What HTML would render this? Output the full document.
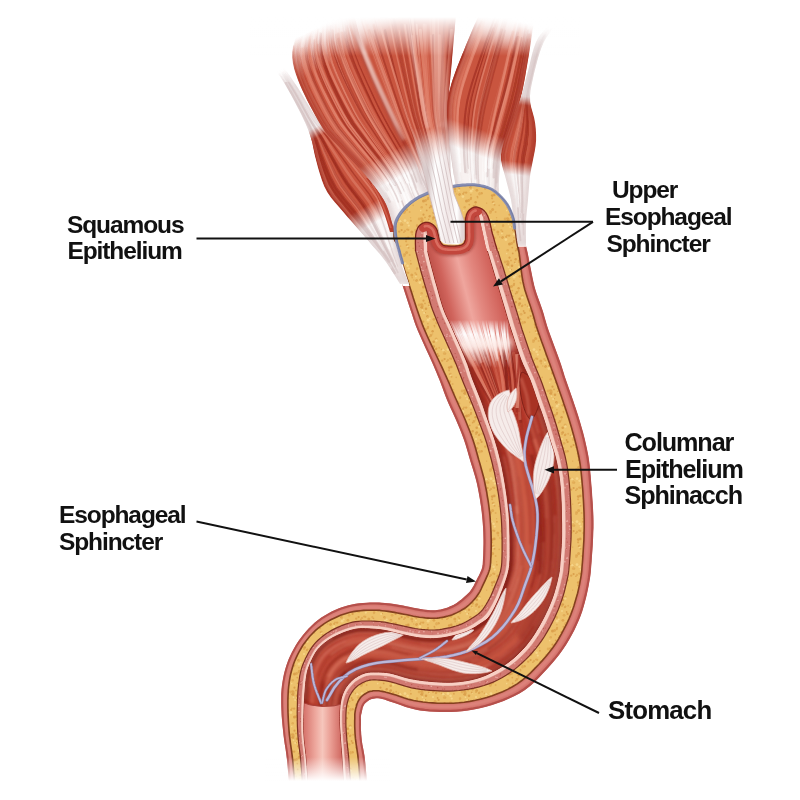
<!DOCTYPE html><html><head><meta charset="utf-8"><title>Esophagus</title><style>html,body{margin:0;padding:0;background:#fff}svg{display:block}</style></head><body><svg width="800" height="800" viewBox="0 0 800 800">
<defs><filter id="b05" filterUnits="userSpaceOnUse" x="0" y="0" width="800" height="800"><feGaussianBlur stdDeviation="0.6"/></filter>
<filter id="b1" filterUnits="userSpaceOnUse" x="0" y="0" width="800" height="800"><feGaussianBlur stdDeviation="1"/></filter>
<filter id="b2" filterUnits="userSpaceOnUse" x="0" y="0" width="800" height="800"><feGaussianBlur stdDeviation="2"/></filter>
<filter id="b3" filterUnits="userSpaceOnUse" x="0" y="0" width="800" height="800"><feGaussianBlur stdDeviation="3.5"/></filter>
<filter id="b6" filterUnits="userSpaceOnUse" x="0" y="0" width="800" height="800"><feGaussianBlur stdDeviation="6"/></filter>
<linearGradient id="fadeBottom" x1="0" y1="757" x2="0" y2="781" gradientUnits="userSpaceOnUse">
<stop offset="0" stop-color="#fff" stop-opacity="0"/><stop offset="1" stop-color="#fff" stop-opacity="1"/></linearGradient>
<clipPath id="lumen"><path d="M425.0 236.0 L425.5 238.7 L425.9 241.3 L426.3 244.0 L426.8 246.8 L427.5 250.0 L428.3 253.6 L429.3 257.6 L430.3 261.7 L431.4 265.9 L432.5 270.0 L433.6 274.0 L434.6 278.0 L435.7 282.0 L436.9 286.0 L438.0 290.0 L439.1 294.0 L440.2 298.0 L441.4 302.0 L442.6 306.0 L444.0 310.0 L445.5 313.8 L447.2 317.5 L449.0 321.3 L450.9 325.4 L453.0 330.0 L455.4 335.5 L458.2 341.8 L461.0 348.2 L463.7 354.5 L466.0 360.0 L467.8 364.6 L469.2 368.7 L470.4 372.5 L471.6 376.2 L473.0 380.0 L474.6 384.0 L476.2 388.0 L477.8 392.0 L479.4 396.0 L481.0 400.0 L482.5 404.0 L483.9 408.0 L485.2 412.0 L486.6 416.0 L488.0 420.0 L489.4 424.0 L490.9 428.0 L492.3 432.0 L493.7 436.0 L495.0 440.0 L496.2 444.0 L497.4 448.0 L498.5 452.0 L499.5 456.0 L500.5 460.0 L501.4 464.0 L502.3 468.0 L503.0 472.0 L503.8 476.0 L504.5 480.0 L505.2 484.0 L505.8 488.0 L506.4 492.0 L507.0 496.0 L507.5 500.0 L508.0 504.0 L508.4 508.0 L508.9 512.0 L509.2 516.0 L509.5 520.0 L509.7 524.0 L509.8 528.0 L509.9 532.0 L510.0 536.0 L510.0 540.0 L510.1 544.1 L510.1 548.4 L510.1 552.6 L510.1 556.5 L510.0 560.0 L509.8 562.9 L509.7 565.3 L509.4 567.4 L509.0 569.6 L508.5 572.0 L507.8 574.6 L507.0 577.3 L506.1 580.1 L505.1 583.0 L504.0 586.0 L502.8 589.3 L501.4 592.7 L500.0 596.3 L498.5 599.7 L497.0 603.0 L495.5 606.1 L493.9 609.2 L492.3 612.0 L490.7 614.7 L489.0 617.0 L487.3 618.8 L485.6 620.3 L483.9 621.5 L482.0 622.7 L480.0 624.0 L477.9 625.4 L475.6 626.9 L473.2 628.3 L470.7 629.7 L468.0 631.0 L465.0 632.2 L461.8 633.3 L458.5 634.3 L455.2 635.2 L452.0 636.0 L449.0 636.7 L446.0 637.3 L443.1 637.8 L440.1 638.2 L437.0 638.5 L433.7 638.6 L430.4 638.7 L427.0 638.6 L423.5 638.3 L420.0 638.0 L416.4 637.5 L412.8 636.8 L409.2 636.1 L405.6 635.3 L402.0 634.5 L398.5 633.7 L395.0 632.8 L391.5 631.9 L388.2 631.1 L385.0 630.5 L382.0 630.0 L379.2 629.6 L376.5 629.4 L373.8 629.2 L371.0 629.0 L368.2 628.8 L365.4 628.7 L362.6 628.6 L359.8 628.7 L357.0 629.0 L354.2 629.5 L351.4 630.2 L348.6 631.0 L345.8 631.9 L343.0 633.0 L340.2 634.2 L337.3 635.5 L334.4 636.9 L331.6 638.4 L329.0 640.0 L326.5 641.7 L324.2 643.5 L322.0 645.4 L319.9 647.4 L318.0 649.5 L316.3 651.8 L314.8 654.3 L313.4 656.9 L312.1 659.5 L311.0 662.0 L310.0 664.3 L309.1 666.5 L308.3 668.8 L307.6 671.2 L307.0 674.0 L306.5 677.2 L306.0 680.6 L305.6 684.3 L305.3 688.1 L305.0 692.0 L304.7 696.0 L304.5 700.1 L304.3 704.4 L304.1 708.7 L304.0 713.0 L303.9 717.3 L303.8 721.6 L303.8 725.9 L303.8 730.4 L304.0 735.0 L304.3 739.6 L304.8 744.3 L305.4 749.1 L306.0 754.3 L306.5 760.0 L307.0 766.4 L307.5 773.3 L308.0 780.5 L308.5 787.8 L309.0 795.0 L344.0 795.0 L343.6 787.8 L343.2 780.3 L342.8 772.9 L342.4 766.0 L342.0 760.0 L341.7 755.0 L341.3 750.7 L341.0 747.0 L340.8 743.5 L340.5 740.0 L340.3 736.5 L340.0 733.1 L339.8 729.9 L339.6 726.9 L339.5 724.0 L339.4 721.3 L339.4 718.8 L339.4 716.5 L339.4 714.2 L339.5 712.0 L339.6 709.9 L339.8 707.8 L339.9 705.8 L340.2 703.9 L340.5 702.0 L340.9 700.1 L341.3 698.2 L341.8 696.4 L342.4 694.7 L343.0 693.0 L343.7 691.5 L344.4 690.0 L345.2 688.7 L346.0 687.3 L347.0 686.0 L348.1 684.6 L349.2 683.3 L350.4 681.9 L351.7 680.7 L353.0 679.5 L354.3 678.4 L355.7 677.5 L357.2 676.6 L358.6 675.7 L360.0 675.0 L361.4 674.3 L362.7 673.8 L364.1 673.3 L365.5 672.8 L367.0 672.5 L368.6 672.2 L370.2 672.1 L371.9 672.0 L373.8 672.0 L376.0 672.0 L378.4 672.0 L381.0 672.1 L383.7 672.2 L386.7 672.5 L390.0 673.0 L393.6 673.9 L397.5 675.0 L401.6 676.3 L405.8 677.5 L410.0 678.5 L414.3 679.3 L418.6 680.0 L423.0 680.6 L427.5 681.1 L432.0 681.5 L436.5 681.8 L441.1 682.1 L445.8 682.2 L450.4 682.2 L455.0 682.0 L459.6 681.6 L464.3 681.0 L469.0 680.2 L473.6 679.2 L478.0 678.0 L482.2 676.6 L486.3 675.0 L490.3 673.1 L494.2 671.1 L498.0 669.0 L501.8 666.7 L505.5 664.3 L509.1 661.7 L512.6 658.9 L516.0 656.0 L519.2 652.9 L522.3 649.7 L525.3 646.4 L528.2 642.8 L531.0 639.0 L533.8 634.9 L536.5 630.5 L539.2 626.0 L541.7 621.4 L544.0 617.0 L546.1 612.7 L548.1 608.5 L549.8 604.4 L551.5 600.2 L553.0 596.0 L554.4 591.7 L555.6 587.2 L556.8 582.8 L557.7 578.7 L558.5 575.0 L559.1 572.0 L559.4 569.7 L559.6 567.5 L559.8 565.0 L560.0 562.0 L560.3 558.1 L560.7 553.8 L561.0 549.1 L561.3 544.4 L561.5 540.0 L561.6 535.9 L561.6 531.9 L561.6 527.9 L561.6 524.0 L561.5 520.0 L561.4 516.0 L561.4 512.0 L561.3 508.0 L561.2 504.0 L561.0 500.0 L560.8 496.0 L560.6 492.0 L560.3 488.0 L559.9 484.0 L559.5 480.0 L559.0 476.0 L558.4 472.0 L557.7 468.0 L556.9 464.0 L556.0 460.0 L555.0 456.0 L553.8 452.0 L552.5 448.0 L551.2 444.0 L550.0 440.0 L548.8 436.0 L547.6 432.0 L546.5 428.0 L545.3 424.0 L544.0 420.0 L542.7 416.0 L541.3 412.0 L539.8 408.0 L538.4 404.0 L537.0 400.0 L535.6 396.0 L534.3 392.0 L532.9 388.0 L531.5 384.0 L530.0 380.0 L528.3 376.2 L526.6 372.5 L524.8 368.7 L522.9 364.6 L521.0 360.0 L519.0 354.5 L516.9 348.2 L514.8 341.8 L512.8 335.5 L511.0 330.0 L509.5 325.4 L508.3 321.3 L507.2 317.5 L506.1 313.8 L505.0 310.0 L503.8 306.0 L502.6 302.0 L501.4 298.0 L500.2 294.0 L499.0 290.0 L497.8 286.0 L496.6 282.0 L495.4 278.0 L494.2 274.0 L493.0 270.0 L491.8 265.9 L490.5 261.7 L489.3 257.6 L488.1 253.6 L487.0 250.0 L486.1 246.8 L485.3 244.0 L484.5 241.3 L483.8 238.7 L483.0 236.0Z"/></clipPath><clipPath id="tubeclip"><path d="M389.0 236.0 L389.6 238.7 L390.1 241.3 L390.6 244.0 L391.2 246.8 L392.0 250.0 L392.9 253.6 L394.0 257.6 L395.1 261.7 L396.3 265.9 L397.5 270.0 L398.7 274.0 L400.0 278.0 L401.4 282.0 L402.7 286.0 L404.0 290.0 L405.3 294.0 L406.6 298.0 L407.9 302.0 L409.2 306.0 L410.5 310.0 L411.8 313.8 L413.0 317.5 L414.2 321.3 L415.7 325.4 L417.5 330.0 L419.9 335.5 L422.7 341.8 L425.6 348.2 L428.5 354.5 L431.0 360.0 L433.0 364.6 L434.8 368.7 L436.4 372.5 L437.9 376.2 L439.5 380.0 L441.0 384.0 L442.5 388.0 L443.9 392.0 L445.4 396.0 L447.0 400.0 L448.7 404.0 L450.5 408.0 L452.4 412.0 L454.2 416.0 L456.0 420.0 L457.7 424.0 L459.4 428.0 L461.0 432.0 L462.5 436.0 L464.0 440.0 L465.3 444.0 L466.5 448.0 L467.7 452.0 L468.8 456.0 L470.0 460.0 L471.2 464.0 L472.5 468.0 L473.7 472.0 L474.9 476.0 L476.0 480.0 L477.0 484.0 L477.8 488.0 L478.6 492.0 L479.3 496.0 L480.0 500.0 L480.6 504.0 L481.2 508.0 L481.7 512.0 L482.1 516.0 L482.5 520.0 L482.8 524.0 L483.1 528.1 L483.3 532.1 L483.4 536.1 L483.5 540.0 L483.5 543.9 L483.4 547.7 L483.3 551.5 L483.2 554.9 L483.0 558.0 L482.9 560.5 L482.8 562.6 L482.7 564.4 L482.4 566.1 L482.0 568.0 L481.4 570.0 L480.5 571.9 L479.6 573.9 L478.6 575.9 L477.5 578.0 L476.4 580.3 L475.1 582.8 L473.8 585.4 L472.4 587.8 L471.0 590.0 L469.5 591.9 L467.9 593.6 L466.3 595.1 L464.6 596.6 L463.0 598.0 L461.4 599.4 L459.8 600.6 L458.3 601.8 L456.7 603.0 L455.0 604.0 L453.3 605.0 L451.5 605.8 L449.6 606.6 L447.8 607.4 L446.0 608.0 L444.2 608.6 L442.4 609.0 L440.6 609.4 L438.8 609.8 L437.0 610.0 L435.3 610.2 L433.6 610.2 L431.9 610.2 L430.1 610.2 L428.0 610.0 L425.7 609.7 L423.2 609.4 L420.5 609.0 L417.8 608.5 L415.0 608.0 L412.1 607.4 L409.1 606.8 L406.1 606.2 L403.0 605.6 L400.0 605.0 L397.0 604.5 L394.0 604.1 L391.0 603.6 L388.0 603.3 L385.0 603.0 L382.0 602.8 L379.1 602.6 L376.2 602.4 L373.2 602.4 L370.0 602.5 L366.6 602.7 L363.0 603.0 L359.3 603.3 L355.6 603.8 L352.0 604.5 L348.5 605.3 L345.1 606.2 L341.8 607.3 L338.4 608.6 L335.0 610.0 L331.6 611.6 L328.1 613.4 L324.7 615.4 L321.3 617.6 L318.0 620.0 L314.8 622.6 L311.7 625.5 L308.6 628.6 L305.7 631.8 L303.0 635.0 L300.5 638.3 L298.1 641.6 L295.9 645.0 L293.9 648.5 L292.0 652.0 L290.3 655.5 L288.7 659.0 L287.4 662.6 L286.1 666.3 L285.0 670.0 L284.0 673.8 L283.2 677.8 L282.5 681.8 L281.9 685.8 L281.5 690.0 L281.2 694.3 L281.2 698.6 L281.2 703.0 L281.3 707.5 L281.5 712.0 L281.7 716.5 L282.1 721.0 L282.5 725.6 L283.0 730.3 L283.5 735.0 L284.1 739.7 L284.8 744.4 L285.6 749.2 L286.3 754.3 L287.0 760.0 L287.6 766.4 L288.2 773.3 L288.8 780.5 L289.4 787.8 L290.0 795.0 L368.0 795.0 L367.4 787.7 L366.8 780.2 L366.2 772.8 L365.6 765.9 L365.0 760.0 L364.4 755.2 L363.7 751.3 L363.1 748.0 L362.5 744.9 L362.0 742.0 L361.7 739.2 L361.4 736.6 L361.2 734.2 L361.1 732.0 L361.0 730.0 L360.9 728.1 L360.9 726.4 L361.0 724.9 L361.0 723.4 L361.0 722.0 L361.0 720.7 L361.0 719.4 L360.9 718.2 L360.9 717.1 L361.0 716.0 L361.1 714.9 L361.3 713.9 L361.6 712.9 L361.8 711.9 L362.0 711.0 L362.2 710.1 L362.4 709.3 L362.5 708.5 L362.7 707.8 L363.0 707.0 L363.3 706.3 L363.7 705.5 L364.1 704.8 L364.5 704.1 L365.0 703.5 L365.5 702.9 L366.1 702.4 L366.7 701.9 L367.3 701.5 L368.0 701.0 L368.7 700.5 L369.3 700.1 L370.1 699.7 L370.9 699.3 L372.0 699.0 L373.3 698.7 L374.7 698.5 L376.2 698.3 L378.0 698.3 L380.0 698.5 L382.1 699.0 L384.4 699.6 L386.9 700.5 L389.7 701.4 L393.0 702.5 L396.8 703.8 L401.0 705.3 L405.6 706.9 L410.3 708.3 L415.0 709.5 L419.8 710.4 L424.6 711.0 L429.6 711.5 L434.8 711.8 L440.0 712.0 L445.4 712.1 L450.9 712.0 L456.5 711.7 L462.2 711.2 L468.0 710.5 L473.9 709.5 L480.0 708.2 L486.1 706.7 L492.2 704.9 L498.0 703.0 L503.7 700.9 L509.2 698.6 L514.6 696.1 L519.9 693.3 L525.0 690.0 L529.9 686.2 L534.7 681.9 L539.4 677.3 L543.8 672.6 L548.0 668.0 L552.0 663.5 L555.8 659.0 L559.4 654.4 L562.8 649.7 L566.0 645.0 L569.0 640.1 L571.8 635.0 L574.5 629.9 L576.9 624.8 L579.0 620.0 L580.8 615.4 L582.4 610.9 L583.7 606.5 L584.9 602.2 L586.0 598.0 L587.0 593.8 L587.9 589.6 L588.7 585.5 L589.4 581.6 L590.0 578.0 L590.5 574.8 L590.8 572.0 L591.0 569.3 L591.2 566.4 L591.5 563.0 L591.8 558.9 L592.1 554.2 L592.5 549.4 L592.8 544.5 L593.0 540.0 L593.2 535.8 L593.3 531.8 L593.5 527.9 L593.5 524.0 L593.5 520.0 L593.4 516.0 L593.2 512.0 L593.0 508.0 L592.8 504.0 L592.5 500.0 L592.2 496.0 L592.0 492.0 L591.7 488.0 L591.3 484.0 L591.0 480.0 L590.7 476.0 L590.3 472.0 L590.0 468.0 L589.5 464.0 L589.0 460.0 L588.4 456.0 L587.6 452.0 L586.8 448.0 L585.9 444.0 L585.0 440.0 L584.0 436.0 L583.0 432.0 L581.8 428.0 L580.7 424.0 L579.5 420.0 L578.3 416.0 L577.0 412.0 L575.7 408.0 L574.3 404.0 L573.0 400.0 L571.6 396.0 L570.2 392.0 L568.8 388.0 L567.4 384.0 L566.0 380.0 L564.7 376.2 L563.6 372.5 L562.4 368.7 L561.1 364.6 L559.5 360.0 L557.5 354.5 L555.2 348.2 L552.8 341.8 L550.5 335.5 L548.5 330.0 L547.0 325.4 L545.8 321.3 L544.7 317.5 L543.7 313.8 L542.5 310.0 L541.1 306.0 L539.7 302.0 L538.2 298.0 L536.8 294.0 L535.5 290.0 L534.4 286.0 L533.5 282.0 L532.6 278.0 L531.8 274.0 L531.0 270.0 L530.2 265.9 L529.4 261.7 L528.6 257.6 L527.8 253.6 L527.0 250.0 L526.2 246.8 L525.4 244.0 L524.6 241.3 L523.8 238.7 L523.0 236.0Z"/></clipPath>
<pattern id="pYel" width="43" height="43" patternUnits="userSpaceOnUse"><rect width="43" height="43" fill="#edc16c"/><circle cx="13.9" cy="6.5" r="1.2" fill="#dfa650"/><circle cx="35.3" cy="4.0" r="1.2" fill="#e0a852"/><circle cx="9.2" cy="3.7" r="1.0" fill="#e3ae58"/><circle cx="3.9" cy="18.3" r="1.4" fill="#dfa650"/><circle cx="40.7" cy="27.1" r="1.2" fill="#dfa650"/><circle cx="24.8" cy="17.1" r="1.5" fill="#dfa650"/><circle cx="23.9" cy="5.7" r="1.0" fill="#e0a852"/><circle cx="5.1" cy="13.3" r="1.4" fill="#e3ae58"/><circle cx="4.4" cy="24.6" r="0.9" fill="#dfa650"/><circle cx="23.6" cy="2.7" r="0.7" fill="#e3ae58"/><circle cx="21.3" cy="22.9" r="1.3" fill="#dba04c"/><circle cx="25.2" cy="19.5" r="0.9" fill="#e3ae58"/><circle cx="30.1" cy="10.5" r="1.2" fill="#e0a852"/><circle cx="21.3" cy="14.8" r="1.1" fill="#e0a852"/><circle cx="42.1" cy="5.1" r="1.0" fill="#f6d588"/><circle cx="-0.9" cy="5.1" r="1.0" fill="#f6d588"/><circle cx="6.5" cy="21.0" r="0.7" fill="#dfa650"/><circle cx="32.9" cy="24.6" r="1.4" fill="#f6d588"/><circle cx="14.6" cy="15.1" r="1.1" fill="#dba04c"/><circle cx="3.0" cy="4.0" r="0.9" fill="#dfa650"/><circle cx="2.6" cy="30.2" r="1.2" fill="#dba04c"/><circle cx="12.2" cy="16.6" r="1.2" fill="#dfa650"/><circle cx="40.4" cy="15.3" r="1.2" fill="#dba04c"/><circle cx="2.5" cy="33.0" r="0.8" fill="#e3ae58"/><circle cx="17.1" cy="39.4" r="1.1" fill="#e3ae58"/><circle cx="19.3" cy="23.6" r="1.4" fill="#dba04c"/><circle cx="37.2" cy="12.0" r="1.0" fill="#f6d588"/><circle cx="29.4" cy="16.4" r="0.9" fill="#dfa650"/><circle cx="7.6" cy="10.0" r="0.9" fill="#dba04c"/><circle cx="35.7" cy="7.8" r="0.9" fill="#e3ae58"/><circle cx="18.0" cy="15.9" r="1.2" fill="#e3ae58"/><circle cx="29.7" cy="22.2" r="1.2" fill="#dfa650"/><circle cx="19.6" cy="37.5" r="1.5" fill="#e0a852"/><circle cx="16.9" cy="17.2" r="0.8" fill="#dba04c"/><circle cx="2.7" cy="2.9" r="0.9" fill="#e3ae58"/><circle cx="4.7" cy="25.8" r="0.8" fill="#e0a852"/><circle cx="6.5" cy="4.4" r="1.0" fill="#dfa650"/><circle cx="3.0" cy="8.9" r="1.0" fill="#f6d588"/><circle cx="41.1" cy="25.9" r="1.1" fill="#dfa650"/><circle cx="36.5" cy="42.7" r="1.1" fill="#dba04c"/><circle cx="36.5" cy="-0.3" r="1.1" fill="#dba04c"/><circle cx="13.4" cy="6.2" r="1.3" fill="#f6d588"/><circle cx="20.6" cy="29.8" r="1.1" fill="#e3ae58"/><circle cx="40.9" cy="22.7" r="0.8" fill="#e0a852"/><circle cx="39.3" cy="32.6" r="0.9" fill="#dfa650"/><circle cx="29.9" cy="11.2" r="1.0" fill="#e3ae58"/><circle cx="15.3" cy="9.6" r="1.1" fill="#e0a852"/><circle cx="14.2" cy="9.6" r="1.3" fill="#e3ae58"/><circle cx="34.7" cy="35.2" r="1.3" fill="#e3ae58"/><circle cx="8.6" cy="21.2" r="1.3" fill="#dfa650"/><circle cx="34.0" cy="20.3" r="0.9" fill="#e0a852"/><circle cx="41.1" cy="19.2" r="1.4" fill="#f6d588"/><circle cx="41.1" cy="15.7" r="0.9" fill="#e3ae58"/><circle cx="20.2" cy="14.5" r="1.1" fill="#e0a852"/><circle cx="36.1" cy="20.6" r="1.2" fill="#dfa650"/><circle cx="35.9" cy="5.2" r="1.0" fill="#e3ae58"/><circle cx="20.6" cy="7.7" r="1.3" fill="#f6d588"/><circle cx="3.7" cy="40.7" r="1.3" fill="#dba04c"/><circle cx="17.3" cy="40.7" r="1.3" fill="#e3ae58"/><circle cx="42.7" cy="1.2" r="1.2" fill="#dba04c"/><circle cx="-0.3" cy="1.2" r="1.2" fill="#dba04c"/><circle cx="34.7" cy="6.3" r="1.4" fill="#dba04c"/><circle cx="28.3" cy="15.1" r="1.1" fill="#e3ae58"/><circle cx="0.9" cy="34.4" r="1.3" fill="#dfa650"/><circle cx="43.9" cy="34.4" r="1.3" fill="#dfa650"/><circle cx="22.6" cy="40.1" r="1.0" fill="#e3ae58"/><circle cx="35.5" cy="9.1" r="0.9" fill="#f6d588"/><circle cx="21.5" cy="32.8" r="1.0" fill="#e0a852"/><circle cx="18.0" cy="5.6" r="1.4" fill="#f6d588"/><circle cx="38.6" cy="28.5" r="1.4" fill="#e0a852"/><circle cx="18.1" cy="39.5" r="1.1" fill="#e0a852"/><circle cx="6.5" cy="22.0" r="1.4" fill="#e3ae58"/><circle cx="26.2" cy="33.4" r="0.8" fill="#e3ae58"/><circle cx="20.4" cy="31.2" r="1.1" fill="#f6d588"/><circle cx="29.3" cy="22.8" r="1.1" fill="#dfa650"/><circle cx="38.0" cy="2.4" r="0.9" fill="#dfa650"/><circle cx="33.2" cy="21.8" r="1.1" fill="#dfa650"/><circle cx="19.1" cy="26.3" r="1.1" fill="#e0a852"/><circle cx="8.6" cy="11.9" r="1.1" fill="#dba04c"/><circle cx="21.8" cy="10.6" r="1.1" fill="#f6d588"/><circle cx="39.7" cy="38.4" r="0.9" fill="#dba04c"/><circle cx="5.9" cy="5.2" r="1.1" fill="#dfa650"/><circle cx="28.9" cy="18.4" r="0.9" fill="#f6d588"/><circle cx="33.7" cy="38.6" r="0.8" fill="#f6d588"/><circle cx="6.1" cy="38.0" r="1.5" fill="#e3ae58"/><circle cx="32.1" cy="4.0" r="1.4" fill="#e3ae58"/><circle cx="42.6" cy="35.8" r="0.8" fill="#dba04c"/><circle cx="-0.4" cy="35.8" r="0.8" fill="#dba04c"/><circle cx="42.7" cy="17.4" r="1.0" fill="#f6d588"/><circle cx="-0.3" cy="17.4" r="1.0" fill="#f6d588"/><circle cx="13.7" cy="31.1" r="0.7" fill="#e0a852"/><circle cx="19.7" cy="30.2" r="1.0" fill="#e0a852"/><circle cx="26.8" cy="22.0" r="0.8" fill="#e3ae58"/><circle cx="41.8" cy="4.5" r="0.9" fill="#dfa650"/><circle cx="39.0" cy="7.8" r="1.3" fill="#dba04c"/><circle cx="36.5" cy="29.1" r="1.5" fill="#dba04c"/><circle cx="6.4" cy="39.5" r="1.2" fill="#f6d588"/><circle cx="3.8" cy="2.5" r="1.3" fill="#dba04c"/><circle cx="38.5" cy="11.6" r="0.7" fill="#dfa650"/><circle cx="34.5" cy="3.6" r="1.4" fill="#dfa650"/><circle cx="11.4" cy="5.2" r="0.7" fill="#e0a852"/></pattern>
<pattern id="pTex" width="37" height="37" patternUnits="userSpaceOnUse"><rect width="37" height="37" fill="#d27a72"/><circle cx="15.5" cy="33.9" r="0.7" fill="#e8a8a0"/><circle cx="19.5" cy="8.8" r="0.5" fill="#bc5850"/><circle cx="9.7" cy="6.7" r="0.9" fill="#eab0a8"/><circle cx="19.7" cy="7.6" r="0.6" fill="#bc5850"/><circle cx="10.0" cy="29.7" r="0.9" fill="#e8a8a0"/><circle cx="0.6" cy="27.1" r="0.7" fill="#bc5850"/><circle cx="37.6" cy="27.1" r="0.7" fill="#bc5850"/><circle cx="19.0" cy="9.1" r="0.6" fill="#c4625a"/><circle cx="24.3" cy="20.2" r="0.8" fill="#eab0a8"/><circle cx="25.4" cy="36.4" r="0.6" fill="#bc5850"/><circle cx="15.0" cy="12.9" r="0.4" fill="#bc5850"/><circle cx="0.5" cy="23.1" r="0.8" fill="#c4625a"/><circle cx="37.5" cy="23.1" r="0.8" fill="#c4625a"/><circle cx="6.0" cy="3.1" r="0.8" fill="#eab0a8"/><circle cx="22.2" cy="25.6" r="0.4" fill="#bc5850"/><circle cx="5.8" cy="16.5" r="0.5" fill="#eab0a8"/><circle cx="36.0" cy="20.2" r="0.5" fill="#eab0a8"/><circle cx="8.1" cy="6.8" r="0.6" fill="#e8a8a0"/><circle cx="17.6" cy="18.6" r="0.5" fill="#e8a8a0"/><circle cx="3.4" cy="30.2" r="0.5" fill="#e8a8a0"/><circle cx="14.6" cy="11.1" r="0.7" fill="#e8a8a0"/><circle cx="21.7" cy="19.6" r="0.8" fill="#c4625a"/><circle cx="28.3" cy="26.7" r="0.6" fill="#eab0a8"/><circle cx="26.8" cy="23.8" r="0.4" fill="#c4625a"/><circle cx="27.2" cy="30.1" r="0.5" fill="#e8a8a0"/><circle cx="30.6" cy="21.6" r="0.8" fill="#bc5850"/><circle cx="3.1" cy="1.5" r="0.7" fill="#e8a8a0"/><circle cx="13.9" cy="16.7" r="0.4" fill="#e8a8a0"/><circle cx="23.2" cy="25.2" r="0.6" fill="#e8a8a0"/><circle cx="16.9" cy="2.6" r="0.9" fill="#e8a8a0"/><circle cx="24.4" cy="2.4" r="0.8" fill="#eab0a8"/><circle cx="29.9" cy="31.3" r="0.5" fill="#bc5850"/><circle cx="8.5" cy="24.0" r="0.6" fill="#c4625a"/><circle cx="2.8" cy="33.7" r="0.5" fill="#e8a8a0"/><circle cx="22.8" cy="23.8" r="0.4" fill="#bc5850"/><circle cx="12.3" cy="24.1" r="0.7" fill="#bc5850"/><circle cx="0.5" cy="2.2" r="0.5" fill="#e8a8a0"/><circle cx="37.5" cy="2.2" r="0.5" fill="#e8a8a0"/><circle cx="25.6" cy="25.0" r="0.5" fill="#eab0a8"/><circle cx="17.2" cy="17.3" r="0.5" fill="#bc5850"/><circle cx="11.5" cy="3.2" r="0.6" fill="#eab0a8"/><circle cx="17.0" cy="30.3" r="0.9" fill="#c4625a"/><circle cx="36.8" cy="14.3" r="0.9" fill="#bc5850"/><circle cx="-0.2" cy="14.3" r="0.9" fill="#bc5850"/><circle cx="2.8" cy="3.3" r="0.8" fill="#eab0a8"/><circle cx="35.3" cy="4.9" r="0.8" fill="#eab0a8"/><circle cx="32.8" cy="26.0" r="0.5" fill="#c4625a"/><circle cx="14.6" cy="5.9" r="0.9" fill="#c4625a"/><circle cx="15.0" cy="26.9" r="0.6" fill="#c4625a"/><circle cx="11.7" cy="31.1" r="0.4" fill="#eab0a8"/><circle cx="31.0" cy="4.4" r="0.9" fill="#e8a8a0"/><circle cx="33.4" cy="10.7" r="0.6" fill="#c4625a"/><circle cx="14.4" cy="32.2" r="0.4" fill="#c4625a"/><circle cx="28.0" cy="31.6" r="0.5" fill="#e8a8a0"/><circle cx="30.9" cy="10.6" r="0.9" fill="#bc5850"/><circle cx="35.9" cy="16.1" r="0.6" fill="#eab0a8"/><circle cx="29.1" cy="15.8" r="0.4" fill="#c4625a"/><circle cx="33.8" cy="34.8" r="0.7" fill="#e8a8a0"/><circle cx="1.8" cy="27.1" r="0.6" fill="#bc5850"/><circle cx="23.8" cy="10.6" r="0.4" fill="#bc5850"/><circle cx="6.3" cy="15.4" r="0.5" fill="#eab0a8"/><circle cx="27.3" cy="36.1" r="0.5" fill="#bc5850"/><circle cx="11.1" cy="20.6" r="0.6" fill="#bc5850"/><circle cx="23.8" cy="2.8" r="0.7" fill="#c4625a"/><circle cx="20.4" cy="16.8" r="0.6" fill="#c4625a"/><circle cx="15.8" cy="20.3" r="0.5" fill="#bc5850"/><circle cx="12.7" cy="3.4" r="0.5" fill="#eab0a8"/><circle cx="29.9" cy="7.5" r="0.4" fill="#c4625a"/><circle cx="14.2" cy="27.6" r="0.5" fill="#eab0a8"/><circle cx="12.5" cy="2.3" r="0.5" fill="#eab0a8"/><circle cx="4.7" cy="18.6" r="0.7" fill="#bc5850"/><circle cx="3.4" cy="33.2" r="0.6" fill="#c4625a"/><circle cx="16.0" cy="11.5" r="0.8" fill="#e8a8a0"/><circle cx="4.7" cy="15.7" r="0.8" fill="#c4625a"/><circle cx="35.8" cy="18.1" r="0.4" fill="#c4625a"/><circle cx="36.0" cy="9.2" r="0.5" fill="#bc5850"/><circle cx="5.6" cy="36.0" r="0.5" fill="#c4625a"/><circle cx="3.1" cy="28.7" r="0.4" fill="#bc5850"/><circle cx="8.6" cy="34.0" r="0.7" fill="#eab0a8"/><circle cx="35.6" cy="23.2" r="0.7" fill="#c4625a"/><circle cx="25.8" cy="4.1" r="0.4" fill="#bc5850"/><circle cx="14.4" cy="8.3" r="0.7" fill="#e8a8a0"/><circle cx="19.9" cy="36.9" r="0.5" fill="#eab0a8"/><circle cx="19.9" cy="-0.1" r="0.5" fill="#eab0a8"/><circle cx="23.8" cy="32.7" r="0.6" fill="#bc5850"/><circle cx="20.2" cy="1.1" r="0.6" fill="#eab0a8"/><circle cx="2.0" cy="7.2" r="0.8" fill="#c4625a"/><circle cx="3.0" cy="8.4" r="0.6" fill="#eab0a8"/><circle cx="8.4" cy="1.3" r="0.6" fill="#c4625a"/><circle cx="13.4" cy="14.7" r="0.4" fill="#eab0a8"/><circle cx="27.3" cy="18.7" r="0.5" fill="#bc5850"/><circle cx="11.5" cy="30.3" r="0.5" fill="#bc5850"/><circle cx="9.8" cy="32.9" r="0.5" fill="#c4625a"/><circle cx="22.6" cy="33.2" r="0.6" fill="#e8a8a0"/><circle cx="35.1" cy="5.4" r="0.6" fill="#bc5850"/></pattern>
<linearGradient id="lumTop" x1="430" y1="280" x2="500" y2="262" gradientUnits="userSpaceOnUse">
<stop offset="0" stop-color="#b64840"/><stop offset="0.18" stop-color="#d0645c"/><stop offset="0.44" stop-color="#efa69e"/><stop offset="0.6" stop-color="#e38880"/><stop offset="0.85" stop-color="#d2645c"/><stop offset="1" stop-color="#c04e46"/></linearGradient>
<linearGradient id="lumTopFade" x1="0" y1="306" x2="0" y2="358" gradientUnits="userSpaceOnUse">
<stop offset="0" stop-color="#fff" stop-opacity="1"/><stop offset="0.45" stop-color="#fff" stop-opacity="1"/><stop offset="1" stop-color="#fff" stop-opacity="0"/></linearGradient>
<mask id="mTop"><rect x="380" y="200" width="200" height="160" fill="url(#lumTopFade)"/></mask>
<linearGradient id="gWf" x1="0" y1="320" x2="0" y2="368" gradientUnits="userSpaceOnUse"><stop offset="0" stop-color="#fff" stop-opacity="0"/><stop offset="0.3" stop-color="#fff" stop-opacity="0.95"/><stop offset="0.5" stop-color="#fdeeea" stop-opacity="0.85"/><stop offset="1" stop-color="#f6d6d0" stop-opacity="0"/></linearGradient>
<linearGradient id="lumBot" x1="304" y1="0" x2="341" y2="0" gradientUnits="userSpaceOnUse">
<stop offset="0" stop-color="#d6746c"/><stop offset="0.3" stop-color="#eda69c"/><stop offset="0.5" stop-color="#f6c6bc"/><stop offset="0.72" stop-color="#ea9e94"/><stop offset="1" stop-color="#d26c64"/></linearGradient>
<linearGradient id="gA_mid" gradientUnits="userSpaceOnUse" x1="285.0" y1="70.0" x2="400.0" y2="280.0"><stop offset="0.00" stop-color="#f8f2f1" stop-opacity="0"/><stop offset="0.08" stop-color="#f8f2f1"/><stop offset="0.27" stop-color="#f8f2f1"/><stop offset="0.31" stop-color="#c9553f"/><stop offset="0.66" stop-color="#c9553f"/><stop offset="0.74" stop-color="#f8f2f1"/><stop offset="1.00" stop-color="#f8f2f1"/></linearGradient>
<linearGradient id="gA_dark" gradientUnits="userSpaceOnUse" x1="285.0" y1="70.0" x2="400.0" y2="280.0"><stop offset="0.00" stop-color="#d6c4c4" stop-opacity="0"/><stop offset="0.08" stop-color="#d6c4c4"/><stop offset="0.27" stop-color="#d6c4c4"/><stop offset="0.31" stop-color="#a02e20"/><stop offset="0.66" stop-color="#a02e20"/><stop offset="0.74" stop-color="#d6c4c4"/><stop offset="1.00" stop-color="#d6c4c4"/></linearGradient>
<linearGradient id="gA_lite" gradientUnits="userSpaceOnUse" x1="285.0" y1="70.0" x2="400.0" y2="280.0"><stop offset="0.00" stop-color="#ffffff" stop-opacity="0"/><stop offset="0.08" stop-color="#ffffff"/><stop offset="0.27" stop-color="#ffffff"/><stop offset="0.31" stop-color="#e58a74"/><stop offset="0.66" stop-color="#e58a74"/><stop offset="0.74" stop-color="#ffffff"/><stop offset="1.00" stop-color="#ffffff"/></linearGradient>
<clipPath id="cA"><path d="M270.0 62.0 L273.7 67.4 L277.4 72.7 L281.1 78.1 L284.6 83.6 L287.9 89.2 L291.1 94.9 L294.2 100.7 L297.2 106.4 L300.2 112.3 L303.0 118.1 L305.8 124.0 L308.3 130.0 L310.4 136.2 L312.2 142.5 L313.5 148.9 L314.8 155.3 L316.4 161.6 L318.1 167.9 L319.9 174.1 L321.9 180.3 L324.3 186.4 L327.3 192.2 L330.9 197.6 L335.0 202.6 L339.4 207.5 L343.7 212.4 L347.9 217.4 L352.2 222.3 L356.5 227.2 L360.8 232.1 L365.1 237.0 L369.4 241.9 L373.6 246.9 L377.9 251.8 L382.0 256.8 L386.0 262.0 L389.7 267.4 L393.2 272.9 L396.6 278.4 L400.0 284.0 L409.0 284.0 L406.5 277.8 L404.0 271.7 L401.8 265.4 L400.0 258.9 L398.5 252.5 L397.2 245.9 L396.2 239.4 L395.4 232.7 L394.7 226.1 L393.6 219.5 L392.7 212.9 L391.6 206.4 L389.7 200.0 L386.9 194.0 L383.5 188.2 L379.7 182.8 L375.6 177.5 L371.4 172.3 L367.1 167.3 L362.7 162.3 L358.1 157.5 L353.4 152.7 L348.7 148.0 L343.9 143.4 L339.1 138.8 L334.3 134.2 L329.4 129.6 L324.0 125.8 L319.1 121.3 L315.1 115.9 L311.5 110.3 L308.1 104.6 L304.7 98.9 L301.3 93.2 L297.7 87.6 L294.0 82.0 L290.3 76.5 L286.5 71.0 L282.8 65.5 L279.0 60.0Z"/></clipPath>
<linearGradient id="gC_mid" gradientUnits="userSpaceOnUse" x1="360.0" y1="10.0" x2="504.0" y2="203.0"><stop offset="0.00" stop-color="#c9553f" stop-opacity="0"/><stop offset="0.14" stop-color="#c9553f"/><stop offset="0.57" stop-color="#c9553f"/><stop offset="0.70" stop-color="#f8f2f1"/><stop offset="1.00" stop-color="#f8f2f1"/></linearGradient>
<linearGradient id="gC_dark" gradientUnits="userSpaceOnUse" x1="360.0" y1="10.0" x2="504.0" y2="203.0"><stop offset="0.00" stop-color="#a02e20" stop-opacity="0"/><stop offset="0.14" stop-color="#a02e20"/><stop offset="0.57" stop-color="#a02e20"/><stop offset="0.70" stop-color="#d6c4c4"/><stop offset="1.00" stop-color="#d6c4c4"/></linearGradient>
<linearGradient id="gC_lite" gradientUnits="userSpaceOnUse" x1="360.0" y1="10.0" x2="504.0" y2="203.0"><stop offset="0.00" stop-color="#e58a74" stop-opacity="0"/><stop offset="0.14" stop-color="#e58a74"/><stop offset="0.57" stop-color="#e58a74"/><stop offset="0.70" stop-color="#ffffff"/><stop offset="1.00" stop-color="#ffffff"/></linearGradient>
<clipPath id="cC"><path d="M344.0 14.0 L346.1 19.5 L348.2 24.9 L350.2 30.4 L352.3 35.9 L354.5 41.4 L356.7 46.8 L358.9 52.2 L361.3 57.6 L363.6 62.9 L366.1 68.3 L368.5 73.6 L370.9 78.9 L373.4 84.2 L375.8 89.6 L378.2 94.9 L380.6 100.2 L383.0 105.6 L385.4 110.9 L387.9 116.3 L390.3 121.6 L392.9 126.8 L395.5 132.1 L398.1 137.3 L400.8 142.5 L403.5 147.7 L406.2 152.9 L409.0 158.1 L411.8 163.2 L414.7 168.3 L417.8 173.3 L420.7 178.4 L423.3 183.6 L425.7 189.0 L428.0 194.4 L430.1 199.8 L432.1 205.3 L433.8 210.9 L435.3 216.6 L436.6 222.3 L438.0 228.0 L463.0 228.0 L462.8 222.6 L462.4 217.2 L461.0 212.0 L458.9 207.0 L456.7 202.1 L454.9 197.0 L453.1 191.9 L451.8 186.6 L451.0 181.3 L450.7 175.9 L450.5 170.5 L450.4 165.1 L450.3 159.6 L450.3 154.2 L450.2 148.8 L450.1 143.4 L449.9 138.0 L449.5 132.6 L448.9 127.2 L448.3 121.9 L448.0 116.5 L448.0 111.0 L448.2 105.6 L448.5 100.2 L448.9 94.8 L449.3 89.4 L449.8 84.1 L450.3 78.7 L450.8 73.3 L451.3 67.9 L451.8 62.5 L452.2 57.1 L452.7 51.7 L453.2 46.3 L453.6 40.9 L454.1 35.6 L454.6 30.2 L455.1 24.8 L455.5 19.4 L456.0 14.0Z"/></clipPath>
<linearGradient id="gB_mid" gradientUnits="userSpaceOnUse" x1="318.0" y1="20.0" x2="412.0" y2="206.0"><stop offset="0.03" stop-color="#c9553f" stop-opacity="0"/><stop offset="0.22" stop-color="#c9553f"/><stop offset="0.72" stop-color="#c9553f"/><stop offset="0.85" stop-color="#f8f2f1"/><stop offset="1.00" stop-color="#f8f2f1"/></linearGradient>
<linearGradient id="gB_dark" gradientUnits="userSpaceOnUse" x1="318.0" y1="20.0" x2="412.0" y2="206.0"><stop offset="0.03" stop-color="#a02e20" stop-opacity="0"/><stop offset="0.22" stop-color="#a02e20"/><stop offset="0.72" stop-color="#a02e20"/><stop offset="0.85" stop-color="#d6c4c4"/><stop offset="1.00" stop-color="#d6c4c4"/></linearGradient>
<linearGradient id="gB_lite" gradientUnits="userSpaceOnUse" x1="318.0" y1="20.0" x2="412.0" y2="206.0"><stop offset="0.03" stop-color="#e58a74" stop-opacity="0"/><stop offset="0.22" stop-color="#e58a74"/><stop offset="0.72" stop-color="#e58a74"/><stop offset="0.85" stop-color="#ffffff"/><stop offset="1.00" stop-color="#ffffff"/></linearGradient>
<clipPath id="cB"><path d="M298.0 30.0 L296.4 35.5 L294.6 40.9 L293.0 46.3 L292.1 52.0 L292.2 57.7 L292.9 63.3 L294.2 68.9 L295.9 74.3 L297.9 79.7 L300.0 85.0 L302.3 90.2 L304.7 95.3 L307.2 100.5 L309.8 105.5 L312.5 110.6 L315.2 115.6 L318.0 120.5 L321.0 125.4 L324.1 130.2 L327.6 134.7 L331.4 139.0 L335.3 143.0 L339.3 147.1 L343.2 151.3 L347.1 155.5 L351.0 159.6 L355.0 163.7 L358.9 167.9 L362.7 172.1 L366.5 176.4 L370.1 180.8 L373.7 185.2 L377.1 189.8 L380.4 194.4 L383.5 199.2 L386.1 204.3 L388.2 209.6 L389.9 215.0 L391.4 220.5 L393.0 226.0 L430.0 196.0 L427.6 191.7 L425.1 187.4 L423.0 183.0 L421.4 178.3 L419.9 173.5 L418.4 168.8 L416.7 164.2 L414.8 159.6 L412.7 155.2 L410.5 150.7 L408.2 146.4 L405.8 142.0 L403.5 137.6 L401.2 133.3 L398.9 128.9 L396.7 124.4 L394.6 120.0 L392.5 115.5 L390.4 111.0 L388.4 106.5 L386.3 102.0 L384.3 97.5 L382.3 93.0 L380.3 88.4 L378.3 83.9 L376.3 79.4 L374.3 74.9 L372.3 70.4 L370.3 65.8 L368.4 61.3 L366.5 56.7 L364.8 52.1 L363.1 47.4 L361.6 42.7 L360.2 37.9 L358.9 33.2 L357.7 28.4 L356.5 23.6 L355.3 18.8 L354.0 14.0Z"/></clipPath>
<linearGradient id="gPale" x1="0" y1="20" x2="0" y2="150" gradientUnits="userSpaceOnUse"><stop offset="0" stop-color="#fff" stop-opacity="0"/><stop offset="0.25" stop-color="#fbe3dc" stop-opacity="0.75"/><stop offset="0.8" stop-color="#fbe3dc" stop-opacity="0.55"/><stop offset="1" stop-color="#fff" stop-opacity="0"/></linearGradient>
<linearGradient id="gE_mid" gradientUnits="userSpaceOnUse" x1="520.0" y1="10.0" x2="455.0" y2="195.0"><stop offset="0.05" stop-color="#c9553f" stop-opacity="0"/><stop offset="0.22" stop-color="#c9553f"/><stop offset="0.64" stop-color="#c9553f"/><stop offset="0.77" stop-color="#f8f2f1"/><stop offset="1.00" stop-color="#f8f2f1"/></linearGradient>
<linearGradient id="gE_dark" gradientUnits="userSpaceOnUse" x1="520.0" y1="10.0" x2="455.0" y2="195.0"><stop offset="0.05" stop-color="#a02e20" stop-opacity="0"/><stop offset="0.22" stop-color="#a02e20"/><stop offset="0.64" stop-color="#a02e20"/><stop offset="0.77" stop-color="#d6c4c4"/><stop offset="1.00" stop-color="#d6c4c4"/></linearGradient>
<linearGradient id="gE_lite" gradientUnits="userSpaceOnUse" x1="520.0" y1="10.0" x2="455.0" y2="195.0"><stop offset="0.05" stop-color="#e58a74" stop-opacity="0"/><stop offset="0.22" stop-color="#e58a74"/><stop offset="0.64" stop-color="#e58a74"/><stop offset="0.77" stop-color="#ffffff"/><stop offset="1.00" stop-color="#ffffff"/></linearGradient>
<clipPath id="cE"><path d="M480.0 12.0 L478.2 16.2 L476.4 20.4 L474.6 24.6 L472.8 28.8 L471.0 33.0 L469.3 37.2 L467.5 41.4 L465.8 45.6 L464.1 49.9 L462.4 54.1 L460.7 58.3 L459.0 62.6 L457.3 66.8 L455.7 71.1 L454.1 75.4 L452.6 79.7 L451.3 84.1 L450.1 88.5 L449.0 92.9 L448.1 97.4 L447.5 101.9 L447.2 106.4 L447.0 111.0 L447.0 115.6 L447.2 120.1 L447.5 124.7 L447.9 129.2 L448.4 133.8 L448.8 138.3 L449.3 142.9 L449.8 147.4 L450.4 151.9 L451.0 156.4 L451.7 161.0 L452.3 165.5 L453.0 170.0 L453.7 174.5 L454.4 179.0 L455.2 183.5 L456.0 188.0 L499.0 196.0 L498.9 191.5 L498.8 187.1 L498.9 182.6 L499.1 178.2 L499.4 173.7 L499.8 169.3 L500.3 164.8 L500.9 160.4 L501.8 156.0 L502.9 151.7 L504.3 147.5 L505.9 143.3 L507.6 139.2 L509.2 135.0 L510.7 130.8 L512.1 126.6 L513.5 122.4 L514.9 118.1 L516.2 113.9 L517.5 109.6 L518.8 105.3 L520.0 101.0 L521.1 96.7 L522.1 92.4 L523.0 88.0 L523.9 83.6 L524.7 79.2 L525.5 74.8 L526.2 70.4 L527.0 66.0 L527.7 61.7 L528.5 57.3 L529.2 52.9 L529.9 48.5 L530.6 44.0 L531.3 39.6 L532.0 35.2 L532.6 30.8 L533.3 26.4 L534.0 22.0Z"/></clipPath>
<linearGradient id="gF_mid" gradientUnits="userSpaceOnUse" x1="545.0" y1="28.0" x2="520.0" y2="246.0"><stop offset="0.00" stop-color="#f8f2f1" stop-opacity="0"/><stop offset="0.08" stop-color="#f8f2f1"/><stop offset="0.32" stop-color="#f8f2f1"/><stop offset="0.36" stop-color="#c9553f"/><stop offset="0.62" stop-color="#c9553f"/><stop offset="0.68" stop-color="#f8f2f1"/><stop offset="1.00" stop-color="#f8f2f1"/></linearGradient>
<linearGradient id="gF_dark" gradientUnits="userSpaceOnUse" x1="545.0" y1="28.0" x2="520.0" y2="246.0"><stop offset="0.00" stop-color="#d6c4c4" stop-opacity="0"/><stop offset="0.08" stop-color="#d6c4c4"/><stop offset="0.32" stop-color="#d6c4c4"/><stop offset="0.36" stop-color="#a02e20"/><stop offset="0.62" stop-color="#a02e20"/><stop offset="0.68" stop-color="#d6c4c4"/><stop offset="1.00" stop-color="#d6c4c4"/></linearGradient>
<linearGradient id="gF_lite" gradientUnits="userSpaceOnUse" x1="545.0" y1="28.0" x2="520.0" y2="246.0"><stop offset="0.00" stop-color="#ffffff" stop-opacity="0"/><stop offset="0.08" stop-color="#ffffff"/><stop offset="0.32" stop-color="#ffffff"/><stop offset="0.36" stop-color="#e58a74"/><stop offset="0.62" stop-color="#e58a74"/><stop offset="0.68" stop-color="#ffffff"/><stop offset="1.00" stop-color="#ffffff"/></linearGradient>
<clipPath id="cF"><path d="M549.0 24.0 L545.3 28.5 L541.5 33.0 L538.2 37.7 L535.6 43.0 L533.7 48.5 L532.1 54.1 L530.7 59.8 L529.4 65.5 L528.0 71.2 L526.5 76.8 L525.0 82.5 L523.5 88.1 L521.9 93.7 L520.2 99.3 L518.3 104.8 L516.0 110.2 L513.8 115.6 L511.6 121.0 L509.5 126.5 L507.5 131.9 L505.4 137.4 L503.6 143.0 L502.1 148.6 L501.0 154.4 L501.0 160.2 L502.1 165.9 L503.7 171.5 L505.3 177.1 L506.8 182.8 L508.3 188.4 L509.7 194.1 L511.0 199.8 L511.9 205.6 L512.7 211.4 L513.3 217.2 L514.1 223.0 L515.1 228.7 L516.0 234.5 L517.0 240.2 L518.0 246.0 L526.0 246.0 L526.0 240.4 L525.9 234.8 L525.9 229.2 L525.9 223.6 L526.2 218.0 L526.7 212.4 L527.3 206.8 L527.9 201.3 L528.3 195.7 L528.8 190.1 L529.2 184.5 L529.7 178.9 L530.4 173.4 L531.4 167.9 L532.5 162.4 L533.6 156.9 L534.7 151.4 L535.6 145.9 L536.1 140.3 L536.1 134.7 L535.8 129.1 L535.2 123.5 L534.2 118.0 L532.7 112.6 L531.2 107.2 L530.2 101.7 L530.0 96.1 L530.5 90.6 L531.5 85.0 L532.7 79.6 L533.9 74.1 L535.2 68.7 L536.6 63.2 L538.1 57.8 L539.7 52.5 L541.6 47.2 L543.8 42.0 L546.6 37.2 L549.9 32.6 L553.0 28.0Z"/></clipPath>
<linearGradient id="fadeTop" x1="0" y1="17" x2="0" y2="56" gradientUnits="userSpaceOnUse"><stop offset="0" stop-color="#fff" stop-opacity="1"/><stop offset="1" stop-color="#fff" stop-opacity="0"/></linearGradient>
<clipPath id="Mclip"><path d="M415.5 251.0 L415.5 249.3 L415.5 247.6 L415.5 245.9 L415.4 244.1 L415.4 242.4 L415.4 240.8 L415.5 239.3 L415.5 238.0 L415.6 236.8 L415.6 235.8 L415.7 234.9 L415.8 234.0 L415.9 233.3 L416.1 232.5 L416.3 231.8 L416.5 231.0 L416.8 230.2 L417.1 229.5 L417.4 228.7 L417.7 228.0 L418.1 227.3 L418.5 226.7 L419.0 226.1 L419.5 225.5 L420.1 225.0 L420.7 224.5 L421.4 224.0 L422.1 223.6 L422.8 223.2 L423.5 222.9 L424.3 222.7 L425.0 222.5 L425.7 222.4 L426.5 222.4 L427.3 222.4 L428.0 222.5 L428.8 222.7 L429.6 222.9 L430.3 223.2 L431.0 223.5 L431.7 223.9 L432.4 224.3 L433.1 224.8 L433.7 225.4 L434.4 226.0 L434.9 226.6 L435.5 227.3 L436.0 228.0 L436.4 228.8 L436.8 229.6 L437.2 230.5 L437.5 231.4 L437.7 232.3 L438.0 233.3 L438.3 234.2 L438.5 235.0 L438.7 235.8 L438.9 236.6 L439.1 237.4 L439.2 238.2 L439.4 238.9 L439.5 239.7 L439.7 240.4 L440.0 241.0 L440.3 241.6 L440.6 242.2 L440.9 242.8 L441.3 243.3 L441.7 243.8 L442.1 244.3 L442.5 244.7 L443.0 245.0 L443.5 245.3 L444.0 245.5 L444.6 245.6 L445.2 245.8 L445.8 245.8 L446.5 245.9 L447.2 245.9 L448.0 246.0 L448.9 246.1 L449.8 246.1 L450.8 246.1 L451.9 246.2 L453.0 246.2 L454.0 246.1 L455.1 246.1 L456.0 246.0 L456.9 245.9 L457.8 245.8 L458.7 245.7 L459.6 245.5 L460.4 245.3 L461.2 245.1 L461.9 244.8 L462.5 244.5 L463.0 244.1 L463.5 243.7 L463.9 243.3 L464.3 242.8 L464.6 242.2 L464.9 241.6 L465.1 240.8 L465.3 240.0 L465.5 239.0 L465.5 237.9 L465.6 236.7 L465.6 235.3 L465.6 234.0 L465.5 232.6 L465.5 231.3 L465.5 230.0 L465.5 228.7 L465.5 227.4 L465.4 226.1 L465.4 224.8 L465.4 223.5 L465.4 222.3 L465.4 221.1 L465.5 220.0 L465.6 219.0 L465.7 218.1 L465.9 217.2 L466.1 216.4 L466.3 215.6 L466.5 214.9 L466.7 214.2 L467.0 213.5 L467.3 212.9 L467.6 212.3 L467.9 211.8 L468.3 211.2 L468.7 210.8 L469.1 210.3 L469.5 209.9 L470.0 209.5 L470.5 209.1 L471.1 208.7 L471.7 208.3 L472.3 207.9 L473.0 207.6 L473.6 207.3 L474.3 207.1 L475.0 207.0 L475.7 207.0 L476.5 207.0 L477.2 207.1 L478.0 207.3 L478.8 207.5 L479.5 207.8 L480.3 208.1 L481.0 208.5 L481.7 208.9 L482.4 209.3 L483.0 209.8 L483.7 210.3 L484.3 210.9 L484.9 211.6 L485.5 212.2 L486.0 213.0 L486.5 213.8 L487.0 214.7 L487.5 215.6 L487.9 216.6 L488.3 217.6 L488.7 218.7 L489.1 219.8 L489.5 221.0 L489.9 222.2 L490.2 223.5 L490.4 224.8 L490.7 226.1 L491.0 227.5 L491.3 229.0 L491.6 230.5 L492.0 232.0 L492.4 233.7 L493.0 235.5 L493.5 237.4 L494.1 239.4 L494.6 241.3 L495.1 243.1 L495.6 244.7 L496.0 246.0 L496.3 247.1 L496.6 247.9 L496.7 248.5 L496.9 249.1 L497.0 249.5 L497.2 250.0 L497.3 250.4 L497.5 251.0Z"/></clipPath>
<linearGradient id="lumCap" x1="428" y1="0" x2="490" y2="0" gradientUnits="userSpaceOnUse"><stop offset="0" stop-color="#b8423a"/><stop offset="0.2" stop-color="#cf5a50"/><stop offset="0.5" stop-color="#e8928a"/><stop offset="0.66" stop-color="#e07c74"/><stop offset="0.88" stop-color="#c85048"/><stop offset="1" stop-color="#b23a32"/></linearGradient>
<linearGradient id="gTendF" x1="0" y1="128" x2="0" y2="170" gradientUnits="userSpaceOnUse"><stop offset="0" stop-color="#fff" stop-opacity="0"/><stop offset="1" stop-color="#fff" stop-opacity="1"/></linearGradient><mask id="mTend"><rect x="390" y="110" width="100" height="150" fill="url(#gTendF)"/></mask>
<linearGradient id="gTend" x1="428" y1="0" x2="462" y2="0" gradientUnits="userSpaceOnUse"><stop offset="0" stop-color="#d9cbcb"/><stop offset="0.22" stop-color="#ffffff"/><stop offset="0.6" stop-color="#f1e7e7"/><stop offset="0.85" stop-color="#ffffff"/><stop offset="1" stop-color="#e2d5d5"/></linearGradient></defs>
<rect width="800" height="800" fill="#fff"/>
<g id="tube">
<path d="M389.0 236.0 L389.6 238.7 L390.1 241.3 L390.6 244.0 L391.2 246.8 L392.0 250.0 L392.9 253.6 L394.0 257.6 L395.1 261.7 L396.3 265.9 L397.5 270.0 L398.7 274.0 L400.0 278.0 L401.4 282.0 L402.7 286.0 L404.0 290.0 L405.3 294.0 L406.6 298.0 L407.9 302.0 L409.2 306.0 L410.5 310.0 L411.8 313.8 L413.0 317.5 L414.2 321.3 L415.7 325.4 L417.5 330.0 L419.9 335.5 L422.7 341.8 L425.6 348.2 L428.5 354.5 L431.0 360.0 L433.0 364.6 L434.8 368.7 L436.4 372.5 L437.9 376.2 L439.5 380.0 L441.0 384.0 L442.5 388.0 L443.9 392.0 L445.4 396.0 L447.0 400.0 L448.7 404.0 L450.5 408.0 L452.4 412.0 L454.2 416.0 L456.0 420.0 L457.7 424.0 L459.4 428.0 L461.0 432.0 L462.5 436.0 L464.0 440.0 L465.3 444.0 L466.5 448.0 L467.7 452.0 L468.8 456.0 L470.0 460.0 L471.2 464.0 L472.5 468.0 L473.7 472.0 L474.9 476.0 L476.0 480.0 L477.0 484.0 L477.8 488.0 L478.6 492.0 L479.3 496.0 L480.0 500.0 L480.6 504.0 L481.2 508.0 L481.7 512.0 L482.1 516.0 L482.5 520.0 L482.8 524.0 L483.1 528.1 L483.3 532.1 L483.4 536.1 L483.5 540.0 L483.5 543.9 L483.4 547.7 L483.3 551.5 L483.2 554.9 L483.0 558.0 L482.9 560.5 L482.8 562.6 L482.7 564.4 L482.4 566.1 L482.0 568.0 L481.4 570.0 L480.5 571.9 L479.6 573.9 L478.6 575.9 L477.5 578.0 L476.4 580.3 L475.1 582.8 L473.8 585.4 L472.4 587.8 L471.0 590.0 L469.5 591.9 L467.9 593.6 L466.3 595.1 L464.6 596.6 L463.0 598.0 L461.4 599.4 L459.8 600.6 L458.3 601.8 L456.7 603.0 L455.0 604.0 L453.3 605.0 L451.5 605.8 L449.6 606.6 L447.8 607.4 L446.0 608.0 L444.2 608.6 L442.4 609.0 L440.6 609.4 L438.8 609.8 L437.0 610.0 L435.3 610.2 L433.6 610.2 L431.9 610.2 L430.1 610.2 L428.0 610.0 L425.7 609.7 L423.2 609.4 L420.5 609.0 L417.8 608.5 L415.0 608.0 L412.1 607.4 L409.1 606.8 L406.1 606.2 L403.0 605.6 L400.0 605.0 L397.0 604.5 L394.0 604.1 L391.0 603.6 L388.0 603.3 L385.0 603.0 L382.0 602.8 L379.1 602.6 L376.2 602.4 L373.2 602.4 L370.0 602.5 L366.6 602.7 L363.0 603.0 L359.3 603.3 L355.6 603.8 L352.0 604.5 L348.5 605.3 L345.1 606.2 L341.8 607.3 L338.4 608.6 L335.0 610.0 L331.6 611.6 L328.1 613.4 L324.7 615.4 L321.3 617.6 L318.0 620.0 L314.8 622.6 L311.7 625.5 L308.6 628.6 L305.7 631.8 L303.0 635.0 L300.5 638.3 L298.1 641.6 L295.9 645.0 L293.9 648.5 L292.0 652.0 L290.3 655.5 L288.7 659.0 L287.4 662.6 L286.1 666.3 L285.0 670.0 L284.0 673.8 L283.2 677.8 L282.5 681.8 L281.9 685.8 L281.5 690.0 L281.2 694.3 L281.2 698.6 L281.2 703.0 L281.3 707.5 L281.5 712.0 L281.7 716.5 L282.1 721.0 L282.5 725.6 L283.0 730.3 L283.5 735.0 L284.1 739.7 L284.8 744.4 L285.6 749.2 L286.3 754.3 L287.0 760.0 L287.6 766.4 L288.2 773.3 L288.8 780.5 L289.4 787.8 L290.0 795.0 L368.0 795.0 L367.4 787.7 L366.8 780.2 L366.2 772.8 L365.6 765.9 L365.0 760.0 L364.4 755.2 L363.7 751.3 L363.1 748.0 L362.5 744.9 L362.0 742.0 L361.7 739.2 L361.4 736.6 L361.2 734.2 L361.1 732.0 L361.0 730.0 L360.9 728.1 L360.9 726.4 L361.0 724.9 L361.0 723.4 L361.0 722.0 L361.0 720.7 L361.0 719.4 L360.9 718.2 L360.9 717.1 L361.0 716.0 L361.1 714.9 L361.3 713.9 L361.6 712.9 L361.8 711.9 L362.0 711.0 L362.2 710.1 L362.4 709.3 L362.5 708.5 L362.7 707.8 L363.0 707.0 L363.3 706.3 L363.7 705.5 L364.1 704.8 L364.5 704.1 L365.0 703.5 L365.5 702.9 L366.1 702.4 L366.7 701.9 L367.3 701.5 L368.0 701.0 L368.7 700.5 L369.3 700.1 L370.1 699.7 L370.9 699.3 L372.0 699.0 L373.3 698.7 L374.7 698.5 L376.2 698.3 L378.0 698.3 L380.0 698.5 L382.1 699.0 L384.4 699.6 L386.9 700.5 L389.7 701.4 L393.0 702.5 L396.8 703.8 L401.0 705.3 L405.6 706.9 L410.3 708.3 L415.0 709.5 L419.8 710.4 L424.6 711.0 L429.6 711.5 L434.8 711.8 L440.0 712.0 L445.4 712.1 L450.9 712.0 L456.5 711.7 L462.2 711.2 L468.0 710.5 L473.9 709.5 L480.0 708.2 L486.1 706.7 L492.2 704.9 L498.0 703.0 L503.7 700.9 L509.2 698.6 L514.6 696.1 L519.9 693.3 L525.0 690.0 L529.9 686.2 L534.7 681.9 L539.4 677.3 L543.8 672.6 L548.0 668.0 L552.0 663.5 L555.8 659.0 L559.4 654.4 L562.8 649.7 L566.0 645.0 L569.0 640.1 L571.8 635.0 L574.5 629.9 L576.9 624.8 L579.0 620.0 L580.8 615.4 L582.4 610.9 L583.7 606.5 L584.9 602.2 L586.0 598.0 L587.0 593.8 L587.9 589.6 L588.7 585.5 L589.4 581.6 L590.0 578.0 L590.5 574.8 L590.8 572.0 L591.0 569.3 L591.2 566.4 L591.5 563.0 L591.8 558.9 L592.1 554.2 L592.5 549.4 L592.8 544.5 L593.0 540.0 L593.2 535.8 L593.3 531.8 L593.5 527.9 L593.5 524.0 L593.5 520.0 L593.4 516.0 L593.2 512.0 L593.0 508.0 L592.8 504.0 L592.5 500.0 L592.2 496.0 L592.0 492.0 L591.7 488.0 L591.3 484.0 L591.0 480.0 L590.7 476.0 L590.3 472.0 L590.0 468.0 L589.5 464.0 L589.0 460.0 L588.4 456.0 L587.6 452.0 L586.8 448.0 L585.9 444.0 L585.0 440.0 L584.0 436.0 L583.0 432.0 L581.8 428.0 L580.7 424.0 L579.5 420.0 L578.3 416.0 L577.0 412.0 L575.7 408.0 L574.3 404.0 L573.0 400.0 L571.6 396.0 L570.2 392.0 L568.8 388.0 L567.4 384.0 L566.0 380.0 L564.7 376.2 L563.6 372.5 L562.4 368.7 L561.1 364.6 L559.5 360.0 L557.5 354.5 L555.2 348.2 L552.8 341.8 L550.5 335.5 L548.5 330.0 L547.0 325.4 L545.8 321.3 L544.7 317.5 L543.7 313.8 L542.5 310.0 L541.1 306.0 L539.7 302.0 L538.2 298.0 L536.8 294.0 L535.5 290.0 L534.4 286.0 L533.5 282.0 L532.6 278.0 L531.8 274.0 L531.0 270.0 L530.2 265.9 L529.4 261.7 L528.6 257.6 L527.8 253.6 L527.0 250.0 L526.2 246.8 L525.4 244.0 L524.6 241.3 L523.8 238.7 L523.0 236.0Z" fill="#d4706a"/>
<path d="M393.5 236.0 L394.0 238.7 L394.5 241.3 L395.0 244.0 L395.7 246.8 L396.4 250.0 L397.3 253.6 L398.4 257.6 L399.5 261.7 L400.7 265.9 L401.8 270.0 L403.1 274.0 L404.3 278.0 L405.6 282.0 L406.9 286.0 L408.2 290.0 L409.5 294.0 L410.7 298.0 L412.0 302.0 L413.3 306.0 L414.7 310.0 L416.0 313.8 L417.2 317.5 L418.5 321.3 L420.0 325.4 L421.9 330.0 L424.3 335.5 L427.1 341.8 L430.2 348.2 L433.1 354.5 L435.6 360.0 L437.8 364.6 L439.6 368.7 L441.3 372.5 L442.9 376.2 L444.6 380.0 L446.3 384.0 L447.9 388.0 L449.5 392.0 L451.1 396.0 L452.8 400.0 L454.6 404.0 L456.4 408.0 L458.3 412.0 L460.0 416.0 L461.8 420.0 L463.4 424.0 L465.0 428.0 L466.6 432.0 L468.1 436.0 L469.6 440.0 L470.9 444.0 L472.1 448.0 L473.2 452.0 L474.3 456.0 L475.5 460.0 L476.7 464.0 L477.8 468.0 L479.0 472.0 L480.1 476.0 L481.1 480.0 L482.0 484.0 L482.9 488.0 L483.6 492.0 L484.3 496.0 L484.9 500.0 L485.5 504.0 L486.1 508.0 L486.6 512.0 L487.0 516.0 L487.4 520.0 L487.7 524.0 L487.9 528.1 L488.1 532.1 L488.2 536.1 L488.3 540.0 L488.3 543.9 L488.2 547.8 L488.1 551.7 L488.0 555.2 L487.9 558.4 L487.7 560.9 L487.6 563.1 L487.5 564.9 L487.2 566.8 L486.8 568.7 L486.1 570.8 L485.3 572.9 L484.4 575.0 L483.4 577.1 L482.3 579.4 L481.1 581.9 L479.8 584.6 L478.5 587.3 L477.1 590.0 L475.7 592.3 L474.2 594.4 L472.6 596.4 L471.0 598.2 L469.3 599.8 L467.7 601.4 L466.1 602.9 L464.5 604.2 L462.9 605.4 L461.2 606.5 L459.5 607.6 L457.7 608.6 L455.8 609.6 L453.9 610.5 L451.9 611.4 L450.0 612.1 L447.9 612.8 L445.9 613.4 L443.8 613.9 L441.7 614.3 L439.7 614.7 L437.7 614.9 L435.8 615.1 L433.9 615.2 L431.9 615.2 L429.6 615.1 L427.1 614.9 L424.5 614.7 L421.7 614.3 L418.8 613.9 L415.9 613.4 L412.9 612.9 L409.8 612.2 L406.6 611.6 L403.5 610.9 L400.4 610.3 L397.3 609.8 L394.2 609.2 L391.1 608.7 L388.0 608.3 L385.0 607.9 L382.0 607.7 L379.2 607.4 L376.3 607.3 L373.3 607.2 L370.2 607.3 L366.9 607.4 L363.4 607.6 L359.9 607.9 L356.3 608.3 L352.9 608.9 L349.6 609.7 L346.3 610.5 L343.0 611.6 L339.7 612.8 L336.4 614.1 L333.1 615.7 L329.7 617.4 L326.4 619.3 L323.1 621.3 L320.0 623.6 L316.9 626.1 L313.9 628.8 L311.0 631.6 L308.3 634.6 L305.7 637.6 L303.3 640.7 L301.1 643.9 L299.1 647.2 L297.2 650.5 L295.4 653.8 L293.8 657.1 L292.4 660.4 L291.1 663.7 L290.0 667.1 L289.0 670.7 L288.1 674.4 L287.3 678.3 L286.6 682.2 L286.1 686.2 L285.7 690.4 L285.5 694.6 L285.3 698.9 L285.3 703.3 L285.4 707.7 L285.5 712.2 L285.7 716.6 L286.0 721.1 L286.3 725.7 L286.7 730.3 L287.2 735.0 L287.7 739.7 L288.4 744.4 L289.1 749.2 L289.8 754.3 L290.5 760.0 L291.1 766.4 L291.7 773.3 L292.3 780.5 L292.8 787.8 L293.4 795.0" fill="none" stroke="#de867e" stroke-width="3.4" filter="url(#b1)" clip-path="url(#tubeclip)"/>
<path d="M389.7 236.0 L390.3 238.7 L390.8 241.3 L391.4 244.0 L392.0 246.8 L392.7 250.0 L393.7 253.6 L394.7 257.6 L395.8 261.7 L397.0 265.9 L398.2 270.0 L399.5 274.0 L400.7 278.0 L402.1 282.0 L403.4 286.0 L404.7 290.0 L406.0 294.0 L407.3 298.0 L408.6 302.0 L409.9 306.0 L411.2 310.0 L412.5 313.8 L413.7 317.5 L414.9 321.3 L416.4 325.4 L418.2 330.0 L420.6 335.5 L423.4 341.8 L426.4 348.2 L429.3 354.5 L431.8 360.0 L433.8 364.6 L435.6 368.7 L437.2 372.5 L438.8 376.2 L440.3 380.0 L441.9 384.0 L443.4 388.0 L444.9 392.0 L446.4 396.0 L448.0 400.0 L449.7 404.0 L451.5 408.0 L453.4 412.0 L455.2 416.0 L457.0 420.0 L458.6 424.0 L460.3 428.0 L461.9 432.0 L463.5 436.0 L464.9 440.0 L466.3 444.0 L467.5 448.0 L468.6 452.0 L469.8 456.0 L470.9 460.0 L472.1 464.0 L473.4 468.0 L474.6 472.0 L475.8 476.0 L476.9 480.0 L477.8 484.0 L478.7 488.0 L479.4 492.0 L480.2 496.0 L480.8 500.0 L481.4 504.0 L482.0 508.0 L482.5 512.0 L482.9 516.0 L483.3 520.0 L483.6 524.0 L483.9 528.1 L484.1 532.1 L484.2 536.1 L484.3 540.0 L484.3 543.9 L484.2 547.7 L484.1 551.5 L484.0 555.0 L483.8 558.1 L483.7 560.6 L483.6 562.7 L483.5 564.5 L483.2 566.2 L482.8 568.1 L482.2 570.1 L481.3 572.1 L480.4 574.0 L479.4 576.1 L478.3 578.2 L477.1 580.6 L475.9 583.1 L474.6 585.7 L473.2 588.2 L471.8 590.4 L470.3 592.3 L468.7 594.1 L467.1 595.6 L465.4 597.1 L463.8 598.6 L462.2 599.9 L460.6 601.2 L459.0 602.4 L457.4 603.6 L455.8 604.6 L454.0 605.6 L452.2 606.5 L450.4 607.3 L448.5 608.0 L446.7 608.7 L444.8 609.3 L443.0 609.8 L441.1 610.2 L439.3 610.5 L437.4 610.8 L435.7 611.0 L434.0 611.1 L432.2 611.1 L430.4 611.0 L428.3 610.9 L425.9 610.6 L423.4 610.3 L420.7 609.9 L418.0 609.4 L415.1 608.9 L412.3 608.3 L409.3 607.7 L406.2 607.1 L403.1 606.4 L400.1 605.9 L397.0 605.4 L394.0 604.9 L391.0 604.5 L388.0 604.1 L385.0 603.8 L382.0 603.6 L379.1 603.4 L376.2 603.3 L373.2 603.2 L370.0 603.3 L366.6 603.5 L363.0 603.7 L359.4 604.1 L355.7 604.6 L352.1 605.2 L348.7 606.0 L345.3 607.0 L342.0 608.0 L338.6 609.3 L335.2 610.7 L331.8 612.3 L328.4 614.1 L324.9 616.1 L321.6 618.2 L318.3 620.6 L315.2 623.2 L312.0 626.1 L309.0 629.1 L306.1 632.3 L303.4 635.4 L301.0 638.7 L298.6 642.0 L296.4 645.4 L294.4 648.8 L292.6 652.3 L290.9 655.8 L289.4 659.3 L288.0 662.8 L286.8 666.4 L285.7 670.1 L284.7 673.9 L283.9 677.8 L283.2 681.8 L282.6 685.9 L282.2 690.1 L281.9 694.3 L281.9 698.7 L281.9 703.1 L282.0 707.5 L282.2 712.0 L282.4 716.5 L282.7 721.0 L283.1 725.6 L283.6 730.3 L284.1 735.0 L284.7 739.7 L285.4 744.4 L286.2 749.2 L286.9 754.3 L287.6 760.0 L288.2 766.4 L288.8 773.3 L289.4 780.5 L290.0 787.8 L290.6 795.0" fill="none" stroke="#b24e48" stroke-width="2.6" opacity="0.9" filter="url(#b05)" clip-path="url(#tubeclip)"/>
<path d="M518.0 236.0 L518.8 238.7 L519.6 241.3 L520.4 244.0 L521.1 246.8 L521.8 250.0 L522.4 253.6 L523.1 257.6 L523.7 261.7 L524.3 265.9 L524.9 270.0 L525.6 274.0 L526.2 278.0 L527.0 282.0 L527.9 286.0 L528.9 290.0 L530.2 294.0 L531.6 298.0 L533.0 302.0 L534.4 306.0 L535.8 310.0 L536.9 313.8 L538.0 317.5 L539.0 321.3 L540.3 325.4 L541.8 330.0 L543.7 335.5 L545.9 341.8 L548.3 348.2 L550.6 354.5 L552.6 360.0 L554.2 364.6 L555.6 368.7 L556.9 372.5 L558.2 376.2 L559.5 380.0 L560.9 384.0 L562.3 388.0 L563.8 392.0 L565.2 396.0 L566.5 400.0 L567.9 404.0 L569.2 408.0 L570.6 412.0 L571.9 416.0 L573.1 420.0 L574.3 424.0 L575.5 428.0 L576.6 432.0 L577.7 436.0 L578.7 440.0 L579.7 444.0 L580.6 448.0 L581.5 452.0 L582.3 456.0 L583.1 460.0 L583.7 464.0 L584.2 468.0 L584.6 472.0 L585.0 476.0 L585.3 480.0 L585.7 484.0 L586.0 488.0 L586.3 492.0 L586.6 496.0 L586.8 500.0 L587.1 504.0 L587.3 508.0 L587.5 512.0 L587.7 516.0 L587.7 520.0 L587.8 524.0 L587.7 527.9 L587.6 531.8 L587.5 535.8 L587.3 540.0 L587.1 544.5 L586.8 549.3 L586.5 554.1 L586.2 558.7 L585.8 562.8 L585.6 566.2 L585.4 569.0 L585.1 571.6 L584.8 574.3 L584.3 577.5 L583.7 581.1 L583.0 585.1 L582.1 589.2 L581.2 593.4 L580.1 597.6 L578.9 601.9 L577.6 606.1 L576.2 610.5 L574.6 614.9 L572.7 619.5 L570.5 624.2 L568.1 629.2 L565.5 634.2 L562.7 639.1 L559.7 643.9 L556.6 648.5 L553.3 652.9 L549.8 657.3 L546.1 661.6 L542.2 665.8 L538.2 670.1 L533.9 674.5 L529.5 678.7 L524.9 682.7 L520.1 686.2 L515.3 689.3 L510.3 692.0 L505.1 694.4 L499.8 696.5 L494.4 698.5 L488.8 700.3 L483.0 701.9 L477.2 703.3 L471.4 704.5 L465.7 705.4 L460.1 706.0 L454.6 706.4 L449.1 706.6 L443.8 706.6 L438.6 706.5 L433.5 706.3 L428.5 705.9 L423.6 705.4 L418.8 704.8 L414.1 703.9 L409.5 702.8 L404.8 701.4 L400.4 699.9 L396.2 698.4 L392.5 697.2 L389.2 696.2 L386.3 695.4 L383.8 694.7 L381.5 694.1 L379.3 693.7 L377.3 693.6 L375.5 693.6 L373.9 693.7 L372.4 694.0 L371.1 694.2 L369.9 694.5 L369.0 694.9 L368.1 695.4 L367.4 695.8 L366.6 696.3 L365.7 696.8 L365.0 697.4 L364.2 697.9 L363.5 698.5 L362.8 699.2 L362.2 699.9 L361.6 700.7 L361.1 701.5 L360.6 702.4 L360.1 703.2 L359.7 704.1 L359.4 704.9 L359.1 705.8 L358.9 706.8 L358.6 707.8 L358.3 708.8 L358.0 709.9 L357.7 711.1 L357.5 712.3 L357.3 713.5 L357.2 714.7 L357.2 716.0 L357.1 717.3 L357.1 718.7 L357.1 720.2 L357.1 721.8 L357.1 723.4 L357.1 725.0 L357.1 726.9 L357.1 728.9 L357.2 731.1 L357.4 733.5 L357.6 736.0 L357.8 738.7 L358.1 741.6 L358.6 744.7 L359.1 747.8 L359.7 751.2 L360.3 755.2 L360.9 760.0 L361.4 765.9 L362.0 772.8 L362.6 780.2 L363.1 787.7 L363.7 795.0" fill="none" stroke="#de867e" stroke-width="3.4" filter="url(#b1)" clip-path="url(#tubeclip)"/>
<path d="M522.2 236.0 L523.0 238.7 L523.8 241.3 L524.6 244.0 L525.4 246.8 L526.1 250.0 L526.9 253.6 L527.7 257.6 L528.4 261.7 L529.2 265.9 L530.0 270.0 L530.8 274.0 L531.6 278.0 L532.4 282.0 L533.3 286.0 L534.4 290.0 L535.7 294.0 L537.1 298.0 L538.5 302.0 L540.0 306.0 L541.4 310.0 L542.6 313.8 L543.6 317.5 L544.7 321.3 L545.9 325.4 L547.4 330.0 L549.3 335.5 L551.6 341.8 L554.0 348.2 L556.4 354.5 L558.3 360.0 L559.9 364.6 L561.3 368.7 L562.5 372.5 L563.6 376.2 L564.9 380.0 L566.3 384.0 L567.7 388.0 L569.1 392.0 L570.5 396.0 L571.9 400.0 L573.3 404.0 L574.6 408.0 L575.9 412.0 L577.2 416.0 L578.4 420.0 L579.6 424.0 L580.8 428.0 L581.9 432.0 L583.0 436.0 L584.0 440.0 L584.9 444.0 L585.8 448.0 L586.6 452.0 L587.4 456.0 L588.0 460.0 L588.6 464.0 L589.0 468.0 L589.4 472.0 L589.7 476.0 L590.1 480.0 L590.4 484.0 L590.7 488.0 L591.0 492.0 L591.3 496.0 L591.6 500.0 L591.8 504.0 L592.1 508.0 L592.3 512.0 L592.4 516.0 L592.5 520.0 L592.6 524.0 L592.5 527.9 L592.4 531.8 L592.2 535.8 L592.1 540.0 L591.8 544.5 L591.5 549.4 L591.2 554.2 L590.9 558.8 L590.6 563.0 L590.3 566.4 L590.1 569.3 L589.8 572.0 L589.5 574.7 L589.1 577.9 L588.5 581.6 L587.8 585.5 L587.0 589.5 L586.1 593.7 L585.0 597.9 L583.9 602.2 L582.7 606.4 L581.3 610.8 L579.8 615.3 L578.0 619.9 L575.8 624.7 L573.4 629.8 L570.8 634.9 L568.0 639.9 L565.0 644.8 L561.8 649.5 L558.4 654.2 L554.8 658.7 L551.0 663.2 L547.0 667.6 L542.8 672.2 L538.4 676.8 L533.9 681.4 L529.1 685.6 L524.2 689.4 L519.1 692.6 L513.9 695.4 L508.5 697.9 L503.0 700.2 L497.4 702.2 L491.6 704.2 L485.6 705.9 L479.5 707.4 L473.5 708.6 L467.6 709.6 L461.9 710.4 L456.2 710.8 L450.6 711.1 L445.1 711.1 L439.8 711.1 L434.5 710.9 L429.4 710.6 L424.5 710.1 L419.6 709.4 L414.9 708.6 L410.1 707.4 L405.4 706.0 L400.9 704.4 L396.7 702.9 L392.9 701.6 L389.7 700.6 L386.8 699.6 L384.3 698.8 L382.0 698.2 L379.9 697.7 L377.9 697.5 L376.1 697.5 L374.5 697.7 L373.1 697.9 L371.9 698.2 L370.8 698.5 L369.9 698.9 L369.1 699.3 L368.5 699.8 L367.8 700.2 L367.1 700.7 L366.4 701.2 L365.8 701.7 L365.2 702.2 L364.6 702.8 L364.1 703.4 L363.7 704.1 L363.2 704.8 L362.9 705.6 L362.5 706.4 L362.2 707.1 L362.0 707.9 L361.8 708.7 L361.6 709.6 L361.4 710.5 L361.2 711.4 L361.0 712.4 L360.7 713.4 L360.5 714.5 L360.4 715.6 L360.3 716.7 L360.3 717.9 L360.3 719.1 L360.3 720.3 L360.4 721.7 L360.3 723.1 L360.3 724.6 L360.3 726.2 L360.3 727.9 L360.4 729.8 L360.5 731.9 L360.6 734.1 L360.8 736.5 L361.0 739.1 L361.4 741.9 L361.8 744.9 L362.4 747.9 L363.0 751.3 L363.7 755.2 L364.3 760.0 L364.9 765.9 L365.5 772.8 L366.1 780.2 L366.7 787.7 L367.3 795.0" fill="none" stroke="#b24e48" stroke-width="2.6" opacity="0.9" filter="url(#b05)" clip-path="url(#tubeclip)"/>
<path d="M396.2 236.0 L396.7 238.7 L397.2 241.3 L397.8 244.0 L398.4 246.8 L399.1 250.0 L400.0 253.6 L401.0 257.6 L402.2 261.7 L403.3 265.9 L404.5 270.0 L405.7 274.0 L407.0 278.0 L408.2 282.0 L409.5 286.0 L410.8 290.0 L412.1 294.0 L413.3 298.0 L414.6 302.0 L415.9 306.0 L417.2 310.0 L418.5 313.8 L419.8 317.5 L421.2 321.3 L422.7 325.4 L424.6 330.0 L427.0 335.5 L429.9 341.8 L432.9 348.2 L435.9 354.5 L438.5 360.0 L440.7 364.6 L442.6 368.7 L444.3 372.5 L446.0 376.2 L447.7 380.0 L449.5 384.0 L451.2 388.0 L452.9 392.0 L454.6 396.0 L456.4 400.0 L458.2 404.0 L460.0 408.0 L461.8 412.0 L463.6 416.0 L465.3 420.0 L466.9 424.0 L468.5 428.0 L470.1 432.0 L471.6 436.0 L473.0 440.0 L474.3 444.0 L475.5 448.0 L476.6 452.0 L477.7 456.0 L478.8 460.0 L480.0 464.0 L481.1 468.0 L482.2 472.0 L483.3 476.0 L484.3 480.0 L485.1 484.0 L485.9 488.0 L486.7 492.0 L487.3 496.0 L488.0 500.0 L488.6 504.0 L489.1 508.0 L489.6 512.0 L490.0 516.0 L490.3 520.0 L490.6 524.0 L490.8 528.1 L491.0 532.1 L491.1 536.1 L491.2 540.0 L491.2 543.9 L491.2 547.9 L491.1 551.8 L491.0 555.4 L490.8 558.6 L490.7 561.2 L490.6 563.4 L490.4 565.3 L490.1 567.1 L489.7 569.2 L489.0 571.3 L488.2 573.5 L487.3 575.7 L486.3 577.9 L485.2 580.3 L484.0 582.9 L482.7 585.7 L481.4 588.5 L480.0 591.3 L478.5 593.8 L477.0 596.0 L475.5 598.1 L473.8 600.0 L472.2 601.8 L470.5 603.5 L468.9 605.0 L467.3 606.3 L465.7 607.6 L464.0 608.7 L462.2 609.8 L460.4 610.9 L458.5 611.9 L456.5 612.9 L454.5 613.8 L452.4 614.7 L450.2 615.4 L448.0 616.1 L445.8 616.6 L443.6 617.1 L441.4 617.5 L439.2 617.9 L437.2 618.1 L435.1 618.2 L433.0 618.3 L430.6 618.3 L428.0 618.1 L425.3 617.9 L422.4 617.5 L419.4 617.2 L416.4 616.7 L413.4 616.2 L410.2 615.5 L407.0 614.8 L403.8 614.2 L400.6 613.6 L397.4 613.0 L394.3 612.4 L391.2 611.9 L388.1 611.4 L385.0 611.0 L382.0 610.7 L379.2 610.4 L376.3 610.3 L373.4 610.2 L370.3 610.2 L367.0 610.3 L363.7 610.4 L360.2 610.7 L356.8 611.1 L353.4 611.6 L350.2 612.3 L346.9 613.2 L343.7 614.2 L340.5 615.3 L337.3 616.7 L334.1 618.2 L330.8 619.8 L327.5 621.6 L324.3 623.6 L321.2 625.8 L318.2 628.2 L315.3 630.7 L312.5 633.5 L309.8 636.3 L307.4 639.2 L305.1 642.2 L302.9 645.3 L301.0 648.5 L299.2 651.7 L297.5 654.9 L296.0 658.1 L294.6 661.2 L293.4 664.4 L292.4 667.7 L291.4 671.2 L290.5 674.8 L289.8 678.6 L289.2 682.5 L288.7 686.5 L288.3 690.6 L288.1 694.8 L287.9 699.1 L287.9 703.4 L287.9 707.8 L288.0 712.3 L288.2 716.7 L288.4 721.2 L288.7 725.7 L289.0 730.3 L289.4 735.0 L290.0 739.7 L290.6 744.4 L291.3 749.2 L292.0 754.3 L292.7 760.0 L293.2 766.4 L293.8 773.3 L294.4 780.5 L294.9 787.8 L295.5 795.0 L361.0 795.0 L360.5 787.7 L359.9 780.2 L359.4 772.8 L358.9 765.9 L358.3 760.0 L357.8 755.1 L357.2 751.1 L356.7 747.7 L356.2 744.5 L355.8 741.4 L355.4 738.4 L355.2 735.6 L355.0 733.0 L354.9 730.5 L354.8 728.3 L354.7 726.1 L354.7 724.2 L354.7 722.4 L354.7 720.7 L354.8 719.1 L354.8 717.5 L354.8 716.0 L354.8 714.6 L354.9 713.3 L355.1 711.9 L355.3 710.6 L355.5 709.3 L355.8 708.1 L356.2 706.9 L356.5 705.8 L356.8 704.7 L357.1 703.7 L357.5 702.8 L357.9 701.8 L358.4 700.9 L358.9 700.0 L359.5 699.1 L360.1 698.2 L360.8 697.3 L361.5 696.5 L362.3 695.8 L363.1 695.2 L363.9 694.6 L364.8 694.0 L365.7 693.5 L366.6 692.9 L367.4 692.5 L368.3 692.0 L369.3 691.6 L370.6 691.3 L371.9 691.1 L373.4 690.8 L375.0 690.7 L376.8 690.7 L378.8 690.8 L381.0 691.2 L383.4 691.6 L386.0 692.3 L388.9 693.0 L392.1 693.9 L395.9 695.1 L400.0 696.5 L404.4 698.0 L409.0 699.4 L413.6 700.5 L418.2 701.3 L422.9 702.0 L427.7 702.5 L432.7 702.9 L437.7 703.2 L442.8 703.3 L448.1 703.3 L453.4 703.2 L458.8 702.8 L464.2 702.2 L469.8 701.4 L475.5 700.3 L481.2 699.0 L486.8 697.5 L492.2 695.8 L497.4 693.8 L502.6 691.8 L507.6 689.4 L512.4 686.8 L517.2 683.9 L521.8 680.5 L526.2 676.8 L530.6 672.8 L534.7 668.6 L538.7 664.5 L542.5 660.4 L546.1 656.3 L549.5 652.1 L552.8 647.7 L555.9 643.3 L558.8 638.6 L561.6 633.7 L564.2 628.7 L566.7 623.8 L568.9 619.1 L570.8 614.6 L572.4 610.2 L573.9 605.9 L575.2 601.6 L576.4 597.4 L577.6 593.2 L578.6 588.9 L579.5 584.8 L580.2 580.8 L580.9 577.1 L581.4 574.0 L581.7 571.3 L581.9 568.8 L582.1 566.0 L582.4 562.7 L582.7 558.7 L583.0 554.1 L583.3 549.3 L583.6 544.5 L583.9 540.0 L584.0 535.8 L584.1 531.8 L584.2 527.9 L584.2 524.0 L584.2 520.0 L584.1 516.0 L584.0 512.0 L583.8 508.0 L583.6 504.0 L583.4 500.0 L583.1 496.0 L582.9 492.0 L582.6 488.0 L582.2 484.0 L581.9 480.0 L581.5 476.0 L581.1 472.0 L580.6 468.0 L580.1 464.0 L579.4 460.0 L578.7 456.0 L577.8 452.0 L576.9 448.0 L575.9 444.0 L574.9 440.0 L573.8 436.0 L572.7 432.0 L571.6 428.0 L570.4 424.0 L569.2 420.0 L567.9 416.0 L566.6 412.0 L565.3 408.0 L563.9 404.0 L562.6 400.0 L561.2 396.0 L559.8 392.0 L558.4 388.0 L557.0 384.0 L555.6 380.0 L554.2 376.2 L552.9 372.5 L551.5 368.7 L550.0 364.6 L548.3 360.0 L546.3 354.5 L544.1 348.2 L541.7 341.8 L539.5 335.5 L537.6 330.0 L536.1 325.4 L534.9 321.3 L533.9 317.5 L532.8 313.8 L531.6 310.0 L530.3 306.0 L528.9 302.0 L527.5 298.0 L526.2 294.0 L524.9 290.0 L523.9 286.0 L523.0 282.0 L522.3 278.0 L521.7 274.0 L521.2 270.0 L520.7 265.9 L520.2 261.7 L519.7 257.6 L519.2 253.6 L518.6 250.0 L518.0 246.8 L517.4 244.0 L516.6 241.3 L515.8 238.7 L515.0 236.0Z" fill="url(#pYel)" stroke="#84401f" stroke-width="1.6"/>
<path d="M412.8 236.0 L413.3 238.7 L413.7 241.3 L414.2 244.0 L414.7 246.8 L415.4 250.0 L416.3 253.6 L417.3 257.6 L418.4 261.7 L419.5 265.9 L420.6 270.0 L421.7 274.0 L422.9 278.0 L424.0 282.0 L425.2 286.0 L426.4 290.0 L427.6 294.0 L428.8 298.0 L430.0 302.0 L431.2 306.0 L432.6 310.0 L434.1 313.8 L435.6 317.5 L437.1 321.3 L438.9 325.4 L440.9 330.0 L443.4 335.5 L446.2 341.8 L449.1 348.2 L451.9 354.5 L454.3 360.0 L456.3 364.6 L457.9 368.7 L459.3 372.5 L460.8 376.2 L462.3 380.0 L463.9 384.0 L465.6 388.0 L467.3 392.0 L468.9 396.0 L470.6 400.0 L472.2 404.0 L473.8 408.0 L475.4 412.0 L476.9 416.0 L478.4 420.0 L479.9 424.0 L481.4 428.0 L482.9 432.0 L484.4 436.0 L485.7 440.0 L487.0 444.0 L488.1 448.0 L489.2 452.0 L490.3 456.0 L491.4 460.0 L492.4 464.0 L493.3 468.0 L494.3 472.0 L495.1 476.0 L495.9 480.0 L496.7 484.0 L497.4 488.0 L498.1 492.0 L498.7 496.0 L499.2 500.0 L499.8 504.0 L500.3 508.0 L500.7 512.0 L501.1 516.0 L501.4 520.0 L501.6 524.0 L501.8 528.0 L501.9 532.0 L502.0 536.0 L502.1 540.0 L502.1 544.0 L502.1 548.2 L502.1 552.2 L502.0 556.0 L501.9 559.4 L501.8 562.2 L501.6 564.5 L501.4 566.5 L501.0 568.6 L500.6 570.8 L499.9 573.2 L499.1 575.7 L498.2 578.2 L497.2 580.8 L496.1 583.6 L494.8 586.6 L493.5 589.8 L492.1 593.0 L490.7 596.2 L489.2 599.1 L487.7 601.8 L486.1 604.5 L484.5 607.0 L482.9 609.3 L481.2 611.3 L479.5 613.0 L477.9 614.4 L476.2 615.6 L474.4 616.8 L472.5 618.0 L470.5 619.3 L468.4 620.6 L466.2 621.8 L463.8 623.0 L461.4 624.1 L458.8 625.1 L456.0 626.0 L453.1 626.8 L450.3 627.6 L447.5 628.2 L444.9 628.7 L442.3 629.2 L439.7 629.6 L437.1 629.8 L434.3 630.0 L431.3 630.0 L428.2 629.9 L425.0 629.7 L421.8 629.4 L418.5 629.0 L415.2 628.5 L411.7 627.8 L408.3 627.1 L404.8 626.4 L401.4 625.6 L398.0 624.9 L394.7 624.2 L391.4 623.5 L388.1 622.8 L385.0 622.2 L382.0 621.8 L379.2 621.5 L376.4 621.3 L373.6 621.1 L370.7 621.0 L367.7 621.0 L364.7 621.0 L361.6 621.0 L358.5 621.3 L355.5 621.6 L352.5 622.2 L349.5 623.0 L346.5 623.9 L343.6 624.9 L340.6 626.1 L337.6 627.4 L334.5 628.9 L331.5 630.4 L328.5 632.2 L325.7 634.0 L323.0 636.0 L320.4 638.1 L318.0 640.3 L315.6 642.7 L313.5 645.1 L311.6 647.7 L309.8 650.5 L308.2 653.3 L306.7 656.2 L305.3 659.0 L304.1 661.7 L303.0 664.3 L302.0 666.9 L301.2 669.7 L300.4 672.8 L299.7 676.2 L299.2 679.8 L298.7 683.5 L298.3 687.4 L297.9 691.4 L297.7 695.5 L297.5 699.7 L297.4 704.0 L297.3 708.3 L297.2 712.7 L297.3 717.1 L297.3 721.4 L297.4 725.8 L297.6 730.4 L297.9 735.0 L298.3 739.7 L298.8 744.3 L299.4 749.2 L300.1 754.3 L300.6 760.0 L301.2 766.4 L301.7 773.3 L302.2 780.5 L302.8 787.8 L303.3 795.0 L351.2 795.0 L350.7 787.8 L350.3 780.3 L349.8 772.9 L349.3 766.0 L348.9 760.0 L348.5 755.0 L348.0 750.9 L347.6 747.3 L347.3 743.9 L346.9 740.6 L346.7 737.3 L346.4 734.2 L346.2 731.2 L346.1 728.4 L345.9 725.8 L345.9 723.4 L345.8 721.1 L345.9 719.0 L345.9 717.0 L345.9 715.0 L346.0 713.1 L346.1 711.3 L346.2 709.6 L346.4 707.9 L346.6 706.2 L347.0 704.5 L347.3 702.9 L347.7 701.3 L348.2 699.8 L348.7 698.4 L349.2 697.1 L349.8 695.8 L350.4 694.6 L351.1 693.5 L351.8 692.3 L352.6 691.1 L353.5 689.9 L354.5 688.8 L355.5 687.7 L356.6 686.7 L357.7 685.8 L358.8 684.9 L360.0 684.2 L361.2 683.5 L362.4 682.8 L363.6 682.2 L364.7 681.7 L365.9 681.2 L367.1 680.8 L368.5 680.5 L370.0 680.2 L371.6 680.0 L373.2 679.9 L375.1 679.9 L377.2 680.0 L379.5 680.1 L382.0 680.3 L384.7 680.7 L387.6 681.2 L390.9 681.9 L394.5 682.8 L398.5 684.1 L402.8 685.4 L407.1 686.7 L411.5 687.8 L415.9 688.6 L420.4 689.3 L425.0 689.9 L429.7 690.3 L434.4 690.6 L439.2 690.9 L444.1 691.1 L449.0 691.1 L453.9 690.9 L458.9 690.5 L463.9 689.9 L469.0 689.1 L474.1 688.1 L479.2 686.9 L484.0 685.5 L488.7 683.9 L493.2 682.1 L497.6 680.0 L501.9 677.8 L506.1 675.3 L510.2 672.6 L514.3 669.6 L518.2 666.4 L522.0 663.0 L525.6 659.6 L529.1 656.1 L532.4 652.5 L535.5 648.8 L538.6 644.9 L541.5 640.8 L544.4 636.5 L547.1 631.9 L549.8 627.1 L552.2 622.4 L554.5 617.9 L556.5 613.5 L558.4 609.2 L560.0 605.0 L561.5 600.8 L562.9 596.6 L564.2 592.3 L565.3 587.9 L566.3 583.6 L567.2 579.6 L568.0 575.9 L568.5 572.9 L568.8 570.4 L569.0 568.0 L569.2 565.5 L569.5 562.3 L569.8 558.4 L570.1 553.9 L570.4 549.2 L570.7 544.5 L571.0 540.0 L571.1 535.9 L571.1 531.8 L571.2 527.9 L571.1 524.0 L571.1 520.0 L571.0 516.0 L570.9 512.0 L570.8 508.0 L570.6 504.0 L570.5 500.0 L570.2 496.0 L570.0 492.0 L569.7 488.0 L569.4 484.0 L569.0 480.0 L568.5 476.0 L568.0 472.0 L567.4 468.0 L566.7 464.0 L565.9 460.0 L565.0 456.0 L563.9 452.0 L562.8 448.0 L561.6 444.0 L560.5 440.0 L559.4 436.0 L558.2 432.0 L557.1 428.0 L555.9 424.0 L554.6 420.0 L553.3 416.0 L552.0 412.0 L550.6 408.0 L549.2 404.0 L547.8 400.0 L546.4 396.0 L545.1 392.0 L543.7 388.0 L542.3 384.0 L540.8 380.0 L539.3 376.2 L537.7 372.5 L536.1 368.7 L534.4 364.6 L532.5 360.0 L530.6 354.5 L528.4 348.2 L526.2 341.8 L524.1 335.5 L522.2 330.0 L520.8 325.4 L519.6 321.3 L518.5 317.5 L517.4 313.8 L516.2 310.0 L515.0 306.0 L513.7 302.0 L512.4 298.0 L511.2 294.0 L509.9 290.0 L508.8 286.0 L507.6 282.0 L506.4 278.0 L505.1 274.0 L503.9 270.0 L502.6 265.9 L501.2 261.7 L499.9 257.6 L498.7 253.6 L497.6 250.0 L496.6 246.8 L495.7 244.0 L494.9 241.3 L494.2 238.7 L493.4 236.0Z" fill="url(#pTex)" stroke="#7c3222" stroke-width="1.2"/>
<path d="M420.7 236.0 L421.2 238.7 L421.6 241.3 L422.0 244.0 L422.6 246.8 L423.2 250.0 L424.1 253.6 L425.1 257.6 L426.1 261.7 L427.2 265.9 L428.3 270.0 L429.4 274.0 L430.5 278.0 L431.6 282.0 L432.8 286.0 L433.9 290.0 L435.1 294.0 L436.2 298.0 L437.3 302.0 L438.6 306.0 L440.0 310.0 L441.5 313.8 L443.1 317.5 L444.8 321.3 L446.7 325.4 L448.7 330.0 L451.2 335.5 L453.9 341.8 L456.8 348.2 L459.5 354.5 L461.7 360.0 L463.5 364.6 L465.0 368.7 L466.2 372.5 L467.4 376.2 L468.8 380.0 L470.3 384.0 L471.9 388.0 L473.5 392.0 L475.1 396.0 L476.6 400.0 L478.1 404.0 L479.6 408.0 L481.0 412.0 L482.4 416.0 L483.8 420.0 L485.3 424.0 L486.8 428.0 L488.2 432.0 L489.6 436.0 L491.0 440.0 L492.2 444.0 L493.4 448.0 L494.5 452.0 L495.5 456.0 L496.5 460.0 L497.5 464.0 L498.4 468.0 L499.2 472.0 L500.0 476.0 L500.8 480.0 L501.5 484.0 L502.2 488.0 L502.8 492.0 L503.4 496.0 L503.9 500.0 L504.4 504.0 L504.9 508.0 L505.3 512.0 L505.7 516.0 L506.0 520.0 L506.2 524.0 L506.4 528.0 L506.4 532.0 L506.5 536.0 L506.6 540.0 L506.6 544.1 L506.6 548.3 L506.6 552.4 L506.6 556.3 L506.5 559.7 L506.3 562.6 L506.2 564.9 L505.9 567.0 L505.6 569.1 L505.1 571.5 L504.4 574.0 L503.6 576.6 L502.7 579.3 L501.7 582.1 L500.6 585.0 L499.3 588.1 L498.0 591.4 L496.6 594.9 L495.1 598.2 L493.6 601.3 L492.1 604.3 L490.5 607.1 L488.9 609.8 L487.3 612.3 L485.6 614.5 L483.9 616.3 L482.3 617.7 L480.5 619.0 L478.7 620.1 L476.8 621.4 L474.7 622.8 L472.5 624.2 L470.2 625.5 L467.7 626.8 L465.1 628.0 L462.3 629.1 L459.3 630.1 L456.2 631.0 L453.1 631.9 L450.1 632.6 L447.2 633.3 L444.4 633.8 L441.6 634.2 L438.8 634.6 L435.8 634.8 L432.7 634.9 L429.5 634.9 L426.1 634.7 L422.8 634.5 L419.4 634.1 L415.9 633.6 L412.3 632.9 L408.8 632.2 L405.2 631.4 L401.7 630.7 L398.3 629.9 L394.9 629.1 L391.5 628.3 L388.2 627.5 L385.0 626.9 L382.0 626.5 L379.2 626.1 L376.4 625.9 L373.7 625.7 L370.9 625.6 L368.0 625.4 L365.1 625.4 L362.2 625.3 L359.3 625.5 L356.4 625.8 L353.5 626.4 L350.6 627.1 L347.7 627.9 L344.8 628.9 L342.0 630.0 L339.0 631.2 L336.1 632.6 L333.1 634.1 L330.3 635.7 L327.6 637.4 L325.0 639.2 L322.6 641.1 L320.2 643.2 L318.1 645.3 L316.1 647.6 L314.2 650.1 L312.6 652.7 L311.1 655.4 L309.8 658.1 L308.5 660.7 L307.4 663.2 L306.4 665.6 L305.6 668.0 L304.8 670.6 L304.1 673.5 L303.5 676.7 L303.0 680.3 L302.6 684.0 L302.3 687.8 L301.9 691.7 L301.7 695.8 L301.4 699.9 L301.3 704.2 L301.2 708.5 L301.1 712.9 L301.0 717.2 L301.0 721.5 L301.0 725.9 L301.1 730.4 L301.3 735.0 L301.7 739.7 L302.2 744.3 L302.8 749.1 L303.4 754.3 L304.0 760.0 L304.5 766.4 L305.0 773.3 L305.5 780.5 L306.0 787.8 L306.5 795.0 L347.1 795.0 L346.7 787.8 L346.2 780.3 L345.8 772.9 L345.4 766.0 L345.0 760.0 L344.6 755.0 L344.2 750.8 L343.9 747.1 L343.6 743.7 L343.3 740.3 L343.0 736.8 L342.8 733.6 L342.6 730.5 L342.4 727.6 L342.3 724.8 L342.2 722.2 L342.2 719.8 L342.2 717.6 L342.2 715.4 L342.3 713.3 L342.4 711.3 L342.5 709.3 L342.7 707.4 L342.9 705.6 L343.2 703.8 L343.5 702.0 L343.9 700.3 L344.4 698.5 L344.9 696.9 L345.5 695.3 L346.1 693.9 L346.7 692.5 L347.4 691.2 L348.2 690.0 L349.1 688.7 L350.0 687.4 L351.1 686.2 L352.2 684.9 L353.4 683.7 L354.6 682.6 L355.8 681.6 L357.1 680.7 L358.4 679.9 L359.7 679.1 L361.0 678.4 L362.3 677.7 L363.6 677.2 L364.8 676.7 L366.2 676.3 L367.6 675.9 L369.2 675.7 L370.8 675.5 L372.5 675.4 L374.4 675.4 L376.5 675.4 L378.9 675.5 L381.4 675.7 L384.1 675.9 L387.1 676.3 L390.4 676.8 L394.0 677.7 L397.9 678.9 L402.1 680.2 L406.4 681.5 L410.6 682.5 L415.0 683.3 L419.4 684.0 L423.9 684.6 L428.4 685.1 L433.0 685.5 L437.7 685.8 L442.4 686.0 L447.2 686.1 L451.9 686.0 L456.7 685.7 L461.5 685.2 L466.4 684.5 L471.2 683.6 L476.0 682.5 L480.6 681.2 L485.0 679.7 L489.3 678.0 L493.5 676.1 L497.5 674.0 L501.5 671.7 L505.4 669.3 L509.3 666.6 L513.0 663.7 L516.7 660.7 L520.2 657.6 L523.5 654.3 L526.7 650.9 L529.7 647.4 L532.7 643.7 L535.5 639.8 L538.4 635.6 L541.1 631.1 L543.8 626.5 L546.3 621.9 L548.5 617.4 L550.6 613.1 L552.5 608.8 L554.2 604.6 L555.8 600.4 L557.3 596.3 L558.6 591.9 L559.8 587.5 L560.9 583.2 L561.8 579.1 L562.6 575.4 L563.1 572.4 L563.5 570.0 L563.7 567.7 L563.9 565.2 L564.1 562.1 L564.4 558.2 L564.8 553.8 L565.1 549.1 L565.4 544.4 L565.6 540.0 L565.7 535.9 L565.8 531.8 L565.7 527.9 L565.7 524.0 L565.7 520.0 L565.6 516.0 L565.5 512.0 L565.4 508.0 L565.3 504.0 L565.1 500.0 L564.9 496.0 L564.6 492.0 L564.4 488.0 L564.0 484.0 L563.6 480.0 L563.1 476.0 L562.5 472.0 L561.9 468.0 L561.1 464.0 L560.3 460.0 L559.3 456.0 L558.2 452.0 L557.0 448.0 L555.7 444.0 L554.5 440.0 L553.4 436.0 L552.2 432.0 L551.1 428.0 L549.9 424.0 L548.6 420.0 L547.3 416.0 L545.9 412.0 L544.5 408.0 L543.1 404.0 L541.7 400.0 L540.3 396.0 L539.0 392.0 L537.6 388.0 L536.2 384.0 L534.7 380.0 L533.1 376.2 L531.4 372.5 L529.7 368.7 L527.9 364.6 L526.0 360.0 L524.0 354.5 L521.9 348.2 L519.7 341.8 L517.7 335.5 L515.9 330.0 L514.4 325.4 L513.2 321.3 L512.1 317.5 L511.0 313.8 L509.9 310.0 L508.7 306.0 L507.4 302.0 L506.2 298.0 L505.0 294.0 L503.7 290.0 L502.5 286.0 L501.3 282.0 L500.1 278.0 L498.8 274.0 L497.5 270.0 L496.2 265.9 L494.9 261.7 L493.5 257.6 L492.3 253.6 L491.1 250.0 L490.1 246.8 L489.3 244.0 L488.5 241.3 L487.8 238.7 L487.0 236.0Z" fill="#f8cfc4" stroke="#c88076" stroke-width="0.4"/>
<path d="M425.0 236.0 L425.5 238.7 L425.9 241.3 L426.3 244.0 L426.8 246.8 L427.5 250.0 L428.3 253.6 L429.3 257.6 L430.3 261.7 L431.4 265.9 L432.5 270.0 L433.6 274.0 L434.6 278.0 L435.7 282.0 L436.9 286.0 L438.0 290.0 L439.1 294.0 L440.2 298.0 L441.4 302.0 L442.6 306.0 L444.0 310.0 L445.5 313.8 L447.2 317.5 L449.0 321.3 L450.9 325.4 L453.0 330.0 L455.4 335.5 L458.2 341.8 L461.0 348.2 L463.7 354.5 L466.0 360.0 L467.8 364.6 L469.2 368.7 L470.4 372.5 L471.6 376.2 L473.0 380.0 L474.6 384.0 L476.2 388.0 L477.8 392.0 L479.4 396.0 L481.0 400.0 L482.5 404.0 L483.9 408.0 L485.2 412.0 L486.6 416.0 L488.0 420.0 L489.4 424.0 L490.9 428.0 L492.3 432.0 L493.7 436.0 L495.0 440.0 L496.2 444.0 L497.4 448.0 L498.5 452.0 L499.5 456.0 L500.5 460.0 L501.4 464.0 L502.3 468.0 L503.0 472.0 L503.8 476.0 L504.5 480.0 L505.2 484.0 L505.8 488.0 L506.4 492.0 L507.0 496.0 L507.5 500.0 L508.0 504.0 L508.4 508.0 L508.9 512.0 L509.2 516.0 L509.5 520.0 L509.7 524.0 L509.8 528.0 L509.9 532.0 L510.0 536.0 L510.0 540.0 L510.1 544.1 L510.1 548.4 L510.1 552.6 L510.1 556.5 L510.0 560.0 L509.8 562.9 L509.7 565.3 L509.4 567.4 L509.0 569.6 L508.5 572.0 L507.8 574.6 L507.0 577.3 L506.1 580.1 L505.1 583.0 L504.0 586.0 L502.8 589.3 L501.4 592.7 L500.0 596.3 L498.5 599.7 L497.0 603.0 L495.5 606.1 L493.9 609.2 L492.3 612.0 L490.7 614.7 L489.0 617.0 L487.3 618.8 L485.6 620.3 L483.9 621.5 L482.0 622.7 L480.0 624.0 L477.9 625.4 L475.6 626.9 L473.2 628.3 L470.7 629.7 L468.0 631.0 L465.0 632.2 L461.8 633.3 L458.5 634.3 L455.2 635.2 L452.0 636.0 L449.0 636.7 L446.0 637.3 L443.1 637.8 L440.1 638.2 L437.0 638.5 L433.7 638.6 L430.4 638.7 L427.0 638.6 L423.5 638.3 L420.0 638.0 L416.4 637.5 L412.8 636.8 L409.2 636.1 L405.6 635.3 L402.0 634.5 L398.5 633.7 L395.0 632.8 L391.5 631.9 L388.2 631.1 L385.0 630.5 L382.0 630.0 L379.2 629.6 L376.5 629.4 L373.8 629.2 L371.0 629.0 L368.2 628.8 L365.4 628.7 L362.6 628.6 L359.8 628.7 L357.0 629.0 L354.2 629.5 L351.4 630.2 L348.6 631.0 L345.8 631.9 L343.0 633.0 L340.2 634.2 L337.3 635.5 L334.4 636.9 L331.6 638.4 L329.0 640.0 L326.5 641.7 L324.2 643.5 L322.0 645.4 L319.9 647.4 L318.0 649.5 L316.3 651.8 L314.8 654.3 L313.4 656.9 L312.1 659.5 L311.0 662.0 L310.0 664.3 L309.1 666.5 L308.3 668.8 L307.6 671.2 L307.0 674.0 L306.5 677.2 L306.0 680.6 L305.6 684.3 L305.3 688.1 L305.0 692.0 L304.7 696.0 L304.5 700.1 L304.3 704.4 L304.1 708.7 L304.0 713.0 L303.9 717.3 L303.8 721.6 L303.8 725.9 L303.8 730.4 L304.0 735.0 L304.3 739.6 L304.8 744.3 L305.4 749.1 L306.0 754.3 L306.5 760.0 L307.0 766.4 L307.5 773.3 L308.0 780.5 L308.5 787.8 L309.0 795.0 L344.0 795.0 L343.6 787.8 L343.2 780.3 L342.8 772.9 L342.4 766.0 L342.0 760.0 L341.7 755.0 L341.3 750.7 L341.0 747.0 L340.8 743.5 L340.5 740.0 L340.3 736.5 L340.0 733.1 L339.8 729.9 L339.6 726.9 L339.5 724.0 L339.4 721.3 L339.4 718.8 L339.4 716.5 L339.4 714.2 L339.5 712.0 L339.6 709.9 L339.8 707.8 L339.9 705.8 L340.2 703.9 L340.5 702.0 L340.9 700.1 L341.3 698.2 L341.8 696.4 L342.4 694.7 L343.0 693.0 L343.7 691.5 L344.4 690.0 L345.2 688.7 L346.0 687.3 L347.0 686.0 L348.1 684.6 L349.2 683.3 L350.4 681.9 L351.7 680.7 L353.0 679.5 L354.3 678.4 L355.7 677.5 L357.2 676.6 L358.6 675.7 L360.0 675.0 L361.4 674.3 L362.7 673.8 L364.1 673.3 L365.5 672.8 L367.0 672.5 L368.6 672.2 L370.2 672.1 L371.9 672.0 L373.8 672.0 L376.0 672.0 L378.4 672.0 L381.0 672.1 L383.7 672.2 L386.7 672.5 L390.0 673.0 L393.6 673.9 L397.5 675.0 L401.6 676.3 L405.8 677.5 L410.0 678.5 L414.3 679.3 L418.6 680.0 L423.0 680.6 L427.5 681.1 L432.0 681.5 L436.5 681.8 L441.1 682.1 L445.8 682.2 L450.4 682.2 L455.0 682.0 L459.6 681.6 L464.3 681.0 L469.0 680.2 L473.6 679.2 L478.0 678.0 L482.2 676.6 L486.3 675.0 L490.3 673.1 L494.2 671.1 L498.0 669.0 L501.8 666.7 L505.5 664.3 L509.1 661.7 L512.6 658.9 L516.0 656.0 L519.2 652.9 L522.3 649.7 L525.3 646.4 L528.2 642.8 L531.0 639.0 L533.8 634.9 L536.5 630.5 L539.2 626.0 L541.7 621.4 L544.0 617.0 L546.1 612.7 L548.1 608.5 L549.8 604.4 L551.5 600.2 L553.0 596.0 L554.4 591.7 L555.6 587.2 L556.8 582.8 L557.7 578.7 L558.5 575.0 L559.1 572.0 L559.4 569.7 L559.6 567.5 L559.8 565.0 L560.0 562.0 L560.3 558.1 L560.7 553.8 L561.0 549.1 L561.3 544.4 L561.5 540.0 L561.6 535.9 L561.6 531.9 L561.6 527.9 L561.6 524.0 L561.5 520.0 L561.4 516.0 L561.4 512.0 L561.3 508.0 L561.2 504.0 L561.0 500.0 L560.8 496.0 L560.6 492.0 L560.3 488.0 L559.9 484.0 L559.5 480.0 L559.0 476.0 L558.4 472.0 L557.7 468.0 L556.9 464.0 L556.0 460.0 L555.0 456.0 L553.8 452.0 L552.5 448.0 L551.2 444.0 L550.0 440.0 L548.8 436.0 L547.6 432.0 L546.5 428.0 L545.3 424.0 L544.0 420.0 L542.7 416.0 L541.3 412.0 L539.8 408.0 L538.4 404.0 L537.0 400.0 L535.6 396.0 L534.3 392.0 L532.9 388.0 L531.5 384.0 L530.0 380.0 L528.3 376.2 L526.6 372.5 L524.8 368.7 L522.9 364.6 L521.0 360.0 L519.0 354.5 L516.9 348.2 L514.8 341.8 L512.8 335.5 L511.0 330.0 L509.5 325.4 L508.3 321.3 L507.2 317.5 L506.1 313.8 L505.0 310.0 L503.8 306.0 L502.6 302.0 L501.4 298.0 L500.2 294.0 L499.0 290.0 L497.8 286.0 L496.6 282.0 L495.4 278.0 L494.2 274.0 L493.0 270.0 L491.8 265.9 L490.5 261.7 L489.3 257.6 L488.1 253.6 L487.0 250.0 L486.1 246.8 L485.3 244.0 L484.5 241.3 L483.8 238.7 L483.0 236.0Z" fill="#b23628" stroke="#8e2a20" stroke-width="1"/>
<g clip-path="url(#lumen)">
<g filter="url(#b1)"><path d="M480.7 623.4 L475.3 627.1 L469.1 630.6 L461.5 633.7 L453.3 636.1 L445.8 637.9 L438.3 639.1 L430.0 639.4 L421.3 639.0 L412.2 637.6 L403.1 635.7 L394.3 633.7 L385.9 631.7 L378.6 630.6 L371.7 630.1 L364.7 629.7 L357.8 630.0 L350.8 631.4 L343.8 633.7 L336.7 636.8 L329.8 640.5 L323.8 644.9 L318.7 649.9 L314.7 655.9 L311.6 662.3" fill="none" stroke="#c44e3c" stroke-width="2.4" opacity="0.66" stroke-linecap="round"/><path d="M345.0 670.9 L343.6 672.0 L342.3 673.2 L341.0 674.4 L339.8 675.6 L338.7 676.8 L337.7 678.1 L336.8 679.5 L336.0 680.9 L335.2 682.3 L334.5 683.9 L333.9 685.4 L333.3 687.0 L332.8 688.6 L332.3 690.3 L331.9 692.0 L331.6 693.9 L331.3 695.8 L331.1 697.8 L330.9 699.8 L330.7 701.9 L330.6 704.0 L330.4 706.2 L330.3 708.5 L330.2 710.8" fill="none" stroke="#c44e3c" stroke-width="3.2" opacity="0.51" stroke-linecap="round"/><path d="M438.2 652.3 L429.5 652.2 L420.6 651.4 L411.7 649.9 L402.9 648.1 L394.4 645.9 L386.5 644.0 L379.7 643.1 L373.5 642.7 L367.6 642.5 L362.0 642.6 L356.5 643.6 L351.1 645.4 L345.7 647.7 L340.2 650.6 L335.2 654.0 L330.8 657.9 L327.0 662.3 L324.1 667.2 L321.8 672.4 L320.1 677.3 L318.8 682.7 L317.9 689.1 L317.4 696.4 L317.0 704.2" fill="none" stroke="#8c241c" stroke-width="1.7" opacity="0.30" stroke-linecap="round"/><path d="M347.2 648.7 L344.7 649.9 L342.2 651.3 L339.7 652.7 L337.4 654.2 L335.2 655.8 L333.2 657.6 L331.2 659.4 L329.4 661.3 L327.7 663.4 L326.3 665.5 L325.0 667.8 L323.8 670.2 L322.8 672.6 L321.9 674.9 L321.2 677.2 L320.5 679.5 L320.0 681.9 L319.5 684.7 L319.2 687.7 L318.9 690.9 L318.7 694.3 L318.6 697.7 L318.5 701.3 L318.5 704.9" fill="none" stroke="#c44e3c" stroke-width="2.3" opacity="0.61" stroke-linecap="round"/><path d="M526.1 397.1 L531.0 411.3 L535.5 425.4 L539.7 439.6 L543.8 453.7 L547.0 467.9 L549.0 482.1 L550.1 496.2 L550.7 510.4 L551.0 524.5 L550.9 538.7 L550.1 554.4 L549.2 566.4 L547.8 575.4 L544.2 589.1 L539.0 603.4 L532.2 617.8 L523.6 632.3 L514.3 643.8 L503.7 653.3 L491.5 661.2 L478.2 667.4 L463.6 671.4 L448.3 673.2 L432.9 672.8" fill="none" stroke="#d87460" stroke-width="4.0" opacity="0.38" stroke-linecap="round"/><path d="M519.9 368.3 L524.1 377.6 L527.9 387.5 L531.3 397.5 L534.8 407.5 L538.2 417.5 L541.4 427.5 L544.4 437.5 L547.6 447.5 L550.6 457.4 L552.9 467.4 L554.7 477.4 L555.9 487.4 L556.8 497.4 L557.4 507.4 L557.8 517.4 L558.1 527.3 L558.3 537.3 L558.0 548.3 L557.4 559.3 L556.9 566.9 L556.3 572.8 L554.5 581.8 L551.6 592.6 L547.9 603.0" fill="none" stroke="#e08c78" stroke-width="2.4" opacity="0.45" stroke-linecap="round"/><path d="M520.8 383.9 L523.3 390.8 L525.7 397.7 L528.2 404.7 L530.7 411.6 L533.0 418.5 L535.3 425.4 L537.4 432.4 L539.4 439.3 L541.4 446.2 L543.4 453.2 L545.2 460.1 L546.5 467.0 L547.5 473.9 L548.3 480.9 L548.9 487.8 L549.2 494.7 L549.5 501.7 L549.7 508.6 L549.7 515.5 L549.7 522.4 L549.7 529.3 L549.5 536.2 L549.2 543.5 L548.7 551.4" fill="none" stroke="#d87460" stroke-width="2.2" opacity="0.41" stroke-linecap="round"/><path d="M539.2 486.8 L540.4 501.1 L541.1 515.4 L541.4 529.6 L541.2 544.3 L540.5 559.7 L539.7 569.2 L537.5 579.8 L533.3 593.3 L527.6 607.3 L520.4 621.3 L512.1 633.6 L503.0 642.7 L492.3 650.8 L480.0 657.4 L466.5 662.2 L452.3 664.9 L437.6 665.5 L422.8 664.3 L408.1 661.9 L394.1 658.2 L382.4 655.9 L373.0 655.4 L365.1 655.4 L358.0 656.8" fill="none" stroke="#9a2a20" stroke-width="2.1" opacity="0.59" stroke-linecap="round"/><path d="M357.5 667.0 L355.7 668.0 L353.8 669.1 L352.0 670.4 L350.3 671.7 L348.6 673.1 L347.0 674.7 L345.5 676.3 L344.1 678.0 L342.7 679.7 L341.5 681.4 L340.4 683.1 L339.5 684.9 L338.6 686.7 L337.7 688.6 L337.0 690.6 L336.3 692.7 L335.7 694.8 L335.2 697.1 L334.8 699.4 L334.5 701.8 L334.2 704.3 L334.0 707.0 L333.9 709.7 L333.8 712.6" fill="none" stroke="#d0604a" stroke-width="2.6" opacity="0.68" stroke-linecap="round"/><path d="M525.1 481.0 L526.5 491.3 L527.6 501.6 L528.5 511.8 L529.1 522.1 L529.4 532.3 L529.4 542.7 L529.3 553.9 L529.0 563.0 L528.5 569.1 L527.2 575.9 L524.8 584.5 L521.7 593.6 L517.8 603.3 L513.2 612.7 L508.1 621.7 L502.7 628.9 L496.9 634.2 L490.3 639.3 L482.8 644.1 L474.4 648.0 L465.2 651.3 L456.0 653.5 L446.7 654.8 L437.0 655.2" fill="none" stroke="#8c241c" stroke-width="1.7" opacity="0.62" stroke-linecap="round"/><path d="M420.0 673.0 L411.3 671.4 L402.8 669.4 L394.7 666.9 L387.5 665.2 L381.4 664.5 L376.1 664.4 L371.5 664.3 L367.6 664.5 L363.9 665.1 L360.5 666.1 L357.3 667.6 L353.9 669.3 L350.5 671.5 L347.4 674.0 L344.5 676.9 L342.0 680.0 L339.9 683.1 L338.2 686.4 L336.8 690.0 L335.6 693.9 L334.7 698.0 L334.0 702.4 L333.6 707.2 L333.3 712.3" fill="none" stroke="#9a2a20" stroke-width="2.6" opacity="0.61" stroke-linecap="round"/><path d="M536.4 554.6 L536.0 560.8 L535.6 565.3 L535.1 568.9 L534.3 572.9 L533.0 578.0 L531.3 583.6 L529.3 589.5 L527.0 595.5 L524.4 601.7 L521.6 607.8 L518.5 613.8 L515.1 619.9 L511.6 625.5 L508.0 630.3 L504.3 634.3 L500.4 637.9 L496.1 641.4 L491.6 644.9 L486.7 648.1 L481.4 651.0 L475.9 653.6 L470.0 655.8 L464.0 657.7 L458.0 659.1" fill="none" stroke="#a83226" stroke-width="1.3" opacity="0.52" stroke-linecap="round"/><path d="M372.8 671.9 L370.2 672.1 L367.9 672.4 L365.6 672.9 L363.6 673.5 L361.7 674.3 L359.7 675.3 L357.6 676.4 L355.5 677.7 L353.5 679.1 L351.5 680.7 L349.7 682.5 L347.9 684.4 L346.3 686.3 L344.9 688.2 L343.7 690.1 L342.6 692.2 L341.6 694.6 L340.7 697.1 L339.9 699.8 L339.3 702.5 L338.9 705.3 L338.6 708.3 L338.4 711.4 L338.2 714.8" fill="none" stroke="#d0604a" stroke-width="1.8" opacity="0.47" stroke-linecap="round"/><path d="M549.3 441.0 L551.2 447.1 L553.1 453.1 L554.9 459.2 L556.3 465.2 L557.5 471.3 L558.5 477.3 L559.3 483.4 L560.0 489.4 L560.4 495.5 L560.8 501.5 L561.1 507.6 L561.3 513.6 L561.4 519.7 L561.5 525.7 L561.6 531.6 L561.4 537.7 L561.1 544.3 L560.6 551.3 L560.0 558.1 L559.5 563.5 L559.1 567.5 L558.6 570.9 L557.7 575.1 L556.3 580.9" fill="none" stroke="#a83226" stroke-width="1.9" opacity="0.52" stroke-linecap="round"/><path d="M415.7 670.2 L407.4 668.6 L399.2 666.4 L391.6 664.1 L384.9 662.9 L379.3 662.4 L374.2 662.1 L369.9 662.0 L366.0 662.1 L362.2 662.7 L358.8 663.7 L355.3 665.0 L351.6 666.8 L348.1 668.9 L344.8 671.4 L341.8 674.3 L339.2 677.3 L337.0 680.6 L335.3 684.0 L333.8 687.7 L332.6 691.6 L331.8 695.9 L331.2 700.6 L330.8 705.6 L330.6 711.0" fill="none" stroke="#9a2a20" stroke-width="2.3" opacity="0.60" stroke-linecap="round"/><path d="M517.8 478.1 L518.9 484.4 L519.8 490.8 L520.6 497.1 L521.2 503.5 L521.8 509.8 L522.3 516.1 L522.6 522.5 L522.7 528.8 L522.8 535.1 L522.8 541.6 L522.7 548.4 L522.6 555.1 L522.4 560.9 L522.2 565.1 L521.8 568.7 L521.2 572.5 L520.2 577.1 L518.8 582.1 L517.2 587.4 L515.3 592.9 L513.2 598.8 L510.8 604.6 L508.2 610.2 L505.5 615.7" fill="none" stroke="#d87460" stroke-width="1.8" opacity="0.33" stroke-linecap="round"/><path d="M507.1 608.5 L500.8 619.3 L494.1 626.8 L486.6 632.4 L477.6 638.0 L466.9 642.4 L455.4 645.7 L444.2 647.5 L432.3 647.9 L419.9 646.8 L407.2 644.5 L394.9 641.5 L383.8 639.0 L374.5 638.1 L365.7 637.7 L357.1 638.5 L348.8 640.9 L340.3 644.7 L332.3 649.6 L325.6 655.5 L320.6 662.6 L316.9 670.3 L314.5 677.7 L312.9 687.5 L311.9 699.2" fill="none" stroke="#8c241c" stroke-width="4.2" opacity="0.34" stroke-linecap="round"/><path d="M385.9 665.1 L381.0 664.5 L376.6 664.3 L372.7 664.1 L369.3 664.0 L366.1 664.2 L363.1 664.7 L360.3 665.5 L357.6 666.6 L354.7 668.0 L351.8 669.6 L349.1 671.4 L346.5 673.6 L344.1 675.9 L341.9 678.5 L340.0 681.0 L338.5 683.7 L337.1 686.5 L335.9 689.5 L334.9 692.6 L334.0 696.0 L333.4 699.6 L332.9 703.4 L332.5 707.4 L332.2 711.7" fill="none" stroke="#9a2a20" stroke-width="1.9" opacity="0.32" stroke-linecap="round"/><path d="M544.4 451.8 L545.9 457.0 L547.2 462.3 L548.4 467.5 L549.4 472.7 L550.3 478.0 L551.1 483.2 L551.7 488.4 L552.2 493.6 L552.7 498.9 L553.1 504.1 L553.4 509.3 L553.6 514.6 L553.8 519.8 L553.9 525.0 L553.9 530.2 L553.9 535.4 L553.8 540.8 L553.4 546.6 L553.0 552.6 L552.5 558.3 L552.1 562.9 L551.7 566.4 L551.4 569.4 L550.8 572.6" fill="none" stroke="#c44e3c" stroke-width="2.5" opacity="0.40" stroke-linecap="round"/><path d="M537.4 406.4 L541.9 419.0 L545.9 431.6 L549.8 444.2 L553.8 456.8 L556.6 469.4 L558.4 482.0 L559.5 494.7 L560.0 507.3 L560.3 519.9 L560.4 532.4 L559.9 545.7 L558.8 559.8 L558.1 568.7 L556.4 577.6 L553.0 590.9 L548.2 604.1 L541.9 617.4 L534.0 631.4 L525.3 643.7 L515.8 653.8 L505.0 662.5 L493.3 669.7 L480.8 675.3 L467.0 679.0" fill="none" stroke="#c44e3c" stroke-width="1.3" opacity="0.44" stroke-linecap="round"/><path d="M527.0 372.2 L533.0 386.2 L538.0 400.7 L543.3 415.3 L548.0 429.8 L552.5 444.4 L557.0 458.9 L560.0 473.4 L561.9 488.0 L562.9 502.5 L563.4 517.1 L563.8 531.4 L563.4 546.9 L562.4 562.6 L561.7 571.7 L559.0 585.1 L554.1 601.1 L547.4 616.6 L538.3 633.2 L527.8 647.9 L516.1 659.9 L502.8 669.6 L488.5 677.3 L472.7 682.4 L455.4 684.8" fill="none" stroke="#e08c78" stroke-width="1.2" opacity="0.43" stroke-linecap="round"/><path d="M517.5 512.5 L518.0 519.5 L518.5 526.6 L518.7 533.6 L518.9 540.7 L519.1 548.2 L519.1 555.6 L519.1 561.7 L518.9 566.1 L518.5 570.0 L517.6 574.7 L516.2 579.9 L514.5 585.5 L512.4 591.5 L509.9 597.9 L507.2 604.2 L504.2 610.2 L501.1 616.0 L497.8 621.0 L494.3 624.8 L490.8 627.7 L486.9 630.6 L482.5 633.6 L477.8 636.5 L472.6 639.0" fill="none" stroke="#d87460" stroke-width="2.7" opacity="0.46" stroke-linecap="round"/><path d="M529.8 431.4 L533.4 443.2 L536.9 454.9 L539.6 466.6 L541.6 478.4 L542.9 490.1 L543.8 501.8 L544.3 513.6 L544.6 525.3 L544.6 537.0 L544.2 549.7 L543.5 561.7 L542.8 569.0 L541.2 577.3 L538.2 588.5 L534.1 599.9 L529.0 611.6 L522.7 623.4 L515.8 633.9 L508.3 642.1 L499.9 649.4 L490.4 655.9 L479.9 661.2 L468.6 665.2 L456.7 667.8" fill="none" stroke="#8c241c" stroke-width="3.3" opacity="0.46" stroke-linecap="round"/><path d="M346.7 645.7 L344.1 646.9 L341.5 648.3 L338.9 649.8 L336.5 651.4 L334.2 653.1 L332.1 655.0 L330.1 656.9 L328.2 659.0 L326.5 661.2 L325.0 663.5 L323.7 665.9 L322.5 668.3 L321.4 670.8 L320.4 673.1 L319.6 675.4 L318.8 677.7 L318.1 680.1 L317.5 682.7 L316.9 685.7 L316.5 688.9 L316.1 692.4 L315.7 695.9 L315.4 699.5 L315.1 703.3" fill="none" stroke="#9a2a20" stroke-width="2.4" opacity="0.31" stroke-linecap="round"/><path d="M489.6 663.8 L480.4 668.1 L470.6 671.3 L460.2 673.4 L449.5 674.4 L438.9 674.4 L428.3 673.6 L417.8 672.2 L407.6 670.3 L397.8 667.5 L388.8 665.0 L381.5 664.1 L375.2 663.8 L370.0 663.6 L365.5 663.9 L361.2 664.8 L357.2 666.3 L353.1 668.3 L349.0 670.9 L345.2 674.0 L341.9 677.5 L339.2 681.3 L337.1 685.3 L335.5 689.6 L334.2 694.4" fill="none" stroke="#d0604a" stroke-width="2.5" opacity="0.36" stroke-linecap="round"/><path d="M487.8 622.4 L483.3 625.5 L478.0 629.1 L472.1 632.6 L465.2 635.5 L457.4 638.0 L450.0 639.9 L442.9 641.3 L435.3 642.0 L427.2 642.0 L418.9 641.4 L410.3 640.0 L401.8 638.3 L393.6 636.3 L385.8 634.6 L379.0 633.8 L372.6 633.4 L366.3 633.2 L360.1 633.3 L353.8 634.5 L347.7 636.4 L341.4 638.9 L335.1 642.0 L329.4 645.7 L324.3 649.8" fill="none" stroke="#c44e3c" stroke-width="1.2" opacity="0.52" stroke-linecap="round"/><path d="M532.6 397.8 L537.2 410.7 L541.5 423.7 L545.4 436.7 L549.4 449.7 L552.8 462.7 L555.1 475.6 L556.5 488.6 L557.1 501.6 L557.4 514.6 L557.5 527.5 L557.3 540.6 L556.3 555.3 L555.3 566.4 L554.1 574.4 L551.0 587.1 L546.4 600.7 L540.4 614.1 L532.8 628.2 L524.1 640.9 L514.7 651.1 L503.9 659.9 L492.1 667.2 L479.4 672.9 L465.5 676.6" fill="none" stroke="#d87460" stroke-width="1.7" opacity="0.44" stroke-linecap="round"/><path d="M485.0 386.5 L488.9 396.1 L492.6 405.7 L496.0 415.3 L499.4 424.9 L502.8 434.5 L505.8 444.1 L508.5 453.7 L510.9 463.3 L512.8 472.9 L514.4 482.5 L515.7 492.1 L516.8 501.7 L517.7 511.3 L518.3 520.9 L518.5 530.5 L518.6 540.1 L518.6 550.4 L518.4 559.7 L518.0 566.2 L517.2 571.6 L515.5 578.4 L513.2 585.9 L510.2 594.2 L506.7 602.9" fill="none" stroke="#e08c78" stroke-width="4.1" opacity="0.38" stroke-linecap="round"/><path d="M354.2 676.0 L352.8 676.8 L351.4 677.8 L350.0 678.9 L348.7 680.0 L347.4 681.3 L346.2 682.6 L345.1 684.0 L344.2 685.3 L343.3 686.6 L342.5 688.0 L341.8 689.5 L341.1 691.0 L340.5 692.6 L339.9 694.4 L339.4 696.1 L339.0 697.9 L338.5 699.8 L338.2 701.7 L337.8 703.6 L337.6 705.5 L337.3 707.5 L337.1 709.6 L336.9 711.7 L336.7 714.0" fill="none" stroke="#a83226" stroke-width="2.4" opacity="0.66" stroke-linecap="round"/><path d="M539.5 434.4 L544.0 449.7 L547.8 465.0 L550.2 480.3 L551.4 495.6 L552.1 510.9 L552.4 526.1 L552.2 541.6 L551.1 558.6 L550.2 569.3 L547.8 581.2 L543.0 596.8 L536.4 612.4 L527.6 628.4 L517.7 642.0 L506.4 652.7 L493.3 661.7 L478.9 668.6 L463.0 672.8 L446.2 674.5 L429.5 673.7 L413.1 671.5 L397.4 667.6 L384.2 664.7 L374.2 664.2" fill="none" stroke="#8c241c" stroke-width="3.0" opacity="0.38" stroke-linecap="round"/><path d="M502.3 373.8 L508.9 390.9 L515.1 408.4 L521.0 425.8 L526.5 443.3 L531.4 460.8 L534.7 478.2 L536.8 495.7 L538.1 513.1 L538.7 530.5 L538.5 548.9 L537.6 565.0 L535.8 576.1 L531.2 592.0 L524.2 608.8 L515.0 625.4 L504.7 637.7 L492.4 647.3 L477.7 655.1 L461.3 660.3 L444.1 662.4 L426.4 661.6 L408.7 658.7 L391.9 654.3 L378.5 652.1" fill="none" stroke="#9a2a20" stroke-width="1.6" opacity="0.40" stroke-linecap="round"/><path d="M522.6 373.5 L527.4 385.3 L531.5 397.4 L535.7 409.5 L539.8 421.7 L543.5 433.8 L547.1 445.9 L550.7 458.1 L553.3 470.2 L555.0 482.3 L556.1 494.5 L556.7 506.6 L557.1 518.7 L557.4 530.7 L557.3 543.3 L556.5 557.1 L555.9 566.9 L555.0 574.3 L552.4 586.2 L548.4 599.1 L543.3 611.7 L536.6 624.9 L528.6 637.8 L520.1 648.4 L510.5 657.4" fill="none" stroke="#d0604a" stroke-width="3.2" opacity="0.43" stroke-linecap="round"/><path d="M380.9 648.6 L376.5 648.3 L372.3 648.1 L368.3 648.0 L364.5 648.1 L360.8 648.6 L357.2 649.5 L353.7 650.8 L350.2 652.3 L346.6 654.1 L343.1 656.2 L339.8 658.5 L336.8 661.0 L334.0 663.8 L331.5 666.8 L329.4 670.0 L327.7 673.3 L326.2 676.7 L324.9 680.0 L323.8 683.4 L323.0 687.2 L322.3 691.4 L321.8 696.1 L321.3 701.0 L321.0 706.2" fill="none" stroke="#9a2a20" stroke-width="2.9" opacity="0.47" stroke-linecap="round"/><path d="M530.8 571.5 L530.0 574.7 L529.1 578.3 L528.0 582.2 L526.8 586.2 L525.5 590.2 L524.0 594.3 L522.4 598.6 L520.7 602.9 L518.9 607.2 L516.9 611.4 L514.8 615.6 L512.7 619.7 L510.4 623.7 L508.0 627.2 L505.6 630.3 L503.2 633.0 L500.6 635.5 L497.8 637.9 L494.8 640.3 L491.7 642.7 L488.4 644.9 L484.9 647.0 L481.2 648.9 L477.4 650.6" fill="none" stroke="#8c241c" stroke-width="2.6" opacity="0.48" stroke-linecap="round"/><path d="M387.6 665.8 L382.4 665.3 L377.9 665.1 L373.8 665.1 L370.3 665.1 L367.1 665.3 L364.1 665.8 L361.3 666.5 L358.6 667.5 L355.7 668.8 L352.8 670.2 L350.0 672.0 L347.4 673.9 L344.8 676.2 L342.6 678.6 L340.6 681.1 L338.9 683.7 L337.5 686.5 L336.2 689.5 L335.2 692.7 L334.4 696.1 L333.8 699.7 L333.4 703.6 L333.1 707.8 L333.0 712.1" fill="none" stroke="#d0604a" stroke-width="1.6" opacity="0.47" stroke-linecap="round"/><path d="M519.7 603.6 L517.7 608.1 L515.5 612.4 L513.3 616.8 L510.9 621.1 L508.4 625.0 L505.9 628.5 L503.4 631.4 L500.8 634.1 L498.0 636.7 L495.0 639.2 L491.8 641.8 L488.5 644.2 L484.9 646.5 L481.2 648.6 L477.2 650.5 L473.0 652.3 L468.6 653.8 L464.3 655.2 L459.9 656.3 L455.5 657.1 L451.1 657.8 L446.5 658.2 L441.9 658.4 L437.3 658.4" fill="none" stroke="#d0604a" stroke-width="4.0" opacity="0.43" stroke-linecap="round"/><path d="M422.0 640.9 L414.2 639.8 L406.3 638.3 L398.6 636.7 L391.0 634.9 L384.0 633.5 L377.9 632.7 L372.0 632.4 L366.1 632.1 L360.3 632.2 L354.4 633.1 L348.6 634.7 L342.7 636.9 L336.7 639.6 L331.1 642.8 L326.0 646.4 L321.5 650.5 L317.8 655.2 L314.9 660.5 L312.5 665.7 L310.6 670.5 L309.2 675.9 L308.2 683.0 L307.5 690.9 L307.0 699.3" fill="none" stroke="#e08c78" stroke-width="1.6" opacity="0.64" stroke-linecap="round"/><path d="M397.0 663.8 L390.6 662.2 L385.0 661.3 L380.0 661.0 L375.6 661.1 L371.7 661.1 L368.2 661.4 L364.9 661.9 L361.8 662.7 L358.9 663.9 L356.1 665.3 L353.1 666.9 L350.1 668.8 L347.4 670.9 L344.8 673.3 L342.4 675.9 L340.3 678.6 L338.5 681.4 L337.0 684.3 L335.7 687.3 L334.6 690.5 L333.7 693.9 L333.0 697.6 L332.5 701.5 L332.2 705.6" fill="none" stroke="#8c241c" stroke-width="2.1" opacity="0.62" stroke-linecap="round"/><path d="M446.6 668.5 L438.9 668.7 L431.2 668.4 L423.6 667.8 L416.0 666.9 L408.5 665.7 L401.2 664.0 L394.1 662.1 L387.7 660.7 L382.2 660.1 L377.3 659.9 L372.9 659.9 L369.0 659.9 L365.4 660.2 L362.0 660.8 L358.7 661.8 L355.5 663.1 L352.2 664.7 L348.8 666.6 L345.7 668.8 L342.8 671.3 L340.1 674.1 L337.9 677.0 L336.0 680.0 L334.4 683.3" fill="none" stroke="#d87460" stroke-width="3.5" opacity="0.36" stroke-linecap="round"/><path d="M393.8 643.6 L388.4 642.2 L383.5 641.2 L379.1 640.6 L374.9 640.2 L370.8 640.0 L366.8 639.8 L362.9 639.8 L359.0 640.2 L355.2 641.1 L351.5 642.3 L347.7 643.7 L343.9 645.5 L340.1 647.5 L336.5 649.7 L333.1 652.2 L330.0 654.9 L327.2 657.8 L324.8 660.9 L322.8 664.3 L321.0 667.8 L319.5 671.3 L318.2 674.6 L317.1 678.0 L316.2 681.8" fill="none" stroke="#8c241c" stroke-width="1.8" opacity="0.41" stroke-linecap="round"/><path d="M488.0 371.5 L490.4 377.8 L492.9 384.4 L495.4 391.2 L497.9 397.9 L500.2 404.7 L502.5 411.4 L504.6 418.2 L506.7 424.9 L508.9 431.6 L510.9 438.4 L512.7 445.1 L514.5 451.9 L516.1 458.6 L517.5 465.4 L518.7 472.1 L519.7 478.9 L520.6 485.6 L521.4 492.4 L522.1 499.1 L522.8 505.9 L523.3 512.6 L523.8 519.4 L524.0 526.1 L524.2 532.8" fill="none" stroke="#9a2a20" stroke-width="3.2" opacity="0.66" stroke-linecap="round"/><path d="M529.5 411.2 L533.4 422.8 L536.9 434.5 L540.4 446.2 L543.8 457.9 L546.3 469.6 L548.1 481.3 L549.3 492.9 L550.1 504.6 L550.6 516.3 L550.9 527.9 L551.0 539.7 L550.5 552.8 L549.9 563.9 L549.3 570.8 L547.5 580.2 L544.2 592.2 L539.9 604.0 L534.4 615.9 L527.6 628.3 L520.1 639.1 L512.0 647.8 L502.8 655.5 L492.7 662.1 L481.7 667.4" fill="none" stroke="#9a2a20" stroke-width="4.1" opacity="0.48" stroke-linecap="round"/><path d="M367.7 659.3 L365.0 659.6 L362.3 660.0 L359.7 660.7 L357.3 661.5 L354.7 662.5 L352.1 663.7 L349.5 665.1 L347.0 666.6 L344.6 668.3 L342.3 670.2 L340.2 672.2 L338.2 674.4 L336.6 676.6 L335.1 679.0 L333.9 681.5 L332.8 684.1 L331.8 686.7 L331.0 689.5 L330.4 692.4 L329.9 695.6 L329.6 699.0 L329.3 702.6 L329.2 706.3 L329.1 710.2" fill="none" stroke="#e08c78" stroke-width="2.4" opacity="0.62" stroke-linecap="round"/><path d="M525.0 647.2 L518.0 654.8 L510.2 661.7 L501.8 667.7 L493.0 672.8 L483.7 677.2 L473.8 680.4 L463.0 682.4 L452.1 683.4 L441.3 683.4 L430.7 682.7 L420.3 681.6 L410.2 679.9 L400.5 677.2 L391.5 674.6 L384.0 673.5 L377.9 673.2 L372.9 673.2 L369.0 673.4 L365.5 674.1 L362.4 675.2 L359.2 676.7 L356.0 678.7 L353.0 681.1 L350.2 684.0" fill="none" stroke="#8c241c" stroke-width="1.9" opacity="0.55" stroke-linecap="round"/><path d="M512.1 604.7 L508.4 612.3 L504.4 619.5 L500.1 625.4 L495.6 629.7 L490.7 633.6 L485.2 637.6 L479.1 641.3 L472.3 644.4 L464.8 647.1 L457.3 649.2 L450.0 650.7 L442.4 651.6 L434.5 651.9 L426.4 651.5 L418.2 650.7 L410.0 649.3 L401.9 647.7 L394.0 645.8 L386.7 644.2 L380.3 643.5 L374.6 643.3 L369.1 643.2 L363.9 643.4 L358.8 644.1" fill="none" stroke="#e08c78" stroke-width="3.0" opacity="0.57" stroke-linecap="round"/><path d="M468.8 370.0 L470.8 375.8 L473.1 381.9 L475.8 388.2 L478.4 394.5 L481.0 400.8 L483.2 407.1 L485.4 413.3 L487.6 419.6 L489.8 425.9 L492.0 432.2 L494.1 438.5 L495.9 444.8 L497.6 451.0 L499.2 457.3 L500.6 463.6 L501.8 469.9 L502.9 476.2 L504.0 482.5 L505.0 488.7 L505.9 495.0 L506.7 501.3 L507.5 507.6 L508.2 513.9 L508.7 520.2" fill="none" stroke="#8c241c" stroke-width="2.5" opacity="0.45" stroke-linecap="round"/><path d="M493.1 643.5 L489.4 645.9 L485.5 648.0 L481.5 650.0 L477.2 651.7 L472.8 653.3 L468.3 654.7 L463.7 655.8 L459.2 656.8 L454.7 657.5 L450.1 658.0 L445.5 658.4 L440.8 658.5 L436.0 658.4 L431.2 658.1 L426.4 657.8 L421.6 657.2 L416.8 656.5 L412.0 655.6 L407.3 654.7 L402.7 653.7 L398.1 652.5 L393.6 651.2 L389.3 650.2 L385.4 649.4" fill="none" stroke="#d87460" stroke-width="2.3" opacity="0.34" stroke-linecap="round"/><path d="M492.1 627.6 L485.2 632.7 L477.1 637.9 L467.4 642.1 L456.8 645.3 L446.7 647.3 L436.0 648.0 L424.7 647.5 L413.1 645.8 L401.7 643.3 L390.6 640.4 L381.0 638.5 L372.7 637.8 L364.6 637.4 L356.8 638.0 L349.0 640.1 L341.1 643.3 L333.4 647.5 L326.8 652.6 L321.4 658.7 L317.5 665.8 L314.7 672.5 L312.7 680.0 L311.5 689.9 L310.7 701.1" fill="none" stroke="#d87460" stroke-width="3.7" opacity="0.36" stroke-linecap="round"/><path d="M456.5 673.7 L446.0 674.2 L435.4 673.7 L424.9 672.7 L414.6 671.0 L404.7 668.8 L395.1 665.9 L386.7 663.9 L379.7 663.1 L373.8 662.8 L368.8 662.8 L364.3 663.2 L360.1 664.3 L356.1 665.9 L351.9 668.1 L347.9 670.7 L344.2 673.9 L341.0 677.5 L338.4 681.3 L336.4 685.3 L334.7 689.7 L333.5 694.4 L332.6 699.6 L332.1 705.3 L331.7 711.5" fill="none" stroke="#c44e3c" stroke-width="3.8" opacity="0.61" stroke-linecap="round"/><path d="M478.5 357.1 L484.1 371.7 L488.8 384.5 L494.0 397.8 L498.7 411.1 L503.3 424.4 L507.9 437.7 L511.9 451.0 L515.3 464.3 L517.9 477.6 L520.0 490.9 L521.6 504.2 L522.8 517.6 L523.3 530.8 L523.5 544.4 L523.3 558.3 L522.8 567.4 L521.2 575.8 L518.0 586.5 L513.5 598.3 L508.0 610.2 L501.7 621.0 L495.0 628.5 L487.3 634.4 L478.1 640.1" fill="none" stroke="#9a2a20" stroke-width="3.0" opacity="0.53" stroke-linecap="round"/><path d="M528.0 596.3 L525.3 602.6 L522.4 608.8 L519.1 614.9 L515.5 621.0 L511.8 626.6 L507.9 631.3 L504.0 635.1 L499.8 638.6 L495.2 642.0 L490.4 645.3 L485.2 648.2 L479.7 650.8 L473.8 653.2 L467.8 655.2 L461.7 656.7 L455.6 657.9 L449.4 658.7 L443.1 659.2 L436.7 659.2 L430.2 658.9 L423.7 658.2 L417.2 657.3 L410.7 656.2 L404.4 654.9" fill="none" stroke="#d0604a" stroke-width="2.8" opacity="0.46" stroke-linecap="round"/><path d="M409.2 637.5 L405.2 636.6 L401.4 635.7 L397.5 634.8 L393.7 633.8 L390.0 632.9 L386.5 632.1 L383.1 631.6 L380.0 631.2 L377.0 631.0 L374.1 630.9 L371.1 630.8 L368.1 630.7 L365.2 630.7 L362.2 630.8 L359.2 631.0 L356.3 631.5 L353.3 632.2 L350.4 633.0 L347.4 634.0 L344.5 635.1 L341.5 636.3 L338.4 637.6 L335.4 639.1 L332.4 640.7" fill="none" stroke="#c44e3c" stroke-width="1.6" opacity="0.38" stroke-linecap="round"/><path d="M481.7 651.0 L471.9 655.2 L461.7 658.2 L451.2 660.1 L440.4 660.8 L429.3 660.4 L418.2 659.1 L407.2 657.1 L396.6 654.3 L386.9 651.8 L378.8 650.8 L371.7 650.4 L365.3 650.3 L359.3 651.0 L353.5 652.7 L347.5 655.2 L341.7 658.4 L336.4 662.3 L331.9 666.9 L328.4 672.1 L325.7 677.6 L323.7 683.1 L322.2 689.7 L321.4 697.5 L320.8 706.1" fill="none" stroke="#9a2a20" stroke-width="1.4" opacity="0.55" stroke-linecap="round"/><path d="M540.2 590.9 L535.8 602.6 L530.3 614.4 L523.7 626.4 L516.4 636.8 L508.5 645.0 L499.6 652.4 L489.6 658.8 L478.8 664.0 L467.2 667.7 L454.9 669.9 L442.3 670.6 L429.7 670.0 L417.2 668.5 L405.1 666.2 L393.5 662.9 L383.7 661.0 L375.8 660.6 L369.2 660.4 L363.5 660.9 L358.2 662.4 L352.9 664.7 L347.6 667.7 L342.8 671.5 L338.6 676.0" fill="none" stroke="#8c241c" stroke-width="3.4" opacity="0.49" stroke-linecap="round"/><path d="M527.0 468.1 L528.1 473.8 L529.0 479.5 L529.9 485.1 L530.6 490.8 L531.3 496.4 L531.8 502.1 L532.3 507.7 L532.6 513.4 L532.9 519.1 L533.0 524.7 L533.1 530.3 L533.0 536.0 L532.8 541.8 L532.6 548.0 L532.3 554.1 L531.8 559.7 L531.4 564.0 L531.0 567.3 L530.4 570.4 L529.4 574.3 L528.2 578.8 L526.6 583.6 L524.9 588.6 L523.0 593.7" fill="none" stroke="#d0604a" stroke-width="1.6" opacity="0.66" stroke-linecap="round"/><path d="M558.0 487.3 L558.3 492.2 L558.5 497.2 L558.7 502.1 L558.9 507.0 L559.0 511.9 L559.1 516.8 L559.2 521.7 L559.3 526.6 L559.4 531.4 L559.4 536.3 L559.4 541.5 L559.2 547.0 L559.0 552.8 L558.7 558.2 L558.5 562.7 L558.3 566.1 L558.2 569.0 L558.0 571.8 L557.3 575.5 L556.4 580.2 L555.2 585.4 L553.7 590.8 L552.1 596.1 L550.2 601.2" fill="none" stroke="#a83226" stroke-width="2.5" opacity="0.62" stroke-linecap="round"/><path d="M474.4 641.8 L465.0 645.3 L455.5 647.9 L446.1 649.4 L436.2 649.9 L425.9 649.4 L415.4 647.9 L404.9 645.7 L394.8 643.0 L385.5 640.7 L377.5 639.6 L370.2 639.1 L363.1 638.9 L356.2 639.7 L349.4 641.7 L342.4 644.5 L335.6 648.2 L329.6 652.6 L324.6 657.7 L320.7 663.8 L317.8 670.1 L315.6 676.1 L314.1 683.3 L313.2 692.2 L312.6 702.0" fill="none" stroke="#d87460" stroke-width="1.2" opacity="0.40" stroke-linecap="round"/><path d="M356.8 664.0 L354.8 664.9 L352.8 666.0 L350.8 667.2 L348.9 668.5 L347.0 669.9 L345.3 671.4 L343.6 673.0 L342.0 674.7 L340.5 676.4 L339.2 678.2 L337.9 680.0 L336.8 681.8 L335.8 683.7 L334.9 685.6 L334.0 687.7 L333.2 689.7 L332.5 691.9 L331.9 694.1 L331.4 696.6 L331.0 699.1 L330.6 701.8 L330.3 704.6 L330.1 707.6 L329.9 710.6" fill="none" stroke="#8c241c" stroke-width="2.2" opacity="0.40" stroke-linecap="round"/><path d="M460.5 664.6 L450.5 666.2 L440.3 666.7 L430.0 666.4 L419.7 665.4 L409.6 663.8 L399.7 661.5 L390.5 659.0 L382.6 657.9 L376.0 657.6 L370.2 657.5 L365.1 657.7 L360.3 658.7 L355.7 660.4 L351.0 662.5 L346.4 665.3 L342.2 668.6 L338.4 672.4 L335.4 676.6 L333.1 681.0 L331.2 685.7 L329.8 690.7 L328.9 696.4 L328.4 702.8 L328.1 709.7" fill="none" stroke="#8c241c" stroke-width="2.6" opacity="0.51" stroke-linecap="round"/><path d="M340.9 634.5 L337.9 635.9 L334.9 637.6 L332.0 639.3 L329.4 641.1 L326.8 643.0 L324.4 644.9 L322.1 647.0 L320.0 649.2 L318.1 651.6 L316.4 654.1 L314.9 656.8 L313.5 659.5 L312.2 662.2 L311.1 664.7 L310.1 667.1 L309.3 669.4 L308.5 672.0 L307.9 675.0 L307.3 678.4 L306.9 682.2 L306.6 686.1 L306.3 690.2 L306.1 694.4 L306.0 698.7" fill="none" stroke="#e08c78" stroke-width="1.8" opacity="0.55" stroke-linecap="round"/><path d="M542.0 426.3 L543.4 430.9 L544.8 435.4 L546.1 440.0 L547.5 444.5 L548.9 449.1 L550.2 453.6 L551.4 458.2 L552.4 462.7 L553.2 467.3 L553.8 471.8 L554.3 476.3 L554.8 480.9 L555.1 485.4 L555.3 490.0 L555.4 494.5 L555.5 499.1 L555.5 503.6 L555.5 508.2 L555.5 512.7 L555.5 517.3 L555.4 521.8 L555.4 526.3 L555.4 530.8 L555.4 535.4" fill="none" stroke="#c44e3c" stroke-width="2.2" opacity="0.36" stroke-linecap="round"/><path d="M446.3 637.9 L438.9 639.0 L430.8 639.4 L422.2 639.0 L413.3 637.8 L404.3 636.0 L395.6 634.0 L387.2 632.1 L379.8 631.1 L373.1 630.6 L366.2 630.3 L359.4 630.5 L352.6 631.8 L345.8 634.0 L339.0 636.9 L332.2 640.5 L326.2 644.7 L320.9 649.4 L316.7 655.0 L313.5 661.2 L310.9 667.0 L309.0 672.6 L307.6 680.1 L306.7 689.1 L306.0 698.7" fill="none" stroke="#a83226" stroke-width="1.3" opacity="0.64" stroke-linecap="round"/><path d="M344.6 641.9 L341.8 643.1 L339.0 644.4 L336.2 645.9 L333.6 647.4 L331.2 649.1 L328.8 650.9 L326.6 652.8 L324.6 654.8 L322.8 657.0 L321.2 659.3 L319.7 661.8 L318.5 664.4 L317.3 667.0 L316.3 669.5 L315.5 671.8 L314.8 674.2 L314.2 676.8 L313.6 679.7 L313.2 682.9 L312.9 686.4 L312.6 690.1 L312.4 693.9 L312.2 697.8 L312.0 701.7" fill="none" stroke="#e08c78" stroke-width="3.5" opacity="0.58" stroke-linecap="round"/><path d="M512.2 456.4 L513.4 461.1 L514.6 465.7 L515.7 470.4 L516.7 475.0 L517.7 479.7 L518.6 484.3 L519.5 488.9 L520.3 493.6 L521.0 498.2 L521.7 502.9 L522.3 507.5 L522.9 512.2 L523.4 516.8 L523.7 521.5 L524.0 526.1 L524.2 530.7 L524.3 535.4 L524.3 540.1 L524.3 545.0 L524.3 550.0 L524.2 554.9 L524.0 559.3 L523.8 563.0 L523.6 565.9" fill="none" stroke="#e08c78" stroke-width="3.5" opacity="0.33" stroke-linecap="round"/><path d="M536.4 589.8 L534.3 595.6 L531.9 601.5 L529.2 607.4 L526.3 613.3 L523.1 619.4 L519.6 625.2 L516.0 630.7 L512.4 635.2 L508.6 639.3 L504.6 643.1 L500.3 646.8 L495.7 650.2 L490.9 653.5 L485.8 656.5 L480.4 659.2 L474.8 661.6 L469.1 663.6 L463.2 665.2 L457.1 666.5 L450.9 667.3 L444.7 667.8 L438.3 667.9 L432.0 667.7 L425.7 667.2" fill="none" stroke="#a83226" stroke-width="1.8" opacity="0.43" stroke-linecap="round"/><path d="M504.9 483.9 L506.2 492.1 L507.3 500.3 L508.2 508.5 L509.0 516.6 L509.5 524.8 L509.8 533.0 L510.0 541.2 L510.2 549.8 L510.3 557.8 L510.1 563.9 L509.7 568.4 L508.8 573.3 L507.3 578.9 L505.4 584.9 L503.0 591.7 L500.1 598.9 L497.1 605.6 L493.9 611.8 L490.6 617.1 L487.1 620.8 L483.4 623.5 L479.1 626.3 L474.3 629.4 L468.9 632.1" fill="none" stroke="#9a2a20" stroke-width="3.9" opacity="0.61" stroke-linecap="round"/><path d="M533.3 499.9 L534.4 514.6 L534.8 529.3 L534.8 544.3 L534.1 559.8 L533.3 569.4 L530.8 580.2 L526.5 593.5 L520.5 607.5 L513.2 621.2 L505.1 632.2 L495.9 640.3 L485.1 647.7 L472.5 653.6 L458.9 657.6 L444.9 659.6 L430.3 659.6 L415.5 657.9 L401.1 655.0 L387.7 651.7 L377.1 650.6 L368.0 650.5 L360.0 651.4 L352.4 654.1 L344.6 658.1" fill="none" stroke="#d0604a" stroke-width="2.5" opacity="0.61" stroke-linecap="round"/><path d="M526.1 621.7 L521.7 628.9 L517.2 635.1 L512.6 640.4 L507.6 645.2 L502.2 649.7 L496.4 653.9 L490.2 657.7 L483.7 661.1 L476.9 664.0 L469.8 666.4 L462.5 668.2 L455.0 669.4 L447.4 670.2 L439.7 670.3 L432.0 670.1 L424.3 669.5 L416.7 668.6 L409.3 667.4 L402.0 665.8 L394.9 663.9 L388.4 662.4 L382.9 661.8 L378.0 661.6 L373.6 661.6" fill="none" stroke="#d0604a" stroke-width="2.9" opacity="0.41" stroke-linecap="round"/><path d="M535.1 500.2 L536.0 515.0 L536.4 529.7 L536.3 544.9 L535.7 560.5 L534.8 569.8 L532.3 581.0 L527.8 594.7 L521.8 608.9 L514.2 622.8 L505.9 633.8 L496.4 642.0 L485.1 649.5 L472.2 655.2 L458.3 659.0 L444.0 660.6 L429.1 660.2 L414.1 658.1 L399.6 654.8 L386.4 651.3 L375.9 650.2 L366.9 649.7 L358.7 650.6 L350.8 653.2 L342.7 657.2" fill="none" stroke="#9a2a20" stroke-width="2.7" opacity="0.50" stroke-linecap="round"/><path d="M509.9 593.0 L506.6 601.3 L503.1 609.0 L499.2 616.3 L495.1 622.2 L490.9 626.4 L486.1 630.1 L480.6 634.1 L474.4 637.7 L467.3 640.9 L459.5 643.5 L452.0 645.4 L444.6 646.7 L436.8 647.4 L428.5 647.2 L420.1 646.5 L411.5 645.0 L403.0 643.3 L394.8 641.2 L387.0 639.3 L380.2 638.2 L374.0 637.7 L368.0 637.4 L362.1 637.4 L356.3 638.1" fill="none" stroke="#9a2a20" stroke-width="2.9" opacity="0.36" stroke-linecap="round"/><path d="M555.2 471.0 L556.3 477.5 L557.2 484.0 L557.8 490.6 L558.4 497.1 L558.9 503.6 L559.3 510.1 L559.6 516.6 L559.9 523.1 L560.2 529.5 L560.4 536.0 L560.3 542.9 L560.1 550.5 L559.7 557.8 L559.4 563.7 L559.2 567.9 L558.9 571.6 L558.0 576.6 L556.6 583.1 L554.7 590.3 L552.5 597.4 L549.9 604.2 L546.9 611.0 L543.5 618.0 L539.6 625.3" fill="none" stroke="#e08c78" stroke-width="1.4" opacity="0.62" stroke-linecap="round"/><path d="M496.7 658.7 L488.4 663.4 L479.6 667.2 L470.2 670.1 L460.4 672.0 L450.4 673.0 L440.3 673.0 L430.3 672.3 L420.4 671.2 L410.7 669.5 L401.4 667.2 L392.4 664.6 L384.8 663.2 L378.4 662.9 L372.9 662.8 L368.2 662.9 L364.0 663.5 L360.1 664.7 L356.3 666.4 L352.3 668.5 L348.5 671.1 L345.1 674.1 L342.0 677.6 L339.4 681.1 L337.4 684.9" fill="none" stroke="#8c241c" stroke-width="3.9" opacity="0.60" stroke-linecap="round"/><path d="M543.1 543.4 L542.8 552.9 L542.4 561.4 L542.1 567.0 L541.5 571.9 L540.1 578.6 L538.0 586.7 L535.3 594.9 L532.1 603.2 L528.2 611.6 L523.8 620.0 L518.9 628.2 L513.8 635.1 L508.3 640.8 L502.4 646.0 L495.8 650.8 L488.8 655.1 L481.2 658.8 L473.2 661.8 L464.9 664.1 L456.3 665.6 L447.6 666.4 L438.8 666.4 L429.9 665.9 L421.1 664.9" fill="none" stroke="#d87460" stroke-width="2.7" opacity="0.45" stroke-linecap="round"/><path d="M517.7 579.2 L514.5 588.7 L510.3 599.2 L505.5 609.4 L500.2 618.9 L494.6 625.7 L488.4 630.6 L481.2 635.8 L472.7 640.3 L462.9 644.0 L453.0 646.7 L443.3 648.4 L432.8 648.8 L421.9 648.2 L410.8 646.5 L399.9 644.3 L389.5 641.7 L380.5 640.3 L372.6 639.8 L365.1 639.6 L357.8 640.4 L350.7 642.4 L343.5 645.4 L336.3 649.3 L330.1 654.0" fill="none" stroke="#e08c78" stroke-width="3.0" opacity="0.31" stroke-linecap="round"/><path d="M374.7 651.1 L370.9 651.0 L367.4 651.0 L364.0 651.2 L360.7 651.8 L357.5 652.7 L354.4 653.9 L351.2 655.3 L348.0 657.0 L344.9 658.8 L341.9 660.9 L339.1 663.2 L336.5 665.6 L334.2 668.3 L332.1 671.0 L330.4 674.0 L328.9 677.0 L327.5 680.0 L326.4 683.0 L325.4 686.2 L324.6 689.7 L324.0 693.6 L323.5 697.9 L323.1 702.4 L322.8 707.1" fill="none" stroke="#9a2a20" stroke-width="1.7" opacity="0.48" stroke-linecap="round"/><path d="M519.0 416.8 L522.6 427.5 L526.2 438.2 L529.6 448.9 L532.7 459.6 L535.1 470.4 L537.0 481.1 L538.5 491.8 L539.6 502.5 L540.4 513.2 L541.0 523.9 L541.3 534.5 L541.2 545.8 L540.9 557.6 L540.4 565.9 L539.7 572.1 L537.7 580.9 L534.7 591.1 L530.7 601.5 L526.0 612.0 L520.3 622.5 L514.0 631.9 L507.4 639.3 L500.0 645.6 L491.6 651.5" fill="none" stroke="#c44e3c" stroke-width="2.7" opacity="0.41" stroke-linecap="round"/><path d="M502.9 657.2 L492.8 663.8 L481.9 669.1 L470.1 673.0 L457.5 675.3 L444.7 676.1 L432.0 675.5 L419.4 674.1 L407.3 672.0 L395.6 668.7 L385.6 666.5 L377.7 666.0 L371.2 665.9 L366.0 666.4 L361.2 667.6 L356.7 669.6 L352.1 672.3 L347.8 675.8 L344.0 679.9 L341.1 684.3 L338.9 688.9 L337.2 694.2 L336.1 700.1 L335.6 706.4 L335.4 713.3" fill="none" stroke="#a83226" stroke-width="2.2" opacity="0.51" stroke-linecap="round"/><path d="M516.0 449.3 L520.5 467.3 L523.6 485.2 L525.7 503.2 L526.9 521.2 L527.2 539.2 L526.8 558.1 L525.7 569.9 L522.2 583.4 L516.2 599.5 L508.3 615.6 L499.1 628.4 L488.5 636.9 L475.3 644.5 L459.6 649.9 L443.8 652.6 L426.8 652.5 L409.4 649.9 L392.7 645.9 L378.7 643.5 L367.0 643.1 L356.3 644.4 L345.8 648.5 L335.7 654.5 L327.7 662.5" fill="none" stroke="#d0604a" stroke-width="1.7" opacity="0.56" stroke-linecap="round"/><path d="M498.9 428.2 L501.8 436.7 L504.5 445.1 L506.9 453.6 L508.9 462.0 L510.6 470.5 L512.1 478.9 L513.3 487.4 L514.4 495.8 L515.2 504.3 L515.9 512.7 L516.3 521.1 L516.4 529.6 L516.4 538.0 L516.3 546.8 L516.1 555.6 L515.7 562.7 L515.1 567.6 L514.1 572.5 L512.4 578.5 L510.2 584.9 L507.6 591.9 L504.5 599.4 L501.2 606.6 L497.7 613.3" fill="none" stroke="#9a2a20" stroke-width="1.8" opacity="0.56" stroke-linecap="round"/><path d="M519.9 552.4 L519.9 557.1 L519.8 561.1 L519.7 564.2 L519.5 566.9 L519.2 569.5 L518.6 572.3 L517.9 575.5 L516.9 579.0 L515.7 582.7 L514.3 586.4 L512.8 590.3 L511.2 594.4 L509.3 598.7 L507.4 602.8 L505.4 606.8 L503.3 610.6 L501.1 614.4 L498.9 617.8 L496.6 620.9 L494.3 623.4 L492.0 625.4 L489.7 627.2 L487.1 629.0 L484.4 630.9" fill="none" stroke="#e08c78" stroke-width="2.5" opacity="0.39" stroke-linecap="round"/><path d="M483.6 363.9 L486.5 371.7 L489.2 379.0 L492.1 386.8 L495.1 394.6 L498.0 402.4 L500.7 410.2 L503.4 418.0 L506.1 425.9 L508.7 433.7 L511.3 441.5 L513.7 449.3 L515.9 457.1 L517.9 464.9 L519.5 472.7 L521.0 480.5 L522.3 488.3 L523.4 496.1 L524.3 504.0 L525.2 511.8 L525.8 519.6 L526.2 527.4 L526.4 535.2 L526.5 543.2 L526.4 551.7" fill="none" stroke="#d0604a" stroke-width="3.4" opacity="0.66" stroke-linecap="round"/><path d="M429.9 663.0 L420.9 662.0 L412.0 660.4 L403.4 658.6 L395.0 656.2 L387.4 654.3 L380.9 653.5 L375.1 653.2 L369.8 653.1 L365.1 653.2 L360.5 654.0 L356.2 655.3 L351.8 657.1 L347.4 659.4 L343.1 662.1 L339.2 665.2 L335.8 668.7 L332.9 672.4 L330.5 676.5 L328.6 680.7 L327.0 685.0 L325.8 689.7 L324.9 695.1 L324.3 701.2 L323.9 707.6" fill="none" stroke="#a83226" stroke-width="3.2" opacity="0.65" stroke-linecap="round"/><path d="M535.4 469.5 L536.5 476.2 L537.5 483.0 L538.2 489.7 L538.8 496.5 L539.3 503.2 L539.6 509.9 L539.8 516.7 L539.9 523.4 L539.8 530.1 L539.7 536.8 L539.4 543.9 L538.9 551.4 L538.4 558.4 L537.9 564.0 L537.4 567.9 L536.6 571.8 L535.4 576.9 L533.6 582.9 L531.6 589.2 L529.3 595.5 L526.6 602.0 L523.6 608.5 L520.3 614.9 L516.8 621.3" fill="none" stroke="#8c241c" stroke-width="2.1" opacity="0.55" stroke-linecap="round"/><path d="M411.0 654.0 L403.3 652.5 L395.8 650.6 L388.7 648.9 L382.5 648.0 L377.0 647.6 L371.8 647.4 L367.0 647.3 L362.4 647.6 L357.9 648.4 L353.5 649.8 L349.1 651.5 L344.6 653.7 L340.2 656.2 L336.3 659.1 L332.6 662.3 L329.5 665.9 L327.0 669.8 L324.9 674.0 L323.2 678.1 L321.8 682.2 L320.8 687.0 L320.1 692.7 L319.6 698.8 L319.2 705.3" fill="none" stroke="#9a2a20" stroke-width="3.7" opacity="0.49" stroke-linecap="round"/><path d="M538.4 613.4 L530.7 628.0 L521.9 640.9 L512.2 651.2 L501.1 660.1 L488.7 667.4 L475.4 673.0 L460.7 676.3 L445.6 677.5 L430.5 676.9 L415.8 675.2 L401.7 672.1 L388.9 668.7 L379.0 667.9 L371.4 667.8 L365.5 668.5 L360.3 670.2 L355.1 672.8 L350.0 676.4 L345.5 680.9 L342.1 685.8 L339.5 691.1 L337.7 697.4 L336.6 704.3 L336.1 711.9" fill="none" stroke="#a83226" stroke-width="2.2" opacity="0.30" stroke-linecap="round"/><path d="M535.1 406.7 L537.6 414.4 L540.0 422.1 L542.3 429.9 L544.4 437.6 L546.7 445.3 L549.0 453.0 L551.0 460.8 L552.5 468.5 L553.7 476.2 L554.7 483.9 L555.4 491.7 L555.9 499.4 L556.3 507.1 L556.6 514.8 L556.8 522.5 L556.9 530.2 L556.9 538.0 L556.6 546.4 L556.0 555.2 L555.4 562.7 L555.0 567.8 L554.4 572.3 L553.0 578.7 L550.9 586.6" fill="none" stroke="#a83226" stroke-width="3.5" opacity="0.68" stroke-linecap="round"/><path d="M489.6 622.4 L483.8 626.6 L476.8 631.2 L468.6 635.3 L458.7 638.5 L449.2 640.8 L439.9 642.1 L429.8 642.3 L419.2 641.4 L408.3 639.4 L397.6 637.0 L387.5 634.5 L378.7 633.2 L370.7 632.7 L362.6 632.5 L354.7 633.6 L346.8 636.1 L338.9 639.6 L331.2 644.0 L324.7 649.3 L319.4 655.5 L315.6 662.8 L312.8 669.7 L310.9 676.8 L309.6 686.4" fill="none" stroke="#d87460" stroke-width="1.2" opacity="0.62" stroke-linecap="round"/><path d="M430.4 653.4 L421.9 652.8 L413.3 651.6 L404.8 650.0 L396.5 648.0 L388.7 646.1 L381.8 645.0 L375.8 644.6 L370.0 644.3 L364.7 644.3 L359.4 644.9 L354.3 646.2 L349.3 648.0 L344.1 650.4 L339.0 653.3 L334.5 656.7 L330.4 660.4 L327.1 664.7 L324.4 669.4 L322.3 674.2 L320.7 678.9 L319.5 684.0 L318.7 690.3 L318.2 697.2 L317.8 704.6" fill="none" stroke="#c44e3c" stroke-width="2.4" opacity="0.61" stroke-linecap="round"/><path d="M561.5 534.6 L561.5 539.7 L561.3 545.2 L561.0 551.0 L560.6 556.6 L560.2 561.6 L560.0 565.4 L559.8 568.3 L559.5 571.1 L558.8 574.6 L557.8 579.1 L556.5 584.3 L555.0 589.8 L553.2 595.2 L551.3 600.4 L549.0 605.6 L546.6 610.8 L543.9 616.0 L541.0 621.4 L537.7 626.9 L534.2 632.4 L530.7 637.6 L527.1 642.2 L523.5 646.5 L519.7 650.5" fill="none" stroke="#8c241c" stroke-width="1.4" opacity="0.33" stroke-linecap="round"/><path d="M469.5 662.2 L459.3 664.5 L448.8 665.6 L438.1 665.7 L427.3 664.9 L416.7 663.4 L406.3 661.4 L396.2 658.6 L387.1 656.3 L379.5 655.4 L372.9 655.2 L367.2 655.1 L361.9 655.8 L356.8 657.2 L351.9 659.3 L346.8 662.1 L342.1 665.4 L337.9 669.3 L334.4 673.6 L331.8 678.3 L329.6 683.2 L328.0 688.4 L326.8 694.3 L326.1 701.1 L325.6 708.5" fill="none" stroke="#9a2a20" stroke-width="3.4" opacity="0.68" stroke-linecap="round"/><path d="M400.0 642.4 L393.1 640.6 L386.7 639.1 L381.0 638.2 L375.8 637.8 L370.7 637.5 L365.8 637.4 L360.9 637.5 L356.1 638.3 L351.3 639.7 L346.6 641.5 L341.7 643.6 L336.8 646.2 L332.4 649.0 L328.4 652.2 L324.8 655.7 L321.7 659.6 L319.2 663.9 L317.0 668.2 L315.3 672.2 L313.9 676.4 L312.7 681.5 L311.9 687.5 L311.2 694.1 L310.6 701.1" fill="none" stroke="#c44e3c" stroke-width="4.0" opacity="0.33" stroke-linecap="round"/><path d="M471.5 638.2 L462.4 641.6 L453.3 644.2 L444.4 645.9 L434.9 646.6 L424.9 646.4 L414.7 645.1 L404.4 643.2 L394.4 640.9 L385.2 638.8 L377.3 638.0 L370.0 637.7 L362.9 637.7 L355.9 638.7 L349.0 640.8 L342.1 643.8 L335.2 647.6 L329.2 652.0 L324.1 657.2 L320.2 663.2 L317.2 669.6 L315.0 675.5 L313.4 682.7 L312.4 691.7 L311.8 701.6" fill="none" stroke="#c44e3c" stroke-width="2.3" opacity="0.56" stroke-linecap="round"/><path d="M546.5 586.6 L543.8 595.1 L540.6 603.6 L536.9 612.1 L532.4 620.8 L527.4 629.6 L522.1 637.5 L516.5 644.2 L510.5 650.2 L503.9 655.7 L496.8 660.7 L489.2 665.0 L481.2 668.7 L472.8 671.6 L463.9 673.6 L454.7 674.9 L445.5 675.3 L436.3 675.0 L427.2 674.2 L418.2 673.0 L409.4 671.4 L400.8 669.2 L392.7 666.7 L385.7 665.3 L379.7 664.8" fill="none" stroke="#c44e3c" stroke-width="3.5" opacity="0.49" stroke-linecap="round"/><path d="M445.9 647.1 L437.6 647.9 L428.8 647.8 L419.8 647.1 L410.7 645.6 L401.7 643.8 L392.9 641.7 L384.9 640.1 L378.0 639.4 L371.6 639.2 L365.3 639.2 L359.3 639.8 L353.4 641.3 L347.5 643.6 L341.5 646.4 L335.8 649.9 L330.7 653.8 L326.3 658.3 L322.8 663.4 L320.1 668.9 L317.9 674.2 L316.4 679.6 L315.2 686.3 L314.4 694.2 L313.9 702.7" fill="none" stroke="#a83226" stroke-width="1.8" opacity="0.30" stroke-linecap="round"/><path d="M518.8 477.9 L520.2 486.4 L521.4 494.8 L522.4 503.2 L523.2 511.7 L523.8 520.1 L524.2 528.5 L524.4 537.0 L524.4 545.8 L524.3 554.8 L524.0 562.3 L523.5 567.4 L522.7 572.3 L521.0 578.6 L518.8 585.5 L516.1 592.8 L512.8 600.6 L509.2 608.1 L505.3 615.3 L501.1 621.8 L496.8 626.6 L492.3 630.4 L487.2 634.1 L481.6 637.8 L475.4 641.1" fill="none" stroke="#8c241c" stroke-width="3.1" opacity="0.33" stroke-linecap="round"/><path d="M516.2 507.8 L516.9 517.5 L517.3 527.1 L517.4 536.7 L517.3 546.7 L517.1 556.7 L516.6 564.1 L515.8 569.5 L514.2 575.7 L511.8 582.9 L508.8 590.7 L505.1 599.2 L501.1 607.3 L496.9 614.8 L492.4 620.7 L487.8 624.6 L482.7 628.0 L476.8 631.7 L470.1 635.0 L462.3 637.8 L454.2 640.0 L446.7 641.6 L439.1 642.5 L430.8 642.7 L422.2 642.2" fill="none" stroke="#d87460" stroke-width="3.9" opacity="0.61" stroke-linecap="round"/><path d="M495.8 662.0 L491.8 664.2 L487.7 666.3 L483.5 668.2 L479.1 669.8 L474.6 671.2 L470.0 672.4 L465.2 673.3 L460.3 673.9 L455.4 674.4 L450.6 674.6 L445.7 674.6 L440.8 674.3 L435.9 673.9 L431.1 673.4 L426.3 672.8 L421.6 672.1 L416.9 671.3 L412.2 670.4 L407.7 669.4 L403.2 668.2 L398.8 666.8 L394.5 665.5 L390.6 664.5 L386.9 663.7" fill="none" stroke="#d0604a" stroke-width="3.2" opacity="0.40" stroke-linecap="round"/><path d="M510.0 472.1 L512.4 487.3 L514.3 502.4 L515.5 517.6 L516.0 532.7 L516.0 548.4 L515.6 562.5 L514.4 571.3 L511.4 582.0 L506.7 594.6 L500.9 607.6 L494.3 618.8 L487.3 625.6 L478.8 631.5 L468.2 636.9 L455.5 641.0 L443.5 643.4 L430.6 644.0 L416.8 642.7 L402.8 639.9 L389.4 636.6 L378.0 634.8 L367.8 634.2 L357.7 634.5 L347.7 637.1" fill="none" stroke="#c44e3c" stroke-width="1.8" opacity="0.46" stroke-linecap="round"/><path d="M462.7 663.5 L452.6 665.1 L442.3 665.7 L431.9 665.3 L421.5 664.1 L411.2 662.3 L401.2 659.9 L391.7 657.1 L383.6 655.5 L376.7 654.8 L370.5 654.5 L365.1 654.5 L359.9 655.2 L355.0 656.7 L349.9 658.8 L344.8 661.5 L340.2 664.9 L336.1 668.8 L332.8 673.1 L330.2 677.8 L328.2 682.6 L326.6 687.7 L325.6 693.7 L324.9 700.5 L324.5 708.0" fill="none" stroke="#d87460" stroke-width="3.6" opacity="0.64" stroke-linecap="round"/><path d="M527.8 617.8 L519.9 631.0 L511.4 641.3 L501.7 649.7 L490.6 657.0 L478.4 662.9 L465.1 666.8 L451.2 668.8 L437.0 669.0 L422.8 667.7 L408.9 665.3 L395.6 661.7 L384.2 659.2 L375.2 658.6 L367.7 658.5 L361.2 659.5 L355.1 661.6 L348.9 664.8 L343.1 669.1 L338.3 674.3 L334.7 679.9 L332.1 686.2 L330.3 693.0 L329.3 701.0 L328.8 710.1" fill="none" stroke="#d0604a" stroke-width="2.9" opacity="0.41" stroke-linecap="round"/><path d="M508.8 592.0 L507.0 596.5 L505.1 601.0 L503.1 605.2 L501.1 609.3 L498.9 613.3 L496.6 616.9 L494.3 620.1 L491.9 622.5 L489.5 624.5 L486.9 626.2 L484.2 628.0 L481.2 630.0 L478.0 631.9 L474.7 633.8 L471.2 635.5 L467.2 637.0 L463.0 638.4 L458.8 639.7 L454.7 640.8 L450.7 641.7 L446.8 642.5 L442.9 643.2 L438.8 643.6 L434.6 643.8" fill="none" stroke="#c44e3c" stroke-width="3.3" opacity="0.40" stroke-linecap="round"/><path d="M437.9 664.5 L431.2 664.2 L424.6 663.7 L418.0 662.8 L411.4 661.8 L405.1 660.5 L398.7 658.9 L392.7 657.2 L387.2 656.0 L382.3 655.4 L377.9 655.2 L373.8 655.0 L370.0 654.9 L366.5 654.9 L363.2 655.2 L359.9 655.8 L356.8 656.7 L353.6 657.9 L350.4 659.2 L347.0 660.8 L343.9 662.7 L340.9 664.8 L338.2 667.2 L335.7 669.7 L333.5 672.4" fill="none" stroke="#a83226" stroke-width="2.9" opacity="0.57" stroke-linecap="round"/><path d="M528.2 565.7 L526.5 575.4 L522.6 588.7 L516.8 603.3 L509.5 617.5 L501.3 628.9 L492.0 636.8 L480.8 644.0 L467.3 649.6 L453.2 653.1 L438.7 654.3 L423.5 653.4 L408.0 650.7 L393.2 646.9 L380.6 644.4 L370.1 643.6 L360.5 643.7 L351.3 646.0 L341.9 650.1 L333.3 655.7 L326.4 662.8 L321.7 671.3 L318.5 679.6 L316.7 690.4 L315.7 703.6" fill="none" stroke="#a83226" stroke-width="2.3" opacity="0.56" stroke-linecap="round"/><path d="M428.5 639.5 L420.7 639.1 L412.6 638.0 L404.5 636.4 L396.5 634.7 L388.9 632.9 L381.9 631.7 L375.7 631.2 L369.6 630.9 L363.4 630.8 L357.3 631.2 L351.2 632.7 L345.1 634.8 L338.8 637.4 L332.7 640.6 L327.2 644.3 L322.3 648.4 L318.2 653.2 L314.9 658.7 L312.3 664.2 L310.3 669.2 L308.8 674.7 L307.7 681.9 L306.9 690.1 L306.3 698.9" fill="none" stroke="#d0604a" stroke-width="2.7" opacity="0.49" stroke-linecap="round"/><path d="M436.2 638.8 L428.3 638.8 L420.2 638.3 L411.7 636.9 L403.3 635.1 L395.0 633.2 L387.2 631.3 L380.1 630.2 L373.7 629.7 L367.3 629.4 L360.7 629.3 L354.2 630.2 L347.7 632.1 L341.2 634.5 L334.5 637.6 L328.3 641.3 L322.9 645.4 L318.2 650.2 L314.5 655.8 L311.5 661.7 L309.2 667.0 L307.4 672.6 L306.1 680.0 L305.2 688.7 L304.4 698.0" fill="none" stroke="#e08c78" stroke-width="3.2" opacity="0.44" stroke-linecap="round"/><path d="M362.2 653.7 L359.5 654.2 L356.9 655.0 L354.2 655.8 L351.6 656.9 L348.8 658.0 L346.1 659.4 L343.4 660.9 L340.9 662.5 L338.6 664.4 L336.3 666.4 L334.3 668.5 L332.5 670.7 L330.9 673.1 L329.6 675.6 L328.4 678.2 L327.3 680.8 L326.4 683.4 L325.7 686.1 L325.1 689.1 L324.6 692.4 L324.2 695.9 L324.0 699.6 L323.8 703.5 L323.6 707.5" fill="none" stroke="#9a2a20" stroke-width="2.9" opacity="0.63" stroke-linecap="round"/><path d="M552.1 561.2 L551.4 568.7 L549.9 576.4 L546.9 587.5 L542.9 599.1 L537.9 610.5 L531.7 622.3 L524.5 633.8 L516.9 643.2 L508.6 651.2 L499.3 658.2 L489.1 664.1 L478.3 668.9 L466.6 672.3 L454.3 674.2 L441.9 674.6 L429.5 673.9 L417.3 672.5 L405.6 670.3 L394.3 667.0 L384.8 665.2 L377.1 664.7 L370.7 664.6 L365.5 665.0 L360.8 666.2" fill="none" stroke="#d87460" stroke-width="2.2" opacity="0.38" stroke-linecap="round"/><path d="M504.2 450.8 L507.5 465.1 L510.0 479.4 L512.0 493.7 L513.4 507.9 L514.3 522.2 L514.5 536.5 L514.4 551.3 L513.9 563.7 L512.6 571.8 L509.5 581.8 L505.2 593.4 L499.7 605.7 L493.7 616.4 L487.3 623.1 L479.9 628.2 L470.8 633.5 L459.4 637.6 L448.0 640.5 L436.7 641.8 L424.3 641.6 L411.3 639.7 L398.3 636.8 L386.1 633.9 L375.9 632.5" fill="none" stroke="#a83226" stroke-width="1.5" opacity="0.70" stroke-linecap="round"/><path d="M537.6 561.6 L537.0 569.2 L535.2 578.0 L532.0 589.3 L527.7 601.1 L522.2 612.9 L515.7 624.7 L508.6 634.1 L500.9 641.5 L491.8 648.2 L481.7 653.9 L470.4 658.4 L458.6 661.4 L446.5 662.8 L434.0 662.8 L421.4 661.5 L408.9 659.3 L396.9 656.2 L386.1 653.5 L377.3 652.6 L369.7 652.2 L363.0 652.5 L356.6 653.9 L350.3 656.4 L343.9 659.8" fill="none" stroke="#d0604a" stroke-width="1.2" opacity="0.38" stroke-linecap="round"/><path d="M477.0 658.2 L466.9 661.6 L456.4 663.9 L445.7 665.1 L434.7 665.1 L423.7 664.3 L412.8 662.7 L402.2 660.6 L392.0 657.9 L383.4 656.5 L376.2 656.2 L369.9 656.2 L364.3 656.6 L359.2 657.9 L354.2 660.0 L349.1 662.6 L344.3 665.9 L340.0 669.8 L336.3 674.2 L333.5 678.9 L331.3 683.9 L329.7 689.2 L328.5 695.1 L327.9 701.9 L327.4 709.4" fill="none" stroke="#d87460" stroke-width="2.3" opacity="0.36" stroke-linecap="round"/><path d="M373.1 659.2 L370.1 659.1 L367.4 659.2 L364.8 659.4 L362.2 659.8 L359.7 660.4 L357.3 661.1 L354.8 662.0 L352.3 663.1 L349.7 664.3 L347.2 665.6 L344.8 667.2 L342.5 668.9 L340.3 670.7 L338.2 672.7 L336.4 674.7 L334.8 676.9 L333.4 679.2 L332.2 681.6 L331.1 684.0 L330.1 686.5 L329.3 689.2 L328.6 692.1 L328.1 695.2 L327.7 698.6" fill="none" stroke="#a83226" stroke-width="2.6" opacity="0.61" stroke-linecap="round"/><path d="M480.0 371.5 L485.6 386.1 L491.6 401.3 L497.1 416.4 L502.4 431.6 L507.3 446.7 L511.3 461.8 L514.3 477.0 L516.6 492.1 L518.3 507.3 L519.4 522.4 L519.6 537.5 L519.6 553.5 L519.0 565.6 L517.3 574.6 L513.7 586.3 L508.5 599.7 L502.3 612.6 L495.3 623.1 L487.6 629.6 L478.2 636.0 L466.6 641.4 L453.8 645.2 L441.3 647.2 L427.7 647.4" fill="none" stroke="#a83226" stroke-width="1.2" opacity="0.65" stroke-linecap="round"/><path d="M445.0 651.1 L436.2 651.4 L427.2 650.9 L418.1 649.8 L408.8 648.1 L399.9 646.0 L391.3 643.7 L383.5 642.2 L376.8 641.5 L370.5 641.2 L364.5 641.1 L358.7 641.7 L353.0 643.2 L347.3 645.4 L341.4 648.2 L335.9 651.5 L331.0 655.3 L326.7 659.7 L323.3 664.6 L320.6 669.9 L318.4 675.0 L316.8 680.3 L315.6 686.9 L314.8 694.5 L314.1 702.8" fill="none" stroke="#d0604a" stroke-width="2.2" opacity="0.47" stroke-linecap="round"/><path d="M526.7 380.1 L531.0 392.3 L535.1 404.5 L539.3 416.7 L543.1 428.9 L546.7 441.1 L550.5 453.3 L553.5 465.5 L555.5 477.7 L556.8 489.9 L557.6 502.1 L558.0 514.3 L558.2 526.5 L558.1 538.7 L557.4 552.5 L556.4 564.3 L555.6 571.5 L553.3 582.0 L549.5 595.0 L544.4 607.6 L537.9 620.4 L529.9 633.6 L521.4 644.6 L512.1 653.7 L501.5 661.5" fill="none" stroke="#d0604a" stroke-width="3.5" opacity="0.47" stroke-linecap="round"/><path d="M498.7 386.6 L503.8 400.3 L508.6 414.1 L513.2 427.9 L517.5 441.7 L521.5 455.5 L524.5 469.3 L526.7 483.1 L528.3 496.9 L529.5 510.7 L530.2 524.5 L530.4 538.3 L530.2 553.2 L529.6 564.9 L528.5 573.0 L525.6 584.3 L521.2 596.8 L515.6 609.7 L508.8 622.1 L501.5 631.4 L493.2 638.5 L483.3 645.2 L471.8 650.6 L459.3 654.5 L446.7 656.6" fill="none" stroke="#a83226" stroke-width="4.1" opacity="0.49" stroke-linecap="round"/><path d="M467.8 635.0 L461.9 636.9 L455.9 638.6 L450.1 639.9 L444.6 640.9 L439.0 641.5 L432.9 641.7 L426.6 641.5 L420.2 641.0 L413.7 640.0 L407.1 638.6 L400.6 637.2 L394.3 635.7 L388.2 634.2 L382.6 633.2 L377.5 632.6 L372.7 632.2 L367.8 631.9 L362.9 631.7 L358.0 631.9 L353.1 632.8 L348.2 634.1 L343.3 635.8 L338.2 637.9 L333.2 640.3" fill="none" stroke="#d0604a" stroke-width="2.5" opacity="0.30" stroke-linecap="round"/><path d="M380.2 672.8 L376.3 672.6 L373.0 672.5 L370.2 672.5 L367.6 672.7 L365.1 673.1 L362.9 673.7 L360.7 674.5 L358.4 675.5 L356.0 676.7 L353.7 678.1 L351.5 679.8 L349.4 681.7 L347.4 683.8 L345.7 685.9 L344.2 688.0 L342.9 690.2 L341.8 692.7 L340.8 695.4 L340.1 698.3 L339.4 701.4 L339.0 704.5 L338.7 707.8 L338.5 711.2 L338.4 714.8" fill="none" stroke="#8c241c" stroke-width="1.3" opacity="0.59" stroke-linecap="round"/><path d="M537.9 448.3 L539.4 453.2 L540.9 458.1 L542.2 463.0 L543.3 467.8 L544.3 472.7 L545.2 477.6 L546.1 482.5 L546.8 487.3 L547.4 492.2 L547.9 497.1 L548.4 502.0 L548.8 506.9 L549.1 511.7 L549.4 516.6 L549.6 521.5 L549.7 526.3 L549.8 531.1 L549.8 536.0 L549.7 541.1 L549.4 546.5 L549.1 552.1 L548.7 557.4 L548.4 561.9 L548.1 565.4" fill="none" stroke="#a83226" stroke-width="3.3" opacity="0.36" stroke-linecap="round"/><path d="M501.8 622.3 L496.2 628.7 L489.9 633.8 L482.6 639.0 L474.1 643.5 L464.4 647.1 L454.7 649.8 L445.0 651.3 L434.7 651.7 L424.0 651.1 L413.2 649.5 L402.5 647.2 L392.2 644.5 L383.1 642.6 L375.3 641.8 L368.0 641.4 L361.1 641.6 L354.3 643.0 L347.6 645.3 L340.7 648.6 L334.4 652.6 L328.9 657.4 L324.5 662.9 L321.2 669.2 L318.7 675.2" fill="none" stroke="#9a2a20" stroke-width="3.9" opacity="0.32" stroke-linecap="round"/><path d="M367.1 631.0 L363.1 630.9 L359.1 631.2 L355.1 631.8 L351.2 632.8 L347.2 634.1 L343.2 635.5 L339.1 637.3 L335.0 639.2 L331.1 641.4 L327.6 643.7 L324.2 646.3 L321.2 649.1 L318.5 652.1 L316.2 655.6 L314.2 659.2 L312.5 662.9 L311.1 666.2 L309.9 669.5 L308.9 673.0 L308.1 677.3 L307.5 682.2 L307.1 687.6 L306.7 693.2 L306.4 699.0" fill="none" stroke="#8c241c" stroke-width="2.1" opacity="0.59" stroke-linecap="round"/><path d="M546.6 596.9 L544.7 602.0 L542.5 607.1 L540.1 612.3 L537.4 617.5 L534.4 622.9 L531.2 628.3 L527.8 633.5 L524.4 638.1 L520.9 642.3 L517.2 646.1 L513.4 649.7 L509.4 653.1 L505.2 656.3 L500.8 659.4 L496.3 662.1 L491.7 664.7 L486.9 667.0 L482.1 669.2 L477.1 671.0 L471.9 672.6 L466.5 673.8 L461.0 674.8 L455.5 675.6 L449.9 676.0" fill="none" stroke="#d87460" stroke-width="3.4" opacity="0.49" stroke-linecap="round"/><path d="M539.9 412.0 L545.5 429.7 L550.9 447.3 L555.7 465.0 L558.4 482.7 L559.7 500.4 L560.2 518.1 L560.4 535.6 L559.4 555.3 L558.3 569.1 L555.4 583.6 L549.4 602.5 L540.5 621.2 L528.7 640.2 L515.5 654.8 L499.8 666.4 L482.6 675.0 L463.1 679.7 L442.7 680.7 L422.8 679.0 L403.8 675.3 L387.1 670.7 L375.2 670.0 L367.1 670.2 L360.4 672.1" fill="none" stroke="#e08c78" stroke-width="2.5" opacity="0.45" stroke-linecap="round"/><path d="M414.6 677.4 L406.2 675.6 L398.0 673.3 L390.5 671.2 L384.2 670.4 L378.8 670.2 L374.2 670.2 L370.4 670.3 L367.1 670.7 L364.0 671.4 L361.2 672.5 L358.4 673.9 L355.4 675.6 L352.6 677.6 L349.9 679.9 L347.4 682.6 L345.2 685.3 L343.3 688.0 L341.8 690.9 L340.4 694.2 L339.3 697.7 L338.5 701.5 L337.9 705.5 L337.5 709.7 L337.2 714.2" fill="none" stroke="#d0604a" stroke-width="3.1" opacity="0.56" stroke-linecap="round"/><path d="M374.7 655.2 L371.0 654.9 L367.6 654.7 L364.3 654.8 L361.1 655.1 L358.1 655.8 L355.0 656.7 L352.0 657.8 L348.8 659.2 L345.6 660.9 L342.7 662.7 L339.9 664.9 L337.3 667.2 L335.0 669.7 L333.0 672.4 L331.3 675.2 L329.9 678.2 L328.6 681.2 L327.5 684.2 L326.6 687.3 L325.9 690.8 L325.3 694.7 L324.9 698.9 L324.6 703.2 L324.3 707.8" fill="none" stroke="#c44e3c" stroke-width="3.0" opacity="0.42" stroke-linecap="round"/><path d="M556.3 546.3 L555.4 561.3 L554.7 570.2 L552.5 581.5 L548.3 596.2 L542.5 610.5 L534.8 625.5 L525.7 639.6 L515.7 650.8 L504.2 660.3 L491.5 668.0 L477.7 673.8 L462.5 677.3 L446.8 678.5 L431.2 677.7 L416.0 675.8 L401.5 672.4 L388.4 668.9 L378.4 668.0 L370.8 667.9 L364.8 668.6 L359.5 670.4 L354.2 673.2 L349.1 677.1 L344.7 681.9" fill="none" stroke="#c44e3c" stroke-width="3.6" opacity="0.41" stroke-linecap="round"/><path d="M521.8 566.4 L520.5 573.9 L517.9 583.6 L514.1 594.4 L509.4 605.8 L504.0 616.5 L498.0 625.1 L491.6 631.0 L483.9 636.7 L475.0 641.9 L464.4 646.0 L453.7 648.9 L443.0 650.6 L431.5 650.8 L419.7 649.8 L407.7 647.7 L396.1 644.9 L385.4 642.4 L376.6 641.4 L368.4 641.0 L360.6 641.2 L353.0 642.9 L345.5 645.7 L337.9 649.6 L331.2 654.5" fill="none" stroke="#e08c78" stroke-width="1.3" opacity="0.63" stroke-linecap="round"/><path d="M522.0 641.6 L516.3 647.9 L510.1 653.6 L503.3 658.8 L496.1 663.5 L488.6 667.5 L480.8 671.0 L472.5 673.7 L463.7 675.6 L454.8 676.9 L445.8 677.3 L436.8 677.2 L428.0 676.6 L419.2 675.7 L410.7 674.4 L402.3 672.5 L394.3 670.3 L387.3 668.9 L381.4 668.4 L376.3 668.4 L372.0 668.5 L368.4 668.8 L365.0 669.5 L362.0 670.4 L359.1 671.8" fill="none" stroke="#e08c78" stroke-width="2.8" opacity="0.61" stroke-linecap="round"/><path d="M517.8 619.8 L511.6 629.4 L505.0 636.7 L497.7 642.9 L489.4 648.6 L480.1 653.5 L469.9 657.3 L459.5 660.0 L448.7 661.5 L437.7 661.7 L426.4 660.9 L415.2 659.3 L404.3 657.0 L393.7 654.1 L384.4 652.1 L376.8 651.4 L369.9 651.2 L363.7 651.3 L357.9 652.5 L352.2 654.6 L346.4 657.5 L340.9 661.0 L336.1 665.3 L332.1 670.1 L329.1 675.5" fill="none" stroke="#e08c78" stroke-width="3.5" opacity="0.67" stroke-linecap="round"/><path d="M467.8 662.0 L457.6 664.1 L447.2 665.1 L436.6 665.1 L426.0 664.2 L415.4 662.6 L405.1 660.4 L395.1 657.6 L386.2 655.4 L378.8 654.6 L372.3 654.3 L366.6 654.2 L361.2 654.8 L356.2 656.3 L351.1 658.4 L346.0 661.2 L341.3 664.6 L337.1 668.6 L333.6 673.0 L331.0 677.8 L328.9 682.7 L327.4 687.9 L326.3 693.9 L325.6 700.8 L325.2 708.3" fill="none" stroke="#9a2a20" stroke-width="3.0" opacity="0.30" stroke-linecap="round"/><path d="M518.4 617.8 L513.3 626.2 L508.0 632.9 L502.5 638.4 L496.2 643.6 L489.3 648.4 L481.7 652.5 L473.5 656.1 L464.8 658.8 L456.0 660.6 L447.0 661.7 L437.8 661.8 L428.4 661.2 L419.1 660.1 L409.8 658.3 L400.8 656.1 L392.1 653.6 L384.5 651.9 L378.0 651.1 L372.1 650.7 L366.7 650.5 L361.6 650.8 L356.7 651.8 L351.8 653.5 L346.8 655.7" fill="none" stroke="#8c241c" stroke-width="2.9" opacity="0.66" stroke-linecap="round"/><path d="M531.0 588.5 L526.5 600.3 L520.8 612.3 L514.2 624.0 L506.9 633.3 L499.0 640.4 L489.8 646.9 L479.5 652.4 L467.9 656.6 L456.1 659.3 L444.0 660.5 L431.4 660.2 L418.8 658.8 L406.3 656.4 L394.3 653.2 L383.8 650.9 L375.3 650.3 L367.6 650.0 L360.7 650.7 L354.1 652.6 L347.5 655.6 L341.0 659.5 L335.3 664.3 L330.8 669.8 L327.5 676.0" fill="none" stroke="#c44e3c" stroke-width="1.5" opacity="0.62" stroke-linecap="round"/><path d="M540.3 536.4 L539.9 552.9 L539.0 565.9 L537.5 575.5 L533.6 589.3 L527.9 604.0 L520.6 618.7 L511.8 632.1 L502.3 641.7 L491.0 650.1 L478.0 656.9 L463.6 661.6 L448.6 664.0 L433.0 664.1 L417.4 662.6 L402.2 659.6 L388.1 656.0 L377.2 655.0 L368.1 655.0 L360.3 656.1 L353.1 658.9 L345.7 663.1 L339.2 668.5 L334.2 675.0 L330.7 682.1" fill="none" stroke="#c44e3c" stroke-width="1.3" opacity="0.70" stroke-linecap="round"/><path d="M472.5 633.3 L463.8 636.6 L454.4 639.2 L445.6 641.0 L436.6 641.8 L426.9 641.7 L416.9 640.6 L406.5 638.5 L396.5 636.2 L387.0 633.9 L378.7 632.6 L371.1 632.1 L363.4 631.8 L355.8 632.6 L348.3 634.6 L340.7 637.7 L333.1 641.6 L326.4 646.2 L320.7 651.6 L316.3 658.1 L313.0 664.9 L310.5 671.1 L308.8 678.7 L307.6 688.4 L306.7 699.1" fill="none" stroke="#d87460" stroke-width="1.3" opacity="0.41" stroke-linecap="round"/><path d="M503.6 457.2 L507.2 473.7 L510.0 490.2 L512.1 506.7 L513.5 523.2 L513.9 539.7 L514.0 556.8 L513.3 568.0 L510.9 578.6 L506.3 591.7 L500.2 606.0 L493.3 618.2 L485.7 625.2 L476.3 631.5 L464.3 637.0 L450.7 640.7 L437.6 642.5 L423.1 642.1 L408.0 639.6 L393.2 636.0 L380.1 633.4 L368.9 632.5 L357.7 632.7 L346.6 635.6 L335.3 640.6" fill="none" stroke="#d87460" stroke-width="2.9" opacity="0.40" stroke-linecap="round"/><path d="M351.2 650.8 L348.7 652.0 L346.2 653.2 L343.7 654.6 L341.3 656.0 L339.1 657.6 L336.9 659.3 L334.8 661.0 L332.9 662.9 L331.1 664.8 L329.5 666.9 L328.0 669.1 L326.8 671.4 L325.6 673.7 L324.6 676.0 L323.7 678.3 L322.9 680.6 L322.3 683.1 L321.8 685.7 L321.3 688.7 L321.0 691.8 L320.8 695.2 L320.6 698.7 L320.5 702.2 L320.4 705.9" fill="none" stroke="#c44e3c" stroke-width="2.0" opacity="0.32" stroke-linecap="round"/><path d="M488.0 395.0 L490.0 399.9 L491.9 404.8 L493.7 409.7 L495.5 414.6 L497.3 419.4 L499.2 424.3 L501.0 429.2 L502.8 434.1 L504.5 439.0 L506.1 443.9 L507.5 448.8 L508.9 453.7 L510.2 458.6 L511.3 463.4 L512.3 468.3 L513.2 473.2 L513.9 478.1 L514.7 483.0 L515.3 487.9 L515.8 492.8 L516.3 497.7 L516.8 502.6 L517.2 507.4 L517.6 512.3" fill="none" stroke="#e08c78" stroke-width="3.3" opacity="0.49" stroke-linecap="round"/><path d="M378.2 668.0 L374.5 668.0 L371.3 668.0 L368.5 668.1 L365.8 668.6 L363.3 669.2 L361.0 670.1 L358.7 671.3 L356.4 672.6 L354.0 674.2 L351.8 675.9 L349.7 677.9 L347.7 680.2 L345.9 682.5 L344.3 684.9 L343.1 687.2 L341.9 689.6 L341.0 692.3 L340.2 695.1 L339.5 698.1 L338.9 701.2 L338.6 704.4 L338.3 707.6 L338.1 711.0 L338.0 714.7" fill="none" stroke="#a83226" stroke-width="4.1" opacity="0.40" stroke-linecap="round"/><path d="M352.4 661.4 L350.4 662.4 L348.3 663.5 L346.3 664.7 L344.4 666.0 L342.5 667.4 L340.7 668.8 L339.0 670.4 L337.4 672.0 L336.0 673.7 L334.6 675.5 L333.5 677.3 L332.4 679.2 L331.4 681.1 L330.5 683.1 L329.8 685.2 L329.1 687.2 L328.5 689.5 L328.0 691.9 L327.7 694.4 L327.4 697.1 L327.2 700.0 L327.0 702.9 L326.9 706.0 L326.8 709.1" fill="none" stroke="#8c241c" stroke-width="3.7" opacity="0.45" stroke-linecap="round"/><path d="M534.8 440.5 L540.2 458.0 L543.8 475.5 L546.1 493.0 L547.4 510.5 L548.1 527.9 L548.0 546.1 L547.2 563.8 L545.9 574.7 L541.6 591.6 L534.7 609.1 L525.2 627.1 L514.1 642.0 L501.1 653.5 L485.9 662.7 L468.8 669.0 L450.2 671.9 L431.2 671.5 L412.6 669.1 L395.0 664.6 L380.9 662.2 L370.3 661.9 L362.1 662.9 L354.6 665.8 L347.1 670.5" fill="none" stroke="#d0604a" stroke-width="3.9" opacity="0.66" stroke-linecap="round"/><path d="M405.5 636.1 L398.5 634.5 L391.7 632.9 L385.2 631.5 L379.4 630.7 L374.1 630.3 L368.6 630.1 L363.2 630.1 L357.7 630.5 L352.3 631.7 L346.9 633.5 L341.5 635.7 L336.0 638.4 L330.7 641.4 L326.1 644.8 L321.8 648.6 L318.3 652.8 L315.4 657.6 L312.9 662.6 L311.0 667.1 L309.4 671.6 L308.2 677.0 L307.3 683.7 L306.6 691.0 L306.0 698.8" fill="none" stroke="#8c241c" stroke-width="1.4" opacity="0.36" stroke-linecap="round"/><path d="M477.2 676.5 L467.8 678.7 L458.1 680.0 L448.4 680.5 L438.8 680.2 L429.3 679.4 L420.0 678.3 L411.0 676.7 L402.2 674.5 L393.8 671.9 L386.6 670.4 L380.5 670.0 L375.4 669.9 L371.1 670.0 L367.6 670.3 L364.3 671.1 L361.3 672.3 L358.3 673.8 L355.2 675.7 L352.3 678.0 L349.6 680.6 L347.1 683.6 L345.0 686.6 L343.4 689.5 L342.0 692.9" fill="none" stroke="#e08c78" stroke-width="3.2" opacity="0.49" stroke-linecap="round"/><path d="M529.8 545.1 L529.7 555.4 L529.3 563.6 L528.8 569.1 L527.6 575.4 L525.5 583.3 L522.6 591.8 L519.1 600.7 L515.0 609.5 L510.4 618.1 L505.3 625.7 L500.1 631.4 L494.4 636.1 L487.9 640.7 L480.8 644.9 L472.8 648.4 L464.1 651.3 L455.6 653.3 L446.9 654.5 L437.9 654.9 L428.7 654.5 L419.4 653.5 L410.0 651.8 L400.9 649.8 L392.1 647.5" fill="none" stroke="#e08c78" stroke-width="1.6" opacity="0.57" stroke-linecap="round"/><path d="M539.1 452.3 L540.4 457.0 L541.6 461.6 L542.5 466.3 L543.4 471.0 L544.1 475.7 L544.8 480.3 L545.4 485.0 L545.9 489.7 L546.3 494.4 L546.7 499.1 L547.1 503.7 L547.4 508.4 L547.7 513.1 L548.0 517.8 L548.3 522.4 L548.6 527.1 L548.8 531.7 L549.0 536.4 L549.1 541.2 L549.1 546.4 L549.0 551.8 L548.9 556.9 L548.7 561.4 L548.6 564.9" fill="none" stroke="#c44e3c" stroke-width="1.4" opacity="0.55" stroke-linecap="round"/><path d="M416.3 669.5 L408.0 668.0 L399.8 665.8 L392.0 663.6 L385.3 662.3 L379.6 661.9 L374.5 661.7 L370.1 661.7 L366.2 662.0 L362.5 662.7 L359.1 663.9 L355.7 665.5 L352.2 667.5 L348.8 669.8 L345.7 672.5 L342.9 675.5 L340.4 678.7 L338.5 682.0 L336.9 685.5 L335.6 689.3 L334.6 693.2 L333.8 697.5 L333.3 702.0 L333.0 706.9 L332.8 712.1" fill="none" stroke="#8c241c" stroke-width="3.7" opacity="0.55" stroke-linecap="round"/><path d="M390.9 646.0 L385.0 644.8 L379.9 644.2 L375.1 643.9 L370.4 643.7 L366.0 643.6 L361.8 643.8 L357.5 644.5 L353.4 645.6 L349.3 647.1 L345.0 648.9 L340.8 651.0 L336.8 653.4 L333.1 656.2 L329.8 659.2 L327.0 662.6 L324.6 666.3 L322.6 670.2 L320.9 674.0 L319.6 677.8 L318.6 681.9 L317.8 686.7 L317.2 692.1 L316.9 697.9 L316.6 704.0" fill="none" stroke="#c44e3c" stroke-width="2.2" opacity="0.59" stroke-linecap="round"/><path d="M367.8 648.6 L364.5 648.6 L361.3 648.8 L358.1 649.4 L355.0 650.2 L351.9 651.2 L348.7 652.4 L345.4 653.8 L342.2 655.4 L339.2 657.2 L336.3 659.2 L333.6 661.4 L331.2 663.8 L329.1 666.4 L327.2 669.2 L325.7 672.1 L324.3 675.1 L323.1 678.0 L322.1 680.9 L321.3 684.1 L320.6 687.8 L320.1 691.8 L319.7 696.1 L319.4 700.6 L319.2 705.3" fill="none" stroke="#8c241c" stroke-width="2.4" opacity="0.36" stroke-linecap="round"/><path d="M554.4 523.9 L554.5 530.4 L554.5 536.9 L554.3 543.9 L553.9 551.4 L553.3 558.5 L552.9 564.1 L552.5 568.1 L551.9 571.9 L550.7 577.1 L549.1 583.4 L547.1 590.3 L544.7 597.0 L542.0 603.6 L539.0 610.3 L535.5 617.0 L531.7 624.0 L527.5 630.9 L523.2 637.0 L518.9 642.5 L514.2 647.3 L509.3 651.9 L504.0 656.2 L498.4 660.2 L492.6 663.8" fill="none" stroke="#9a2a20" stroke-width="2.6" opacity="0.49" stroke-linecap="round"/><path d="M486.7 649.3 L477.2 654.0 L466.8 657.8 L456.2 660.2 L445.2 661.5 L433.9 661.5 L422.5 660.5 L411.2 658.7 L400.2 656.2 L389.8 653.4 L381.1 652.0 L373.7 651.6 L367.1 651.5 L361.0 652.2 L355.2 653.9 L349.5 656.5 L343.7 659.8 L338.5 663.8 L334.1 668.5 L330.7 673.8 L328.2 679.4 L326.4 685.1 L325.1 691.6 L324.4 699.3 L324.1 707.7" fill="none" stroke="#d87460" stroke-width="2.6" opacity="0.41" stroke-linecap="round"/><path d="M519.5 539.2 L519.5 557.0 L518.9 568.5 L516.3 580.0 L511.4 594.2 L504.9 609.2 L497.3 622.1 L488.8 629.9 L478.2 637.2 L464.8 643.1 L450.5 646.9 L435.9 648.3 L420.2 647.4 L404.2 644.5 L389.0 640.7 L376.5 639.0 L365.3 638.5 L354.7 639.9 L344.1 643.7 L333.8 649.5 L325.4 656.9 L319.6 666.3 L315.8 675.6 L313.7 687.3 L312.6 702.0" fill="none" stroke="#c44e3c" stroke-width="1.5" opacity="0.42" stroke-linecap="round"/><path d="M433.2 640.4 L426.0 640.2 L418.6 639.4 L411.0 638.1 L403.5 636.5 L396.1 634.8 L389.0 633.1 L382.5 631.9 L376.7 631.3 L371.0 631.1 L365.3 630.9 L359.6 631.2 L354.0 632.2 L348.4 634.0 L342.8 636.3 L337.1 639.1 L331.7 642.4 L326.8 646.0 L322.6 650.1 L319.0 654.6 L316.2 659.8 L313.9 665.0 L312.0 669.7 L310.7 674.6 L309.6 680.8" fill="none" stroke="#d0604a" stroke-width="2.5" opacity="0.50" stroke-linecap="round"/><path d="M407.7 654.8 L400.2 653.0 L392.8 650.9 L386.2 649.3 L380.4 648.5 L375.1 648.1 L370.2 647.8 L365.5 647.7 L361.0 648.0 L356.6 648.8 L352.3 650.2 L348.0 651.9 L343.5 654.0 L339.2 656.6 L335.4 659.4 L331.9 662.7 L328.9 666.3 L326.5 670.2 L324.5 674.3 L322.9 678.4 L321.7 682.5 L320.7 687.3 L320.0 692.9 L319.6 698.9 L319.2 705.3" fill="none" stroke="#9a2a20" stroke-width="2.5" opacity="0.66" stroke-linecap="round"/><path d="M520.7 423.0 L523.0 429.7 L525.3 436.4 L527.5 443.1 L529.7 449.8 L531.8 456.6 L533.6 463.3 L535.1 470.0 L536.4 476.7 L537.5 483.4 L538.4 490.2 L539.1 496.9 L539.7 503.6 L540.2 510.3 L540.6 517.0 L540.8 523.7 L540.9 530.4 L540.9 537.1 L540.8 544.2 L540.4 551.7 L540.0 558.7 L539.6 564.2 L539.2 568.1 L538.6 572.1 L537.4 577.2" fill="none" stroke="#a83226" stroke-width="1.7" opacity="0.54" stroke-linecap="round"/><path d="M444.5 677.7 L434.3 677.2 L424.3 676.3 L414.5 674.9 L405.0 672.9 L395.8 670.2 L387.7 668.4 L381.0 667.7 L375.3 667.6 L370.6 667.7 L366.6 668.0 L362.9 668.9 L359.5 670.2 L355.9 671.9 L352.3 674.0 L349.0 676.6 L345.9 679.6 L343.2 682.8 L341.0 686.0 L339.2 689.6 L337.7 693.6 L336.5 697.9 L335.6 702.5 L335.1 707.5 L334.7 713.0" fill="none" stroke="#c44e3c" stroke-width="3.0" opacity="0.58" stroke-linecap="round"/><path d="M532.0 456.0 L533.2 461.1 L534.2 466.2 L535.1 471.3 L536.0 476.4 L536.7 481.5 L537.4 486.6 L538.0 491.7 L538.5 496.8 L539.0 501.9 L539.4 507.0 L539.9 512.0 L540.2 517.1 L540.5 522.2 L540.8 527.3 L541.0 532.4 L541.2 537.5 L541.2 542.8 L541.2 548.5 L541.1 554.2 L540.9 559.3 L540.7 563.5 L540.5 566.7 L540.2 569.5 L539.7 572.7" fill="none" stroke="#8c241c" stroke-width="3.7" opacity="0.67" stroke-linecap="round"/><path d="M525.5 496.8 L526.7 510.0 L527.4 523.3 L527.6 536.5 L527.5 550.5 L527.0 562.8 L526.2 570.5 L523.8 580.4 L520.1 591.8 L515.2 604.1 L509.3 616.0 L502.7 626.2 L495.6 633.2 L487.2 639.8 L477.3 645.6 L465.9 650.2 L454.2 653.3 L442.3 654.9 L429.6 654.9 L416.7 653.6 L403.9 651.2 L391.6 648.1 L381.2 646.4 L372.4 645.9 L364.4 645.9" fill="none" stroke="#d0604a" stroke-width="1.2" opacity="0.66" stroke-linecap="round"/><path d="M554.0 488.9 L554.4 495.7 L554.8 502.5 L555.1 509.3 L555.3 516.1 L555.5 522.8 L555.7 529.6 L555.8 536.4 L555.7 543.6 L555.4 551.4 L555.0 558.8 L554.7 564.6 L554.6 568.6 L554.1 572.7 L553.1 578.4 L551.6 585.4 L549.6 592.7 L547.3 599.8 L544.5 606.8 L541.3 613.9 L537.6 621.3 L533.4 628.8 L528.9 635.9 L524.3 642.2 L519.4 647.8" fill="none" stroke="#9a2a20" stroke-width="1.3" opacity="0.58" stroke-linecap="round"/><path d="M554.5 535.0 L553.9 553.8 L553.0 567.9 L550.8 580.6 L545.7 598.4 L538.0 616.1 L527.6 634.3 L515.9 648.8 L502.0 660.5 L486.2 669.5 L468.6 675.5 L449.4 678.0 L430.3 677.3 L411.7 674.9 L394.3 670.3 L380.6 668.3 L370.9 668.2 L363.7 669.3 L357.3 672.0 L350.8 676.2 L345.2 681.9 L341.2 688.1 L338.5 695.5 L336.9 704.1 L336.4 713.8" fill="none" stroke="#d0604a" stroke-width="1.6" opacity="0.59" stroke-linecap="round"/><path d="M555.5 517.0 L555.8 531.1 L555.5 546.1 L554.4 561.5 L553.6 570.6 L551.1 582.4 L546.5 597.3 L540.3 611.9 L532.1 627.2 L522.5 640.9 L512.1 651.7 L500.0 660.8 L486.8 668.0 L472.4 673.2 L456.7 675.9 L440.8 676.3 L425.1 675.1 L409.8 672.6 L395.4 668.7 L383.4 666.3 L374.3 666.0 L367.3 666.2 L361.4 667.6 L355.8 670.1 L350.2 673.7" fill="none" stroke="#e08c78" stroke-width="3.9" opacity="0.42" stroke-linecap="round"/><path d="M545.7 575.5 L544.9 579.6 L543.8 584.0 L542.5 588.6 L541.0 593.1 L539.4 597.6 L537.6 602.1 L535.6 606.7 L533.4 611.2 L531.1 615.8 L528.5 620.5 L525.9 625.2 L523.1 629.7 L520.2 633.8 L517.3 637.4 L514.4 640.8 L511.4 644.0 L508.2 647.1 L504.8 650.0 L501.3 652.9 L497.7 655.7 L493.9 658.2 L489.9 660.6 L485.9 662.9 L481.7 664.9" fill="none" stroke="#c44e3c" stroke-width="1.3" opacity="0.69" stroke-linecap="round"/><path d="M491.7 404.8 L494.4 412.5 L497.2 420.2 L500.0 427.9 L502.8 435.6 L505.4 443.3 L507.8 451.1 L510.0 458.8 L511.9 466.5 L513.6 474.2 L515.1 481.9 L516.4 489.6 L517.5 497.4 L518.5 505.1 L519.3 512.8 L519.9 520.5 L520.2 528.2 L520.4 535.9 L520.4 543.8 L520.4 552.1 L520.1 559.6 L519.8 565.0 L519.2 569.3 L518.1 574.2 L516.5 579.9" fill="none" stroke="#d0604a" stroke-width="1.3" opacity="0.67" stroke-linecap="round"/><path d="M384.4 640.6 L379.5 640.0 L374.9 639.8 L370.4 639.6 L366.0 639.6 L361.7 639.8 L357.5 640.5 L353.4 641.6 L349.3 643.1 L345.1 644.9 L340.8 647.0 L336.7 649.3 L333.0 651.9 L329.5 654.8 L326.4 657.9 L323.7 661.3 L321.5 665.0 L319.5 668.9 L317.9 672.5 L316.5 676.1 L315.4 680.1 L314.6 684.9 L313.9 690.3 L313.4 696.1 L312.9 702.2" fill="none" stroke="#c44e3c" stroke-width="3.3" opacity="0.34" stroke-linecap="round"/><path d="M512.9 375.4 L515.3 381.1 L517.5 387.0 L519.7 392.9 L521.8 398.9 L523.9 404.8 L525.9 410.7 L527.9 416.6 L529.8 422.5 L531.6 428.4 L533.3 434.3 L535.0 440.2 L536.7 446.1 L538.4 452.0 L540.0 458.0 L541.2 463.9 L542.3 469.8 L543.3 475.7 L544.1 481.6 L544.7 487.5 L545.3 493.4 L545.8 499.3 L546.2 505.2 L546.6 511.1 L546.9 517.1" fill="none" stroke="#d87460" stroke-width="3.5" opacity="0.34" stroke-linecap="round"/><path d="M533.5 627.0 L528.6 634.8 L523.6 641.5 L518.3 647.5 L512.6 652.9 L506.4 657.9 L499.8 662.3 L493.0 666.2 L485.8 669.6 L478.4 672.4 L470.6 674.5 L462.3 676.0 L453.9 676.8 L445.7 677.0 L437.4 676.6 L429.2 675.9 L421.1 674.9 L413.1 673.6 L405.5 671.9 L397.9 669.7 L391.0 667.8 L385.0 666.8 L379.8 666.4 L375.2 666.4 L371.2 666.4" fill="none" stroke="#a83226" stroke-width="2.9" opacity="0.60" stroke-linecap="round"/><path d="M359.7 667.1 L357.8 668.0 L356.0 669.0 L354.0 670.1 L352.2 671.3 L350.3 672.6 L348.6 674.0 L346.9 675.6 L345.3 677.2 L343.7 678.9 L342.3 680.6 L341.1 682.3 L340.0 684.0 L338.9 685.8 L338.0 687.7 L337.1 689.7 L336.3 691.7 L335.6 693.9 L335.0 696.2 L334.5 698.6 L334.1 701.0 L333.7 703.7 L333.5 706.4 L333.3 709.3 L333.2 712.2" fill="none" stroke="#e08c78" stroke-width="3.0" opacity="0.31" stroke-linecap="round"/><path d="M511.3 538.7 L511.5 549.0 L511.5 558.7 L511.3 565.5 L510.5 570.9 L509.0 577.5 L506.7 584.7 L503.8 592.9 L500.3 601.6 L496.6 609.5 L492.6 616.5 L488.4 621.4 L483.8 624.8 L478.5 628.6 L472.3 632.3 L465.0 635.4 L456.8 637.9 L449.0 639.8 L441.5 641.0 L433.3 641.5 L424.7 641.2 L415.8 640.0 L406.8 638.2 L398.0 636.2 L389.4 634.0" fill="none" stroke="#a83226" stroke-width="2.5" opacity="0.69" stroke-linecap="round"/><path d="M398.2 672.6 L391.2 670.6 L385.3 669.4 L380.1 668.9 L375.6 668.7 L371.7 668.5 L368.4 668.5 L365.3 668.8 L362.4 669.4 L359.7 670.4 L356.8 671.6 L353.9 673.2 L351.1 675.0 L348.5 677.2 L346.0 679.6 L343.8 682.2 L342.0 684.9 L340.5 687.6 L339.2 690.6 L338.1 693.9 L337.2 697.4 L336.6 701.1 L336.1 705.0 L335.9 709.1 L335.7 713.5" fill="none" stroke="#d87460" stroke-width="1.6" opacity="0.57" stroke-linecap="round"/><path d="M482.3 670.6 L477.8 672.1 L473.2 673.3 L468.5 674.3 L463.6 675.1 L458.8 675.6 L453.9 676.0 L449.1 676.3 L444.2 676.2 L439.4 676.1 L434.6 675.8 L429.8 675.4 L425.1 674.9 L420.4 674.3 L415.7 673.6 L411.2 672.8 L406.7 671.9 L402.2 670.7 L397.9 669.4 L393.7 668.2 L389.8 667.2 L386.3 666.6 L383.0 666.2 L380.0 666.0 L377.2 665.8" fill="none" stroke="#c44e3c" stroke-width="1.4" opacity="0.47" stroke-linecap="round"/><path d="M489.0 423.7 L495.4 441.6 L500.4 459.5 L504.3 477.4 L507.3 495.3 L509.5 513.2 L510.6 531.1 L510.9 549.4 L510.7 564.7 L508.7 575.2 L504.3 588.4 L497.9 603.8 L490.7 616.7 L482.8 623.6 L472.6 630.1 L459.1 635.4 L445.0 638.7 L430.7 639.7 L415.0 638.2 L398.8 634.7 L383.8 631.2 L371.4 629.9 L358.9 629.7 L346.5 632.7 L333.9 638.2" fill="none" stroke="#8c241c" stroke-width="3.1" opacity="0.62" stroke-linecap="round"/><path d="M519.4 370.3 L524.9 382.9 L529.6 396.2 L534.3 409.4 L538.8 422.7 L542.9 435.9 L547.1 449.2 L550.8 462.5 L553.2 475.7 L554.8 489.0 L555.6 502.2 L556.1 515.5 L556.3 528.6 L556.1 542.2 L555.2 557.2 L554.3 567.5 L552.8 576.2 L549.3 589.7 L544.3 603.3 L537.8 617.0 L529.5 631.3 L520.5 643.2 L510.5 652.9 L499.1 661.2 L486.8 667.9" fill="none" stroke="#a83226" stroke-width="3.1" opacity="0.55" stroke-linecap="round"/><path d="M483.8 403.7 L485.7 409.5 L487.6 415.4 L489.4 421.3 L491.3 427.2 L493.2 433.1 L494.9 439.0 L496.5 444.9 L498.0 450.8 L499.3 456.7 L500.5 462.6 L501.6 468.5 L502.6 474.3 L503.5 480.2 L504.4 486.1 L505.2 492.0 L506.0 497.9 L506.7 503.8 L507.3 509.7 L507.9 515.6 L508.3 521.5 L508.5 527.4 L508.6 533.3 L508.7 539.1 L508.8 545.2" fill="none" stroke="#c44e3c" stroke-width="4.1" opacity="0.42" stroke-linecap="round"/></g>
<path d="M461.0 348.2 L463.7 354.5 L466.0 360.0 L467.8 364.6 L469.2 368.7 L470.4 372.5 L471.6 376.2 L473.0 380.0 L474.6 384.0 L476.2 388.0 L477.8 392.0 L479.4 396.0 L481.0 400.0 L482.5 404.0 L483.9 408.0 L485.2 412.0 L486.6 416.0 L488.0 420.0 L489.4 424.0 L490.9 428.0 L492.3 432.0 L493.7 436.0 L495.0 440.0 L496.2 444.0 L497.4 448.0 L498.5 452.0 L499.5 456.0 L500.5 460.0 L501.4 464.0 L502.3 468.0 L503.0 472.0 L503.8 476.0 L504.5 480.0 L505.2 484.0 L505.8 488.0 L506.4 492.0 L507.0 496.0 L507.5 500.0 L508.0 504.0 L508.4 508.0 L508.9 512.0 L509.2 516.0 L509.5 520.0 L509.7 524.0 L509.8 528.0 L509.9 532.0 L510.0 536.0 L510.0 540.0 L510.1 544.1 L510.1 548.4 L510.1 552.6 L510.1 556.5 L510.0 560.0 L509.8 562.9 L509.7 565.3 L509.4 567.4 L509.0 569.6 L508.5 572.0 L507.8 574.6 L507.0 577.3 L506.1 580.1 L505.1 583.0 L504.0 586.0 L502.8 589.3 L501.4 592.7 L500.0 596.3 L498.5 599.7 L497.0 603.0 L495.5 606.1 L493.9 609.2 L492.3 612.0 L490.7 614.7 L489.0 617.0 L487.3 618.8 L485.6 620.3 L483.9 621.5 L482.0 622.7 L480.0 624.0 L477.9 625.4 L475.6 626.9 L473.2 628.3 L470.7 629.7 L468.0 631.0 L465.0 632.2 L461.8 633.3 L458.5 634.3 L455.2 635.2 L452.0 636.0 L449.0 636.7 L446.0 637.3 L443.1 637.8 L440.1 638.2 L437.0 638.5 L433.7 638.6 L430.4 638.7 L427.0 638.6 L423.5 638.3 L420.0 638.0 L416.4 637.5 L412.8 636.8 L409.2 636.1 L405.6 635.3 L402.0 634.5 L398.5 633.7 L395.0 632.8 L391.5 631.9 L388.2 631.1 L385.0 630.5 L382.0 630.0 L379.2 629.6 L376.5 629.4 L373.8 629.2 L371.0 629.0 L368.2 628.8 L365.4 628.7 L362.6 628.6 L359.8 628.7 L357.0 629.0 L354.2 629.5 L351.4 630.2 L348.6 631.0 L345.8 631.9 L343.0 633.0 L340.2 634.2 L337.3 635.5 L334.4 636.9 L331.6 638.4 L329.0 640.0 L326.5 641.7 L324.2 643.5 L322.0 645.4 L319.9 647.4 L318.0 649.5 L316.3 651.8 L314.8 654.3 L313.4 656.9 L312.1 659.5 L311.0 662.0 L310.0 664.3 L309.1 666.5 L308.3 668.8 L307.6 671.2 L307.0 674.0 L306.5 677.2 L306.0 680.6 L305.6 684.3 L305.3 688.1 L305.0 692.0 L304.7 696.0 L304.5 700.1 L304.3 704.4 L304.1 708.7 L304.0 713.0 L303.9 717.3 L303.8 721.6 L303.8 725.9 L303.8 730.4 L304.0 735.0 L304.3 739.6 L304.8 744.3 L305.4 749.1 L306.0 754.3 L306.5 760.0 L307.0 766.4 L307.5 773.3 L308.0 780.5 L308.5 787.8 L309.0 795.0" fill="none" stroke="#7a1c14" stroke-width="7" opacity="0.55" filter="url(#b2)"/>
<path d="M516.9 348.2 L519.0 354.5 L521.0 360.0 L522.9 364.6 L524.8 368.7 L526.6 372.5 L528.3 376.2 L530.0 380.0 L531.5 384.0 L532.9 388.0 L534.3 392.0 L535.6 396.0 L537.0 400.0 L538.4 404.0 L539.8 408.0 L541.3 412.0 L542.7 416.0 L544.0 420.0 L545.3 424.0 L546.5 428.0 L547.6 432.0 L548.8 436.0 L550.0 440.0 L551.2 444.0 L552.5 448.0 L553.8 452.0 L555.0 456.0 L556.0 460.0 L556.9 464.0 L557.7 468.0 L558.4 472.0 L559.0 476.0 L559.5 480.0 L559.9 484.0 L560.3 488.0 L560.6 492.0 L560.8 496.0 L561.0 500.0 L561.2 504.0 L561.3 508.0 L561.4 512.0 L561.4 516.0 L561.5 520.0 L561.6 524.0 L561.6 527.9 L561.6 531.9 L561.6 535.9 L561.5 540.0 L561.3 544.4 L561.0 549.1 L560.7 553.8 L560.3 558.1 L560.0 562.0 L559.8 565.0 L559.6 567.5 L559.4 569.7 L559.1 572.0 L558.5 575.0 L557.7 578.7 L556.8 582.8 L555.6 587.2 L554.4 591.7 L553.0 596.0 L551.5 600.2 L549.8 604.4 L548.1 608.5 L546.1 612.7 L544.0 617.0 L541.7 621.4 L539.2 626.0 L536.5 630.5 L533.8 634.9 L531.0 639.0 L528.2 642.8 L525.3 646.4 L522.3 649.7 L519.2 652.9 L516.0 656.0 L512.6 658.9 L509.1 661.7 L505.5 664.3 L501.8 666.7 L498.0 669.0 L494.2 671.1 L490.3 673.1 L486.3 675.0 L482.2 676.6 L478.0 678.0 L473.6 679.2 L469.0 680.2 L464.3 681.0 L459.6 681.6 L455.0 682.0 L450.4 682.2 L445.8 682.2 L441.1 682.1 L436.5 681.8 L432.0 681.5 L427.5 681.1 L423.0 680.6 L418.6 680.0 L414.3 679.3 L410.0 678.5 L405.8 677.5 L401.6 676.3 L397.5 675.0 L393.6 673.9 L390.0 673.0 L386.7 672.5 L383.7 672.2 L381.0 672.1 L378.4 672.0 L376.0 672.0 L373.8 672.0 L371.9 672.0 L370.2 672.1 L368.6 672.2 L367.0 672.5 L365.5 672.8 L364.1 673.3 L362.7 673.8 L361.4 674.3 L360.0 675.0 L358.6 675.7 L357.2 676.6 L355.7 677.5 L354.3 678.4 L353.0 679.5 L351.7 680.7 L350.4 681.9 L349.2 683.3 L348.1 684.6 L347.0 686.0 L346.0 687.3 L345.2 688.7 L344.4 690.0 L343.7 691.5 L343.0 693.0 L342.4 694.7 L341.8 696.4 L341.3 698.2 L340.9 700.1 L340.5 702.0 L340.2 703.9 L339.9 705.8 L339.8 707.8 L339.6 709.9 L339.5 712.0 L339.4 714.2 L339.4 716.5 L339.4 718.8 L339.4 721.3 L339.5 724.0 L339.6 726.9 L339.8 729.9 L340.0 733.1 L340.3 736.5 L340.5 740.0 L340.8 743.5 L341.0 747.0 L341.3 750.7 L341.7 755.0 L342.0 760.0 L342.4 766.0 L342.8 772.9 L343.2 780.3 L343.6 787.8 L344.0 795.0" fill="none" stroke="#7a1c14" stroke-width="7" opacity="0.55" filter="url(#b2)"/>
<path d="M518.8 460.0 L520.3 466.7 L521.5 473.3 L522.6 480.0 L523.6 486.7 L524.4 493.3 L525.2 500.0 L525.8 506.7 L526.3 513.3 L526.7 520.0 L526.9 526.6 L527.0 533.3 L527.0 540.0 L526.9 547.2 L526.8 554.3 L526.5 560.7 L526.2 565.2 L525.8 568.9 L525.0 573.0 L523.7 578.1 L522.1 583.6 L520.2 589.3 L517.9 595.3 L515.3 601.6 L512.5 607.6 L509.5 613.5 L506.2 619.2 L502.9 624.3 L499.4 628.2 L495.8 631.5 L491.9 634.6" fill="none" stroke="#d0604a" stroke-width="12.0" opacity="0.60" filter="url(#b2)" stroke-linecap="round"/>
<path d="M547.4 480.0 L548.0 485.3 L548.5 490.7 L549.0 496.0 L549.3 501.3 L549.6 506.7 L549.8 512.0 L550.0 517.3 L550.1 522.7 L550.2 527.9 L550.2 533.2 L550.2 538.6 L550.0 544.4 L549.7 550.5 L549.4 556.4 L549.0 561.6 L548.7 565.4 L548.5 568.4 L548.0 571.5 L547.2 575.5 L546.1 580.3 L544.7 585.6 L543.1 591.1 L541.3 596.5 L539.2 601.8 L536.9 607.2 L534.3 612.6 L531.5 618.0 L528.4 623.7 L525.1 629.1 L521.8 634.2" fill="none" stroke="#8e261c" stroke-width="10.0" opacity="0.40" filter="url(#b2)" stroke-linecap="round"/>
<path d="M446.9 662.4 L440.9 662.6 L434.8 662.5 L428.6 662.1 L422.5 661.5 L416.4 660.6 L410.3 659.5 L404.4 658.2 L398.6 656.7 L393.0 655.1 L387.8 653.9 L383.1 653.2 L378.9 652.9 L375.0 652.7 L371.3 652.6 L367.9 652.5 L364.6 652.7 L361.4 653.1 L358.4 653.9 L355.4 654.9 L352.4 656.1 L349.2 657.5 L346.1 659.2 L343.2 661.1 L340.4 663.1 L337.8 665.4 L335.4 667.9 L333.3 670.5 L331.5 673.2 L330.0 676.1 L328.6 679.0" fill="none" stroke="#d0604a" stroke-width="11.0" opacity="0.50" filter="url(#b2)" stroke-linecap="round"/>
<path d="M474.6 639.4 L470.3 641.2 L465.8 642.8 L461.1 644.3 L456.6 645.5 L452.2 646.5 L447.8 647.3 L443.3 647.9 L438.6 648.2 L433.8 648.2 L428.8 648.1 L423.9 647.7 L418.9 647.1 L413.8 646.2 L408.7 645.2 L403.8 644.2 L398.9 643.0 L394.0 641.7 L389.4 640.5 L385.1 639.7 L381.1 639.1 L377.4 638.8 L373.9 638.5 L370.3 638.4 L366.8 638.2 L363.4 638.2 L360.0 638.5 L356.7 639.0 L353.4 639.9 L350.1 641.0 L346.7 642.2" fill="none" stroke="#d46a54" stroke-width="6.0" opacity="0.45" filter="url(#b2)" stroke-linecap="round"/>
<path d="M472.8 669.6 L466.5 671.2 L460.1 672.3 L453.6 673.1 L447.1 673.5 L440.5 673.5 L433.9 673.1 L427.4 672.6 L421.0 671.8 L414.6 670.9 L408.4 669.7 L402.3 668.2 L396.3 666.4 L390.8 664.9 L385.8 664.0 L381.4 663.6 L377.5 663.5 L373.9 663.4 L370.6 663.3 L367.8 663.5 L365.0 663.8 L362.4 664.4 L359.9 665.2 L357.4 666.2 L354.9 667.4 L352.3 668.8 L349.8 670.4 L347.4 672.2 L345.2 674.2 L343.1 676.4 L341.2 678.7" fill="none" stroke="#8e261c" stroke-width="7.0" opacity="0.35" filter="url(#b2)" stroke-linecap="round"/>
<g mask="url(#mTop)"><path d="M425.0 236.0 L425.5 238.7 L425.9 241.3 L426.3 244.0 L426.8 246.8 L427.5 250.0 L428.3 253.6 L429.3 257.6 L430.3 261.7 L431.4 265.9 L432.5 270.0 L433.6 274.0 L434.6 278.0 L435.7 282.0 L436.9 286.0 L438.0 290.0 L439.1 294.0 L440.2 298.0 L441.4 302.0 L442.6 306.0 L444.0 310.0 L445.5 313.8 L447.2 317.5 L449.0 321.3 L450.9 325.4 L453.0 330.0 L455.4 335.5 L458.2 341.8 L461.0 348.2 L463.7 354.5 L466.0 360.0 L521.0 360.0 L519.0 354.5 L516.9 348.2 L514.8 341.8 L512.8 335.5 L511.0 330.0 L509.5 325.4 L508.3 321.3 L507.2 317.5 L506.1 313.8 L505.0 310.0 L503.8 306.0 L502.6 302.0 L501.4 298.0 L500.2 294.0 L499.0 290.0 L497.8 286.0 L496.6 282.0 L495.4 278.0 L494.2 274.0 L493.0 270.0 L491.8 265.9 L490.5 261.7 L489.3 257.6 L488.1 253.6 L487.0 250.0 L486.1 246.8 L485.3 244.0 L484.5 241.3 L483.8 238.7 L483.0 236.0Z" fill="url(#lumTop)"/></g>
<g filter="url(#b05)"><path d="M461.1 347.6 L467.2 359.1 L471.8 367.7 L475.5 375.0 L479.6 382.5 L484.0 390.2 L488.4 397.9 L492.5 405.6 L496.5 413.4" fill="none" stroke="#982a20" stroke-width="2.6" opacity="0.81"/><path d="M464.0 349.7 L469.0 358.9 L472.9 366.1 L476.1 372.2 L479.4 378.0 L482.9 384.2 L486.6 390.5 L490.2 396.7 L493.7 403.0" fill="none" stroke="#c8523e" stroke-width="2.2" opacity="0.66"/><path d="M462.0 342.8 L468.0 354.5 L472.9 363.9 L476.6 371.3 L480.1 378.1 L484.0 385.4 L488.0 392.8 L492.0 400.1 L495.7 407.5" fill="none" stroke="#e28e7a" stroke-width="2.7" opacity="0.71"/><path d="M463.7 344.6 L469.0 354.8 L473.4 363.2 L476.8 369.9 L480.0 375.9 L483.4 382.2 L487.0 388.7 L490.6 395.2 L494.0 401.7" fill="none" stroke="#dc7a64" stroke-width="2.7" opacity="0.84"/><path d="M469.6 356.0 L473.2 362.6 L476.2 368.1 L478.8 373.0 L481.5 377.9 L484.4 383.0 L487.4 388.1 L490.4 393.3 L493.3 398.5" fill="none" stroke="#dc7a64" stroke-width="2.3" opacity="0.59"/><path d="M465.8 342.7 L470.5 351.8 L474.6 360.0 L477.9 366.4 L480.7 371.9 L483.4 377.3 L486.3 382.9 L489.4 388.6 L492.5 394.3" fill="none" stroke="#d66a54" stroke-width="1.7" opacity="0.80"/><path d="M465.3 339.8 L471.1 351.9 L476.1 362.2 L479.7 370.2 L483.1 377.2 L486.7 384.7 L490.5 392.3 L494.1 399.9 L497.6 407.5" fill="none" stroke="#c24a38" stroke-width="3.1" opacity="0.68"/><path d="M472.1 351.6 L477.7 364.1 L481.7 373.3 L485.7 382.3 L490.1 391.7 L494.3 401.1 L498.2 410.6 L502.1 420.0 L506.0 429.4" fill="none" stroke="#8c241c" stroke-width="2.3" opacity="0.74"/><path d="M474.2 354.8 L478.9 365.4 L482.5 373.7 L486.2 381.9 L490.1 390.5 L494.0 399.1 L497.7 407.7 L501.2 416.3 L504.7 424.8" fill="none" stroke="#c8523e" stroke-width="3.1" opacity="0.77"/><path d="M474.7 353.6 L479.4 364.1 L482.9 372.2 L486.2 379.8 L489.8 387.9 L493.5 396.0 L497.0 404.1 L500.3 412.2 L503.6 420.3" fill="none" stroke="#982a20" stroke-width="1.8" opacity="0.64"/><path d="M470.8 340.8 L476.1 352.9 L480.5 362.9 L483.8 370.7 L486.9 377.7 L490.1 385.2 L493.5 392.8 L496.8 400.3 L499.9 407.9" fill="none" stroke="#982a20" stroke-width="3.2" opacity="0.81"/><path d="M474.2 345.9 L479.1 357.2 L482.8 366.1 L485.8 373.3 L488.8 380.3 L492.0 387.8 L495.2 395.2 L498.2 402.6 L501.2 410.1" fill="none" stroke="#c24a38" stroke-width="2.3" opacity="0.62"/><path d="M477.0 350.0 L481.8 361.4 L485.2 370.0 L488.3 377.5 L491.6 385.5 L495.0 393.6 L498.2 401.7 L501.3 409.8 L504.3 417.9" fill="none" stroke="#d66a54" stroke-width="3.3" opacity="0.67"/><path d="M474.9 342.1 L479.5 353.2 L483.3 362.5 L486.3 369.8 L488.9 376.3 L491.6 383.2 L494.5 390.2 L497.3 397.2 L500.0 404.2" fill="none" stroke="#982a20" stroke-width="2.4" opacity="0.58"/><path d="M477.7 344.9 L483.8 360.1 L487.9 370.8 L491.5 380.3 L495.5 390.4 L499.3 400.5 L502.9 410.6 L506.4 420.7 L509.9 430.8" fill="none" stroke="#dc7a64" stroke-width="2.0" opacity="0.65"/><path d="M476.6 338.8 L480.3 348.4 L483.8 357.3 L486.6 364.7 L488.8 370.6 L490.9 376.1 L493.0 382.0 L495.3 387.9 L497.5 393.9" fill="none" stroke="#c24a38" stroke-width="2.7" opacity="0.61"/><path d="M480.7 347.0 L485.9 360.5 L489.6 370.3 L492.8 379.0 L496.2 388.1 L499.6 397.4 L502.8 406.6 L505.8 415.8 L508.9 425.0" fill="none" stroke="#8c241c" stroke-width="2.3" opacity="0.71"/><path d="M485.3 356.4 L488.8 365.7 L491.5 373.2 L494.1 380.5 L496.9 388.2 L499.6 395.9 L502.2 403.6 L504.7 411.3 L507.2 419.1" fill="none" stroke="#dc7a64" stroke-width="2.3" opacity="0.64"/><path d="M484.1 349.6 L488.9 362.5 L492.3 372.0 L495.3 380.8 L498.6 390.0 L501.8 399.3 L504.8 408.6 L507.7 417.9 L510.6 427.2" fill="none" stroke="#8c241c" stroke-width="2.5" opacity="0.72"/><path d="M484.1 345.2 L488.4 357.2 L491.6 366.6 L494.2 374.1 L496.6 381.7 L499.2 389.5 L501.8 397.4 L504.2 405.3 L506.5 413.2" fill="none" stroke="#c8523e" stroke-width="2.2" opacity="0.84"/><path d="M486.4 348.5 L489.2 356.8 L491.4 363.7 L493.1 369.4 L494.6 374.6 L496.2 379.8 L497.8 385.4 L499.4 390.9 L501.0 396.4" fill="none" stroke="#a83226" stroke-width="3.2" opacity="0.85"/><path d="M487.0 346.7 L489.9 355.8 L492.3 363.3 L494.1 369.4 L495.7 374.9 L497.3 380.6 L498.9 386.5 L500.6 392.4 L502.2 398.3" fill="none" stroke="#a83226" stroke-width="2.0" opacity="0.81"/><path d="M485.0 339.8 L489.5 353.2 L493.2 364.3 L495.9 372.6 L498.4 380.7 L501.0 389.1 L503.5 397.6 L505.9 406.1 L508.3 414.6" fill="none" stroke="#c8523e" stroke-width="3.6" opacity="0.72"/><path d="M488.4 346.5 L492.9 360.0 L496.0 369.7 L498.7 378.2 L501.5 387.2 L504.2 396.3 L506.8 405.4 L509.2 414.4 L511.6 423.5" fill="none" stroke="#a83226" stroke-width="2.7" opacity="0.82"/><path d="M487.7 340.5 L490.4 349.6 L492.8 358.0 L494.7 364.9 L496.1 370.5 L497.4 375.8 L498.7 381.3 L500.0 386.9 L501.4 392.6" fill="none" stroke="#d66a54" stroke-width="2.6" opacity="0.69"/><path d="M492.8 351.0 L495.9 361.4 L498.2 369.3 L500.1 376.2 L502.0 383.5 L503.9 390.9 L505.8 398.4 L507.5 405.8 L509.3 413.3" fill="none" stroke="#982a20" stroke-width="2.4" opacity="0.54"/><path d="M494.6 353.1 L496.4 360.3 L497.8 366.1 L498.9 371.1 L499.8 375.9 L500.8 380.8 L501.7 386.0 L502.7 391.1 L503.6 396.3" fill="none" stroke="#c8523e" stroke-width="3.5" opacity="0.67"/><path d="M493.9 346.9 L497.9 360.3 L500.7 370.0 L503.1 378.5 L505.5 387.6 L507.8 396.7 L510.0 405.8 L512.0 414.9 L514.0 424.0" fill="none" stroke="#d66a54" stroke-width="2.8" opacity="0.55"/><path d="M493.7 343.9 L495.8 352.6 L497.6 360.4 L498.9 366.5 L500.0 371.8 L500.9 376.9 L501.8 382.3 L502.7 387.8 L503.6 393.3" fill="none" stroke="#c8523e" stroke-width="3.5" opacity="0.52"/><path d="M497.3 350.6 L498.8 357.8 L500.0 363.8 L500.8 368.9 L501.5 373.5 L502.1 378.1 L502.7 383.0 L503.3 387.9 L503.9 392.8" fill="none" stroke="#dc7a64" stroke-width="2.8" opacity="0.84"/><path d="M498.8 350.5 L500.8 359.3 L502.2 366.2 L503.4 372.1 L504.3 377.8 L505.3 383.8 L506.2 389.8 L507.1 395.9 L507.9 402.0" fill="none" stroke="#d66a54" stroke-width="2.8" opacity="0.56"/><path d="M501.2 355.0 L503.1 363.6 L504.6 370.5 L505.8 376.7 L507.0 383.3 L508.1 390.0 L509.1 396.8 L510.2 403.5 L511.1 410.2" fill="none" stroke="#8c241c" stroke-width="3.5" opacity="0.67"/><path d="M499.2 343.2 L501.9 354.8 L504.0 364.2 L505.5 371.5 L506.7 378.3 L507.9 385.6 L509.1 392.9 L510.2 400.3 L511.2 407.6" fill="none" stroke="#dc7a64" stroke-width="2.4" opacity="0.75"/><path d="M503.6 355.1 L504.5 361.5 L505.2 366.9 L505.6 371.6 L505.9 376.1 L506.2 380.8 L506.4 385.7 L506.7 390.6 L506.9 395.5" fill="none" stroke="#982a20" stroke-width="2.0" opacity="0.84"/><path d="M503.1 349.4 L504.4 357.5 L505.4 364.3 L506.0 369.8 L506.5 374.9 L506.9 380.1 L507.3 385.6 L507.6 391.1 L507.9 396.6" fill="none" stroke="#8c241c" stroke-width="2.9" opacity="0.84"/><path d="M506.8 355.8 L508.5 364.7 L509.8 371.8 L510.8 378.5 L511.7 385.6 L512.5 392.7 L513.3 399.9 L514.1 407.0 L514.8 414.2" fill="none" stroke="#8c241c" stroke-width="2.2" opacity="0.58"/><path d="M505.9 351.3 L507.5 360.5 L508.6 367.6 L509.4 373.7 L510.0 379.8 L510.6 386.3 L511.1 392.7 L511.6 399.2 L512.1 405.7" fill="none" stroke="#982a20" stroke-width="1.9" opacity="0.57"/><path d="M508.5 353.6 L510.2 363.2 L511.5 370.7 L512.5 377.6 L513.3 384.8 L514.0 392.2 L514.6 399.5 L515.3 406.9 L515.9 414.2" fill="none" stroke="#c24a38" stroke-width="3.2" opacity="0.56"/><path d="M509.1 352.4 L510.4 361.4 L511.3 368.5 L512.0 374.6 L512.5 380.9 L512.9 387.4 L513.2 394.0 L513.5 400.5 L513.8 407.1" fill="none" stroke="#dc7a64" stroke-width="2.6" opacity="0.57"/><path d="M510.6 351.5 L513.2 364.1 L515.1 373.4 L516.6 382.4 L517.9 391.9 L519.1 401.3 L520.2 410.8 L521.3 420.2 L522.2 429.7" fill="none" stroke="#a83226" stroke-width="2.5" opacity="0.85"/><path d="M509.6 346.4 L511.5 358.0 L512.9 366.9 L513.9 374.3 L514.7 381.6 L515.3 389.3 L515.8 397.0 L516.3 404.7 L516.8 412.4" fill="none" stroke="#982a20" stroke-width="1.8" opacity="0.68"/><path d="M510.0 343.8 L512.6 357.9 L514.6 368.4 L516.1 377.0 L517.3 386.1 L518.2 395.3 L519.2 404.5 L520.1 413.7 L520.8 422.9" fill="none" stroke="#8c241c" stroke-width="3.0" opacity="0.55"/><path d="M513.4 352.2 L515.2 363.1 L516.5 371.4 L517.4 379.0 L518.1 387.2 L518.6 395.3 L519.1 403.5 L519.6 411.6 L520.1 419.8" fill="none" stroke="#dc7a64" stroke-width="2.9" opacity="0.54"/><path d="M513.0 345.5 L514.6 357.3 L515.8 366.4 L516.7 373.8 L517.2 381.2 L517.5 388.9 L517.7 396.6 L518.0 404.3 L518.2 412.0" fill="none" stroke="#a83226" stroke-width="3.0" opacity="0.53"/><path d="M516.8 354.2 L517.5 362.7 L517.9 369.5 L518.1 375.6 L518.1 381.9 L517.9 388.4 L517.6 394.9 L517.4 401.4 L517.1 408.0" fill="none" stroke="#e28e7a" stroke-width="3.4" opacity="0.77"/><path d="M519.0 354.9 L518.9 361.7 L518.6 367.3 L518.1 372.2 L517.5 376.9 L516.8 381.9 L515.9 387.0 L515.0 392.2 L514.1 397.3" fill="none" stroke="#a83226" stroke-width="2.3" opacity="0.78"/></g>
<path d="M462.3 343.4 L466.8 343.4 L471.3 343.4 L475.8 343.4 L480.3 343.4 L484.8 343.4 L489.4 343.4 L493.9 343.4 L498.4 343.4 L502.9 343.4 L507.4 343.4 L511.9 343.4" fill="none" stroke="#fdf0ec" stroke-width="13" opacity="0.9" filter="url(#b3)"/>
<g filter="url(#b05)"><path d="M449.0 319.4 L453.3 328.0 L458.7 339.4 L464.7 352.6 L469.5 363.5 L472.7 371.8 L475.8 379.5" fill="none" stroke="url(#gWf)" stroke-width="2.5" opacity="0.68"/><path d="M450.8 319.4 L454.0 325.7 L457.7 333.5 L462.1 343.1 L466.6 353.0 L470.3 361.6 L473.1 368.3" fill="none" stroke="url(#gWf)" stroke-width="1.4" opacity="0.60"/><path d="M451.2 319.4 L454.7 326.6 L459.0 335.8 L464.2 347.1 L468.9 357.8 L472.3 366.2 L474.9 373.0" fill="none" stroke="url(#gWf)" stroke-width="2.4" opacity="0.65"/><path d="M453.0 319.4 L456.1 325.8 L459.7 333.8 L464.1 343.7 L468.6 353.8 L472.2 362.3 L474.8 369.0" fill="none" stroke="url(#gWf)" stroke-width="1.5" opacity="0.82"/><path d="M454.3 319.4 L457.7 326.7 L461.8 336.1 L466.8 347.5 L471.4 358.3 L474.7 366.6 L477.2 373.5" fill="none" stroke="url(#gWf)" stroke-width="2.2" opacity="0.56"/><path d="M455.5 319.4 L458.7 326.2 L462.4 334.8 L467.0 345.4 L471.4 355.9 L474.8 364.3 L477.2 371.1" fill="none" stroke="url(#gWf)" stroke-width="2.4" opacity="0.74"/><path d="M457.5 319.4 L459.7 324.5 L462.2 330.3 L465.2 337.6 L468.6 345.7 L472.0 353.8 L474.7 360.8" fill="none" stroke="url(#gWf)" stroke-width="2.4" opacity="0.90"/><path d="M458.8 319.4 L461.8 326.5 L465.5 335.5 L470.1 346.7 L474.4 357.3 L477.6 365.7 L479.9 372.5" fill="none" stroke="url(#gWf)" stroke-width="3.0" opacity="0.79"/><path d="M459.0 319.4 L461.5 325.3 L464.5 332.6 L468.1 341.5 L472.0 351.0 L475.4 359.6 L477.8 366.3" fill="none" stroke="url(#gWf)" stroke-width="1.8" opacity="0.91"/><path d="M460.9 319.4 L464.1 327.3 L468.2 337.5 L473.0 349.7 L477.3 360.7 L480.2 368.9 L482.6 376.0" fill="none" stroke="url(#gWf)" stroke-width="2.3" opacity="0.56"/><path d="M462.4 319.4 L464.7 325.4 L467.6 332.9 L471.1 342.1 L474.8 351.8 L478.1 360.4 L480.4 367.1" fill="none" stroke="url(#gWf)" stroke-width="2.0" opacity="0.62"/><path d="M463.7 319.4 L466.6 327.0 L470.3 336.8 L474.9 348.6 L479.0 359.6 L481.8 367.8 L484.1 374.8" fill="none" stroke="url(#gWf)" stroke-width="2.3" opacity="0.70"/><path d="M465.3 319.4 L467.2 324.8 L469.5 331.4 L472.4 339.4 L475.6 348.2 L478.6 356.5 L480.9 363.4" fill="none" stroke="url(#gWf)" stroke-width="2.7" opacity="0.84"/><path d="M466.4 319.4 L468.2 324.8 L470.4 331.2 L473.1 339.1 L476.3 347.7 L479.2 356.0 L481.5 363.0" fill="none" stroke="url(#gWf)" stroke-width="2.7" opacity="0.73"/><path d="M467.3 319.4 L469.0 324.7 L471.1 330.9 L473.7 338.6 L476.7 347.1 L479.5 355.3 L481.8 362.2" fill="none" stroke="url(#gWf)" stroke-width="1.6" opacity="0.58"/><path d="M469.7 319.4 L471.3 324.7 L473.2 330.9 L475.7 338.7 L478.6 347.2 L481.3 355.4 L483.5 362.4" fill="none" stroke="url(#gWf)" stroke-width="1.4" opacity="0.77"/><path d="M470.0 319.4 L472.5 327.0 L475.8 336.8 L479.9 348.6 L483.7 359.5 L486.3 367.8 L488.3 374.8" fill="none" stroke="url(#gWf)" stroke-width="2.1" opacity="0.80"/><path d="M471.1 319.4 L473.6 327.0 L476.8 336.9 L480.9 348.7 L484.6 359.6 L487.2 367.9 L489.2 374.9" fill="none" stroke="url(#gWf)" stroke-width="2.4" opacity="0.80"/><path d="M472.7 319.4 L475.0 327.1 L478.2 337.1 L482.3 349.0 L485.9 360.0 L488.4 368.2 L490.4 375.2" fill="none" stroke="url(#gWf)" stroke-width="1.6" opacity="0.76"/><path d="M474.0 319.4 L475.7 325.8 L478.1 333.8 L481.2 343.5 L484.4 353.6 L487.0 362.1 L488.9 368.9" fill="none" stroke="url(#gWf)" stroke-width="2.4" opacity="0.53"/><path d="M476.5 319.4 L478.9 327.7 L482.2 338.7 L486.3 351.5 L489.8 362.4 L492.1 370.7 L494.2 378.2" fill="none" stroke="url(#gWf)" stroke-width="1.6" opacity="0.80"/><path d="M476.6 319.4 L478.3 326.1 L480.6 334.5 L483.7 344.7 L486.9 355.1 L489.4 363.6 L491.1 370.3" fill="none" stroke="url(#gWf)" stroke-width="2.8" opacity="0.60"/><path d="M478.1 319.4 L479.3 325.3 L481.2 332.5 L483.6 341.3 L486.3 350.8 L488.8 359.3 L490.5 366.1" fill="none" stroke="url(#gWf)" stroke-width="1.5" opacity="0.67"/><path d="M480.0 319.4 L481.2 325.2 L482.8 332.3 L485.1 340.9 L487.6 350.3 L489.9 358.8 L491.6 365.6" fill="none" stroke="url(#gWf)" stroke-width="1.3" opacity="0.68"/><path d="M482.0 319.4 L483.3 326.1 L485.3 334.4 L488.1 344.7 L491.0 355.1 L493.2 363.5 L494.7 370.3" fill="none" stroke="url(#gWf)" stroke-width="1.8" opacity="0.82"/><path d="M482.3 319.4 L483.9 326.8 L486.3 336.3 L489.6 347.8 L492.6 358.6 L494.8 366.9 L496.4 373.8" fill="none" stroke="url(#gWf)" stroke-width="2.1" opacity="0.84"/><path d="M483.8 319.4 L484.8 325.5 L486.4 333.0 L488.6 342.3 L491.1 352.0 L493.3 360.6 L494.8 367.3" fill="none" stroke="url(#gWf)" stroke-width="1.7" opacity="0.76"/><path d="M485.7 319.4 L487.2 327.1 L489.5 337.0 L492.7 348.9 L495.6 359.8 L497.6 368.0 L499.2 375.0" fill="none" stroke="url(#gWf)" stroke-width="1.3" opacity="0.82"/><path d="M486.1 319.4 L487.0 325.6 L488.5 333.4 L490.8 343.0 L493.2 352.9 L495.3 361.4 L496.7 368.2" fill="none" stroke="url(#gWf)" stroke-width="1.9" opacity="0.93"/><path d="M488.1 319.4 L489.8 328.0 L492.5 339.4 L496.0 352.5 L498.9 363.5 L500.9 371.8 L502.6 379.5" fill="none" stroke="url(#gWf)" stroke-width="1.4" opacity="0.81"/><path d="M489.2 319.4 L490.3 326.7 L492.2 335.9 L494.9 347.3 L497.5 358.0 L499.4 366.3 L500.8 373.2" fill="none" stroke="url(#gWf)" stroke-width="2.4" opacity="0.63"/><path d="M490.4 319.4 L490.7 324.6 L491.3 330.6 L492.5 338.1 L494.1 346.4 L495.7 354.6 L496.9 361.5" fill="none" stroke="url(#gWf)" stroke-width="2.7" opacity="0.58"/><path d="M491.6 319.4 L491.7 324.4 L492.2 330.3 L493.2 337.5 L494.7 345.6 L496.1 353.7 L497.3 360.7" fill="none" stroke="url(#gWf)" stroke-width="2.9" opacity="0.95"/><path d="M493.4 319.4 L493.3 324.2 L493.6 329.7 L494.4 336.5 L495.5 344.2 L496.8 351.9 L497.8 358.9" fill="none" stroke="url(#gWf)" stroke-width="2.0" opacity="0.82"/><path d="M495.5 319.4 L496.2 326.6 L497.6 335.8 L499.9 347.0 L502.2 357.7 L503.8 366.1 L505.0 372.9" fill="none" stroke="url(#gWf)" stroke-width="1.5" opacity="0.56"/><path d="M495.7 319.4 L496.4 326.8 L497.9 336.2 L500.3 347.7 L502.6 358.4 L504.2 366.7 L505.5 373.7" fill="none" stroke="url(#gWf)" stroke-width="3.0" opacity="0.88"/><path d="M497.6 319.4 L497.5 324.9 L497.9 331.5 L498.9 339.6 L500.3 348.5 L501.6 356.8 L502.5 363.8" fill="none" stroke="url(#gWf)" stroke-width="1.3" opacity="0.76"/><path d="M499.4 319.4 L499.6 326.2 L500.6 334.7 L502.4 345.2 L504.3 355.6 L505.7 364.1 L506.7 370.9" fill="none" stroke="url(#gWf)" stroke-width="1.3" opacity="0.48"/><path d="M500.6 319.4 L501.3 327.9 L503.2 339.4 L505.9 352.4 L508.2 363.4 L509.8 371.7 L511.1 379.4" fill="none" stroke="url(#gWf)" stroke-width="1.2" opacity="0.93"/><path d="M501.2 319.4 L501.7 327.2 L503.1 337.3 L505.3 349.3 L507.4 360.3 L508.9 368.5 L510.0 375.6" fill="none" stroke="url(#gWf)" stroke-width="1.2" opacity="0.85"/><path d="M503.3 319.4 L503.3 326.4 L504.2 335.3 L505.9 346.3 L507.7 356.9 L509.0 365.3 L509.9 372.1" fill="none" stroke="url(#gWf)" stroke-width="2.2" opacity="0.71"/><path d="M504.3 319.4 L504.2 326.3 L505.0 335.0 L506.5 345.7 L508.2 356.2 L509.4 364.7 L510.3 371.4" fill="none" stroke="url(#gWf)" stroke-width="1.5" opacity="0.65"/><path d="M505.9 319.4 L505.1 324.3 L504.7 330.0 L504.8 337.0 L505.4 345.0 L506.0 352.9 L506.5 359.9" fill="none" stroke="url(#gWf)" stroke-width="2.5" opacity="0.62"/><path d="M507.3 319.4 L507.1 326.4 L507.7 335.3 L509.1 346.3 L510.7 356.8 L511.8 365.3 L512.6 372.1" fill="none" stroke="url(#gWf)" stroke-width="1.9" opacity="0.78"/></g>
<path d="M522.0 372.0 L521.0 373.7 L520.5 375.2 L520.3 376.6 L520.1 378.1 L519.9 379.5 L519.9 380.9 L519.8 382.2 L519.8 383.5 L519.9 384.8 L519.9 386.1 L520.0 387.3 L520.1 388.5 L520.2 389.6 L520.3 390.8 L520.4 391.9 L520.6 392.9 L520.7 394.0 L520.9 395.0 L521.0 396.0 L521.2 396.9 L521.4 397.9 L521.6 398.9 L521.8 399.9 L522.0 400.9 L522.3 402.0 L522.5 403.1 L522.8 404.2 L523.2 405.3 L523.5 406.5 L523.9 407.7 L524.3 408.9 L524.7 410.1 L525.2 411.3 L525.7 412.6 L526.3 413.8 L527.0 415.1 L527.7 416.3 L528.5 417.6 L529.5 418.8 L531.0 420.0 L531.0 420.0 L532.5 418.7 L533.4 417.5 L534.2 416.3 L534.9 415.0 L535.5 413.8 L536.1 412.6 L536.6 411.4 L537.1 410.1 L537.6 408.9 L538.0 407.6 L538.4 406.3 L538.7 405.0 L538.9 403.7 L539.1 402.3 L539.3 400.9 L539.3 399.5 L539.3 398.1 L539.3 396.7 L539.1 395.2 L538.9 393.7 L538.6 392.3 L538.2 390.9 L537.8 389.5 L537.3 388.1 L536.7 386.8 L536.1 385.5 L535.4 384.3 L534.7 383.2 L533.9 382.0 L533.1 381.0 L532.2 379.9 L531.3 378.9 L530.4 377.9 L529.5 377.0 L528.5 376.1 L527.4 375.2 L526.3 374.3 L525.1 373.5 L523.8 372.6 L522.0 372.0Z" fill="#a83224" stroke="#7e2018" stroke-width="1"/>
<path d="M521.0 378.0 L522.1 381.3 L523.2 384.6 L524.3 387.8 L525.4 391.1 L526.4 394.4 L527.2 397.8 L527.7 401.2 L528.1 404.7 L528.4 408.1 L528.7 411.6 L529.0 415.0" fill="none" stroke="#d06a58" stroke-width="3" opacity="0.6" filter="url(#b1)"/>
<path d="M532.0 417.0 L530.1 423.9 L528.1 430.7 L526.4 437.6 L525.2 444.6 L524.4 451.7 L524.6 458.8 L525.8 465.8 L527.7 472.7 L529.8 479.5 L532.0 486.2 L534.0 493.1 L535.6 500.0 L536.9 507.0 L537.5 514.1 L537.5 521.2 L537.1 528.3 L536.5 535.4 L535.7 542.5 L534.8 549.6 L533.6 556.6 L532.2 563.6 L530.3 570.4 L527.9 577.1 L525.4 583.8 L523.1 590.5 L520.8 597.3 L518.2 603.9 L514.9 610.2 L511.0 616.2 L506.9 621.9 L502.4 627.4 L497.5 632.6 L492.2 637.4 L486.4 641.5 L480.2 645.1 L473.9 648.2 L467.3 651.1 L460.6 653.4 L453.7 655.2 L446.7 656.7 L439.7 657.7 L432.6 658.3 L425.5 658.7 L418.4 659.1 L411.3 659.7 L404.2 660.2 L397.1 660.8 L390.0 661.5 L382.9 662.2 L375.9 663.2 L368.9 664.7 L362.1 666.7 L355.5 669.2 L349.3 672.7 L343.7 677.1 L338.6 682.2 L334.2 687.7 L330.6 693.8 L327.0 700.0" fill="none" stroke="#7f7aa6" stroke-width="3.3" stroke-linecap="round" opacity="0.85"/>
<path d="M532.0 417.0 L530.1 423.9 L528.1 430.7 L526.4 437.6 L525.2 444.6 L524.4 451.7 L524.6 458.8 L525.8 465.8 L527.7 472.7 L529.8 479.5 L532.0 486.2 L534.0 493.1 L535.6 500.0 L536.9 507.0 L537.5 514.1 L537.5 521.2 L537.1 528.3 L536.5 535.4 L535.7 542.5 L534.8 549.6 L533.6 556.6 L532.2 563.6 L530.3 570.4 L527.9 577.1 L525.4 583.8 L523.1 590.5 L520.8 597.3 L518.2 603.9 L514.9 610.2 L511.0 616.2 L506.9 621.9 L502.4 627.4 L497.5 632.6 L492.2 637.4 L486.4 641.5 L480.2 645.1 L473.9 648.2 L467.3 651.1 L460.6 653.4 L453.7 655.2 L446.7 656.7 L439.7 657.7 L432.6 658.3 L425.5 658.7 L418.4 659.1 L411.3 659.7 L404.2 660.2 L397.1 660.8 L390.0 661.5 L382.9 662.2 L375.9 663.2 L368.9 664.7 L362.1 666.7 L355.5 669.2 L349.3 672.7 L343.7 677.1 L338.6 682.2 L334.2 687.7 L330.6 693.8 L327.0 700.0" fill="none" stroke="#bcb8da" stroke-width="2.3" stroke-linecap="round"/>
<path d="M510.0 505.0 L510.2 506.1 L510.4 507.2 L510.5 508.3 L510.7 509.3 L510.8 510.4 L511.0 511.5 L511.1 512.6 L511.3 513.7 L511.4 514.8 L511.6 515.9 L511.8 517.0 L512.0 518.0 L512.3 519.1 L512.5 520.2 L512.8 521.2 L513.1 522.3 L513.4 523.4 L513.7 524.4 L514.0 525.5 L514.3 526.5 L514.7 527.6 L515.0 528.6 L515.4 529.7 L515.7 530.7 L516.1 531.8 L516.4 532.8 L516.8 533.8 L517.1 534.9 L517.5 535.9 L517.9 536.9 L518.3 538.0 L518.7 539.0 L519.0 540.0 L519.4 541.1 L519.8 542.1 L520.2 543.1 L520.7 544.1 L521.1 545.2 L521.5 546.2 L521.9 547.2 L522.4 548.2 L522.8 549.2 L523.3 550.2 L523.7 551.2 L524.2 552.2 L524.7 553.2 L525.2 554.2 L525.6 555.2 L526.1 556.1 L526.6 557.1 L527.1 558.1 L527.6 559.1 L528.1 560.1 L528.6 561.1 L529.1 562.0 L529.6 563.0 L530.0 564.0 L530.5 565.0 L531.0 566.0" fill="none" stroke="#7f7aa6" stroke-width="3.0" stroke-linecap="round" opacity="0.85"/>
<path d="M510.0 505.0 L510.2 506.1 L510.4 507.2 L510.5 508.3 L510.7 509.3 L510.8 510.4 L511.0 511.5 L511.1 512.6 L511.3 513.7 L511.4 514.8 L511.6 515.9 L511.8 517.0 L512.0 518.0 L512.3 519.1 L512.5 520.2 L512.8 521.2 L513.1 522.3 L513.4 523.4 L513.7 524.4 L514.0 525.5 L514.3 526.5 L514.7 527.6 L515.0 528.6 L515.4 529.7 L515.7 530.7 L516.1 531.8 L516.4 532.8 L516.8 533.8 L517.1 534.9 L517.5 535.9 L517.9 536.9 L518.3 538.0 L518.7 539.0 L519.0 540.0 L519.4 541.1 L519.8 542.1 L520.2 543.1 L520.7 544.1 L521.1 545.2 L521.5 546.2 L521.9 547.2 L522.4 548.2 L522.8 549.2 L523.3 550.2 L523.7 551.2 L524.2 552.2 L524.7 553.2 L525.2 554.2 L525.6 555.2 L526.1 556.1 L526.6 557.1 L527.1 558.1 L527.6 559.1 L528.1 560.1 L528.6 561.1 L529.1 562.0 L529.6 563.0 L530.0 564.0 L530.5 565.0 L531.0 566.0" fill="none" stroke="#bcb8da" stroke-width="2.0" stroke-linecap="round"/>
<path d="M311.0 664.0 L311.1 664.7 L311.2 665.4 L311.3 666.0 L311.4 666.7 L311.5 667.4 L311.5 668.1 L311.6 668.8 L311.7 669.4 L311.8 670.1 L311.9 670.8 L311.9 671.5 L312.0 672.2 L312.1 672.9 L312.2 673.5 L312.3 674.2 L312.4 674.9 L312.4 675.6 L312.5 676.3 L312.6 676.9 L312.7 677.6 L312.8 678.3 L313.0 679.0 L313.1 679.6 L313.2 680.3 L313.3 681.0 L313.5 681.7 L313.6 682.3 L313.8 683.0 L313.9 683.7 L314.1 684.3 L314.3 685.0 L314.5 685.7 L314.7 686.3 L314.9 687.0 L315.1 687.6 L315.3 688.3 L315.5 688.9 L315.7 689.6 L316.0 690.2 L316.2 690.9 L316.5 691.5 L316.7 692.2 L316.9 692.8 L317.2 693.4 L317.5 694.1 L317.7 694.7 L318.0 695.3 L318.2 696.0 L318.5 696.6 L318.7 697.3 L319.0 697.9 L319.3 698.5 L319.5 699.2 L319.8 699.8 L320.0 700.4 L320.3 701.1 L320.5 701.7 L320.8 702.4 L321.0 703.0" fill="none" stroke="#7f7aa6" stroke-width="2.8" stroke-linecap="round" opacity="0.85"/>
<path d="M311.0 664.0 L311.1 664.7 L311.2 665.4 L311.3 666.0 L311.4 666.7 L311.5 667.4 L311.5 668.1 L311.6 668.8 L311.7 669.4 L311.8 670.1 L311.9 670.8 L311.9 671.5 L312.0 672.2 L312.1 672.9 L312.2 673.5 L312.3 674.2 L312.4 674.9 L312.4 675.6 L312.5 676.3 L312.6 676.9 L312.7 677.6 L312.8 678.3 L313.0 679.0 L313.1 679.6 L313.2 680.3 L313.3 681.0 L313.5 681.7 L313.6 682.3 L313.8 683.0 L313.9 683.7 L314.1 684.3 L314.3 685.0 L314.5 685.7 L314.7 686.3 L314.9 687.0 L315.1 687.6 L315.3 688.3 L315.5 688.9 L315.7 689.6 L316.0 690.2 L316.2 690.9 L316.5 691.5 L316.7 692.2 L316.9 692.8 L317.2 693.4 L317.5 694.1 L317.7 694.7 L318.0 695.3 L318.2 696.0 L318.5 696.6 L318.7 697.3 L319.0 697.9 L319.3 698.5 L319.5 699.2 L319.8 699.8 L320.0 700.4 L320.3 701.1 L320.5 701.7 L320.8 702.4 L321.0 703.0" fill="none" stroke="#bcb8da" stroke-width="1.8" stroke-linecap="round"/>
<path d="M420.0 658.0 L420.5 657.7 L421.0 657.5 L421.4 657.2 L421.9 657.0 L422.4 656.7 L422.9 656.5 L423.4 656.3 L423.9 656.0 L424.3 655.8 L424.8 655.5 L425.3 655.3 L425.8 655.0 L426.3 654.8 L426.8 654.5 L427.2 654.3 L427.7 654.0 L428.2 653.8 L428.7 653.5 L429.2 653.3 L429.7 653.0 L430.1 652.8 L430.6 652.5 L431.1 652.3 L431.6 652.0 L432.0 651.7 L432.5 651.5 L433.0 651.2 L433.4 650.9 L433.9 650.7 L434.4 650.4 L434.8 650.1 L435.3 649.8 L435.8 649.5 L436.2 649.2 L436.7 648.9 L437.1 648.6 L437.6 648.3 L438.0 648.0 L438.4 647.7 L438.9 647.3 L439.3 647.0 L439.7 646.7 L440.2 646.4 L440.6 646.0 L441.0 645.7 L441.5 645.4 L441.9 645.0 L442.3 644.7 L442.7 644.3 L443.2 644.0 L443.6 643.7 L444.0 643.3 L444.4 643.0 L444.9 642.7 L445.3 642.3 L445.7 642.0 L446.1 641.7 L446.6 641.3 L447.0 641.0" fill="none" stroke="#7f7aa6" stroke-width="2.8" stroke-linecap="round" opacity="0.85"/>
<path d="M420.0 658.0 L420.5 657.7 L421.0 657.5 L421.4 657.2 L421.9 657.0 L422.4 656.7 L422.9 656.5 L423.4 656.3 L423.9 656.0 L424.3 655.8 L424.8 655.5 L425.3 655.3 L425.8 655.0 L426.3 654.8 L426.8 654.5 L427.2 654.3 L427.7 654.0 L428.2 653.8 L428.7 653.5 L429.2 653.3 L429.7 653.0 L430.1 652.8 L430.6 652.5 L431.1 652.3 L431.6 652.0 L432.0 651.7 L432.5 651.5 L433.0 651.2 L433.4 650.9 L433.9 650.7 L434.4 650.4 L434.8 650.1 L435.3 649.8 L435.8 649.5 L436.2 649.2 L436.7 648.9 L437.1 648.6 L437.6 648.3 L438.0 648.0 L438.4 647.7 L438.9 647.3 L439.3 647.0 L439.7 646.7 L440.2 646.4 L440.6 646.0 L441.0 645.7 L441.5 645.4 L441.9 645.0 L442.3 644.7 L442.7 644.3 L443.2 644.0 L443.6 643.7 L444.0 643.3 L444.4 643.0 L444.9 642.7 L445.3 642.3 L445.7 642.0 L446.1 641.7 L446.6 641.3 L447.0 641.0" fill="none" stroke="#bcb8da" stroke-width="1.8" stroke-linecap="round"/>
<path d="M347.0 676.0 L346.4 676.2 L345.7 676.4 L345.1 676.6 L344.4 676.7 L343.7 676.9 L343.1 677.1 L342.4 677.2 L341.8 677.4 L341.1 677.5 L340.5 677.7 L339.8 677.9 L339.2 678.1 L338.5 678.3 L337.9 678.6 L337.3 678.8 L336.6 679.1 L336.0 679.4 L335.5 679.7 L334.9 680.1 L334.3 680.5 L333.8 680.9 L333.3 681.3 L332.7 681.7 L332.2 682.2 L331.7 682.6 L331.3 683.1 L330.8 683.6 L330.3 684.1 L329.9 684.6 L329.4 685.1 L329.0 685.6 L328.6 686.2 L328.2 686.7 L327.8 687.2 L327.4 687.8 L327.0 688.4 L326.6 688.9 L326.3 689.5 L325.9 690.1 L325.6 690.7 L325.3 691.3 L325.1 691.9 L324.8 692.6 L324.6 693.2 L324.4 693.8 L324.2 694.5 L324.0 695.1 L323.8 695.8 L323.7 696.4 L323.5 697.1 L323.3 697.8 L323.2 698.4 L323.0 699.1 L322.9 699.7 L322.7 700.4 L322.5 701.0 L322.4 701.7 L322.2 702.3 L322.0 703.0" fill="none" stroke="#7f7aa6" stroke-width="2.6" stroke-linecap="round" opacity="0.85"/>
<path d="M347.0 676.0 L346.4 676.2 L345.7 676.4 L345.1 676.6 L344.4 676.7 L343.7 676.9 L343.1 677.1 L342.4 677.2 L341.8 677.4 L341.1 677.5 L340.5 677.7 L339.8 677.9 L339.2 678.1 L338.5 678.3 L337.9 678.6 L337.3 678.8 L336.6 679.1 L336.0 679.4 L335.5 679.7 L334.9 680.1 L334.3 680.5 L333.8 680.9 L333.3 681.3 L332.7 681.7 L332.2 682.2 L331.7 682.6 L331.3 683.1 L330.8 683.6 L330.3 684.1 L329.9 684.6 L329.4 685.1 L329.0 685.6 L328.6 686.2 L328.2 686.7 L327.8 687.2 L327.4 687.8 L327.0 688.4 L326.6 688.9 L326.3 689.5 L325.9 690.1 L325.6 690.7 L325.3 691.3 L325.1 691.9 L324.8 692.6 L324.6 693.2 L324.4 693.8 L324.2 694.5 L324.0 695.1 L323.8 695.8 L323.7 696.4 L323.5 697.1 L323.3 697.8 L323.2 698.4 L323.0 699.1 L322.9 699.7 L322.7 700.4 L322.5 701.0 L322.4 701.7 L322.2 702.3 L322.0 703.0" fill="none" stroke="#bcb8da" stroke-width="1.6" stroke-linecap="round"/>
<g><path d="M509.0 390.0 L506.1 390.7 L503.8 391.6 L501.7 392.5 L499.7 393.5 L497.7 394.7 L495.7 396.3 L493.7 398.1 L491.9 400.4 L490.3 403.1 L489.1 406.3 L488.4 409.8 L488.2 413.0 L488.2 415.9 L488.6 418.6 L489.1 421.3 L489.7 423.6 L490.4 425.8 L491.3 428.0 L492.2 430.0 L493.3 432.0 L494.3 433.9 L495.5 435.7 L496.7 437.4 L497.9 439.1 L499.1 440.7 L500.5 442.3 L501.9 444.0 L503.4 445.7 L505.0 447.3 L506.6 448.9 L508.2 450.4 L509.9 451.8 L511.6 453.2 L513.4 454.5 L515.1 455.8 L516.8 457.1 L518.6 458.3 L520.4 459.5 L522.1 460.8 L524.0 462.0 L524.0 462.0 L523.8 459.8 L523.5 457.6 L523.2 455.4 L522.8 453.3 L522.4 451.2 L522.1 449.1 L521.7 447.0 L521.3 445.0 L520.9 442.9 L520.6 441.0 L520.3 439.0 L520.0 437.2 L519.7 435.3 L519.4 433.4 L519.0 431.4 L518.6 429.4 L518.1 427.4 L517.6 425.5 L517.1 423.7 L516.6 421.9 L516.0 420.2 L515.4 418.5 L514.9 416.9 L514.3 415.4 L513.7 413.9 L513.2 412.7 L512.6 411.5 L512.1 410.4 L511.6 409.7 L511.2 409.2 L510.7 408.5 L510.4 407.4 L510.1 406.0 L510.1 404.3 L510.1 402.4 L510.2 400.3 L510.4 398.0 L510.4 395.5 L510.1 392.9 L509.0 390.0Z" fill="#f6ecea" stroke="#e0b4ac" stroke-width="0.8"/><path d="M503.2 393.4 L501.4 394.6 L499.7 396.0 L498.1 397.6 L496.5 399.4 L495.0 401.6 L493.7 404.0 L492.8 406.8 L492.3 409.8 L492.2 412.6 L492.3 415.2 L492.7 417.7 L493.2 420.0 L493.8 422.2 L494.5 424.4 L495.3 426.4 L496.2 428.4 L497.1 430.3 L498.1 432.2 L499.2 434.0 L500.2 435.7 L501.3 437.4 L502.5 439.1 L503.6 440.8 L504.9 442.6 L506.2 444.3 L507.5 446.0 L508.9 447.6 L510.4 449.1 L511.8 450.7 L513.3 452.1 L514.8 453.6 L516.3 455.0 L517.8 456.4 L519.4 457.8" fill="none" stroke="#d9c0c0" stroke-width="0.7" opacity="0.8"/><path d="M504.6 394.3 L503.2 395.8 L501.8 397.3 L500.5 398.9 L499.2 400.7 L498.1 402.7 L497.1 404.9 L496.4 407.3 L496.1 409.8 L496.2 412.2 L496.4 414.4 L496.8 416.7 L497.3 418.8 L497.9 420.9 L498.6 422.9 L499.4 424.8 L500.2 426.7 L501.0 428.6 L501.9 430.5 L502.9 432.3 L503.8 434.1 L504.8 435.8 L505.8 437.6 L506.8 439.3 L507.8 441.1 L508.9 442.8 L510.1 444.6 L511.3 446.3 L512.5 447.9 L513.7 449.5 L515.0 451.1 L516.3 452.7 L517.5 454.3 L518.8 455.8 L520.1 457.3" fill="none" stroke="#d9c0c0" stroke-width="0.7" opacity="0.8"/><path d="M506.0 395.2 L505.0 396.9 L503.9 398.6 L502.9 400.3 L501.9 402.1 L501.1 403.9 L500.5 405.8 L500.1 407.8 L500.0 409.7 L500.1 411.7 L500.4 413.7 L500.9 415.7 L501.4 417.6 L502.0 419.5 L502.7 421.4 L503.4 423.3 L504.1 425.1 L504.9 426.9 L505.7 428.8 L506.5 430.6 L507.4 432.4 L508.2 434.2 L509.1 436.0 L509.9 437.8 L510.8 439.6 L511.7 441.4 L512.6 443.2 L513.6 444.9 L514.6 446.7 L515.6 448.4 L516.7 450.1 L517.7 451.8 L518.8 453.5 L519.8 455.2 L520.9 456.9" fill="none" stroke="#d9c0c0" stroke-width="0.7" opacity="0.8"/><path d="M507.5 396.1 L506.7 398.0 L506.0 399.9 L505.3 401.6 L504.7 403.4 L504.2 405.1 L503.9 406.7 L503.8 408.2 L503.9 409.7 L504.1 411.3 L504.5 413.0 L505.0 414.7 L505.5 416.4 L506.1 418.1 L506.7 419.9 L507.4 421.7 L508.1 423.5 L508.8 425.3 L509.5 427.1 L510.2 428.9 L511.0 430.7 L511.7 432.6 L512.4 434.5 L513.1 436.3 L513.8 438.2 L514.5 440.0 L515.2 441.8 L515.9 443.6 L516.7 445.4 L517.5 447.2 L518.3 449.1 L519.2 450.9 L520.0 452.7 L520.8 454.6 L521.7 456.4" fill="none" stroke="#d9c0c0" stroke-width="0.7" opacity="0.8"/><path d="M508.9 397.0 L508.5 399.1 L508.0 401.1 L507.7 403.0 L507.4 404.7 L507.3 406.2 L507.3 407.6 L507.5 408.7 L507.8 409.7 L508.1 410.9 L508.6 412.2 L509.1 413.7 L509.6 415.2 L510.2 416.7 L510.8 418.4 L511.4 420.1 L512.0 421.8 L512.7 423.6 L513.3 425.4 L513.9 427.2 L514.5 429.1 L515.1 431.0 L515.7 432.9 L516.2 434.8 L516.7 436.7 L517.2 438.6 L517.7 440.4 L518.3 442.3 L518.8 444.2 L519.4 446.1 L520.0 448.0 L520.6 450.0 L521.2 451.9 L521.8 453.9 L522.4 455.9" fill="none" stroke="#d9c0c0" stroke-width="0.7" opacity="0.8"/></g>
<g><path d="M516.0 388.0 L515.3 388.4 L514.7 388.9 L514.2 389.4 L513.7 389.9 L513.2 390.4 L512.8 390.9 L512.3 391.4 L511.9 392.0 L511.5 392.5 L511.1 393.0 L510.8 393.6 L510.4 394.1 L510.1 394.7 L509.7 395.2 L509.4 395.8 L509.2 396.4 L508.9 397.0 L508.6 397.5 L508.4 398.1 L508.2 398.7 L508.0 399.3 L507.8 399.9 L507.7 400.6 L507.6 401.2 L507.4 401.8 L507.3 402.4 L507.3 403.1 L507.2 403.7 L507.2 404.4 L507.1 405.0 L507.1 405.7 L507.1 406.4 L507.1 407.0 L507.2 407.7 L507.2 408.4 L507.3 409.1 L507.4 409.8 L507.5 410.5 L507.7 411.2 L508.0 412.0 L508.0 412.0 L508.7 411.6 L509.3 411.1 L509.8 410.6 L510.3 410.1 L510.8 409.6 L511.2 409.1 L511.7 408.6 L512.1 408.0 L512.5 407.5 L512.9 407.0 L513.2 406.4 L513.6 405.9 L513.9 405.3 L514.3 404.8 L514.6 404.2 L514.8 403.6 L515.1 403.0 L515.4 402.5 L515.6 401.9 L515.8 401.3 L516.0 400.7 L516.2 400.1 L516.3 399.4 L516.4 398.8 L516.6 398.2 L516.7 397.6 L516.7 396.9 L516.8 396.3 L516.8 395.6 L516.9 395.0 L516.9 394.3 L516.9 393.6 L516.9 393.0 L516.8 392.3 L516.8 391.6 L516.7 390.9 L516.6 390.2 L516.5 389.5 L516.3 388.8 L516.0 388.0Z" fill="#f6ecea" stroke="#e0b4ac" stroke-width="0.8"/><path d="M515.4 389.8 L515.2 390.4 L515.0 391.0 L514.8 391.6 L514.6 392.2 L514.4 392.8 L514.2 393.4 L514.0 394.0 L513.8 394.6 L513.6 395.2 L513.4 395.8 L513.2 396.4 L513.0 397.0 L512.8 397.6 L512.6 398.2 L512.4 398.8 L512.2 399.4 L512.0 400.0 L511.8 400.6 L511.6 401.2 L511.4 401.8 L511.2 402.4 L511.0 403.0 L510.8 403.6 L510.6 404.2 L510.4 404.8 L510.2 405.4 L510.0 406.0 L509.8 406.6 L509.6 407.2 L509.4 407.8 L509.2 408.4 L509.0 409.0 L508.8 409.6 L508.6 410.2" fill="none" stroke="#d9c0c0" stroke-width="0.7" opacity="0.8"/></g>
<g><path d="M548.0 432.0 L546.7 433.6 L545.7 435.3 L544.8 436.9 L544.0 438.6 L543.2 440.2 L542.5 441.9 L541.8 443.5 L541.2 445.1 L540.5 446.7 L539.9 448.3 L539.4 449.9 L538.8 451.4 L538.3 453.0 L537.8 454.5 L537.3 456.0 L536.8 457.5 L536.3 459.1 L535.9 460.6 L535.5 462.2 L535.1 463.8 L534.7 465.4 L534.4 467.1 L534.1 468.7 L533.9 470.4 L533.7 472.2 L533.5 473.9 L533.4 475.6 L533.3 477.4 L533.3 479.1 L533.3 480.9 L533.4 482.6 L533.5 484.4 L533.6 486.1 L533.7 487.9 L533.9 489.7 L534.2 491.5 L534.5 493.4 L534.8 495.2 L535.3 497.1 L536.0 499.0 L536.0 499.0 L537.5 497.6 L538.8 496.2 L539.9 494.7 L541.0 493.2 L542.1 491.7 L543.0 490.2 L544.0 488.6 L544.9 487.1 L545.8 485.5 L546.6 484.0 L547.4 482.4 L548.2 480.8 L548.9 479.2 L549.5 477.6 L550.1 476.1 L550.7 474.5 L551.3 472.8 L551.8 471.2 L552.2 469.5 L552.6 467.8 L553.0 466.1 L553.3 464.3 L553.6 462.5 L553.8 460.8 L553.9 458.9 L554.0 457.1 L554.0 455.2 L553.9 453.4 L553.7 451.5 L553.5 449.7 L553.2 447.9 L552.9 446.1 L552.5 444.3 L552.0 442.5 L551.6 440.8 L551.0 439.0 L550.4 437.3 L549.8 435.5 L549.0 433.8 L548.0 432.0Z" fill="#f6ecea" stroke="#e0b4ac" stroke-width="0.8"/><path d="M545.9 437.0 L545.4 438.7 L544.9 440.3 L544.4 442.0 L544.0 443.7 L543.5 445.3 L543.1 447.0 L542.7 448.6 L542.2 450.2 L541.8 451.8 L541.4 453.4 L541.0 455.0 L540.6 456.6 L540.2 458.2 L539.8 459.8 L539.4 461.4 L539.0 463.0 L538.6 464.6 L538.2 466.2 L537.9 467.9 L537.6 469.6 L537.3 471.2 L537.0 472.9 L536.7 474.6 L536.5 476.4 L536.3 478.1 L536.1 479.8 L536.0 481.5 L535.9 483.2 L535.8 484.9 L535.7 486.6 L535.6 488.4 L535.6 490.1 L535.5 491.9 L535.6 493.6" fill="none" stroke="#d9c0c0" stroke-width="0.7" opacity="0.8"/><path d="M547.1 437.1 L546.8 438.8 L546.6 440.5 L546.3 442.1 L546.1 443.8 L545.9 445.5 L545.6 447.2 L545.4 448.9 L545.1 450.5 L544.8 452.2 L544.6 453.9 L544.3 455.5 L543.9 457.2 L543.6 458.8 L543.2 460.5 L542.9 462.1 L542.5 463.8 L542.1 465.4 L541.7 467.1 L541.4 468.7 L541.0 470.4 L540.6 472.0 L540.3 473.7 L539.9 475.4 L539.6 477.1 L539.3 478.8 L539.0 480.4 L538.7 482.1 L538.3 483.8 L538.0 485.5 L537.8 487.1 L537.5 488.8 L537.2 490.5 L536.9 492.2 L536.6 493.9" fill="none" stroke="#d9c0c0" stroke-width="0.7" opacity="0.8"/><path d="M548.2 437.1 L548.2 438.9 L548.2 440.6 L548.2 442.3 L548.2 444.0 L548.2 445.7 L548.2 447.4 L548.1 449.1 L548.0 450.9 L547.9 452.6 L547.7 454.3 L547.5 456.0 L547.3 457.7 L547.0 459.5 L546.7 461.2 L546.4 462.8 L546.0 464.5 L545.6 466.2 L545.2 467.9 L544.8 469.5 L544.4 471.2 L544.0 472.9 L543.6 474.5 L543.1 476.1 L542.7 477.8 L542.2 479.4 L541.8 481.1 L541.3 482.7 L540.8 484.4 L540.3 486.0 L539.8 487.6 L539.3 489.3 L538.8 490.9 L538.3 492.5 L537.7 494.2" fill="none" stroke="#d9c0c0" stroke-width="0.7" opacity="0.8"/><path d="M549.3 437.2 L549.6 438.9 L549.9 440.7 L550.1 442.4 L550.4 444.1 L550.5 445.9 L550.7 447.6 L550.8 449.4 L550.9 451.2 L550.9 453.0 L550.8 454.8 L550.7 456.5 L550.6 458.3 L550.4 460.1 L550.1 461.9 L549.8 463.6 L549.5 465.3 L549.1 467.0 L548.7 468.7 L548.3 470.4 L547.8 472.0 L547.4 473.7 L546.8 475.3 L546.3 476.9 L545.8 478.5 L545.2 480.1 L544.6 481.7 L544.0 483.3 L543.3 485.0 L542.6 486.6 L541.9 488.1 L541.2 489.7 L540.4 491.3 L539.6 492.9 L538.8 494.4" fill="none" stroke="#d9c0c0" stroke-width="0.7" opacity="0.8"/></g>
<g><path d="M552.0 577.0 L550.6 577.9 L549.3 579.0 L548.1 580.1 L546.9 581.2 L545.8 582.4 L544.7 583.5 L543.6 584.7 L542.5 585.8 L541.4 587.0 L540.4 588.1 L539.4 589.2 L538.4 590.3 L537.4 591.4 L536.3 592.5 L535.3 593.6 L534.3 594.7 L533.3 595.8 L532.3 597.0 L531.3 598.1 L530.3 599.2 L529.4 600.4 L528.4 601.6 L527.4 602.7 L526.5 603.9 L525.6 605.1 L524.6 606.3 L523.7 607.5 L522.8 608.7 L521.9 609.9 L521.0 611.1 L520.1 612.2 L519.2 613.4 L518.3 614.5 L517.3 615.6 L516.3 616.7 L515.2 617.9 L514.1 619.0 L513.0 620.2 L511.9 621.5 L511.0 623.0 L511.0 623.0 L512.7 622.7 L514.3 622.4 L515.8 622.0 L517.4 621.5 L519.0 621.0 L520.6 620.4 L522.1 619.8 L523.7 619.0 L525.2 618.2 L526.6 617.2 L528.0 616.3 L529.3 615.3 L530.6 614.3 L531.9 613.2 L533.1 612.2 L534.3 611.0 L535.4 609.9 L536.6 608.8 L537.6 607.6 L538.7 606.4 L539.7 605.1 L540.7 603.9 L541.7 602.6 L542.6 601.2 L543.5 599.9 L544.4 598.5 L545.2 597.0 L546.0 595.6 L546.7 594.1 L547.4 592.6 L548.0 591.1 L548.6 589.6 L549.2 588.0 L549.7 586.5 L550.2 585.0 L550.6 583.4 L551.0 581.9 L551.4 580.3 L551.8 578.7 L552.0 577.0Z" fill="#f6ecea" stroke="#e0b4ac" stroke-width="0.8"/><path d="M548.8 580.6 L547.8 581.8 L546.9 583.0 L545.9 584.3 L545.0 585.5 L544.0 586.8 L543.1 588.0 L542.2 589.2 L541.2 590.4 L540.3 591.6 L539.3 592.8 L538.4 594.0 L537.4 595.2 L536.4 596.3 L535.4 597.5 L534.4 598.7 L533.4 599.8 L532.4 601.0 L531.4 602.2 L530.4 603.4 L529.4 604.5 L528.4 605.7 L527.4 606.9 L526.4 608.0 L525.4 609.2 L524.4 610.3 L523.4 611.5 L522.4 612.6 L521.4 613.7 L520.3 614.8 L519.2 615.8 L518.1 616.8 L516.9 617.8 L515.7 618.8 L514.5 619.8" fill="none" stroke="#d9c0c0" stroke-width="0.7" opacity="0.8"/><path d="M549.6 581.0 L548.8 582.3 L548.0 583.7 L547.2 585.0 L546.4 586.4 L545.6 587.7 L544.7 589.0 L543.9 590.3 L543.1 591.7 L542.2 592.9 L541.3 594.2 L540.4 595.5 L539.4 596.7 L538.5 598.0 L537.5 599.2 L536.5 600.4 L535.5 601.6 L534.5 602.8 L533.5 604.0 L532.5 605.2 L531.4 606.3 L530.4 607.5 L529.3 608.6 L528.3 609.8 L527.2 610.9 L526.1 612.0 L525.0 613.1 L523.8 614.2 L522.7 615.2 L521.5 616.2 L520.2 617.1 L518.9 618.0 L517.6 618.9 L516.3 619.7 L515.0 620.5" fill="none" stroke="#d9c0c0" stroke-width="0.7" opacity="0.8"/><path d="M550.3 581.4 L549.7 582.9 L549.1 584.3 L548.4 585.8 L547.8 587.2 L547.1 588.6 L546.4 590.1 L545.7 591.5 L544.9 592.9 L544.1 594.3 L543.3 595.6 L542.4 597.0 L541.5 598.3 L540.6 599.6 L539.6 600.9 L538.6 602.1 L537.6 603.4 L536.6 604.6 L535.6 605.8 L534.5 607.0 L533.4 608.1 L532.3 609.3 L531.2 610.4 L530.1 611.5 L528.9 612.6 L527.7 613.6 L526.5 614.7 L525.2 615.7 L523.9 616.7 L522.6 617.6 L521.2 618.4 L519.7 619.2 L518.3 619.9 L516.9 620.6 L515.4 621.2" fill="none" stroke="#d9c0c0" stroke-width="0.7" opacity="0.8"/></g>
<g><path d="M506.0 588.0 L504.7 589.6 L503.7 591.3 L502.8 593.0 L501.9 594.7 L501.0 596.5 L500.2 598.2 L499.3 599.9 L498.5 601.7 L497.7 603.4 L496.9 605.1 L496.1 606.8 L495.3 608.5 L494.5 610.2 L493.6 611.8 L492.8 613.5 L491.9 615.1 L490.9 616.7 L490.0 618.3 L489.1 619.9 L488.1 621.5 L487.2 623.1 L486.2 624.7 L485.2 626.3 L484.2 627.9 L483.2 629.4 L482.2 631.0 L481.2 632.5 L480.1 634.1 L479.1 635.6 L478.0 637.1 L476.9 638.5 L475.7 639.9 L474.5 641.4 L473.3 642.8 L472.0 644.2 L470.7 645.7 L469.4 647.1 L468.2 648.7 L467.0 650.2 L466.0 652.0 L466.0 652.0 L467.8 651.2 L469.5 650.2 L471.2 649.2 L472.9 648.2 L474.5 647.2 L476.1 646.1 L477.8 644.9 L479.4 643.7 L480.9 642.4 L482.4 641.1 L483.9 639.6 L485.2 638.2 L486.6 636.7 L487.8 635.2 L489.1 633.6 L490.3 632.0 L491.4 630.4 L492.6 628.8 L493.6 627.1 L494.7 625.4 L495.7 623.7 L496.6 622.0 L497.5 620.2 L498.4 618.4 L499.2 616.6 L500.0 614.7 L500.7 612.9 L501.4 611.0 L502.0 609.1 L502.5 607.2 L503.0 605.3 L503.5 603.4 L503.9 601.5 L504.3 599.6 L504.7 597.7 L505.0 595.8 L505.4 593.9 L505.7 592.0 L506.0 590.0 L506.0 588.0Z" fill="#f6ecea" stroke="#e0b4ac" stroke-width="0.8"/><path d="M503.6 593.3 L502.9 595.1 L502.2 596.9 L501.5 598.7 L500.9 600.5 L500.2 602.3 L499.5 604.0 L498.8 605.8 L498.0 607.6 L497.3 609.3 L496.5 611.1 L495.7 612.8 L494.9 614.5 L494.0 616.2 L493.1 617.9 L492.2 619.5 L491.3 621.2 L490.3 622.8 L489.3 624.4 L488.3 626.1 L487.3 627.7 L486.2 629.3 L485.2 630.8 L484.1 632.4 L483.0 633.9 L481.8 635.4 L480.7 636.9 L479.5 638.4 L478.2 639.8 L476.9 641.2 L475.6 642.6 L474.2 643.9 L472.8 645.2 L471.4 646.5 L470.0 647.8" fill="none" stroke="#d9c0c0" stroke-width="0.7" opacity="0.8"/><path d="M504.5 593.6 L504.0 595.4 L503.5 597.3 L502.9 599.1 L502.4 601.0 L501.8 602.8 L501.2 604.7 L500.6 606.5 L500.0 608.3 L499.3 610.2 L498.6 612.0 L497.9 613.8 L497.1 615.5 L496.2 617.3 L495.3 619.0 L494.4 620.7 L493.5 622.4 L492.5 624.1 L491.5 625.8 L490.4 627.4 L489.4 629.0 L488.3 630.6 L487.1 632.2 L486.0 633.8 L484.8 635.3 L483.5 636.8 L482.3 638.3 L481.0 639.7 L479.6 641.1 L478.1 642.5 L476.7 643.7 L475.2 645.0 L473.7 646.2 L472.1 647.4 L470.6 648.5" fill="none" stroke="#d9c0c0" stroke-width="0.7" opacity="0.8"/></g>
<g><path d="M346.0 663.0 L347.9 662.6 L349.6 662.0 L351.3 661.3 L352.9 660.5 L354.4 659.8 L355.9 659.0 L357.4 658.2 L358.9 657.4 L360.3 656.6 L361.8 655.8 L363.1 655.1 L364.5 654.4 L365.9 653.7 L367.2 653.0 L368.6 652.4 L370.0 651.7 L371.4 651.1 L372.8 650.5 L374.3 649.8 L375.7 649.1 L377.1 648.5 L378.6 647.8 L380.0 647.1 L381.5 646.4 L382.9 645.7 L384.4 644.9 L385.8 644.2 L387.3 643.4 L388.7 642.7 L390.1 642.0 L391.5 641.2 L392.9 640.5 L394.4 639.8 L395.9 639.0 L397.4 638.3 L398.9 637.5 L400.5 636.7 L402.0 635.8 L403.6 634.8 L405.0 633.5 L405.0 633.5 L403.2 632.9 L401.4 632.6 L399.6 632.4 L397.9 632.2 L396.1 632.1 L394.4 632.0 L392.6 632.0 L390.8 632.0 L389.0 632.2 L387.1 632.4 L385.3 632.6 L383.6 633.0 L381.8 633.4 L380.1 633.8 L378.5 634.3 L376.8 634.8 L375.1 635.3 L373.5 636.0 L371.9 636.6 L370.2 637.3 L368.6 638.1 L367.0 638.9 L365.5 639.8 L363.9 640.8 L362.4 641.8 L360.9 642.9 L359.4 644.1 L358.0 645.4 L356.7 646.6 L355.5 648.0 L354.3 649.4 L353.2 650.8 L352.1 652.2 L351.1 653.6 L350.2 655.1 L349.2 656.6 L348.3 658.1 L347.5 659.6 L346.6 661.2 L346.0 663.0Z" fill="#f6ecea" stroke="#e0b4ac" stroke-width="0.8"/><path d="M350.7 660.7 L352.1 659.8 L353.6 658.8 L355.0 657.9 L356.4 657.0 L357.8 656.0 L359.1 655.1 L360.5 654.2 L361.9 653.4 L363.2 652.6 L364.6 651.8 L366.0 651.0 L367.4 650.3 L368.8 649.6 L370.2 648.8 L371.7 648.2 L373.1 647.5 L374.6 646.8 L376.1 646.1 L377.6 645.4 L379.0 644.7 L380.5 644.1 L382.0 643.4 L383.5 642.7 L385.0 642.0 L386.5 641.3 L388.0 640.7 L389.5 640.0 L391.0 639.4 L392.5 638.8 L394.0 638.2 L395.6 637.6 L397.1 637.1 L398.7 636.5 L400.3 635.8" fill="none" stroke="#d9c0c0" stroke-width="0.7" opacity="0.8"/><path d="M350.1 660.0 L351.4 659.0 L352.7 657.9 L354.0 656.8 L355.3 655.8 L356.6 654.7 L357.9 653.7 L359.2 652.7 L360.6 651.7 L361.9 650.8 L363.3 649.8 L364.7 649.0 L366.1 648.2 L367.6 647.4 L369.0 646.6 L370.5 645.9 L372.0 645.1 L373.5 644.4 L375.0 643.7 L376.5 643.1 L378.1 642.4 L379.6 641.7 L381.1 641.1 L382.7 640.5 L384.2 639.9 L385.8 639.3 L387.3 638.7 L388.9 638.1 L390.5 637.6 L392.1 637.1 L393.7 636.7 L395.3 636.2 L396.9 635.8 L398.5 635.4 L400.2 635.0" fill="none" stroke="#d9c0c0" stroke-width="0.7" opacity="0.8"/><path d="M349.5 659.4 L350.7 658.2 L351.9 657.0 L353.0 655.8 L354.2 654.6 L355.5 653.4 L356.7 652.2 L358.0 651.1 L359.3 650.0 L360.6 649.0 L362.0 647.9 L363.4 647.0 L364.9 646.0 L366.3 645.2 L367.8 644.3 L369.4 643.6 L370.9 642.8 L372.4 642.1 L374.0 641.4 L375.5 640.7 L377.1 640.0 L378.7 639.4 L380.2 638.8 L381.8 638.3 L383.4 637.7 L385.0 637.2 L386.7 636.7 L388.3 636.2 L390.0 635.8 L391.6 635.4 L393.3 635.1 L395.0 634.8 L396.6 634.6 L398.3 634.3 L400.0 634.1" fill="none" stroke="#d9c0c0" stroke-width="0.7" opacity="0.8"/><path d="M348.9 658.7 L350.0 657.4 L351.0 656.0 L352.1 654.7 L353.2 653.4 L354.3 652.1 L355.5 650.8 L356.7 649.6 L358.0 648.3 L359.3 647.2 L360.7 646.0 L362.2 644.9 L363.6 643.9 L365.1 643.0 L366.6 642.1 L368.2 641.2 L369.7 640.5 L371.3 639.7 L372.9 639.0 L374.5 638.3 L376.1 637.7 L377.7 637.1 L379.4 636.5 L381.0 636.0 L382.6 635.5 L384.3 635.1 L386.0 634.7 L387.7 634.3 L389.5 634.0 L391.2 633.7 L393.0 633.5 L394.7 633.4 L396.4 633.3 L398.1 633.3 L399.8 633.3" fill="none" stroke="#d9c0c0" stroke-width="0.7" opacity="0.8"/></g>
<g><path d="M422.0 659.0 L423.7 659.6 L425.4 660.3 L427.1 660.9 L428.9 661.4 L430.6 662.0 L432.3 662.6 L434.0 663.2 L435.7 663.8 L437.3 664.3 L439.0 664.9 L440.6 665.5 L442.2 666.2 L443.8 666.8 L445.4 667.4 L447.0 668.1 L448.7 668.7 L450.3 669.3 L452.0 670.0 L453.7 670.5 L455.4 671.1 L457.2 671.6 L459.0 672.1 L460.8 672.5 L462.6 672.9 L464.5 673.2 L466.4 673.4 L468.2 673.6 L470.1 673.7 L471.9 673.7 L473.8 673.7 L475.6 673.7 L477.4 673.6 L479.2 673.4 L481.1 673.2 L482.9 673.0 L484.7 672.7 L486.5 672.4 L488.3 672.0 L490.1 671.6 L492.0 671.0 L492.0 671.0 L490.3 670.0 L488.6 669.2 L486.9 668.5 L485.2 667.8 L483.4 667.2 L481.7 666.6 L480.0 666.1 L478.3 665.6 L476.5 665.1 L474.8 664.7 L473.1 664.2 L471.5 663.8 L469.8 663.4 L468.1 663.0 L466.5 662.6 L464.9 662.2 L463.2 661.8 L461.6 661.4 L459.9 661.0 L458.2 660.7 L456.5 660.3 L454.8 659.9 L453.1 659.6 L451.3 659.3 L449.5 659.0 L447.7 658.7 L445.8 658.5 L444.0 658.3 L442.1 658.2 L440.2 658.1 L438.4 658.1 L436.5 658.1 L434.7 658.2 L432.9 658.3 L431.1 658.4 L429.2 658.5 L427.4 658.6 L425.6 658.7 L423.8 658.9 L422.0 659.0Z" fill="#f6ecea" stroke="#e0b4ac" stroke-width="0.8"/><path d="M427.2 660.3 L429.0 660.7 L430.7 661.1 L432.4 661.5 L434.2 661.9 L435.9 662.4 L437.6 662.8 L439.3 663.2 L441.0 663.7 L442.7 664.2 L444.3 664.7 L446.0 665.2 L447.7 665.8 L449.3 666.4 L451.0 666.9 L452.7 667.5 L454.4 668.0 L456.1 668.5 L457.9 669.0 L459.6 669.4 L461.4 669.9 L463.2 670.2 L465.0 670.6 L466.8 670.8 L468.6 671.0 L470.4 671.2 L472.2 671.4 L474.0 671.5 L475.8 671.5 L477.6 671.6 L479.4 671.6 L481.2 671.6 L483.0 671.5 L484.8 671.5 L486.6 671.4" fill="none" stroke="#d9c0c0" stroke-width="0.7" opacity="0.8"/><path d="M427.3 659.7 L429.1 660.0 L430.8 660.2 L432.6 660.4 L434.3 660.7 L436.1 660.9 L437.9 661.2 L439.6 661.5 L441.4 661.9 L443.1 662.2 L444.8 662.6 L446.6 663.1 L448.3 663.5 L450.0 664.0 L451.7 664.5 L453.4 664.9 L455.1 665.4 L456.8 665.9 L458.6 666.3 L460.3 666.8 L462.0 667.2 L463.8 667.6 L465.5 667.9 L467.3 668.2 L469.0 668.5 L470.8 668.7 L472.5 669.0 L474.3 669.2 L476.1 669.4 L477.8 669.6 L479.6 669.8 L481.4 669.9 L483.2 670.1 L484.9 670.3 L486.7 670.4" fill="none" stroke="#d9c0c0" stroke-width="0.7" opacity="0.8"/><path d="M427.4 659.2 L429.1 659.2 L430.9 659.3 L432.7 659.3 L434.5 659.4 L436.3 659.5 L438.1 659.7 L439.9 659.8 L441.7 660.0 L443.5 660.3 L445.3 660.6 L447.1 660.9 L448.9 661.2 L450.6 661.6 L452.4 662.0 L454.1 662.4 L455.8 662.8 L457.5 663.3 L459.2 663.7 L460.9 664.1 L462.6 664.5 L464.3 664.9 L466.0 665.2 L467.7 665.6 L469.4 665.9 L471.1 666.3 L472.8 666.6 L474.6 666.9 L476.3 667.3 L478.0 667.6 L479.8 667.9 L481.5 668.3 L483.3 668.7 L485.0 669.0 L486.8 669.5" fill="none" stroke="#d9c0c0" stroke-width="0.7" opacity="0.8"/></g>
<g><path d="M452.0 640.0 L452.7 640.0 L453.4 639.9 L454.1 639.8 L454.7 639.7 L455.3 639.5 L456.0 639.4 L456.6 639.2 L457.2 639.0 L457.8 638.8 L458.3 638.6 L458.9 638.4 L459.5 638.2 L460.0 638.0 L460.6 637.8 L461.1 637.6 L461.6 637.4 L462.1 637.2 L462.6 637.0 L463.1 636.8 L463.6 636.6 L464.2 636.3 L464.7 636.1 L465.2 635.9 L465.7 635.6 L466.2 635.4 L466.7 635.1 L467.3 634.8 L467.8 634.6 L468.3 634.3 L468.8 634.0 L469.4 633.6 L469.9 633.3 L470.4 633.0 L471.0 632.6 L471.5 632.2 L472.0 631.9 L472.5 631.4 L473.0 631.0 L473.5 630.6 L474.0 630.0 L474.0 630.0 L473.3 629.8 L472.6 629.7 L472.0 629.7 L471.3 629.6 L470.7 629.6 L470.1 629.6 L469.4 629.5 L468.8 629.6 L468.2 629.6 L467.5 629.6 L466.9 629.7 L466.3 629.7 L465.6 629.8 L465.0 629.9 L464.4 630.0 L463.7 630.2 L463.1 630.4 L462.5 630.6 L461.9 630.8 L461.3 631.1 L460.6 631.3 L460.1 631.6 L459.5 632.0 L458.9 632.3 L458.4 632.7 L457.8 633.1 L457.3 633.5 L456.8 633.9 L456.4 634.4 L455.9 634.8 L455.5 635.3 L455.0 635.7 L454.6 636.2 L454.2 636.7 L453.8 637.2 L453.4 637.7 L453.0 638.2 L452.7 638.8 L452.3 639.3 L452.0 640.0Z" fill="#f6ecea" stroke="#e0b4ac" stroke-width="0.8"/><path d="M453.5 639.0 L454.1 638.7 L454.6 638.4 L455.1 638.0 L455.6 637.7 L456.1 637.4 L456.6 637.0 L457.1 636.7 L457.6 636.4 L458.2 636.1 L458.7 635.8 L459.2 635.5 L459.7 635.2 L460.3 634.9 L460.8 634.6 L461.3 634.3 L461.9 634.1 L462.5 633.8 L463.0 633.6 L463.6 633.3 L464.1 633.1 L464.7 632.9 L465.3 632.7 L465.9 632.5 L466.4 632.3 L467.0 632.1 L467.6 632.0 L468.2 631.8 L468.8 631.6 L469.3 631.4 L469.9 631.3 L470.5 631.1 L471.1 630.9 L471.7 630.7 L472.3 630.6" fill="none" stroke="#d9c0c0" stroke-width="0.7" opacity="0.8"/></g>
<path d="M298 800 L298 701 Q322 711 346 703 L350 800 Z" fill="url(#lumBot)" stroke="#a8423a" stroke-width="1"/>
</g>
</g>
<path d="M389.0 236.0 L389.6 238.7 L390.1 241.3 L390.6 244.0 L391.2 246.8 L392.0 250.0 L392.9 253.6 L394.0 257.6 L395.1 261.7 L396.3 265.9 L397.5 270.0 L398.7 274.0 L400.0 278.0 L401.4 282.0 L402.7 286.0 L409.5 286.0 L408.2 282.0 L407.0 278.0 L405.7 274.0 L404.5 270.0 L403.3 265.9 L402.2 261.7 L401.0 257.6 L400.0 253.6 L399.1 250.0 L398.4 246.8 L397.8 244.0 L397.2 241.3 L396.7 238.7 L396.2 236.0Z" fill="#fff"/>
<path d="M523.0 236.0 L523.8 238.7 L524.6 241.3 L525.4 244.0 L526.2 246.8 L518.0 246.8 L517.4 244.0 L516.6 241.3 L515.8 238.7 L515.0 236.0Z" fill="#fff"/>
<g id="muscles">
<g clip-path="url(#cA)"><path d="M270.0 62.0 L273.7 67.4 L277.4 72.7 L281.1 78.1 L284.6 83.6 L287.9 89.2 L291.1 94.9 L294.2 100.7 L297.2 106.4 L300.2 112.3 L303.0 118.1 L305.8 124.0 L308.3 130.0 L310.4 136.2 L312.2 142.5 L313.5 148.9 L314.8 155.3 L316.4 161.6 L318.1 167.9 L319.9 174.1 L321.9 180.3 L324.3 186.4 L327.3 192.2 L330.9 197.6 L335.0 202.6 L339.4 207.5 L343.7 212.4 L347.9 217.4 L352.2 222.3 L356.5 227.2 L360.8 232.1 L365.1 237.0 L369.4 241.9 L373.6 246.9 L377.9 251.8 L382.0 256.8 L386.0 262.0 L389.7 267.4 L393.2 272.9 L396.6 278.4 L400.0 284.0 L409.0 284.0 L406.5 277.8 L404.0 271.7 L401.8 265.4 L400.0 258.9 L398.5 252.5 L397.2 245.9 L396.2 239.4 L395.4 232.7 L394.7 226.1 L393.6 219.5 L392.7 212.9 L391.6 206.4 L389.7 200.0 L386.9 194.0 L383.5 188.2 L379.7 182.8 L375.6 177.5 L371.4 172.3 L367.1 167.3 L362.7 162.3 L358.1 157.5 L353.4 152.7 L348.7 148.0 L343.9 143.4 L339.1 138.8 L334.3 134.2 L329.4 129.6 L324.0 125.8 L319.1 121.3 L315.1 115.9 L311.5 110.3 L308.1 104.6 L304.7 98.9 L301.3 93.2 L297.7 87.6 L294.0 82.0 L290.3 76.5 L286.5 71.0 L282.8 65.5 L279.0 60.0Z" fill="url(#gA_mid)"/><g filter="url(#b05)"><path d="M285.9 83.4 L292.5 94.7 L298.7 106.2 L304.8 117.8 L310.5 129.4 L315.4 141.3 L319.1 153.5 L323.4 165.6 L328.0 177.6 L334.0 189.2 L341.9 199.6 L350.4 209.6 L358.4 219.8 L366.0 230.1 L373.5 240.4 L381.0 250.9 L388.3 261.5 L395.0 272.7" fill="none" stroke="url(#gA_dark)" stroke-width="2.9" opacity="0.45" stroke-linecap="round"/><path d="M280.4 66.0 L287.9 76.9 L295.2 88.0 L302.0 99.4 L308.6 110.8 L315.7 122.0 L324.5 131.3 L332.6 141.3 L340.5 151.5 L348.4 161.7 L356.3 172.1 L364.4 182.5 L372.4 193.1 L379.3 204.3 L383.7 216.5 L387.3 228.8 L390.6 241.2 L394.4 253.5 L398.8 265.9 L404.1 278.0" fill="none" stroke="url(#gA_mid)" stroke-width="1.8" opacity="0.61" stroke-linecap="round"/><path d="M288.5 82.9 L295.3 94.2 L301.7 105.7 L308.1 117.2 L314.8 128.3 L321.4 139.0 L326.9 150.3 L332.9 161.5 L338.9 172.8 L345.7 183.9 L353.7 194.3 L361.7 204.7 L368.7 215.6 L374.5 226.8 L380.3 238.1 L385.9 249.4 L391.9 260.7" fill="none" stroke="url(#gA_dark)" stroke-width="1.6" opacity="0.45" stroke-linecap="round"/><path d="M278.7 60.1 L286.2 71.0 L293.7 82.1 L300.9 93.3 L307.7 104.7 L314.7 116.0 L323.3 125.9 L333.4 134.5 L342.7 143.9 L351.8 153.4 L360.8 163.1 L369.4 173.2 L377.5 183.7 L384.8 194.9 L389.6 207.2 L391.9 220.2 L394.1 233.2 L396.1 246.3" fill="none" stroke="url(#gA_lite)" stroke-width="2.4" opacity="0.43" stroke-linecap="round"/><path d="M279.8 66.1 L287.3 77.0 L294.5 88.1 L301.2 99.5 L307.8 111.0 L314.7 122.2 L323.2 131.8 L330.8 142.0 L338.3 152.4 L345.8 162.8 L353.4 173.4 L361.3 183.9 L369.4 194.4 L376.4 205.5 L381.2 217.5 L385.3 229.5 L389.1 241.7 L393.3 253.8 L398.0 266.0" fill="none" stroke="url(#gA_dark)" stroke-width="1.5" opacity="0.61" stroke-linecap="round"/><path d="M285.6 83.4 L292.2 94.7 L298.4 106.2 L304.4 117.9 L310.1 129.6 L314.7 141.5 L318.1 153.9 L322.1 166.1 L326.5 178.3 L332.3 189.9 L340.1 200.4 L348.6 210.3 L356.7 220.5 L364.6 230.6 L372.3 240.9 L380.1 251.1 L387.6 261.7 L394.4 272.7" fill="none" stroke="url(#gA_dark)" stroke-width="2.9" opacity="0.66" stroke-linecap="round"/><path d="M292.1 82.3 L299.2 93.5 L305.9 105.0 L312.7 116.4 L320.7 126.7 L329.7 135.9 L337.8 145.9 L345.9 155.9 L354.0 166.1 L361.9 176.6 L370.0 187.1 L377.5 198.0 L382.9 209.9 L386.3 222.3 L389.6 234.8 L392.8 247.3 L396.8 259.6 L401.5 271.9" fill="none" stroke="url(#gA_mid)" stroke-width="2.6" opacity="0.69" stroke-linecap="round"/><path d="M285.7 83.4 L292.3 94.7 L298.5 106.2 L304.5 117.8 L310.3 129.5 L315.0 141.4 L318.6 153.7 L322.8 165.8 L327.4 177.9 L333.4 189.4 L341.3 199.8 L349.9 209.8 L357.9 220.0 L365.7 230.2 L373.3 240.5 L380.8 250.9" fill="none" stroke="url(#gA_dark)" stroke-width="2.8" opacity="0.53" stroke-linecap="round"/><path d="M286.2 83.3 L292.8 94.6 L299.1 106.1 L305.2 117.7 L311.1 129.3 L316.2 141.0 L320.2 153.1 L324.7 165.0 L329.6 176.9 L335.7 188.4 L343.7 198.8 L352.1 208.8 L360.0 219.2 L367.4 229.6 L374.7 240.1 L381.8 250.6 L388.9 261.4" fill="none" stroke="url(#gA_dark)" stroke-width="1.3" opacity="0.70" stroke-linecap="round"/><path d="M277.9 72.6 L285.1 83.5 L291.6 94.8 L297.8 106.3 L303.7 118.0 L309.1 129.8 L313.3 142.1 L316.2 154.7 L319.8 167.1 L323.8 179.5 L329.2 191.3 L337.0 201.8 L345.5 211.7 L353.8 221.7 L362.1 231.6 L370.4 241.6 L378.6 251.6" fill="none" stroke="url(#gA_dark)" stroke-width="2.5" opacity="0.78" stroke-linecap="round"/><path d="M277.9 66.5 L285.3 77.4 L292.4 88.5 L298.9 99.9 L305.3 111.4 L311.8 122.8 L319.0 133.2 L324.9 144.3 L330.8 155.5 L336.9 166.7 L343.2 177.9 L350.7 188.7 L358.7 199.1 L366.2 209.8 L372.3 221.0 L377.9 232.3 L383.4 243.6 L389.1 255.0 L394.9 266.5" fill="none" stroke="url(#gA_dark)" stroke-width="2.4" opacity="0.74" stroke-linecap="round"/><path d="M282.5 71.8 L289.9 82.7 L296.8 94.0 L303.4 105.4 L309.9 116.9 L317.3 127.6 L324.9 137.7 L331.6 148.4 L338.6 159.1 L345.6 169.9 L353.0 180.6 L361.2 191.0 L369.1 201.6 L375.4 212.9 L380.2 224.7 L384.8 236.5 L389.4 248.3" fill="none" stroke="url(#gA_lite)" stroke-width="2.6" opacity="0.50" stroke-linecap="round"/><path d="M284.4 71.4 L291.8 82.4 L298.9 93.6 L305.5 105.1 L312.3 116.4 L320.3 126.8 L329.2 136.1 L337.2 146.1 L345.3 156.2 L353.3 166.4 L361.4 176.8 L369.6 187.3 L377.2 198.1 L382.7 210.0 L386.3 222.3 L389.6 234.8 L392.9 247.2" fill="none" stroke="url(#gA_lite)" stroke-width="1.8" opacity="0.68" stroke-linecap="round"/><path d="M278.5 60.1 L286.1 71.1 L293.6 82.1 L300.8 93.3 L307.6 104.7 L314.6 116.0 L323.2 126.0 L333.3 134.5 L342.6 143.9 L351.8 153.4 L360.9 163.1 L369.6 173.2 L377.8 183.6 L385.2 194.7 L390.0 207.0 L392.3 220.0 L394.5 233.1 L396.5 246.2 L399.5 259.1 L403.6 271.7 L408.7 284.0" fill="none" stroke="url(#gA_mid)" stroke-width="1.8" opacity="0.51" stroke-linecap="round"/><path d="M272.9 61.3 L280.4 72.2 L287.7 83.1 L294.4 94.4 L300.8 105.8 L307.0 117.4 L313.5 128.6 L319.5 139.7 L324.4 151.3 L329.8 162.8 L335.4 174.4 L341.9 185.6 L349.9 196.0 L358.1 206.3 L365.3 217.0 L371.8 227.9 L378.1 238.8 L384.3 249.8 L390.7 261.0 L396.8 272.5" fill="none" stroke="url(#gA_lite)" stroke-width="1.6" opacity="0.44" stroke-linecap="round"/><path d="M288.8 82.9 L295.6 94.2 L302.1 105.6 L308.5 117.1 L315.4 128.1 L322.2 138.7 L328.1 149.8 L334.3 160.9 L340.6 172.0 L347.6 183.0 L355.7 193.4 L363.8 203.8 L370.6 214.9 L376.2 226.2 L381.6 237.6 L387.0 249.0 L392.6 260.6" fill="none" stroke="url(#gA_dark)" stroke-width="2.7" opacity="0.57" stroke-linecap="round"/><path d="M274.3 67.2 L281.7 78.0 L288.6 89.1 L294.9 100.6 L301.0 112.1 L306.7 123.8 L311.7 135.8 L315.2 148.2 L318.5 160.7 L322.4 173.1 L327.0 185.2 L333.7 196.3 L342.1 206.4 L350.4 216.4 L358.6 226.3 L366.8 236.3 L374.9 246.4 L382.9 256.6 L390.4 267.2" fill="none" stroke="url(#gA_lite)" stroke-width="2.9" opacity="0.65" stroke-linecap="round"/><path d="M285.0 71.3 L292.5 82.3 L299.6 93.5 L306.3 104.9 L313.2 116.3 L321.4 126.5 L330.7 135.5 L339.2 145.3 L347.7 155.2 L356.1 165.2 L364.4 175.5 L372.6 185.9 L380.0 196.9 L385.3 208.9 L388.4 221.5 L391.3 234.2 L394.1 246.9 L397.8 259.4 L402.3 271.9" fill="none" stroke="url(#gA_lite)" stroke-width="3.1" opacity="0.36" stroke-linecap="round"/><path d="M287.8 83.1 L294.5 94.3 L300.9 105.8 L307.1 117.4 L313.6 128.6 L319.6 139.7 L324.4 151.3 L329.8 162.9 L335.3 174.4 L341.7 185.7 L349.6 196.2 L357.7 206.4 L364.9 217.2 L371.3 228.1 L377.7 239.0 L384.0 250.0 L390.4 261.0" fill="none" stroke="url(#gA_dark)" stroke-width="2.8" opacity="0.37" stroke-linecap="round"/><path d="M286.3 83.3 L292.9 94.6 L299.2 106.1 L305.3 117.7 L311.2 129.2 L316.4 140.9 L320.4 153.0 L325.0 164.9 L329.8 176.8 L335.9 188.3 L343.9 198.7 L352.3 208.7 L360.1 219.1 L367.5 229.5 L374.7 240.0 L381.8 250.6 L388.9 261.4" fill="none" stroke="url(#gA_dark)" stroke-width="3.1" opacity="0.66" stroke-linecap="round"/><path d="M288.8 82.9 L295.6 94.2 L302.1 105.6 L308.4 117.1 L315.2 128.1 L321.9 138.8 L327.6 150.0 L333.6 161.2 L339.8 172.4 L346.6 183.5 L354.5 194.0 L362.5 204.4 L369.2 215.4 L375.0 226.7 L380.6 238.0 L386.2 249.3 L392.0 260.7 L397.8 272.4" fill="none" stroke="url(#gA_dark)" stroke-width="1.8" opacity="0.59" stroke-linecap="round"/><path d="M287.5 83.1 L294.2 94.4 L300.5 105.9 L306.7 117.4 L313.0 128.7 L318.8 140.0 L323.5 151.7 L328.6 163.3 L333.9 175.0 L340.2 186.4 L348.1 196.8 L356.2 207.1 L363.5 217.7 L370.2 228.5 L376.8 239.3 L383.3 250.2" fill="none" stroke="url(#gA_lite)" stroke-width="1.4" opacity="0.51" stroke-linecap="round"/></g><path d="M270.0 62.0 L273.7 67.4 L277.4 72.7 L281.1 78.1 L284.6 83.6 L287.9 89.2 L291.1 94.9 L294.2 100.7 L297.2 106.4 L300.2 112.3 L303.0 118.1 L305.8 124.0 L308.3 130.0 L310.4 136.2 L312.2 142.5 L313.5 148.9 L314.8 155.3 L316.4 161.6 L318.1 167.9 L319.9 174.1 L321.9 180.3 L324.3 186.4 L327.3 192.2 L330.9 197.6 L335.0 202.6 L339.4 207.5 L343.7 212.4 L347.9 217.4 L352.2 222.3 L356.5 227.2 L360.8 232.1 L365.1 237.0 L369.4 241.9 L373.6 246.9 L377.9 251.8 L382.0 256.8 L386.0 262.0 L389.7 267.4 L393.2 272.9 L396.6 278.4 L400.0 284.0" fill="none" stroke="url(#gA_dark)" stroke-width="9" opacity="0.6" filter="url(#b2)"/><path d="M279.0 60.0 L282.8 65.5 L286.5 71.0 L290.3 76.5 L294.0 82.0 L297.7 87.6 L301.3 93.2 L304.7 98.9 L308.1 104.6 L311.5 110.3 L315.1 115.9 L319.1 121.3 L324.0 125.8 L329.4 129.6 L334.3 134.2 L339.1 138.8 L343.9 143.4 L348.7 148.0 L353.4 152.7 L358.1 157.5 L362.7 162.3 L367.1 167.3 L371.4 172.3 L375.6 177.5 L379.7 182.8 L383.5 188.2 L386.9 194.0 L389.7 200.0 L391.6 206.4 L392.7 212.9 L393.6 219.5 L394.7 226.1 L395.4 232.7 L396.2 239.4 L397.2 245.9 L398.5 252.5 L400.0 258.9 L401.8 265.4 L404.0 271.7 L406.5 277.8 L409.0 284.0" fill="none" stroke="url(#gA_dark)" stroke-width="9" opacity="0.6" filter="url(#b2)"/></g>
<g clip-path="url(#cC)"><path d="M344.0 14.0 L346.1 19.5 L348.2 24.9 L350.2 30.4 L352.3 35.9 L354.5 41.4 L356.7 46.8 L358.9 52.2 L361.3 57.6 L363.6 62.9 L366.1 68.3 L368.5 73.6 L370.9 78.9 L373.4 84.2 L375.8 89.6 L378.2 94.9 L380.6 100.2 L383.0 105.6 L385.4 110.9 L387.9 116.3 L390.3 121.6 L392.9 126.8 L395.5 132.1 L398.1 137.3 L400.8 142.5 L403.5 147.7 L406.2 152.9 L409.0 158.1 L411.8 163.2 L414.7 168.3 L417.8 173.3 L420.7 178.4 L423.3 183.6 L425.7 189.0 L428.0 194.4 L430.1 199.8 L432.1 205.3 L433.8 210.9 L435.3 216.6 L436.6 222.3 L438.0 228.0 L463.0 228.0 L462.8 222.6 L462.4 217.2 L461.0 212.0 L458.9 207.0 L456.7 202.1 L454.9 197.0 L453.1 191.9 L451.8 186.6 L451.0 181.3 L450.7 175.9 L450.5 170.5 L450.4 165.1 L450.3 159.6 L450.3 154.2 L450.2 148.8 L450.1 143.4 L449.9 138.0 L449.5 132.6 L448.9 127.2 L448.3 121.9 L448.0 116.5 L448.0 111.0 L448.2 105.6 L448.5 100.2 L448.9 94.8 L449.3 89.4 L449.8 84.1 L450.3 78.7 L450.8 73.3 L451.3 67.9 L451.8 62.5 L452.2 57.1 L452.7 51.7 L453.2 46.3 L453.6 40.9 L454.1 35.6 L454.6 30.2 L455.1 24.8 L455.5 19.4 L456.0 14.0Z" fill="url(#gC_mid)"/><g filter="url(#b05)"><path d="M399.1 30.3 L400.9 41.2 L402.9 52.0 L405.0 62.7 L407.1 73.4 L409.3 84.2 L411.4 94.9 L413.7 105.6 L416.2 116.4 L419.3 127.0 L422.5 137.6 L425.5 148.2 L428.5 158.8 L431.6 169.3 L435.0 179.8 L438.7 190.3 L442.7 200.9" fill="none" stroke="url(#gC_lite)" stroke-width="1.0" opacity="0.61" stroke-linecap="round"/><path d="M385.1 30.3 L387.4 41.2 L389.8 52.0 L392.5 62.8 L395.2 73.5 L398.0 84.2 L400.9 94.9 L403.8 105.6 L406.9 116.3 L410.5 127.0 L414.3 137.5 L418.0 148.1 L421.7 158.6 L425.6 169.0 L429.9 179.3 L433.9 189.8 L438.1 200.5 L441.9 211.2" fill="none" stroke="url(#gC_dark)" stroke-width="2.4" opacity="0.68" stroke-linecap="round"/><path d="M360.1 14.0 L363.5 24.9 L366.9 35.8 L370.4 46.7 L374.2 57.5 L378.1 68.2 L382.1 78.9 L386.1 89.5 L390.1 100.2 L394.1 110.9 L398.4 121.6 L403.0 132.2 L407.6 142.6 L412.3 153.1 L417.1 163.5 L422.3 173.6 L427.1 184.0 L431.6 194.7 L435.7 205.6 L438.9 216.7" fill="none" stroke="url(#gC_lite)" stroke-width="1.8" opacity="0.61" stroke-linecap="round"/><path d="M409.5 14.0 L410.5 24.8 L411.5 35.7 L412.6 46.5 L413.9 57.3 L415.2 68.0 L416.6 78.8 L418.0 89.5 L419.5 100.2 L421.1 111.0 L423.4 121.7 L426.1 132.4 L428.7 143.0 L431.1 153.7 L433.5 164.3 L436.2 174.7 L439.2 185.3 L443.0 195.8 L447.0 206.3 L450.4 216.9" fill="none" stroke="url(#gC_dark)" stroke-width="2.9" opacity="0.70" stroke-linecap="round"/><path d="M415.8 24.8 L416.8 35.7 L417.9 46.5 L419.0 57.3 L420.2 68.0 L421.4 78.8 L422.6 89.5 L423.9 100.2 L425.3 111.0 L427.4 121.7 L430.0 132.4 L432.3 143.1 L434.4 153.8 L436.5 164.4 L438.8 174.9 L441.6 185.6 L445.3 196.0 L449.3 206.4 L452.7 217.0 L454.1 228.0" fill="none" stroke="url(#gC_lite)" stroke-width="2.7" opacity="0.46" stroke-linecap="round"/><path d="M433.2 14.0 L433.2 24.8 L433.1 35.6 L433.1 46.4 L433.2 57.2 L433.3 68.0 L433.4 78.7 L433.6 89.5 L433.8 100.2 L434.4 111.0 L435.6 121.8 L437.5 132.5 L439.1 143.2 L440.4 153.9 L441.7 164.6 L443.2 175.3 L445.3 185.9 L448.7 196.4 L452.7 206.6" fill="none" stroke="url(#gC_lite)" stroke-width="2.6" opacity="0.58" stroke-linecap="round"/><path d="M417.0 35.7 L417.9 46.5 L418.9 57.3 L420.0 68.0 L421.1 78.8 L422.3 89.5 L423.4 100.2 L424.9 111.0 L426.9 121.7 L429.4 132.4 L431.8 143.1 L433.9 153.7 L436.0 164.4 L438.4 174.9 L441.1 185.5 L444.8 196.0 L448.8 206.4 L452.2 217.0" fill="none" stroke="url(#gC_dark)" stroke-width="1.7" opacity="0.67" stroke-linecap="round"/><path d="M420.3 30.3 L421.3 41.1 L422.2 51.9 L423.3 62.6 L424.4 73.4 L425.4 84.1 L426.4 94.9 L427.6 105.6 L429.1 116.4 L431.4 127.1 L433.8 137.8 L435.8 148.5 L437.6 159.2 L439.5 169.8 L441.8 180.4 L444.8 191.0 L448.7 201.4 L452.9 211.7" fill="none" stroke="url(#gC_lite)" stroke-width="3.0" opacity="0.71" stroke-linecap="round"/><path d="M455.2 19.4 L454.1 30.2 L453.0 41.0 L451.9 51.7 L450.9 62.5 L449.8 73.3 L448.8 84.1 L447.8 94.8 L447.1 105.6 L446.9 116.5 L447.7 127.2 L448.8 138.0 L449.1 148.8 L449.3 159.6 L449.5 170.4 L450.2 181.2 L452.3 191.8" fill="none" stroke="url(#gC_dark)" stroke-width="1.9" opacity="0.53" stroke-linecap="round"/><path d="M430.9 35.6 L431.4 46.4 L431.9 57.2 L432.5 68.0 L433.0 78.7 L433.4 89.5 L434.0 100.2 L434.7 111.0 L436.2 121.8 L438.3 132.5 L440.0 143.2 L441.3 154.0 L442.6 164.7 L444.1 175.4 L446.2 186.0 L449.7 196.5" fill="none" stroke="url(#gC_lite)" stroke-width="1.7" opacity="0.49" stroke-linecap="round"/><path d="M425.8 24.8 L426.3 35.7 L426.8 46.5 L427.4 57.2 L428.1 68.0 L428.7 78.7 L429.3 89.5 L430.1 100.2 L431.0 111.0 L432.6 121.8 L434.9 132.5 L436.8 143.2 L438.4 153.9 L439.9 164.6 L441.8 175.2 L444.1 185.8 L447.7 196.3" fill="none" stroke="url(#gC_lite)" stroke-width="2.3" opacity="0.39" stroke-linecap="round"/><path d="M368.9 30.4 L372.2 41.3 L375.8 52.1 L379.5 62.8 L383.3 73.5 L387.2 84.2 L391.0 94.9 L394.8 105.6 L398.8 116.3 L403.1 126.9 L407.6 137.4 L412.1 147.9 L416.6 158.4 L421.3 168.7 L426.3 178.9 L430.8 189.5 L435.1 200.2" fill="none" stroke="url(#gC_dark)" stroke-width="2.6" opacity="0.76" stroke-linecap="round"/><path d="M437.9 19.4 L437.7 30.2 L437.5 41.0 L437.3 51.8 L437.3 62.6 L437.2 73.3 L437.1 84.1 L437.1 94.9 L437.2 105.6 L437.9 116.4 L439.4 127.2 L441.1 137.9 L442.2 148.6 L443.2 159.4 L444.3 170.1 L445.8 180.8 L448.3 191.4 L452.1 201.7" fill="none" stroke="url(#gC_lite)" stroke-width="2.2" opacity="0.69" stroke-linecap="round"/><path d="M414.2 14.0 L415.0 24.8 L415.8 35.7 L416.8 46.5 L417.8 57.3 L418.9 68.0 L420.1 78.8 L421.2 89.5 L422.5 100.2 L423.9 111.0 L426.0 121.7 L428.6 132.4 L431.0 143.1 L433.1 153.7 L435.3 164.3 L437.8 174.9 L440.6 185.4 L444.3 195.9" fill="none" stroke="url(#gC_dark)" stroke-width="1.9" opacity="0.44" stroke-linecap="round"/><path d="M411.5 14.0 L412.8 24.8 L414.0 35.7 L415.3 46.5 L416.7 57.3 L418.2 68.0 L419.6 78.8 L421.0 89.5 L422.4 100.2 L424.1 111.0 L426.3 121.7 L429.0 132.4 L431.5 143.1 L433.7 153.7 L435.9 164.4 L438.4 174.9 L441.2 185.5 L445.0 196.0" fill="none" stroke="url(#gC_lite)" stroke-width="2.6" opacity="0.78" stroke-linecap="round"/><path d="M413.5 35.7 L414.5 46.5 L415.6 57.3 L416.8 68.0 L418.0 78.8 L419.2 89.5 L420.5 100.2 L422.1 111.0 L424.2 121.7 L426.9 132.4 L429.4 143.0 L431.7 153.7 L434.0 164.3 L436.6 174.8 L439.6 185.3 L443.3 195.8 L447.3 206.3" fill="none" stroke="url(#gC_lite)" stroke-width="1.0" opacity="0.47" stroke-linecap="round"/><path d="M416.8 24.8 L417.5 35.7 L418.2 46.5 L419.1 57.3 L420.0 68.0 L421.0 78.8 L422.0 89.5 L423.1 100.2 L424.4 111.0 L426.3 121.7 L428.9 132.4 L431.2 143.1 L433.2 153.7 L435.3 164.3 L437.8 174.9 L440.6 185.4 L444.3 195.9" fill="none" stroke="url(#gC_lite)" stroke-width="1.7" opacity="0.74" stroke-linecap="round"/><path d="M355.1 35.9 L359.3 46.8 L363.7 57.6 L368.3 68.2 L373.1 78.9 L377.8 89.6 L382.4 100.2 L387.1 110.9 L391.9 121.6 L396.9 132.1 L402.1 142.5 L407.4 152.9 L412.8 163.3 L418.6 173.4 L424.0 183.7 L428.7 194.4 L432.8 205.4 L436.0 216.6" fill="none" stroke="url(#gC_lite)" stroke-width="1.4" opacity="0.74" stroke-linecap="round"/><path d="M433.4 35.6 L433.3 46.4 L433.3 57.2 L433.4 68.0 L433.5 78.7 L433.6 89.5 L433.8 100.2 L434.3 111.0 L435.6 121.8 L437.5 132.5 L439.0 143.2 L440.3 153.9 L441.5 164.6 L443.1 175.3 L445.2 185.9 L448.6 196.4 L452.5 206.6" fill="none" stroke="url(#gC_dark)" stroke-width="3.2" opacity="0.53" stroke-linecap="round"/><path d="M449.3 14.0 L448.8 24.8 L448.4 35.6 L447.9 46.4 L447.4 57.1 L446.9 67.9 L446.3 78.7 L445.8 89.5 L445.3 100.2 L445.2 111.0 L445.8 121.8 L447.2 132.6 L448.1 143.4 L448.6 154.2 L448.9 165.0 L449.5 175.8 L450.9 186.5 L454.1 196.9 L458.1 207.0" fill="none" stroke="url(#gC_mid)" stroke-width="2.4" opacity="0.49" stroke-linecap="round"/><path d="M392.5 24.9 L394.7 35.8 L396.9 46.6 L399.3 57.4 L401.8 68.1 L404.3 78.8 L406.8 89.5 L409.3 100.2 L411.9 111.0 L414.9 121.7 L418.5 132.3 L421.8 142.9 L425.0 153.5 L428.3 164.0 L431.9 174.4 L435.5 184.9 L439.6 195.5" fill="none" stroke="url(#gC_dark)" stroke-width="1.0" opacity="0.44" stroke-linecap="round"/><path d="M404.8 24.9 L406.4 35.7 L408.0 46.5 L409.8 57.3 L411.7 68.1 L413.5 78.8 L415.4 89.5 L417.2 100.2 L419.3 111.0 L421.8 121.7 L424.8 132.4 L427.7 143.0 L430.3 153.6 L432.9 164.2 L435.8 174.7 L439.0 185.3 L442.9 195.8 L446.9 206.3 L450.4 216.9 L451.9 228.0" fill="none" stroke="url(#gC_lite)" stroke-width="1.9" opacity="0.59" stroke-linecap="round"/><path d="M412.2 35.7 L413.5 46.5 L414.8 57.3 L416.3 68.0 L417.7 78.8 L419.2 89.5 L420.7 100.2 L422.4 111.0 L424.6 121.7 L427.4 132.4 L430.0 143.1 L432.3 153.7 L434.6 164.3 L437.2 174.8 L440.2 185.4 L443.9 195.9 L448.0 206.3 L451.4 217.0" fill="none" stroke="url(#gC_lite)" stroke-width="1.5" opacity="0.63" stroke-linecap="round"/><path d="M435.1 14.0 L435.1 24.8 L435.1 35.6 L435.1 46.4 L435.2 57.2 L435.4 68.0 L435.4 78.7 L435.6 89.5 L435.8 100.2 L436.3 111.0 L437.5 121.8 L439.3 132.5 L440.9 143.2 L442.0 154.0 L443.1 164.7 L444.5 175.4 L446.4 186.1 L449.9 196.5 L453.8 206.7 L457.3 217.1 L458.3 228.0" fill="none" stroke="url(#gC_lite)" stroke-width="2.4" opacity="0.60" stroke-linecap="round"/><path d="M423.7 24.8 L424.2 35.7 L424.9 46.5 L425.6 57.2 L426.4 68.0 L427.1 78.7 L427.9 89.5 L428.7 100.2 L429.7 111.0 L431.4 121.8 L433.8 132.5 L435.8 143.2 L437.5 153.8 L439.2 164.5 L441.1 175.1 L443.5 185.8 L447.1 196.2 L451.1 206.5 L454.6 217.0" fill="none" stroke="url(#gC_mid)" stroke-width="3.1" opacity="0.41" stroke-linecap="round"/><path d="M349.1 24.9 L353.2 35.9 L357.5 46.8 L362.1 57.6 L366.8 68.3 L371.6 78.9 L376.4 89.6 L381.2 100.2 L385.9 110.9 L390.8 121.6 L395.9 132.1 L401.2 142.5 L406.6 152.9 L412.1 163.2 L418.0 173.3 L423.5 183.7 L428.2 194.4" fill="none" stroke="url(#gC_lite)" stroke-width="1.9" opacity="0.79" stroke-linecap="round"/><path d="M448.9 14.0 L448.4 24.8 L447.8 35.6 L447.2 46.4 L446.7 57.1 L446.2 67.9 L445.6 78.7 L445.0 89.5 L444.5 100.2 L444.4 111.0 L445.0 121.8 L446.4 132.6 L447.4 143.4 L447.8 154.2 L448.2 165.0 L448.9 175.7 L450.3 186.5 L453.5 196.8" fill="none" stroke="url(#gC_mid)" stroke-width="2.1" opacity="0.60" stroke-linecap="round"/><path d="M367.6 24.9 L371.0 35.8 L374.6 46.7 L378.3 57.5 L382.2 68.2 L386.1 78.9 L390.0 89.5 L393.9 100.2 L397.7 111.0 L401.9 121.6 L406.3 132.2 L410.8 142.7 L415.2 153.2 L419.7 163.6 L424.6 173.8 L429.3 184.3 L433.7 194.9 L437.8 205.7 L441.1 216.7" fill="none" stroke="url(#gC_lite)" stroke-width="3.0" opacity="0.74" stroke-linecap="round"/><path d="M439.4 35.6 L439.4 46.4 L439.4 57.2 L439.4 67.9 L439.3 78.7 L439.3 89.5 L439.3 100.2 L439.6 111.0 L440.7 121.8 L442.4 132.5 L443.7 143.3 L444.6 154.1 L445.5 164.8 L446.5 175.5 L448.3 186.3 L451.6 196.6" fill="none" stroke="url(#gC_lite)" stroke-width="2.7" opacity="0.46" stroke-linecap="round"/><path d="M453.2 24.8 L452.3 35.6 L451.5 46.3 L450.6 57.1 L449.8 67.9 L448.9 78.7 L448.0 89.5 L447.3 100.2 L446.9 111.0 L447.3 121.9 L448.5 132.6 L449.2 143.4 L449.5 154.2 L449.7 165.0 L450.1 175.8 L451.3 186.6 L454.4 196.9 L458.4 207.0 L462.0 217.2 L462.6 228.0" fill="none" stroke="url(#gC_dark)" stroke-width="2.0" opacity="0.50" stroke-linecap="round"/><path d="M445.2 14.0 L444.5 24.8 L443.9 35.6 L443.3 46.4 L442.8 57.2 L442.3 67.9 L441.8 78.7 L441.3 89.5 L440.9 100.2 L440.9 111.0 L441.7 121.8 L443.2 132.6 L444.3 143.3 L445.0 154.1 L445.6 164.8 L446.6 175.6 L448.2 186.2 L451.5 196.6" fill="none" stroke="url(#gC_dark)" stroke-width="2.5" opacity="0.51" stroke-linecap="round"/><path d="M374.0 30.4 L377.0 41.3 L380.2 52.1 L383.6 62.8 L387.1 73.5 L390.6 84.2 L394.1 94.9 L397.6 105.6 L401.3 116.3 L405.4 126.9 L409.7 137.5 L413.9 148.0 L418.1 158.4 L422.6 168.8 L427.4 179.0 L431.7 189.6 L436.0 200.3 L439.8 211.2 L442.3 222.4" fill="none" stroke="url(#gC_lite)" stroke-width="1.1" opacity="0.36" stroke-linecap="round"/><path d="M424.0 24.8 L424.4 35.7 L424.9 46.5 L425.4 57.2 L426.1 68.0 L426.7 78.7 L427.4 89.5 L428.2 100.2 L429.2 111.0 L430.8 121.8 L433.1 132.5 L435.1 143.1 L436.8 153.8 L438.5 164.5 L440.5 175.1 L443.0 185.7 L446.6 196.2" fill="none" stroke="url(#gC_lite)" stroke-width="2.7" opacity="0.64" stroke-linecap="round"/><path d="M378.8 19.4 L381.6 30.3 L384.5 41.2 L387.5 52.0 L390.7 62.8 L393.9 73.5 L397.2 84.2 L400.4 94.9 L403.6 105.6 L407.0 116.3 L410.8 127.0 L414.8 137.5 L418.6 148.1 L422.5 158.6 L426.5 169.0 L430.7 179.3 L434.8 189.9 L439.0 200.6 L443.0 211.3" fill="none" stroke="url(#gC_lite)" stroke-width="2.1" opacity="0.77" stroke-linecap="round"/><path d="M430.3 19.4 L430.7 30.2 L431.1 41.0 L431.6 51.8 L432.1 62.6 L432.6 73.4 L433.0 84.1 L433.5 94.9 L434.1 105.6 L435.1 116.4 L437.0 127.2 L439.0 137.9 L440.5 148.6 L441.8 159.3 L443.1 170.0 L444.9 180.7 L447.6 191.3 L451.4 201.6 L455.7 211.8 L457.7 222.5" fill="none" stroke="url(#gC_lite)" stroke-width="1.6" opacity="0.50" stroke-linecap="round"/><path d="M399.2 19.4 L401.1 30.3 L403.0 41.2 L405.0 52.0 L407.1 62.7 L409.2 73.4 L411.3 84.1 L413.4 94.9 L415.6 105.6 L418.0 116.4 L421.1 127.0 L424.3 137.7 L427.2 148.3 L430.0 158.9 L433.0 169.4 L436.2 179.9 L439.8 190.5 L443.9 201.0" fill="none" stroke="url(#gC_mid)" stroke-width="2.3" opacity="0.55" stroke-linecap="round"/><path d="M409.5 19.4 L410.8 30.3 L412.2 41.1 L413.7 51.9 L415.2 62.7 L416.8 73.4 L418.4 84.1 L419.9 94.9 L421.6 105.6 L423.6 116.4 L426.2 127.1 L429.0 137.7 L431.4 148.4 L433.8 159.0 L436.2 169.6 L439.0 180.1 L442.3 190.7 L446.3 201.2 L450.3 211.6 L452.6 222.5" fill="none" stroke="url(#gC_lite)" stroke-width="1.1" opacity="0.70" stroke-linecap="round"/><path d="M394.1 19.4 L396.0 30.3 L398.0 41.2 L400.0 52.0 L402.2 62.7 L404.5 73.5 L406.8 84.2 L409.1 94.9 L411.5 105.6 L414.1 116.3 L417.3 127.0 L420.7 137.6 L423.8 148.2 L427.0 158.8 L430.3 169.2 L433.9 179.6 L437.6 190.2 L441.7 200.8" fill="none" stroke="url(#gC_dark)" stroke-width="2.8" opacity="0.42" stroke-linecap="round"/><path d="M445.7 24.8 L445.0 35.6 L444.4 46.4 L443.8 57.2 L443.3 67.9 L442.7 78.7 L442.1 89.5 L441.7 100.2 L441.6 111.0 L442.3 121.8 L443.8 132.6 L444.8 143.3 L445.5 154.1 L446.1 164.9 L447.0 175.6 L448.5 186.3 L451.8 196.7" fill="none" stroke="url(#gC_mid)" stroke-width="2.6" opacity="0.39" stroke-linecap="round"/><path d="M362.9 14.0 L366.3 24.9 L369.7 35.8 L373.2 46.7 L376.9 57.5 L380.8 68.2 L384.7 78.9 L388.6 89.5 L392.5 100.2 L396.4 111.0 L400.6 121.6 L405.1 132.2 L409.6 142.7 L414.1 153.1 L418.7 163.6 L423.7 173.8 L428.4 184.2 L432.9 194.8 L437.0 205.6" fill="none" stroke="url(#gC_lite)" stroke-width="2.4" opacity="0.65" stroke-linecap="round"/><path d="M388.4 14.0 L390.5 24.9 L392.6 35.8 L394.7 46.6 L397.1 57.4 L399.6 68.1 L402.1 78.8 L404.6 89.5 L407.2 100.2 L409.8 111.0 L412.9 121.7 L416.5 132.3 L420.0 142.9 L423.3 153.4 L426.7 163.9 L430.5 174.3 L434.3 184.8 L438.4 195.4 L442.4 206.0 L445.7 216.8" fill="none" stroke="url(#gC_lite)" stroke-width="1.4" opacity="0.63" stroke-linecap="round"/><path d="M353.9 35.9 L358.0 46.8 L362.3 57.6 L366.9 68.3 L371.5 78.9 L376.2 89.6 L380.9 100.2 L385.5 110.9 L390.4 121.6 L395.4 132.1 L400.6 142.5 L406.0 152.9 L411.5 163.2 L417.5 173.3 L423.0 183.6 L427.6 194.3" fill="none" stroke="url(#gC_mid)" stroke-width="1.9" opacity="0.40" stroke-linecap="round"/><path d="M350.3 24.9 L354.6 35.9 L359.1 46.8 L363.7 57.6 L368.6 68.2 L373.5 78.9 L378.3 89.6 L383.1 100.2 L387.9 110.9 L392.8 121.6 L397.9 132.1 L403.1 142.6 L408.4 153.0 L413.8 163.3 L419.6 173.4 L424.9 183.8 L429.6 194.5" fill="none" stroke="url(#gC_dark)" stroke-width="1.3" opacity="0.57" stroke-linecap="round"/><path d="M361.0 19.5 L364.4 30.4 L367.9 41.3 L371.6 52.1 L375.5 62.9 L379.5 73.5 L383.6 84.2 L387.6 94.9 L391.7 105.6 L395.8 116.3 L400.3 126.9 L405.0 137.4 L409.7 147.9 L414.4 158.3 L419.4 168.6 L424.6 178.8 L429.3 189.3 L433.6 200.1" fill="none" stroke="url(#gC_mid)" stroke-width="1.3" opacity="0.68" stroke-linecap="round"/><path d="M401.7 24.9 L403.1 35.7 L404.7 46.6 L406.4 57.3 L408.2 68.1 L410.0 78.8 L411.9 89.5 L413.8 100.2 L415.9 111.0 L418.5 121.7 L421.6 132.3 L424.6 143.0 L427.4 153.5 L430.3 164.1 L433.5 174.5 L436.9 185.1 L440.8 195.6 L444.8 206.1 L448.1 216.9 L449.7 228.0" fill="none" stroke="url(#gC_dark)" stroke-width="3.1" opacity="0.38" stroke-linecap="round"/><path d="M452.3 19.4 L451.7 30.2 L451.0 41.0 L450.4 51.7 L449.7 62.5 L449.0 73.3 L448.2 84.1 L447.5 94.8 L447.0 105.6 L447.0 116.5 L448.1 127.2 L449.2 138.0 L449.7 148.8 L449.9 159.6 L450.1 170.4 L450.8 181.2 L453.0 191.8 L456.6 202.1 L460.9 212.0 L462.8 222.6" fill="none" stroke="url(#gC_dark)" stroke-width="1.6" opacity="0.43" stroke-linecap="round"/><path d="M373.6 14.0 L376.3 24.9 L378.9 35.8 L381.6 46.7 L384.6 57.4 L387.8 68.2 L391.0 78.8 L394.2 89.5 L397.5 100.2 L400.9 111.0 L404.5 121.6 L408.6 132.2 L412.7 142.7 L416.8 153.2 L420.9 163.7 L425.5 173.9 L429.9 184.3 L434.2 195.0" fill="none" stroke="url(#gC_mid)" stroke-width="1.1" opacity="0.71" stroke-linecap="round"/><path d="M449.9 24.8 L449.1 35.6 L448.3 46.4 L447.6 57.1 L446.9 67.9 L446.1 78.7 L445.3 89.5 L444.7 100.2 L444.5 111.0 L445.0 121.8 L446.3 132.6 L447.2 143.4 L447.6 154.2 L448.0 164.9 L448.6 175.7 L450.0 186.4 L453.2 196.8 L457.1 206.9 L460.6 217.2" fill="none" stroke="url(#gC_dark)" stroke-width="2.4" opacity="0.59" stroke-linecap="round"/><path d="M406.8 24.9 L408.3 35.7 L409.8 46.5 L411.4 57.3 L413.1 68.1 L414.8 78.8 L416.5 89.5 L418.3 100.2 L420.2 111.0 L422.6 121.7 L425.6 132.4 L428.3 143.0 L430.9 153.7 L433.4 164.3 L436.2 174.7 L439.3 185.3 L443.1 195.8 L447.2 206.3" fill="none" stroke="url(#gC_dark)" stroke-width="1.7" opacity="0.54" stroke-linecap="round"/><path d="M451.8 30.2 L450.9 41.0 L450.1 51.7 L449.3 62.5 L448.4 73.3 L447.5 84.1 L446.7 94.8 L446.2 105.6 L446.1 116.4 L447.1 127.2 L448.2 138.0 L448.7 148.8 L448.9 159.6 L449.2 170.4 L450.0 181.2 L452.1 191.8 L455.8 202.0 L460.0 212.0" fill="none" stroke="url(#gC_lite)" stroke-width="3.0" opacity="0.64" stroke-linecap="round"/><path d="M373.7 24.9 L376.7 35.8 L379.7 46.7 L383.0 57.5 L386.4 68.2 L389.9 78.9 L393.4 89.5 L396.8 100.2 L400.4 111.0 L404.2 121.6 L408.4 132.2 L412.6 142.7 L416.8 153.2 L421.0 163.7 L425.6 173.9 L430.1 184.4 L434.4 195.0 L438.5 205.7 L441.8 216.8" fill="none" stroke="url(#gC_mid)" stroke-width="2.6" opacity="0.80" stroke-linecap="round"/><path d="M436.5 14.0 L436.5 24.8 L436.5 35.6 L436.5 46.4 L436.6 57.2 L436.7 68.0 L436.8 78.7 L436.8 89.5 L437.0 100.2 L437.4 111.0 L438.6 121.8 L440.4 132.5 L441.9 143.3 L443.0 154.0 L444.0 164.8 L445.2 175.4 L447.1 186.1 L450.5 196.5 L454.5 206.8 L458.0 217.1 L459.0 228.0" fill="none" stroke="url(#gC_mid)" stroke-width="2.7" opacity="0.76" stroke-linecap="round"/><path d="M353.5 24.9 L357.5 35.9 L361.6 46.8 L366.0 57.5 L370.6 68.2 L375.2 78.9 L379.8 89.6 L384.4 100.2 L388.9 110.9 L393.7 121.6 L398.6 132.1 L403.7 142.6 L408.9 153.0 L414.1 163.3 L419.8 173.5 L425.0 183.8 L429.7 194.5 L433.8 205.4 L437.0 216.6" fill="none" stroke="url(#gC_dark)" stroke-width="2.2" opacity="0.49" stroke-linecap="round"/><path d="M451.6 30.2 L450.6 41.0 L449.6 51.7 L448.7 62.5 L447.7 73.3 L446.8 84.1 L445.9 94.8 L445.3 105.6 L445.2 116.4 L446.1 127.2 L447.2 138.0 L447.7 148.8 L448.0 159.6 L448.4 170.3 L449.2 181.1 L451.4 191.7 L455.0 201.9 L459.2 211.9" fill="none" stroke="url(#gC_lite)" stroke-width="2.3" opacity="0.80" stroke-linecap="round"/><path d="M374.7 30.4 L377.8 41.3 L381.0 52.1 L384.5 62.8 L388.0 73.5 L391.5 84.2 L395.0 94.9 L398.6 105.6 L402.3 116.3 L406.3 126.9 L410.6 137.5 L414.8 148.0 L419.0 158.5 L423.4 168.8 L428.1 179.1 L432.4 189.7 L436.6 200.4" fill="none" stroke="url(#gC_dark)" stroke-width="1.9" opacity="0.59" stroke-linecap="round"/></g><path d="M344.0 14.0 L346.1 19.5 L348.2 24.9 L350.2 30.4 L352.3 35.9 L354.5 41.4 L356.7 46.8 L358.9 52.2 L361.3 57.6 L363.6 62.9 L366.1 68.3 L368.5 73.6 L370.9 78.9 L373.4 84.2 L375.8 89.6 L378.2 94.9 L380.6 100.2 L383.0 105.6 L385.4 110.9 L387.9 116.3 L390.3 121.6 L392.9 126.8 L395.5 132.1 L398.1 137.3 L400.8 142.5 L403.5 147.7 L406.2 152.9 L409.0 158.1 L411.8 163.2 L414.7 168.3 L417.8 173.3 L420.7 178.4 L423.3 183.6 L425.7 189.0 L428.0 194.4 L430.1 199.8 L432.1 205.3 L433.8 210.9 L435.3 216.6 L436.6 222.3 L438.0 228.0" fill="none" stroke="url(#gC_dark)" stroke-width="9" opacity="0.6" filter="url(#b2)"/><path d="M456.0 14.0 L455.5 19.4 L455.1 24.8 L454.6 30.2 L454.1 35.6 L453.6 40.9 L453.2 46.3 L452.7 51.7 L452.2 57.1 L451.8 62.5 L451.3 67.9 L450.8 73.3 L450.3 78.7 L449.8 84.1 L449.3 89.4 L448.9 94.8 L448.5 100.2 L448.2 105.6 L448.0 111.0 L448.0 116.5 L448.3 121.9 L448.9 127.2 L449.5 132.6 L449.9 138.0 L450.1 143.4 L450.2 148.8 L450.3 154.2 L450.3 159.6 L450.4 165.1 L450.5 170.5 L450.7 175.9 L451.0 181.3 L451.8 186.6 L453.1 191.9 L454.9 197.0 L456.7 202.1 L458.9 207.0 L461.0 212.0 L462.4 217.2 L462.8 222.6 L463.0 228.0" fill="none" stroke="url(#gC_dark)" stroke-width="9" opacity="0.6" filter="url(#b2)"/></g>
<path d="M366 178 Q380 196 390 232 L394.5 232 Q392 205 378 180 Z" fill="#b8402e" filter="url(#b05)"/>
<path d="M372 184 Q384 204 391 228" fill="none" stroke="#d86a54" stroke-width="1.6" opacity="0.7" filter="url(#b05)"/>
<g clip-path="url(#cB)"><path d="M298.0 30.0 L296.4 35.5 L294.6 40.9 L293.0 46.3 L292.1 52.0 L292.2 57.7 L292.9 63.3 L294.2 68.9 L295.9 74.3 L297.9 79.7 L300.0 85.0 L302.3 90.2 L304.7 95.3 L307.2 100.5 L309.8 105.5 L312.5 110.6 L315.2 115.6 L318.0 120.5 L321.0 125.4 L324.1 130.2 L327.6 134.7 L331.4 139.0 L335.3 143.0 L339.3 147.1 L343.2 151.3 L347.1 155.5 L351.0 159.6 L355.0 163.7 L358.9 167.9 L362.7 172.1 L366.5 176.4 L370.1 180.8 L373.7 185.2 L377.1 189.8 L380.4 194.4 L383.5 199.2 L386.1 204.3 L388.2 209.6 L389.9 215.0 L391.4 220.5 L393.0 226.0 L430.0 196.0 L427.6 191.7 L425.1 187.4 L423.0 183.0 L421.4 178.3 L419.9 173.5 L418.4 168.8 L416.7 164.2 L414.8 159.6 L412.7 155.2 L410.5 150.7 L408.2 146.4 L405.8 142.0 L403.5 137.6 L401.2 133.3 L398.9 128.9 L396.7 124.4 L394.6 120.0 L392.5 115.5 L390.4 111.0 L388.4 106.5 L386.3 102.0 L384.3 97.5 L382.3 93.0 L380.3 88.4 L378.3 83.9 L376.3 79.4 L374.3 74.9 L372.3 70.4 L370.3 65.8 L368.4 61.3 L366.5 56.7 L364.8 52.1 L363.1 47.4 L361.6 42.7 L360.2 37.9 L358.9 33.2 L357.7 28.4 L356.5 23.6 L355.3 18.8 L354.0 14.0Z" fill="url(#gB_mid)"/><g filter="url(#b05)"><path d="M332.5 30.3 L333.1 40.4 L335.1 50.6 L338.3 60.6 L342.1 70.4 L346.4 79.9 L350.9 89.4 L355.5 98.8 L360.2 108.1 L365.3 117.2 L370.9 125.9 L376.5 134.6 L382.3 143.2 L388.2 151.7 L394.0 160.4 L399.4 169.2 L404.2 178.4" fill="none" stroke="url(#gB_mid)" stroke-width="2.5" opacity="0.77" stroke-linecap="round"/><path d="M342.5 32.6 L344.2 42.6 L346.8 52.5 L350.2 62.1 L354.1 71.6 L358.2 81.0 L362.4 90.3 L366.8 99.6 L371.2 108.8 L376.0 117.8 L381.1 126.6 L386.2 135.4 L391.5 144.1 L396.9 152.7 L402.1 161.5 L406.8 170.6 L410.8 180.0 L414.2 189.7 L418.4 199.0" fill="none" stroke="url(#gB_lite)" stroke-width="2.1" opacity="0.56" stroke-linecap="round"/><path d="M306.9 47.8 L308.0 58.8 L310.9 69.5 L314.7 79.8 L319.2 90.0 L323.9 100.0 L328.9 109.9 L334.2 119.6 L340.2 128.9 L347.1 137.4 L354.1 145.8 L361.1 154.3 L368.3 162.7 L375.2 171.3 L381.7 180.2 L387.8 189.5 L392.9 199.3" fill="none" stroke="url(#gB_mid)" stroke-width="1.5" opacity="0.43" stroke-linecap="round"/><path d="M317.9 29.4 L316.7 39.8 L317.2 50.4 L319.6 61.0 L323.2 71.2 L327.4 81.2 L332.0 91.0 L336.9 100.7 L341.9 110.3 L347.3 119.7 L353.4 128.5 L360.0 137.0 L366.5 145.5 L373.2 153.9 L379.8 162.4 L386.1 171.1 L392.1 180.1 L397.2 189.5 L401.4 199.5 L405.1 209.6" fill="none" stroke="url(#gB_dark)" stroke-width="1.4" opacity="0.78" stroke-linecap="round"/><path d="M345.9 16.3 L347.6 26.1 L349.4 35.8 L351.8 45.6 L355.0 55.2 L358.7 64.6 L362.8 73.9 L367.0 83.1 L371.3 92.2 L375.6 101.3 L380.0 110.4 L384.7 119.3 L389.4 128.1 L394.4 136.8 L399.5 145.5 L404.6 154.2 L409.3 163.0 L413.4 172.2 L416.7 181.7" fill="none" stroke="url(#gB_dark)" stroke-width="1.8" opacity="0.74" stroke-linecap="round"/><path d="M321.1 33.5 L320.7 43.9 L322.3 54.5 L325.3 64.8 L329.1 74.9 L333.5 84.7 L338.1 94.4 L342.9 104.0 L347.9 113.5 L353.4 122.7 L359.6 131.4 L365.9 139.9 L372.3 148.5 L378.7 156.9 L385.0 165.6 L391.0 174.4 L396.4 183.6 L401.0 193.3" fill="none" stroke="url(#gB_dark)" stroke-width="1.8" opacity="0.65" stroke-linecap="round"/><path d="M327.3 21.6 L326.9 31.8 L326.9 42.2 L328.6 52.6 L331.6 62.8 L335.4 72.7 L339.6 82.4 L344.1 92.0 L348.8 101.6 L353.6 111.0 L358.8 120.2 L364.7 128.9 L370.6 137.6 L376.7 146.1 L382.8 154.7 L388.9 163.3 L394.6 172.2 L399.7 181.4 L404.0 191.1" fill="none" stroke="url(#gB_dark)" stroke-width="1.6" opacity="0.55" stroke-linecap="round"/><path d="M303.0 33.6 L300.2 44.3 L299.8 55.4 L302.0 66.4 L305.7 77.0 L310.1 87.4 L314.9 97.5 L320.1 107.5 L325.5 117.3 L331.4 126.9 L338.3 135.7 L345.8 143.9 L353.2 152.3 L360.7 160.6 L368.2 169.0 L375.2 177.7 L381.9 186.7 L387.9 196.1 L392.5 206.3 L395.8 217.0" fill="none" stroke="url(#gB_mid)" stroke-width="1.3" opacity="0.66" stroke-linecap="round"/><path d="M318.0 29.3 L316.7 39.7 L317.1 50.4 L319.5 61.0 L323.1 71.2 L327.3 81.2 L331.8 91.1 L336.7 100.8 L341.7 110.4 L347.0 119.8 L353.1 128.7 L359.7 137.1 L366.2 145.7 L372.8 154.1 L379.5 162.6 L385.8 171.3 L391.7 180.3 L396.9 189.8 L401.0 199.8" fill="none" stroke="url(#gB_lite)" stroke-width="2.2" opacity="0.71" stroke-linecap="round"/><path d="M312.2 26.0 L310.2 36.5 L309.0 47.2 L310.4 58.1 L313.4 68.7 L317.4 78.9 L321.9 89.0 L326.7 98.9 L331.8 108.7 L337.1 118.3 L343.1 127.5 L349.9 136.0 L356.9 144.4 L363.9 152.9 L370.9 161.2 L377.8 169.8 L384.2 178.7 L390.2 187.9 L395.2 197.6 L398.9 207.9" fill="none" stroke="url(#gB_lite)" stroke-width="1.1" opacity="0.43" stroke-linecap="round"/><path d="M339.0 28.4 L340.0 38.5 L342.1 48.5 L345.1 58.4 L348.8 68.0 L352.9 77.5 L357.1 86.9 L361.5 96.3 L365.9 105.6 L370.6 114.7 L375.8 123.6 L381.0 132.3 L386.4 141.0 L392.0 149.7 L397.4 158.4 L402.6 167.2 L407.1 176.5 L410.8 186.1" fill="none" stroke="url(#gB_lite)" stroke-width="1.6" opacity="0.55" stroke-linecap="round"/><path d="M327.4 21.6 L327.1 31.8 L327.2 42.1 L329.0 52.5 L332.1 62.6 L335.9 72.5 L340.2 82.2 L344.7 91.8 L349.4 101.3 L354.2 110.7 L359.5 119.9 L365.3 128.6 L371.3 137.2 L377.4 145.8 L383.5 154.3 L389.6 162.9 L395.3 171.8 L400.4 181.0" fill="none" stroke="url(#gB_lite)" stroke-width="1.9" opacity="0.71" stroke-linecap="round"/><path d="M332.6 20.1 L332.8 30.2 L333.3 40.4 L335.3 50.6 L338.3 60.6 L342.1 70.4 L346.2 80.0 L350.6 89.5 L355.2 98.9 L359.8 108.3 L364.8 117.4 L370.3 126.2 L375.9 134.9 L381.7 143.5 L387.5 152.1 L393.3 160.7 L398.7 169.6 L403.6 178.8 L407.6 188.5 L411.3 198.3" fill="none" stroke="url(#gB_dark)" stroke-width="1.8" opacity="0.37" stroke-linecap="round"/><path d="M341.7 32.8 L343.6 42.8 L346.4 52.6 L350.0 62.2 L354.1 71.6 L358.4 80.9 L362.9 90.2 L367.4 99.4 L372.0 108.5 L376.9 117.4 L382.1 126.1 L387.3 134.8 L392.7 143.4 L398.2 152.0 L403.4 160.7 L408.2 169.7 L412.1 179.0 L415.6 188.6 L420.0 197.7" fill="none" stroke="url(#gB_mid)" stroke-width="2.8" opacity="0.51" stroke-linecap="round"/><path d="M317.8 44.7 L319.4 55.4 L322.5 65.7 L326.4 75.8 L330.8 85.7 L335.5 95.4 L340.4 105.1 L345.6 114.6 L351.2 123.7 L357.6 132.3 L364.0 140.8 L370.6 149.3 L377.2 157.8 L383.7 166.4 L389.8 175.2 L395.3 184.4" fill="none" stroke="url(#gB_mid)" stroke-width="1.8" opacity="0.65" stroke-linecap="round"/><path d="M314.3 40.4 L314.4 51.2 L316.6 61.9 L320.1 72.2 L324.1 82.4 L328.6 92.3 L333.3 102.1 L338.3 111.8 L343.6 121.3 L349.7 130.3 L356.4 138.7 L363.0 147.3 L369.8 155.8 L376.5 164.3 L382.9 173.1 L389.0 182.1 L394.3 191.6 L398.5 201.7" fill="none" stroke="url(#gB_dark)" stroke-width="2.2" opacity="0.57" stroke-linecap="round"/><path d="M348.5 15.6 L350.5 25.3 L352.5 35.0 L355.1 44.6 L358.3 54.1 L362.0 63.5 L366.1 72.6 L370.3 81.8 L374.5 90.9 L378.7 99.9 L383.1 109.0 L387.6 117.9 L392.2 126.7 L397.0 135.4 L402.0 144.1 L406.9 152.8 L411.6 161.7 L415.5 170.8" fill="none" stroke="url(#gB_mid)" stroke-width="2.2" opacity="0.77" stroke-linecap="round"/><path d="M338.3 33.7 L339.8 43.8 L342.5 53.8 L345.9 63.6 L349.9 73.1 L354.1 82.6 L358.5 91.9 L362.9 101.3 L367.6 110.5 L372.6 119.5 L377.9 128.2 L383.2 136.9 L388.8 145.5 L394.4 154.2 L399.8 162.9 L404.7 172.0 L408.8 181.4" fill="none" stroke="url(#gB_dark)" stroke-width="2.0" opacity="0.57" stroke-linecap="round"/><path d="M326.5 26.9 L326.2 37.1 L327.2 47.5 L329.8 57.8 L333.4 67.8 L337.5 77.5 L342.1 87.2 L346.8 96.7 L351.6 106.1 L356.7 115.4 L362.4 124.3 L368.4 132.8 L374.5 141.4 L380.7 149.9 L386.9 158.4 L392.8 167.1 L398.3 176.1 L403.0 185.5 L406.9 195.3 L410.9 205.0" fill="none" stroke="url(#gB_lite)" stroke-width="1.9" opacity="0.37" stroke-linecap="round"/><path d="M337.0 34.1 L338.4 44.2 L341.1 54.3 L344.6 64.0 L348.6 73.6 L352.9 83.0 L357.3 92.4 L361.8 101.7 L366.5 111.0 L371.6 119.9 L377.0 128.6 L382.5 137.3 L388.1 145.9 L393.8 154.5 L399.2 163.3 L404.2 172.3 L408.4 181.7 L412.0 191.4 L416.2 200.8" fill="none" stroke="url(#gB_dark)" stroke-width="1.3" opacity="0.45" stroke-linecap="round"/><path d="M302.3 28.8 L299.4 39.5 L297.4 50.5 L298.5 61.6 L301.6 72.5 L305.7 83.0 L310.5 93.2 L315.6 103.3 L320.9 113.2 L326.7 122.9 L333.1 132.1 L340.6 140.5 L348.2 148.8 L355.8 157.1 L363.4 165.4 L370.8 173.9 L377.7 182.7 L384.2 191.9 L389.7 201.6" fill="none" stroke="url(#gB_dark)" stroke-width="2.9" opacity="0.45" stroke-linecap="round"/><path d="M323.1 27.9 L322.5 38.2 L323.3 48.6 L325.8 59.0 L329.4 69.1 L333.6 78.9 L338.2 88.6 L343.0 98.2 L347.9 107.7 L353.1 117.0 L359.0 125.9 L365.3 134.4 L371.5 143.0 L377.9 151.4 L384.2 159.9 L390.3 168.6 L396.0 177.6 L400.9 187.0 L404.9 196.8 L408.8 206.7" fill="none" stroke="url(#gB_lite)" stroke-width="2.1" opacity="0.37" stroke-linecap="round"/><path d="M338.3 39.0 L340.4 49.1 L343.4 59.0 L347.2 68.6 L351.3 78.1 L355.6 87.5 L360.0 96.9 L364.6 106.2 L369.4 115.3 L374.6 124.1 L380.0 132.9 L385.5 141.5 L391.1 150.1 L396.6 158.8 L401.9 167.7 L406.4 176.9" fill="none" stroke="url(#gB_dark)" stroke-width="2.8" opacity="0.74" stroke-linecap="round"/><path d="M301.8 49.2 L302.9 60.3 L305.8 71.1 L309.8 81.6 L314.3 91.8 L319.2 101.9 L324.3 111.8 L329.8 121.5 L336.0 130.8 L343.2 139.3 L350.5 147.6 L357.8 156.0 L365.2 164.4 L372.4 172.9 L379.1 181.8 L385.4 191.0" fill="none" stroke="url(#gB_lite)" stroke-width="3.2" opacity="0.47" stroke-linecap="round"/><path d="M310.8 36.3 L309.6 47.0 L310.8 57.9 L313.8 68.5 L317.7 78.8 L322.1 88.9 L326.9 98.8 L331.9 108.6 L337.2 118.3 L343.1 127.5 L349.9 136.0 L356.8 144.5 L363.7 153.0 L370.7 161.4 L377.5 169.9 L384.0 178.8 L389.9 188.0 L394.9 197.8 L398.6 208.2" fill="none" stroke="url(#gB_lite)" stroke-width="2.2" opacity="0.58" stroke-linecap="round"/><path d="M320.6 33.6 L320.0 44.1 L321.5 54.7 L324.4 65.1 L328.1 75.2 L332.3 85.1 L336.9 94.9 L341.6 104.6 L346.5 114.2 L351.9 123.4 L358.1 132.1 L364.4 140.7 L370.8 149.2 L377.3 157.7 L383.6 166.4 L389.6 175.3 L395.1 184.6" fill="none" stroke="url(#gB_dark)" stroke-width="2.8" opacity="0.74" stroke-linecap="round"/><path d="M312.4 25.9 L310.4 36.4 L309.1 47.2 L310.3 58.1 L313.2 68.7 L317.1 79.0 L321.5 89.1 L326.2 99.1 L331.2 108.9 L336.5 118.6 L342.4 127.8 L349.2 136.4 L356.1 144.8 L363.0 153.3 L370.1 161.7 L376.9 170.3 L383.3 179.2 L389.3 188.4" fill="none" stroke="url(#gB_mid)" stroke-width="2.4" opacity="0.77" stroke-linecap="round"/><path d="M335.0 24.5 L335.5 34.5 L337.0 44.7 L339.6 54.7 L343.2 64.5 L347.2 74.1 L351.6 83.5 L356.1 92.9 L360.7 102.2 L365.5 111.4 L370.7 120.4 L376.2 129.0 L381.7 137.7 L387.4 146.3 L393.2 154.9 L398.7 163.6 L403.7 172.6 L408.0 182.0" fill="none" stroke="url(#gB_lite)" stroke-width="1.4" opacity="0.76" stroke-linecap="round"/><path d="M329.0 31.2 L329.1 41.5 L330.8 51.9 L333.7 62.1 L337.4 72.0 L341.5 81.7 L345.9 91.4 L350.4 100.9 L355.1 110.4 L360.2 119.6 L365.8 128.3 L371.6 137.0 L377.6 145.7 L383.6 154.2 L389.6 162.9 L395.2 171.9 L400.2 181.1" fill="none" stroke="url(#gB_mid)" stroke-width="1.1" opacity="0.78" stroke-linecap="round"/><path d="M344.9 21.7 L346.1 31.6 L347.9 41.5 L350.6 51.3 L353.9 60.9 L357.6 70.4 L361.6 79.7 L365.8 89.0 L370.0 98.3 L374.3 107.5 L378.9 116.5 L383.7 125.3 L388.6 134.2 L393.7 142.9 L398.9 151.6 L404.0 160.4 L408.5 169.5 L412.3 178.9 L415.7 188.6 L419.9 197.8" fill="none" stroke="url(#gB_dark)" stroke-width="1.6" opacity="0.67" stroke-linecap="round"/><path d="M344.9 31.9 L346.8 41.8 L349.6 51.6 L353.0 61.2 L357.0 70.6 L361.2 79.9 L365.5 89.1 L369.8 98.3 L374.3 107.5 L379.0 116.4 L383.9 125.2 L388.9 134.0 L394.2 142.7 L399.4 151.3 L404.5 160.1 L409.2 169.1 L413.0 178.4 L416.4 188.0" fill="none" stroke="url(#gB_dark)" stroke-width="1.4" opacity="0.44" stroke-linecap="round"/><path d="M308.1 27.1 L305.8 37.7 L304.3 48.5 L305.7 59.5 L308.8 70.1 L312.9 80.5 L317.5 90.6 L322.5 100.5 L327.8 110.3 L333.4 119.9 L339.6 129.1 L346.7 137.6 L353.9 145.9 L361.2 154.3 L368.4 162.6 L375.5 171.1 L382.2 179.9 L388.3 189.1" fill="none" stroke="url(#gB_lite)" stroke-width="2.9" opacity="0.38" stroke-linecap="round"/><path d="M331.9 40.8 L333.8 51.0 L336.8 61.1 L340.5 70.9 L344.6 80.6 L348.9 90.1 L353.5 99.6 L358.1 109.0 L363.1 118.2 L368.7 127.0 L374.3 135.7 L380.1 144.3 L386.1 152.9 L391.9 161.6 L397.4 170.5 L402.2 179.7 L406.3 189.4 L410.0 199.3" fill="none" stroke="url(#gB_lite)" stroke-width="2.1" opacity="0.65" stroke-linecap="round"/><path d="M336.1 24.2 L336.6 34.2 L338.0 44.4 L340.5 54.4 L344.0 64.2 L347.9 73.8 L352.1 83.3 L356.5 92.8 L361.0 102.1 L365.6 111.4 L370.7 120.3 L376.1 129.1 L381.5 137.8 L387.2 146.4 L392.8 155.0 L398.3 163.8 L403.3 172.9 L407.5 182.3 L411.1 192.0" fill="none" stroke="url(#gB_lite)" stroke-width="1.3" opacity="0.76" stroke-linecap="round"/><path d="M309.6 26.7 L307.3 37.3 L305.7 48.1 L306.8 59.2 L309.7 69.9 L313.5 80.3 L317.9 90.4 L322.7 100.5 L327.7 110.4 L333.1 120.1 L339.1 129.4 L346.0 137.9 L353.1 146.3 L360.2 154.8 L367.4 163.2 L374.4 171.8 L381.0 180.7 L387.1 189.9" fill="none" stroke="url(#gB_dark)" stroke-width="3.1" opacity="0.54" stroke-linecap="round"/><path d="M335.6 34.5 L336.9 44.7 L339.5 54.8 L342.9 64.6 L346.8 74.2 L351.0 83.7 L355.4 93.2 L359.9 102.6 L364.6 111.9 L369.7 120.8 L375.1 129.5 L380.6 138.3 L386.3 146.9 L392.0 155.5 L397.5 164.3 L402.6 173.3 L406.8 182.8 L410.5 192.5 L414.5 202.1" fill="none" stroke="url(#gB_dark)" stroke-width="1.3" opacity="0.38" stroke-linecap="round"/><path d="M338.0 33.8 L339.4 44.0 L341.8 54.0 L345.2 63.8 L349.0 73.5 L353.1 83.0 L357.4 92.4 L361.8 101.8 L366.3 111.1 L371.3 120.1 L376.5 128.8 L381.9 137.6 L387.4 146.3 L393.0 154.9 L398.4 163.8 L403.4 172.8 L407.5 182.3" fill="none" stroke="url(#gB_lite)" stroke-width="2.9" opacity="0.71" stroke-linecap="round"/><path d="M338.3 28.6 L339.4 38.7 L341.6 48.7 L344.8 58.5 L348.6 68.1 L352.8 77.6 L357.2 86.9 L361.7 96.2 L366.3 105.4 L371.1 114.5 L376.3 123.3 L381.6 132.0 L387.1 140.7 L392.7 149.2 L398.2 157.9 L403.4 166.7 L407.9 175.9 L411.6 185.4" fill="none" stroke="url(#gB_lite)" stroke-width="2.2" opacity="0.45" stroke-linecap="round"/><path d="M352.1 19.7 L354.2 29.3 L356.6 39.0 L359.5 48.5 L363.0 57.9 L366.8 67.1 L370.9 76.2 L375.0 85.2 L379.2 94.3 L383.3 103.4 L387.6 112.3 L392.0 121.2 L396.6 130.1 L401.3 138.8 L406.2 147.5 L410.8 156.3 L415.0 165.3 L418.4 174.6 L421.5 184.0" fill="none" stroke="url(#gB_dark)" stroke-width="1.7" opacity="0.42" stroke-linecap="round"/><path d="M314.3 25.3 L312.6 35.8 L311.6 46.5 L313.1 57.3 L316.1 67.8 L320.1 78.0 L324.6 88.0 L329.5 97.8 L334.5 107.5 L339.8 117.1 L345.7 126.3 L352.4 134.8 L359.2 143.3 L366.1 151.7 L373.0 160.1 L379.7 168.6 L386.1 177.5 L391.9 186.7" fill="none" stroke="url(#gB_dark)" stroke-width="1.3" opacity="0.43" stroke-linecap="round"/><path d="M316.7 24.7 L315.2 35.1 L314.3 45.7 L315.7 56.5 L318.7 66.9 L322.6 77.1 L327.0 87.1 L331.8 96.9 L336.7 106.6 L341.9 116.2 L347.6 125.4 L354.1 134.0 L360.8 142.5 L367.5 151.0 L374.3 159.4 L380.9 168.0 L387.1 176.9 L392.8 186.1 L397.6 195.8 L401.4 206.0 L405.0 216.2" fill="none" stroke="url(#gB_lite)" stroke-width="1.3" opacity="0.77" stroke-linecap="round"/><path d="M358.7 33.2 L361.5 42.7 L364.8 52.0 L368.6 61.2 L372.6 70.2 L376.8 79.2 L381.0 88.2 L385.1 97.1 L389.3 106.1 L393.5 115.0 L397.8 123.9 L402.3 132.7 L407.0 141.4 L411.6 150.1 L416.0 158.9 L419.6 168.0" fill="none" stroke="url(#gB_lite)" stroke-width="2.1" opacity="0.36" stroke-linecap="round"/><path d="M341.8 17.5 L343.1 27.3 L344.6 37.2 L347.0 47.1 L350.2 56.8 L354.0 66.2 L358.2 75.6 L362.6 84.8 L367.0 94.0 L371.5 103.1 L376.2 112.2 L381.1 121.0 L386.2 129.7 L391.4 138.4 L396.7 147.0 L402.0 155.7 L407.0 164.5 L411.3 173.7" fill="none" stroke="url(#gB_dark)" stroke-width="1.6" opacity="0.49" stroke-linecap="round"/><path d="M330.8 25.7 L330.8 35.8 L332.1 46.1 L334.7 56.2 L338.3 66.1 L342.4 75.8 L346.8 85.3 L351.5 94.8 L356.2 104.2 L361.1 113.4 L366.6 122.3 L372.3 130.9 L378.1 139.6 L384.1 148.1 L390.0 156.6 L395.7 165.4 L401.0 174.3 L405.5 183.7" fill="none" stroke="url(#gB_dark)" stroke-width="1.6" opacity="0.75" stroke-linecap="round"/><path d="M346.9 26.2 L348.5 36.1 L350.8 45.9 L353.8 55.6 L357.4 65.1 L361.4 74.4 L365.5 83.7 L369.6 92.9 L373.8 102.1 L378.2 111.2 L382.9 120.1 L387.7 129.0 L392.6 137.8 L397.7 146.5 L402.8 155.2 L407.6 164.1 L411.7 173.3" fill="none" stroke="url(#gB_mid)" stroke-width="2.3" opacity="0.79" stroke-linecap="round"/><path d="M315.9 34.9 L315.2 45.4 L316.9 56.1 L320.1 66.5 L324.1 76.6 L328.7 86.5 L333.6 96.2 L338.6 105.8 L343.9 115.3 L349.7 124.4 L356.3 133.0 L362.9 141.4 L369.6 149.8 L376.4 158.2 L383.0 166.8 L389.2 175.6 L394.8 184.7" fill="none" stroke="url(#gB_lite)" stroke-width="1.7" opacity="0.55" stroke-linecap="round"/><path d="M311.0 31.3 L309.1 41.9 L309.2 52.7 L311.5 63.5 L315.2 73.9 L319.5 84.0 L324.3 94.0 L329.3 103.8 L334.5 113.4 L340.2 122.9 L346.7 131.7 L353.7 140.1 L360.6 148.5 L367.7 156.9 L374.7 165.3 L381.4 174.0 L387.7 183.0" fill="none" stroke="url(#gB_lite)" stroke-width="2.8" opacity="0.68" stroke-linecap="round"/><path d="M323.5 22.7 L322.8 33.0 L322.6 43.4 L324.4 53.9 L327.5 64.1 L331.4 74.1 L335.8 83.8 L340.5 93.5 L345.3 103.0 L350.4 112.5 L355.8 121.6 L362.0 130.2 L368.2 138.8 L374.5 147.3 L380.9 155.7 L387.1 164.3 L393.0 173.2 L398.3 182.4 L402.8 192.0 L406.6 202.0 L410.6 211.8" fill="none" stroke="url(#gB_lite)" stroke-width="2.3" opacity="0.56" stroke-linecap="round"/><path d="M299.9 29.5 L296.7 40.3 L294.3 51.3 L295.3 62.6 L298.3 73.6 L302.3 84.2 L307.0 94.5 L312.1 104.6 L317.4 114.7 L323.2 124.4 L329.7 133.7 L337.3 142.1 L345.0 150.4 L352.8 158.7 L360.5 167.0 L368.0 175.5 L375.1 184.3 L381.7 193.5 L387.4 203.4" fill="none" stroke="url(#gB_lite)" stroke-width="1.9" opacity="0.73" stroke-linecap="round"/><path d="M300.9 34.2 L298.0 45.0 L297.5 56.1 L299.7 67.2 L303.4 77.8 L307.8 88.2 L312.7 98.4 L318.0 108.4 L323.5 118.2 L329.5 127.7 L336.5 136.5 L344.2 144.7 L351.7 153.1 L359.3 161.4 L366.9 169.7 L374.0 178.4 L380.8 187.4 L386.9 196.8" fill="none" stroke="url(#gB_lite)" stroke-width="2.5" opacity="0.39" stroke-linecap="round"/><path d="M293.3 46.3 L292.5 57.5 L294.7 68.7 L298.3 79.5 L302.8 90.0 L307.8 100.2 L313.1 110.3 L318.7 120.3 L324.8 129.9 L332.0 138.6 L340.0 146.8 L347.7 155.1 L355.6 163.4 L363.4 171.7 L370.7 180.4 L377.7 189.4 L384.0 198.8" fill="none" stroke="url(#gB_lite)" stroke-width="1.6" opacity="0.40" stroke-linecap="round"/><path d="M309.3 36.7 L307.9 47.5 L309.1 58.4 L312.0 69.1 L315.9 79.4 L320.3 89.6 L325.0 99.5 L330.0 109.4 L335.3 119.1 L341.3 128.4 L348.1 136.9 L355.1 145.4 L362.1 153.8 L369.1 162.2 L376.0 170.8 L382.5 179.7 L388.5 188.9 L393.6 198.8 L397.3 209.2" fill="none" stroke="url(#gB_mid)" stroke-width="1.3" opacity="0.56" stroke-linecap="round"/><path d="M303.0 48.9 L304.2 59.9 L307.2 70.6 L311.2 81.1 L315.8 91.2 L320.8 101.2 L325.9 111.1 L331.5 120.8 L337.7 130.0 L344.8 138.5 L352.1 146.9 L359.3 155.2 L366.7 163.6 L373.8 172.1 L380.5 181.0 L386.7 190.2 L392.0 199.9" fill="none" stroke="url(#gB_lite)" stroke-width="3.1" opacity="0.48" stroke-linecap="round"/><path d="M329.1 26.2 L329.0 36.3 L330.2 46.6 L332.9 56.8 L336.6 66.7 L340.7 76.4 L345.3 85.9 L350.0 95.4 L354.8 104.8 L359.8 114.0 L365.4 122.9 L371.3 131.4 L377.2 140.0 L383.2 148.5 L389.3 157.1 L395.1 165.8 L400.4 174.7 L405.0 184.1 L408.8 193.8 L412.9 203.4" fill="none" stroke="url(#gB_mid)" stroke-width="2.1" opacity="0.75" stroke-linecap="round"/><path d="M293.9 46.1 L293.3 57.3 L295.5 68.5 L299.3 79.2 L303.8 89.6 L308.9 99.8 L314.2 109.9 L319.9 119.7 L326.0 129.3 L333.3 138.1 L341.2 146.2 L349.0 154.5 L356.8 162.7 L364.6 171.0 L371.9 179.7 L378.9 188.6 L385.1 198.1 L389.9 208.3 L393.2 219.1" fill="none" stroke="url(#gB_mid)" stroke-width="1.5" opacity="0.68" stroke-linecap="round"/></g><path d="M298.0 30.0 L296.4 35.5 L294.6 40.9 L293.0 46.3 L292.1 52.0 L292.2 57.7 L292.9 63.3 L294.2 68.9 L295.9 74.3 L297.9 79.7 L300.0 85.0 L302.3 90.2 L304.7 95.3 L307.2 100.5 L309.8 105.5 L312.5 110.6 L315.2 115.6 L318.0 120.5 L321.0 125.4 L324.1 130.2 L327.6 134.7 L331.4 139.0 L335.3 143.0 L339.3 147.1 L343.2 151.3 L347.1 155.5 L351.0 159.6 L355.0 163.7 L358.9 167.9 L362.7 172.1 L366.5 176.4 L370.1 180.8 L373.7 185.2 L377.1 189.8 L380.4 194.4 L383.5 199.2 L386.1 204.3 L388.2 209.6 L389.9 215.0 L391.4 220.5 L393.0 226.0" fill="none" stroke="url(#gB_dark)" stroke-width="9" opacity="0.6" filter="url(#b2)"/><path d="M354.0 14.0 L355.3 18.8 L356.5 23.6 L357.7 28.4 L358.9 33.2 L360.2 37.9 L361.6 42.7 L363.1 47.4 L364.8 52.1 L366.5 56.7 L368.4 61.3 L370.3 65.8 L372.3 70.4 L374.3 74.9 L376.3 79.4 L378.3 83.9 L380.3 88.4 L382.3 93.0 L384.3 97.5 L386.3 102.0 L388.4 106.5 L390.4 111.0 L392.5 115.5 L394.6 120.0 L396.7 124.4 L398.9 128.9 L401.2 133.3 L403.5 137.6 L405.8 142.0 L408.2 146.4 L410.5 150.7 L412.7 155.2 L414.8 159.6 L416.7 164.2 L418.4 168.8 L419.9 173.5 L421.4 178.3 L423.0 183.0 L425.1 187.4 L427.6 191.7 L430.0 196.0" fill="none" stroke="url(#gB_dark)" stroke-width="9" opacity="0.6" filter="url(#b2)"/></g>
<path d="M353 22 Q366 60 381 92 T404 140" fill="none" stroke="url(#gPale)" stroke-width="5" filter="url(#b1)"/>
<path d="M437 24 Q440 70 442 128" fill="none" stroke="url(#gPale)" stroke-width="13" opacity="0.6" filter="url(#b2)"/>
<path d="M408 24 Q416 70 428 128" fill="none" stroke="url(#gPale)" stroke-width="4" opacity="0.6" filter="url(#b1)"/>
<g clip-path="url(#cE)"><path d="M480.0 12.0 L478.2 16.2 L476.4 20.4 L474.6 24.6 L472.8 28.8 L471.0 33.0 L469.3 37.2 L467.5 41.4 L465.8 45.6 L464.1 49.9 L462.4 54.1 L460.7 58.3 L459.0 62.6 L457.3 66.8 L455.7 71.1 L454.1 75.4 L452.6 79.7 L451.3 84.1 L450.1 88.5 L449.0 92.9 L448.1 97.4 L447.5 101.9 L447.2 106.4 L447.0 111.0 L447.0 115.6 L447.2 120.1 L447.5 124.7 L447.9 129.2 L448.4 133.8 L448.8 138.3 L449.3 142.9 L449.8 147.4 L450.4 151.9 L451.0 156.4 L451.7 161.0 L452.3 165.5 L453.0 170.0 L453.7 174.5 L454.4 179.0 L455.2 183.5 L456.0 188.0 L499.0 196.0 L498.9 191.5 L498.8 187.1 L498.9 182.6 L499.1 178.2 L499.4 173.7 L499.8 169.3 L500.3 164.8 L500.9 160.4 L501.8 156.0 L502.9 151.7 L504.3 147.5 L505.9 143.3 L507.6 139.2 L509.2 135.0 L510.7 130.8 L512.1 126.6 L513.5 122.4 L514.9 118.1 L516.2 113.9 L517.5 109.6 L518.8 105.3 L520.0 101.0 L521.1 96.7 L522.1 92.4 L523.0 88.0 L523.9 83.6 L524.7 79.2 L525.5 74.8 L526.2 70.4 L527.0 66.0 L527.7 61.7 L528.5 57.3 L529.2 52.9 L529.9 48.5 L530.6 44.0 L531.3 39.6 L532.0 35.2 L532.6 30.8 L533.3 26.4 L534.0 22.0Z" fill="url(#gE_mid)"/><g filter="url(#b05)"><path d="M481.3 21.3 L477.8 29.7 L474.3 38.1 L470.9 46.6 L467.6 55.1 L464.2 63.5 L461.0 72.1 L457.9 80.7 L455.2 89.4 L453.2 98.3 L452.0 107.3 L451.5 116.3 L451.7 125.4 L452.1 134.4 L452.7 143.4 L453.6 152.4 L454.6 161.5" fill="none" stroke="url(#gE_dark)" stroke-width="1.9" opacity="0.58" stroke-linecap="round"/><path d="M495.8 14.9 L492.9 23.5 L490.1 32.0 L487.3 40.5 L484.5 49.1 L481.7 57.7 L479.0 66.3 L476.4 74.9 L473.8 83.6 L471.5 92.3 L469.5 101.1 L468.1 110.1 L467.3 119.0 L466.8 127.9 L466.5 136.8 L466.2 145.7 L466.5 154.6 L467.0 163.6 L467.8 172.6 L468.7 181.6" fill="none" stroke="url(#gE_mid)" stroke-width="1.5" opacity="0.46" stroke-linecap="round"/><path d="M521.8 19.7 L520.0 28.5 L518.1 37.2 L516.3 45.9 L514.4 54.6 L512.4 63.4 L510.5 72.1 L508.5 80.8 L506.5 89.5 L504.3 98.2 L502.0 106.9 L499.7 115.5 L497.5 124.1 L495.4 132.7 L493.0 141.2 L490.9 149.7 L489.6 158.5 L489.0 167.4 L488.8 176.3 L488.8 185.3 L489.4 194.2" fill="none" stroke="url(#gE_lite)" stroke-width="1.2" opacity="0.50" stroke-linecap="round"/><path d="M483.6 17.2 L480.2 25.6 L476.7 34.1 L473.3 42.5 L470.0 51.0 L466.7 59.5 L463.5 68.0 L460.3 76.5 L457.5 85.2 L455.1 94.0 L453.5 102.9 L452.7 112.0 L452.5 121.0 L452.9 130.1 L453.4 139.1 L454.0 148.1 L454.9 157.1 L456.0 166.1 L457.2 175.1 L458.5 184.1" fill="none" stroke="url(#gE_lite)" stroke-width="1.8" opacity="0.71" stroke-linecap="round"/><path d="M504.9 16.6 L502.5 25.2 L500.0 33.8 L497.6 42.5 L495.2 51.1 L492.8 59.7 L490.4 68.4 L488.1 77.0 L485.7 85.7 L483.5 94.5 L481.5 103.3 L479.8 112.1 L478.5 120.9 L477.5 129.7 L476.5 138.4 L475.6 147.2 L475.3 156.1 L475.4 165.1 L475.9 174.0" fill="none" stroke="url(#gE_dark)" stroke-width="2.7" opacity="0.36" stroke-linecap="round"/><path d="M518.9 37.3 L517.0 46.1 L515.0 54.8 L513.0 63.5 L511.0 72.2 L508.9 80.9 L506.7 89.6 L504.4 98.2 L502.0 106.9 L499.6 115.5 L497.3 124.1 L495.1 132.7 L492.6 141.1 L490.5 149.7 L489.1 158.4 L488.5 167.3 L488.2 176.2 L488.2 185.2" fill="none" stroke="url(#gE_lite)" stroke-width="1.3" opacity="0.50" stroke-linecap="round"/><path d="M486.0 17.6 L482.6 26.1 L479.3 34.5 L475.9 43.0 L472.7 51.5 L469.5 60.0 L466.3 68.5 L463.2 77.0 L460.4 85.7 L458.0 94.5 L456.3 103.4 L455.4 112.4 L455.1 121.5 L455.3 130.5 L455.6 139.4 L456.1 148.4 L456.9 157.4 L457.9 166.5 L459.0 175.5 L460.3 184.4" fill="none" stroke="url(#gE_lite)" stroke-width="2.6" opacity="0.38" stroke-linecap="round"/><path d="M480.2 12.0 L476.7 20.4 L473.2 28.9 L469.7 37.3 L466.4 45.7 L463.1 54.2 L459.8 62.7 L456.7 71.3 L453.8 79.9 L451.3 88.7 L449.5 97.6 L448.6 106.7 L448.5 115.8 L449.0 124.9 L449.9 134.0 L450.8 143.1 L451.9 152.2 L453.2 161.2 L454.5 170.3" fill="none" stroke="url(#gE_mid)" stroke-width="2.7" opacity="0.76" stroke-linecap="round"/><path d="M519.6 23.9 L517.7 32.6 L515.9 41.3 L514.0 50.0 L512.0 58.7 L510.1 67.5 L508.2 76.2 L506.1 84.9 L504.0 93.6 L501.8 102.3 L499.5 111.0 L497.4 119.6 L495.3 128.3 L493.2 136.8 L491.0 145.3 L489.3 154.0 L488.5 162.8 L488.2 171.7 L488.1 180.7 L488.5 189.6" fill="none" stroke="url(#gE_dark)" stroke-width="2.9" opacity="0.70" stroke-linecap="round"/><path d="M481.6 21.4 L478.3 29.8 L475.0 38.3 L471.7 46.7 L468.6 55.3 L465.4 63.8 L462.4 72.3 L459.5 81.0 L457.1 89.7 L455.2 98.6 L454.1 107.6 L453.7 116.7 L453.9 125.8 L454.4 134.8 L455.0 143.8 L455.8 152.8 L456.9 161.9 L458.0 170.9 L459.3 179.9" fill="none" stroke="url(#gE_lite)" stroke-width="2.8" opacity="0.57" stroke-linecap="round"/><path d="M519.8 28.4 L518.0 37.2 L516.1 45.9 L514.2 54.6 L512.2 63.3 L510.3 72.0 L508.3 80.8 L506.2 89.5 L504.0 98.2 L501.7 106.8 L499.4 115.5 L497.3 124.1 L495.1 132.7 L492.8 141.2 L490.7 149.7 L489.4 158.5 L488.8 167.4 L488.6 176.3 L488.7 185.2 L489.2 194.2" fill="none" stroke="url(#gE_lite)" stroke-width="3.0" opacity="0.69" stroke-linecap="round"/><path d="M521.5 37.8 L519.8 46.6 L518.2 55.3 L516.4 64.1 L514.7 72.9 L513.0 81.6 L511.1 90.4 L509.0 99.1 L506.8 107.7 L504.5 116.3 L502.2 124.9 L499.9 133.5 L497.4 141.9 L495.0 150.4 L493.6 159.2 L492.9 168.1" fill="none" stroke="url(#gE_dark)" stroke-width="1.8" opacity="0.64" stroke-linecap="round"/><path d="M527.6 39.0 L526.1 47.7 L524.6 56.5 L522.9 65.3 L521.3 74.1 L519.6 82.8 L517.8 91.6 L515.6 100.3 L513.2 108.9 L510.7 117.4 L508.1 125.9 L505.4 134.4 L502.4 142.8 L499.6 151.2 L497.8 159.9 L496.9 168.8 L496.3 177.7 L496.1 186.6" fill="none" stroke="url(#gE_dark)" stroke-width="1.1" opacity="0.70" stroke-linecap="round"/><path d="M522.4 24.4 L520.7 33.1 L519.0 41.9 L517.2 50.6 L515.4 59.4 L513.6 68.1 L511.8 76.9 L509.9 85.6 L507.9 94.3 L505.7 103.0 L503.5 111.7 L501.2 120.3 L499.0 128.9 L496.7 137.4 L494.3 145.8 L492.4 154.5 L491.5 163.3 L491.1 172.3" fill="none" stroke="url(#gE_lite)" stroke-width="2.3" opacity="0.60" stroke-linecap="round"/><path d="M527.4 20.8 L525.8 29.5 L524.2 38.3 L522.5 47.1 L520.9 55.8 L519.2 64.6 L517.4 73.4 L515.7 82.1 L513.7 90.8 L511.6 99.5 L509.3 108.2 L506.8 116.7 L504.4 125.3 L501.9 133.8 L499.1 142.2 L496.6 150.7 L495.0 159.4 L494.2 168.3 L493.8 177.2" fill="none" stroke="url(#gE_dark)" stroke-width="2.7" opacity="0.66" stroke-linecap="round"/><path d="M528.6 34.6 L527.2 43.4 L525.8 52.2 L524.3 61.0 L522.8 69.8 L521.3 78.6 L519.7 87.4 L517.8 96.1 L515.7 104.8 L513.3 113.4 L510.7 121.9 L508.2 130.4 L505.3 138.8 L502.3 147.2 L500.0 155.7 L498.7 164.6" fill="none" stroke="url(#gE_lite)" stroke-width="2.4" opacity="0.73" stroke-linecap="round"/><path d="M494.1 28.2 L491.3 36.7 L488.5 45.3 L485.8 53.9 L483.0 62.5 L480.3 71.1 L477.7 79.7 L475.2 88.4 L472.9 97.2 L471.1 106.0 L469.8 114.9 L469.0 123.8 L468.5 132.7 L468.0 141.5 L467.8 150.4 L468.1 159.3 L468.6 168.3 L469.3 177.3 L470.4 186.3" fill="none" stroke="url(#gE_lite)" stroke-width="1.0" opacity="0.57" stroke-linecap="round"/><path d="M475.6 24.8 L471.9 33.2 L468.3 41.6 L464.7 50.0 L461.3 58.4 L457.8 66.9 L454.5 75.5 L451.5 84.1 L449.1 92.9 L447.5 101.9 L446.9 111.0 L446.9 120.1 L447.6 129.2 L448.4 138.2 L449.4 147.3 L450.5 156.3 L451.7 165.4 L453.0 174.4" fill="none" stroke="url(#gE_dark)" stroke-width="2.3" opacity="0.56" stroke-linecap="round"/><path d="M495.3 23.9 L492.4 32.4 L489.4 40.9 L486.5 49.5 L483.7 58.0 L480.8 66.6 L478.0 75.2 L475.3 83.8 L472.8 92.5 L470.6 101.3 L469.0 110.2 L467.9 119.1 L467.2 128.0 L466.7 136.8 L466.3 145.7 L466.4 154.6 L466.8 163.6 L467.4 172.6" fill="none" stroke="url(#gE_dark)" stroke-width="2.4" opacity="0.48" stroke-linecap="round"/><path d="M479.7 25.5 L476.2 34.0 L472.8 42.4 L469.5 50.9 L466.2 59.4 L462.9 67.9 L459.7 76.4 L456.9 85.1 L454.5 93.9 L452.9 102.8 L452.1 111.9 L452.0 120.9 L452.4 130.0 L452.9 139.0 L453.6 148.0 L454.6 157.0 L455.7 166.1 L456.8 175.1" fill="none" stroke="url(#gE_mid)" stroke-width="2.8" opacity="0.40" stroke-linecap="round"/><path d="M515.8 23.2 L513.7 31.8 L511.5 40.5 L509.3 49.2 L507.0 57.8 L504.8 66.5 L502.5 75.2 L500.2 83.8 L497.8 92.5 L495.4 101.2 L493.1 109.8 L490.9 118.5 L489.0 127.2 L487.1 135.8 L485.1 144.3 L483.7 153.0 L483.1 161.9 L482.9 170.8 L482.9 179.7" fill="none" stroke="url(#gE_lite)" stroke-width="1.7" opacity="0.42" stroke-linecap="round"/><path d="M482.6 30.6 L479.4 39.1 L476.2 47.6 L473.0 56.1 L469.9 64.6 L466.9 73.1 L464.0 81.8 L461.4 90.5 L459.4 99.4 L458.1 108.3 L457.4 117.3 L457.3 126.3 L457.5 135.3 L457.8 144.3 L458.4 153.3 L459.2 162.3 L460.2 171.3" fill="none" stroke="url(#gE_lite)" stroke-width="2.1" opacity="0.78" stroke-linecap="round"/><path d="M506.1 21.4 L503.8 30.0 L501.5 38.6 L499.1 47.3 L496.8 55.9 L494.5 64.6 L492.3 73.3 L490.0 82.0 L487.8 90.7 L485.6 99.4 L483.7 108.2 L482.2 117.0 L480.9 125.8 L479.7 134.5 L478.5 143.2 L477.7 152.0 L477.6 161.0 L477.8 169.9 L478.2 178.9 L479.0 187.9" fill="none" stroke="url(#gE_lite)" stroke-width="1.9" opacity="0.35" stroke-linecap="round"/><path d="M525.2 24.9 L523.5 33.6 L521.7 42.4 L519.8 51.1 L517.9 59.8 L516.0 68.6 L514.1 77.3 L512.1 86.0 L509.9 94.7 L507.5 103.3 L505.0 111.9 L502.5 120.5 L500.1 129.0 L497.5 137.5 L494.8 145.9 L492.8 154.5 L491.7 163.4 L491.1 172.3 L490.8 181.2" fill="none" stroke="url(#gE_mid)" stroke-width="2.8" opacity="0.46" stroke-linecap="round"/><path d="M493.4 32.6 L490.5 41.1 L487.6 49.7 L484.8 58.2 L481.9 66.8 L479.1 75.4 L476.3 84.0 L473.8 92.7 L471.6 101.5 L469.9 110.4 L468.7 119.3 L468.0 128.1 L467.4 136.9 L466.9 145.8 L466.9 154.7 L467.3 163.7 L467.9 172.6 L468.7 181.6" fill="none" stroke="url(#gE_mid)" stroke-width="2.5" opacity="0.41" stroke-linecap="round"/><path d="M517.8 32.6 L515.8 41.3 L513.8 50.0 L511.8 58.7 L509.7 67.4 L507.6 76.1 L505.5 84.8 L503.2 93.5 L500.9 102.1 L498.5 110.8 L496.3 119.4 L494.2 128.1 L492.0 136.6 L489.7 145.1 L488.0 153.8 L487.2 162.6" fill="none" stroke="url(#gE_mid)" stroke-width="2.4" opacity="0.55" stroke-linecap="round"/><path d="M529.5 34.8 L528.1 43.6 L526.5 52.4 L524.9 61.1 L523.3 69.9 L521.6 78.7 L519.8 87.4 L517.8 96.1 L515.5 104.7 L513.0 113.3 L510.3 121.8 L507.6 130.3 L504.6 138.7 L501.5 147.0 L499.1 155.6 L497.8 164.4 L497.0 173.3 L496.5 182.2" fill="none" stroke="url(#gE_dark)" stroke-width="3.0" opacity="0.57" stroke-linecap="round"/><path d="M499.6 15.6 L497.0 24.2 L494.3 32.8 L491.7 41.4 L489.0 49.9 L486.5 58.6 L483.9 67.2 L481.4 75.8 L479.0 84.5 L476.7 93.2 L474.7 102.1 L473.2 110.9 L472.2 119.8 L471.5 128.7 L470.8 137.5 L470.3 146.3 L470.3 155.3 L470.7 164.3 L471.4 173.2 L472.2 182.2 L473.3 191.2" fill="none" stroke="url(#gE_dark)" stroke-width="2.2" opacity="0.55" stroke-linecap="round"/><path d="M516.7 36.9 L514.9 45.7 L513.1 54.4 L511.2 63.1 L509.4 71.9 L507.5 80.6 L505.5 89.3 L503.4 98.1 L501.3 106.7 L499.1 115.4 L497.1 124.1 L495.1 132.7 L492.8 141.2 L490.8 149.7 L489.6 158.5 L489.1 167.4 L489.0 176.4 L489.1 185.3" fill="none" stroke="url(#gE_dark)" stroke-width="1.1" opacity="0.50" stroke-linecap="round"/><path d="M484.1 21.8 L481.0 30.3 L477.8 38.8 L474.8 47.3 L471.8 55.8 L468.8 64.4 L465.9 73.0 L463.2 81.6 L460.9 90.4 L459.0 99.3 L457.9 108.3 L457.5 117.4 L457.6 126.4 L457.9 135.4 L458.3 144.3 L459.0 153.4 L460.0 162.4" fill="none" stroke="url(#gE_lite)" stroke-width="2.3" opacity="0.61" stroke-linecap="round"/><path d="M475.6 29.3 L472.1 37.7 L468.6 46.2 L465.3 54.6 L462.0 63.1 L458.7 71.7 L455.7 80.3 L453.1 89.0 L451.1 97.9 L450.0 106.9 L449.7 116.0 L450.0 125.1 L450.7 134.2 L451.5 143.2 L452.4 152.3 L453.6 161.3 L454.8 170.3 L456.1 179.3" fill="none" stroke="url(#gE_lite)" stroke-width="2.4" opacity="0.46" stroke-linecap="round"/><path d="M518.0 37.2 L516.0 45.9 L513.9 54.6 L511.8 63.3 L509.7 71.9 L507.6 80.6 L505.3 89.3 L503.0 98.0 L500.5 106.6 L498.1 115.2 L495.8 123.9 L493.6 132.4 L491.3 140.9 L489.1 149.5 L487.8 158.2 L487.2 167.1 L487.0 176.0" fill="none" stroke="url(#gE_dark)" stroke-width="2.8" opacity="0.65" stroke-linecap="round"/><path d="M497.8 24.4 L495.2 32.9 L492.6 41.5 L490.0 50.1 L487.5 58.7 L484.9 67.4 L482.4 76.0 L480.0 84.7 L477.8 93.4 L475.8 102.3 L474.3 111.1 L473.2 120.0 L472.5 128.9 L471.8 137.7 L471.2 146.5 L471.2 155.4 L471.5 164.4 L472.1 173.4 L472.9 182.4" fill="none" stroke="url(#gE_lite)" stroke-width="1.7" opacity="0.73" stroke-linecap="round"/><path d="M501.8 34.2 L499.2 42.8 L496.6 51.3 L494.0 59.9 L491.3 68.5 L488.7 77.2 L486.1 85.8 L483.6 94.5 L481.3 103.2 L479.4 112.0 L477.8 120.8 L476.6 129.6 L475.3 138.3 L474.3 147.0 L473.9 155.9 L473.9 164.8 L474.2 173.7" fill="none" stroke="url(#gE_lite)" stroke-width="1.4" opacity="0.71" stroke-linecap="round"/><path d="M476.4 29.5 L472.9 37.9 L469.5 46.3 L466.2 54.8 L462.8 63.3 L459.6 71.8 L456.5 80.4 L453.9 89.1 L451.9 98.0 L450.7 107.1 L450.4 116.1 L450.6 125.2 L451.2 134.3 L451.9 143.3 L452.8 152.3 L453.9 161.3" fill="none" stroke="url(#gE_lite)" stroke-width="3.0" opacity="0.61" stroke-linecap="round"/><path d="M531.0 30.5 L529.7 39.3 L528.3 48.2 L526.9 57.0 L525.4 65.8 L524.0 74.6 L522.4 83.4 L520.7 92.1 L518.6 100.8 L516.3 109.4 L513.8 117.9 L511.1 126.4 L508.3 134.9 L505.2 143.2 L502.3 151.6 L500.4 160.3 L499.4 169.2 L498.8 178.1 L498.5 187.0" fill="none" stroke="url(#gE_lite)" stroke-width="1.6" opacity="0.75" stroke-linecap="round"/><path d="M501.8 29.6 L499.4 38.2 L496.9 46.9 L494.4 55.5 L491.9 64.1 L489.5 72.8 L487.1 81.4 L484.7 90.1 L482.4 98.9 L480.5 107.6 L478.9 116.5 L477.7 125.3 L476.6 134.0 L475.6 142.7 L474.9 151.6 L474.8 160.5 L475.1 169.5 L475.6 178.4" fill="none" stroke="url(#gE_dark)" stroke-width="2.5" opacity="0.51" stroke-linecap="round"/><path d="M493.0 28.0 L490.2 36.5 L487.4 45.1 L484.7 53.7 L482.0 62.3 L479.3 70.9 L476.7 79.5 L474.3 88.2 L472.1 97.0 L470.4 105.9 L469.2 114.8 L468.5 123.7 L468.0 132.6 L467.6 141.4 L467.5 150.3 L467.8 159.3 L468.5 168.3" fill="none" stroke="url(#gE_dark)" stroke-width="1.4" opacity="0.76" stroke-linecap="round"/><path d="M503.0 20.8 L500.5 29.4 L498.0 38.0 L495.5 46.6 L493.1 55.2 L490.6 63.9 L488.2 72.5 L485.8 81.2 L483.5 89.9 L481.3 98.6 L479.4 107.5 L477.9 116.3 L476.8 125.1 L475.9 133.9 L474.9 142.6 L474.3 151.5 L474.3 160.4 L474.7 169.4 L475.1 178.4 L476.0 187.3" fill="none" stroke="url(#gE_lite)" stroke-width="1.1" opacity="0.48" stroke-linecap="round"/><path d="M505.3 30.3 L503.0 38.9 L500.6 47.6 L498.3 56.2 L496.0 64.9 L493.6 73.5 L491.3 82.2 L489.0 90.9 L486.8 99.6 L484.8 108.4 L483.1 117.2 L481.7 126.0 L480.4 134.7 L479.1 143.3 L478.2 152.1 L477.9 161.0 L478.1 170.0 L478.4 178.9 L479.2 187.9" fill="none" stroke="url(#gE_dark)" stroke-width="1.6" opacity="0.51" stroke-linecap="round"/><path d="M528.0 30.0 L526.5 38.7 L524.9 47.5 L523.3 56.3 L521.7 65.1 L520.0 73.8 L518.3 82.6 L516.4 91.3 L514.3 100.0 L511.9 108.6 L509.4 117.2 L506.8 125.7 L504.2 134.2 L501.3 142.6 L498.6 151.0 L496.9 159.7 L495.9 168.6 L495.4 177.5 L495.2 186.4 L495.6 195.4" fill="none" stroke="url(#gE_dark)" stroke-width="1.6" opacity="0.70" stroke-linecap="round"/><path d="M475.3 29.2 L471.9 37.7 L468.6 46.1 L465.4 54.7 L462.2 63.2 L459.1 71.7 L456.2 80.3 L453.8 89.1 L451.9 98.0 L451.0 107.1 L450.7 116.2 L451.2 125.3 L451.9 134.4 L452.7 143.4 L453.7 152.5 L454.8 161.5 L456.1 170.5" fill="none" stroke="url(#gE_lite)" stroke-width="2.3" opacity="0.51" stroke-linecap="round"/><path d="M530.1 39.4 L528.9 48.3 L527.5 57.1 L526.1 65.9 L524.7 74.7 L523.2 83.5 L521.6 92.3 L519.6 101.0 L517.3 109.6 L514.8 118.1 L512.2 126.6 L509.4 135.1 L506.2 143.4 L503.3 151.8 L501.4 160.5 L500.4 169.4" fill="none" stroke="url(#gE_mid)" stroke-width="2.5" opacity="0.54" stroke-linecap="round"/><path d="M521.8 28.8 L519.9 37.5 L518.0 46.2 L516.1 55.0 L514.1 63.7 L512.1 72.4 L510.0 81.1 L507.8 89.8 L505.5 98.4 L503.0 107.1 L500.6 115.7 L498.2 124.3 L496.0 132.8 L493.5 141.3 L491.2 149.8 L489.8 158.5 L489.1 167.4" fill="none" stroke="url(#gE_lite)" stroke-width="3.1" opacity="0.64" stroke-linecap="round"/><path d="M514.3 32.0 L512.3 40.7 L510.3 49.4 L508.3 58.1 L506.3 66.8 L504.3 75.5 L502.3 84.2 L500.2 92.9 L498.0 101.6 L495.8 110.3 L493.8 119.0 L492.0 127.7 L490.1 136.3 L488.1 144.8 L486.6 153.5 L486.0 162.4 L485.8 171.3 L485.9 180.3 L486.4 189.2" fill="none" stroke="url(#gE_lite)" stroke-width="1.9" opacity="0.57" stroke-linecap="round"/><path d="M496.8 19.6 L494.0 28.2 L491.3 36.7 L488.6 45.3 L485.9 53.9 L483.3 62.5 L480.6 71.1 L478.1 79.8 L475.7 88.5 L473.5 97.3 L471.8 106.1 L470.5 115.0 L469.8 123.9 L469.2 132.8 L468.7 141.6 L468.6 150.5 L468.9 159.5 L469.5 168.5 L470.2 177.5" fill="none" stroke="url(#gE_mid)" stroke-width="1.9" opacity="0.77" stroke-linecap="round"/><path d="M495.6 14.9 L492.6 23.4 L489.6 31.9 L486.5 40.4 L483.6 48.9 L480.6 57.5 L477.7 66.0 L474.8 74.6 L472.0 83.2 L469.5 91.9 L467.3 100.8 L465.8 109.7 L464.8 118.6 L464.3 127.5 L464.0 136.4 L463.8 145.3 L464.0 154.2 L464.6 163.2 L465.3 172.2" fill="none" stroke="url(#gE_dark)" stroke-width="2.1" opacity="0.73" stroke-linecap="round"/><path d="M512.9 31.7 L510.8 40.4 L508.8 49.1 L506.6 57.7 L504.5 66.4 L502.4 75.1 L500.3 83.8 L498.1 92.5 L495.8 101.2 L493.7 109.9 L491.7 118.6 L489.9 127.3 L488.0 135.9 L486.2 144.5 L484.8 153.2 L484.2 162.1 L484.1 171.0" fill="none" stroke="url(#gE_mid)" stroke-width="2.6" opacity="0.70" stroke-linecap="round"/><path d="M515.7 23.1 L513.7 31.8 L511.7 40.5 L509.7 49.2 L507.7 58.0 L505.8 66.7 L503.8 75.4 L501.7 84.1 L499.6 92.8 L497.5 101.5 L495.4 110.2 L493.4 118.9 L491.6 127.6 L489.8 136.2 L487.8 144.8 L486.4 153.5 L485.8 162.4 L485.7 171.3" fill="none" stroke="url(#gE_lite)" stroke-width="2.5" opacity="0.69" stroke-linecap="round"/><path d="M507.0 17.0 L504.7 25.6 L502.3 34.3 L499.9 42.9 L497.6 51.5 L495.2 60.2 L492.9 68.8 L490.6 77.5 L488.3 86.2 L486.1 94.9 L484.0 103.7 L482.3 112.5 L480.9 121.3 L479.7 130.1 L478.5 138.8 L477.4 147.5 L477.0 156.4 L477.1 165.4 L477.4 174.3 L478.0 183.3" fill="none" stroke="url(#gE_dark)" stroke-width="2.9" opacity="0.41" stroke-linecap="round"/></g><path d="M480.0 12.0 L478.2 16.2 L476.4 20.4 L474.6 24.6 L472.8 28.8 L471.0 33.0 L469.3 37.2 L467.5 41.4 L465.8 45.6 L464.1 49.9 L462.4 54.1 L460.7 58.3 L459.0 62.6 L457.3 66.8 L455.7 71.1 L454.1 75.4 L452.6 79.7 L451.3 84.1 L450.1 88.5 L449.0 92.9 L448.1 97.4 L447.5 101.9 L447.2 106.4 L447.0 111.0 L447.0 115.6 L447.2 120.1 L447.5 124.7 L447.9 129.2 L448.4 133.8 L448.8 138.3 L449.3 142.9 L449.8 147.4 L450.4 151.9 L451.0 156.4 L451.7 161.0 L452.3 165.5 L453.0 170.0 L453.7 174.5 L454.4 179.0 L455.2 183.5 L456.0 188.0" fill="none" stroke="url(#gE_dark)" stroke-width="9" opacity="0.6" filter="url(#b2)"/><path d="M534.0 22.0 L533.3 26.4 L532.6 30.8 L532.0 35.2 L531.3 39.6 L530.6 44.0 L529.9 48.5 L529.2 52.9 L528.5 57.3 L527.7 61.7 L527.0 66.0 L526.2 70.4 L525.5 74.8 L524.7 79.2 L523.9 83.6 L523.0 88.0 L522.1 92.4 L521.1 96.7 L520.0 101.0 L518.8 105.3 L517.5 109.6 L516.2 113.9 L514.9 118.1 L513.5 122.4 L512.1 126.6 L510.7 130.8 L509.2 135.0 L507.6 139.2 L505.9 143.3 L504.3 147.5 L502.9 151.7 L501.8 156.0 L500.9 160.4 L500.3 164.8 L499.8 169.3 L499.4 173.7 L499.1 178.2 L498.9 182.6 L498.8 187.1 L498.9 191.5 L499.0 196.0" fill="none" stroke="url(#gE_dark)" stroke-width="9" opacity="0.6" filter="url(#b2)"/></g>
<g clip-path="url(#cF)"><path d="M549.0 24.0 L545.3 28.5 L541.5 33.0 L538.2 37.7 L535.6 43.0 L533.7 48.5 L532.1 54.1 L530.7 59.8 L529.4 65.5 L528.0 71.2 L526.5 76.8 L525.0 82.5 L523.5 88.1 L521.9 93.7 L520.2 99.3 L518.3 104.8 L516.0 110.2 L513.8 115.6 L511.6 121.0 L509.5 126.5 L507.5 131.9 L505.4 137.4 L503.6 143.0 L502.1 148.6 L501.0 154.4 L501.0 160.2 L502.1 165.9 L503.7 171.5 L505.3 177.1 L506.8 182.8 L508.3 188.4 L509.7 194.1 L511.0 199.8 L511.9 205.6 L512.7 211.4 L513.3 217.2 L514.1 223.0 L515.1 228.7 L516.0 234.5 L517.0 240.2 L518.0 246.0 L526.0 246.0 L526.0 240.4 L525.9 234.8 L525.9 229.2 L525.9 223.6 L526.2 218.0 L526.7 212.4 L527.3 206.8 L527.9 201.3 L528.3 195.7 L528.8 190.1 L529.2 184.5 L529.7 178.9 L530.4 173.4 L531.4 167.9 L532.5 162.4 L533.6 156.9 L534.7 151.4 L535.6 145.9 L536.1 140.3 L536.1 134.7 L535.8 129.1 L535.2 123.5 L534.2 118.0 L532.7 112.6 L531.2 107.2 L530.2 101.7 L530.0 96.1 L530.5 90.6 L531.5 85.0 L532.7 79.6 L533.9 74.1 L535.2 68.7 L536.6 63.2 L538.1 57.8 L539.7 52.5 L541.6 47.2 L543.8 42.0 L546.6 37.2 L549.9 32.6 L553.0 28.0Z" fill="url(#gF_mid)"/><g filter="url(#b05)"><path d="M539.8 45.9 L536.3 56.7 L533.5 67.7 L530.9 78.8 L528.5 89.8 L527.3 101.0 L527.9 111.9 L528.4 122.8 L527.8 133.9 L526.5 145.0 L524.3 156.2 L523.0 167.3 L522.8 178.4 L523.0 189.6 L523.1 200.9 L522.8 212.1 L522.6 223.4" fill="none" stroke="url(#gF_dark)" stroke-width="2.7" opacity="0.62" stroke-linecap="round"/><path d="M547.6 30.6 L541.0 39.9 L536.8 50.5 L533.7 61.6 L531.0 72.7 L528.3 83.8 L526.1 95.0 L524.9 106.0 L524.2 116.8 L523.0 127.8 L521.2 138.9 L518.9 150.0 L517.3 161.3 L517.5 172.5 L518.3 183.7 L519.3 194.9 L519.9 206.2 L520.0 217.6" fill="none" stroke="url(#gF_dark)" stroke-width="1.8" opacity="0.61" stroke-linecap="round"/><path d="M552.6 27.6 L546.1 36.7 L540.9 46.7 L537.4 57.4 L534.5 68.3 L531.9 79.2 L529.6 90.3 L528.9 101.4 L530.6 112.3 L532.2 123.2 L532.4 134.3 L531.5 145.5 L529.3 156.6 L527.5 167.6 L526.4 178.7 L525.9 189.9 L525.5 201.1 L524.7 212.3 L524.3 223.5 L524.5 234.8" fill="none" stroke="url(#gF_mid)" stroke-width="1.2" opacity="0.73" stroke-linecap="round"/><path d="M546.8 29.9 L540.0 39.1 L535.6 49.8 L532.6 60.9 L529.9 72.1 L527.0 83.3 L524.4 94.5 L522.3 105.6 L520.0 116.3 L517.5 127.3 L514.7 138.3 L511.9 149.4 L510.4 160.8 L511.6 172.1 L513.4 183.3 L515.1 194.6 L516.4 205.9 L517.1 217.4 L518.1 228.9" fill="none" stroke="url(#gF_lite)" stroke-width="2.1" opacity="0.79" stroke-linecap="round"/><path d="M551.4 26.4 L544.5 35.5 L539.1 45.5 L535.7 56.3 L532.8 67.4 L530.1 78.4 L527.6 89.6 L526.1 100.7 L525.9 111.6 L525.6 122.5 L524.5 133.6 L522.7 144.7 L520.4 155.9 L519.5 167.1 L519.8 178.2 L520.5 189.4 L521.1 200.7 L521.1 212.0" fill="none" stroke="url(#gF_mid)" stroke-width="2.8" opacity="0.40" stroke-linecap="round"/><path d="M542.7 33.9 L536.9 43.9 L533.5 55.0 L530.7 66.2 L527.9 77.4 L525.1 88.7 L522.5 99.9 L519.8 110.8 L517.0 121.6 L514.0 132.6 L511.0 143.6 L508.6 154.9 L508.9 166.4 L511.0 177.6 L513.0 188.8 L514.9 200.2 L516.0 211.6 L516.9 223.1" fill="none" stroke="url(#gF_mid)" stroke-width="2.3" opacity="0.45" stroke-linecap="round"/><path d="M540.3 46.3 L536.9 57.1 L534.0 68.0 L531.4 79.0 L529.0 90.0 L528.0 101.2 L529.1 112.1 L530.1 123.0 L529.9 134.1 L528.6 145.2 L526.4 156.3 L524.9 167.4 L524.2 178.5 L524.2 189.7 L524.1 200.9 L523.5 212.2 L523.2 223.4 L523.6 234.7" fill="none" stroke="url(#gF_dark)" stroke-width="1.5" opacity="0.43" stroke-linecap="round"/><path d="M545.7 36.4 L540.4 46.4 L537.0 57.1 L534.1 68.0 L531.5 79.0 L529.1 90.1 L528.2 101.3 L529.4 112.1 L530.5 123.0 L530.4 134.1 L529.2 145.3 L527.0 156.4 L525.4 167.5 L524.7 178.6 L524.5 189.8 L524.4 201.0 L523.8 212.2" fill="none" stroke="url(#gF_lite)" stroke-width="2.6" opacity="0.61" stroke-linecap="round"/><path d="M538.0 44.7 L534.5 55.6 L531.7 66.8 L529.0 77.9 L526.3 89.1 L524.2 100.3 L522.7 111.2 L521.1 122.0 L518.9 133.0 L516.4 144.1 L514.1 155.4 L513.8 166.7 L515.1 177.9 L516.5 189.1 L517.7 200.4 L518.3 211.8 L518.9 223.2" fill="none" stroke="url(#gF_lite)" stroke-width="2.5" opacity="0.75" stroke-linecap="round"/><path d="M535.9 43.2 L532.4 54.3 L529.7 65.7 L526.8 77.0 L523.9 88.2 L520.7 99.4 L516.9 110.3 L512.8 121.2 L508.9 132.1 L505.2 143.1 L502.6 154.5 L503.5 166.0 L506.4 177.2 L509.2 188.5 L511.7 199.9 L513.3 211.4 L514.7 223.0" fill="none" stroke="url(#gF_lite)" stroke-width="1.2" opacity="0.57" stroke-linecap="round"/><path d="M536.4 43.6 L532.9 54.6 L530.1 65.9 L527.3 77.2 L524.4 88.4 L521.5 99.6 L518.2 110.5 L514.7 121.4 L511.2 132.3 L507.8 143.4 L505.3 154.7 L505.9 166.2 L508.5 177.4 L511.0 188.7 L513.2 200.0 L514.5 211.5 L515.7 223.0" fill="none" stroke="url(#gF_lite)" stroke-width="1.8" opacity="0.44" stroke-linecap="round"/><path d="M547.1 30.2 L540.4 39.5 L536.1 50.1 L533.1 61.2 L530.3 72.3 L527.6 83.5 L525.1 94.7 L523.4 105.8 L521.8 116.5 L519.9 127.5 L517.5 138.6 L514.8 149.7 L513.3 161.0 L514.1 172.2 L515.5 183.5 L516.9 194.7 L517.9 206.1" fill="none" stroke="url(#gF_mid)" stroke-width="1.0" opacity="0.70" stroke-linecap="round"/><path d="M545.6 36.3 L540.3 46.3 L536.9 57.1 L534.0 68.0 L531.4 79.0 L529.1 90.1 L528.1 101.2 L529.3 112.1 L530.5 123.0 L530.4 134.1 L529.3 145.3 L527.2 156.4 L525.7 167.5 L524.9 178.6 L524.8 189.8 L524.6 201.0 L524.0 212.2" fill="none" stroke="url(#gF_mid)" stroke-width="2.7" opacity="0.73" stroke-linecap="round"/><path d="M550.2 25.2 L543.0 34.2 L537.4 44.2 L533.9 55.2 L531.1 66.4 L528.4 77.6 L525.6 88.8 L523.2 100.0 L521.1 110.9 L518.8 121.8 L516.3 132.8 L513.5 143.9 L511.1 155.1 L511.2 166.5 L512.9 177.7 L514.7 189.0 L516.3 200.3 L517.1 211.7 L517.9 223.2 L519.2 234.6" fill="none" stroke="url(#gF_mid)" stroke-width="2.6" opacity="0.38" stroke-linecap="round"/><path d="M536.8 43.9 L533.3 54.9 L530.5 66.1 L527.7 77.4 L524.9 88.6 L522.1 99.8 L519.2 110.7 L516.1 121.5 L512.8 132.5 L509.5 143.5 L506.9 154.8 L507.3 166.3 L509.6 177.5 L511.8 188.7 L513.9 200.1 L515.0 211.5 L516.1 223.1" fill="none" stroke="url(#gF_mid)" stroke-width="1.8" opacity="0.42" stroke-linecap="round"/><path d="M544.8 35.7 L539.4 45.6 L535.9 56.5 L533.1 67.5 L530.5 78.6 L528.0 89.7 L526.6 100.9 L526.9 111.8 L527.0 122.7 L526.2 133.7 L524.6 144.9 L522.5 156.0 L521.5 167.2 L521.5 178.3 L521.9 189.6 L522.3 200.8 L522.1 212.1" fill="none" stroke="url(#gF_dark)" stroke-width="2.6" opacity="0.66" stroke-linecap="round"/><path d="M540.5 39.6 L536.2 50.2 L533.2 61.2 L530.4 72.4 L527.7 83.5 L525.2 94.7 L523.5 105.8 L522.1 116.6 L520.2 127.5 L517.8 138.6 L515.1 149.7 L513.6 161.1 L514.3 172.3 L515.6 183.5 L517.0 194.7 L517.9 206.1 L518.4 217.5 L519.2 228.9 L520.5 240.3" fill="none" stroke="url(#gF_dark)" stroke-width="1.8" opacity="0.74" stroke-linecap="round"/><path d="M540.2 39.3 L535.9 50.0 L532.9 61.1 L530.2 72.2 L527.4 83.4 L524.9 94.6 L523.1 105.7 L521.5 116.5 L519.5 127.5 L517.1 138.5 L514.6 149.7 L513.2 161.0 L514.1 172.2 L515.5 183.5 L517.0 194.7 L518.0 206.1" fill="none" stroke="url(#gF_lite)" stroke-width="2.7" opacity="0.56" stroke-linecap="round"/></g><path d="M549.0 24.0 L545.3 28.5 L541.5 33.0 L538.2 37.7 L535.6 43.0 L533.7 48.5 L532.1 54.1 L530.7 59.8 L529.4 65.5 L528.0 71.2 L526.5 76.8 L525.0 82.5 L523.5 88.1 L521.9 93.7 L520.2 99.3 L518.3 104.8 L516.0 110.2 L513.8 115.6 L511.6 121.0 L509.5 126.5 L507.5 131.9 L505.4 137.4 L503.6 143.0 L502.1 148.6 L501.0 154.4 L501.0 160.2 L502.1 165.9 L503.7 171.5 L505.3 177.1 L506.8 182.8 L508.3 188.4 L509.7 194.1 L511.0 199.8 L511.9 205.6 L512.7 211.4 L513.3 217.2 L514.1 223.0 L515.1 228.7 L516.0 234.5 L517.0 240.2 L518.0 246.0" fill="none" stroke="url(#gF_dark)" stroke-width="9" opacity="0.6" filter="url(#b2)"/><path d="M553.0 28.0 L549.9 32.6 L546.6 37.2 L543.8 42.0 L541.6 47.2 L539.7 52.5 L538.1 57.8 L536.6 63.2 L535.2 68.7 L533.9 74.1 L532.7 79.6 L531.5 85.0 L530.5 90.6 L530.0 96.1 L530.2 101.7 L531.2 107.2 L532.7 112.6 L534.2 118.0 L535.2 123.5 L535.8 129.1 L536.1 134.7 L536.1 140.3 L535.6 145.9 L534.7 151.4 L533.6 156.9 L532.5 162.4 L531.4 167.9 L530.4 173.4 L529.7 178.9 L529.2 184.5 L528.8 190.1 L528.3 195.7 L527.9 201.3 L527.3 206.8 L526.7 212.4 L526.2 218.0 L525.9 223.6 L525.9 229.2 L525.9 234.8 L526.0 240.4 L526.0 246.0" fill="none" stroke="url(#gF_dark)" stroke-width="9" opacity="0.6" filter="url(#b2)"/></g>
</g>
<rect x="250" y="0" width="330" height="66" fill="url(#fadeTop)"/>
<g id="cap">
<path d="M399.2 251.0 L398.9 250.1 L398.7 249.2 L398.4 248.3 L398.2 247.4 L397.9 246.6 L397.6 245.7 L397.3 244.8 L397.0 244.0 L396.6 243.3 L396.2 242.6 L395.7 242.1 L395.3 241.5 L394.8 240.9 L394.5 240.1 L394.2 239.2 L394.0 238.0 L393.9 236.5 L393.9 234.8 L394.0 232.9 L394.1 230.9 L394.3 228.9 L394.6 226.8 L395.0 224.8 L395.5 223.0 L396.1 221.3 L396.8 219.6 L397.7 217.9 L398.6 216.2 L399.6 214.6 L400.7 213.0 L401.8 211.5 L403.0 210.0 L404.3 208.5 L405.7 207.1 L407.1 205.7 L408.7 204.3 L410.2 203.0 L411.8 201.8 L413.4 200.6 L415.0 199.5 L416.6 198.5 L418.2 197.5 L419.8 196.7 L421.5 195.8 L423.2 195.1 L424.8 194.4 L426.4 193.7 L428.0 193.0 L429.5 192.4 L431.1 191.8 L432.6 191.3 L434.1 190.8 L435.5 190.3 L437.0 189.8 L438.5 189.4 L440.0 189.0 L441.5 188.6 L443.0 188.2 L444.5 187.9 L446.0 187.6 L447.5 187.3 L449.0 187.0 L450.5 186.8 L452.0 186.5 L453.5 186.3 L455.0 186.0 L456.5 185.8 L458.0 185.6 L459.5 185.4 L461.0 185.2 L462.5 185.1 L464.0 185.0 L465.5 184.9 L467.0 184.8 L468.4 184.7 L469.9 184.7 L471.4 184.7 L472.9 184.7 L474.4 184.8 L476.0 185.0 L477.7 185.2 L479.5 185.5 L481.3 185.9 L483.1 186.3 L485.0 186.7 L486.7 187.3 L488.4 187.8 L490.0 188.5 L491.5 189.2 L492.8 190.0 L494.1 190.9 L495.4 191.8 L496.6 192.8 L497.7 193.9 L498.9 194.9 L500.0 196.0 L501.1 197.1 L502.2 198.3 L503.3 199.5 L504.3 200.7 L505.3 202.0 L506.3 203.3 L507.2 204.6 L508.0 206.0 L508.8 207.4 L509.5 208.9 L510.2 210.4 L510.9 211.9 L511.5 213.4 L512.0 215.0 L512.5 216.5 L513.0 218.0 L513.4 219.5 L513.7 221.0 L514.0 222.4 L514.2 223.9 L514.4 225.4 L514.6 226.9 L514.8 228.4 L515.0 230.0 L515.3 231.7 L515.5 233.5 L515.8 235.4 L516.0 237.3 L516.3 239.2 L516.5 240.9 L516.8 242.6 L517.0 244.0 L517.2 245.2 L517.4 246.2 L517.6 247.1 L517.8 247.9 L518.0 248.7 L518.1 249.4 L518.3 250.2 L518.5 251.0Z" fill="url(#pYel)"/>
<path d="M399.2 251.0 L398.9 250.1 L398.7 249.2 L398.4 248.3 L398.2 247.4 L397.9 246.6 L397.6 245.7 L397.3 244.8 L397.0 244.0 L396.6 243.3 L396.2 242.6 L395.7 242.1 L395.3 241.5 L394.8 240.9 L394.5 240.1 L394.2 239.2 L394.0 238.0 L393.9 236.5 L393.9 234.8 L394.0 232.9 L394.1 230.9 L394.3 228.9 L394.6 226.8 L395.0 224.8 L395.5 223.0 L396.1 221.3 L396.8 219.6 L397.7 217.9 L398.6 216.2 L399.6 214.6 L400.7 213.0 L401.8 211.5 L403.0 210.0 L404.3 208.5 L405.7 207.1 L407.1 205.7 L408.7 204.3 L410.2 203.0 L411.8 201.8 L413.4 200.6 L415.0 199.5 L416.6 198.5 L418.2 197.5 L419.8 196.7 L421.5 195.8 L423.2 195.1 L424.8 194.4 L426.4 193.7 L428.0 193.0 L429.5 192.4 L431.1 191.8 L432.6 191.3 L434.1 190.8 L435.5 190.3 L437.0 189.8 L438.5 189.4 L440.0 189.0 L441.5 188.6 L443.0 188.2 L444.5 187.9 L446.0 187.6 L447.5 187.3 L449.0 187.0 L450.5 186.8 L452.0 186.5 L453.5 186.3 L455.0 186.0 L456.5 185.8 L458.0 185.6 L459.5 185.4 L461.0 185.2 L462.5 185.1 L464.0 185.0 L465.5 184.9 L467.0 184.8 L468.4 184.7 L469.9 184.7 L471.4 184.7 L472.9 184.7 L474.4 184.8 L476.0 185.0 L477.7 185.2 L479.5 185.5 L481.3 185.9 L483.1 186.3 L485.0 186.7 L486.7 187.3 L488.4 187.8 L490.0 188.5 L491.5 189.2 L492.8 190.0 L494.1 190.9 L495.4 191.8 L496.6 192.8 L497.7 193.9 L498.9 194.9 L500.0 196.0 L501.1 197.1 L502.2 198.3 L503.3 199.5 L504.3 200.7 L505.3 202.0 L506.3 203.3 L507.2 204.6 L508.0 206.0 L508.8 207.4 L509.5 208.9 L510.2 210.4 L510.9 211.9 L511.5 213.4 L512.0 215.0 L512.5 216.5 L513.0 218.0 L513.4 219.5 L513.7 221.0 L514.0 222.4 L514.2 223.9 L514.4 225.4 L514.6 226.9 L514.8 228.4 L515.0 230.0 L515.3 231.7 L515.5 233.5 L515.8 235.4 L516.0 237.3 L516.3 239.2 L516.5 240.9 L516.8 242.6 L517.0 244.0 L517.2 245.2 L517.4 246.2 L517.6 247.1 L517.8 247.9 L518.0 248.7 L518.1 249.4 L518.3 250.2 L518.5 251.0" fill="none" stroke="#7c3c22" stroke-width="1.3"/>
<path d="M402.5 263.0 L402.1 261.5 L401.7 260.0 L401.3 258.5 L400.8 257.1 L400.4 255.6 L400.0 254.1 L399.6 252.5 L399.2 251.0 L398.8 249.4 L398.3 247.9 L397.9 246.3 L397.4 244.7 L397.0 243.1 L396.6 241.4 L396.3 239.7 L396.0 238.0 L395.8 236.2 L395.5 234.3 L395.3 232.4 L395.1 230.5 L395.0 228.6 L395.0 226.7 L395.2 224.8 L395.5 223.0 L396.0 221.3 L396.7 219.6 L397.5 217.9 L398.5 216.2 L399.5 214.6 L400.6 213.0 L401.8 211.5 L403.0 210.0 L404.3 208.5 L405.7 207.1 L407.1 205.7 L408.7 204.3 L410.2 203.0 L411.8 201.8 L413.4 200.6 L415.0 199.5 L416.6 198.5 L418.2 197.5 L419.8 196.7 L421.5 195.8 L423.2 195.1 L424.8 194.4 L426.4 193.7 L428.0 193.0 L429.5 192.4 L431.1 191.8 L432.6 191.3 L434.1 190.8 L435.5 190.3 L437.0 189.8 L438.5 189.4 L440.0 189.0 L441.5 188.6 L443.0 188.2 L444.5 187.9 L446.0 187.6 L447.5 187.3 L449.0 187.0 L450.5 186.8 L452.0 186.5 L453.5 186.3 L455.0 186.0 L456.5 185.8 L458.0 185.6 L459.5 185.4 L461.0 185.2 L462.5 185.1 L464.0 185.0 L465.5 184.9 L467.0 184.8 L468.4 184.7 L469.9 184.7 L471.4 184.7 L472.9 184.7 L474.4 184.8 L476.0 185.0 L477.7 185.2 L479.5 185.5 L481.3 185.9 L483.1 186.3 L485.0 186.7 L486.7 187.3 L488.4 187.8 L490.0 188.5 L491.5 189.2 L492.8 190.0 L494.1 190.9 L495.4 191.8 L496.6 192.8 L497.7 193.9 L498.9 194.9 L500.0 196.0 L501.1 197.1 L502.2 198.3 L503.3 199.5 L504.3 200.7 L505.3 202.0 L506.3 203.3 L507.2 204.6 L508.0 206.0 L508.8 207.4 L509.5 208.9 L510.2 210.4 L510.9 212.0 L511.5 213.6 L512.1 215.1 L512.6 216.6 L513.0 218.0 L513.4 219.3 L513.6 220.6 L513.8 221.9 L514.0 223.1 L514.1 224.3 L514.2 225.5 L514.3 226.8 L514.5 228.0" fill="none" stroke="#878eb2" stroke-width="3" stroke-linecap="round"/>
<path d="M403.4 263.9 L403.0 262.4 L402.6 260.9 L402.2 259.4 L401.7 258.0 L401.3 256.5 L400.9 255.0 L400.5 253.4 L400.1 251.9 L399.7 250.3 L399.2 248.8 L398.8 247.2 L398.3 245.6 L397.9 244.0 L397.5 242.3 L397.2 240.6 L396.9 238.9 L396.7 237.1 L396.4 235.2 L396.2 233.3 L396.0 231.4 L395.9 229.5 L395.9 227.6 L396.1 225.7 L396.4 223.9 L396.9 222.2 L397.6 220.5 L398.4 218.8 L399.4 217.1 L400.4 215.5 L401.5 213.9 L402.7 212.4 L403.9 210.9 L405.2 209.4 L406.6 208.0 L408.0 206.6 L409.6 205.2 L411.1 203.9 L412.7 202.7 L414.3 201.5 L415.9 200.4 L417.5 199.4 L419.1 198.4 L420.7 197.6 L422.4 196.7 L424.1 196.0 L425.7 195.3 L427.3 194.6 L428.9 193.9 L430.4 193.3 L432.0 192.7 L433.5 192.2 L435.0 191.7 L436.4 191.2 L437.9 190.7 L439.4 190.3 L440.9 189.9 L442.4 189.5 L443.9 189.1 L445.4 188.8 L446.9 188.5 L448.4 188.2 L449.9 187.9 L451.4 187.7 L452.9 187.4 L454.4 187.2 L455.9 186.9 L457.4 186.7 L458.9 186.5 L460.4 186.3 L461.9 186.1 L463.4 186.0 L464.9 185.9 L466.4 185.8 L467.9 185.7 L469.3 185.6 L470.8 185.6 L472.3 185.6 L473.8 185.6 L475.3 185.7 L476.9 185.9 L478.6 186.1 L480.4 186.4 L482.2 186.8 L484.0 187.2 L485.9 187.6 L487.6 188.2 L489.3 188.7 L490.9 189.4 L492.4 190.1 L493.7 190.9 L495.0 191.8 L496.3 192.7 L497.5 193.7 L498.6 194.8 L499.8 195.8 L500.9 196.9 L502.0 198.0 L503.1 199.2 L504.2 200.4 L505.2 201.6 L506.2 202.9 L507.2 204.2 L508.1 205.5 L508.9 206.9 L509.7 208.3 L510.4 209.8 L511.1 211.3 L511.8 212.9 L512.4 214.5 L513.0 216.0 L513.5 217.5 L513.9 218.9 L514.3 220.2 L514.5 221.5 L514.7 222.8 L514.9 224.0 L515.0 225.2 L515.1 226.4 L515.2 227.7 L515.4 228.9" fill="none" stroke="#6a6f98" stroke-width="0.8" opacity="0.8"/>
<path d="M415.5 251.0 L415.5 249.3 L415.5 247.6 L415.5 245.9 L415.4 244.1 L415.4 242.4 L415.4 240.8 L415.5 239.3 L415.5 238.0 L415.6 236.8 L415.6 235.8 L415.7 234.9 L415.8 234.0 L415.9 233.3 L416.1 232.5 L416.3 231.8 L416.5 231.0 L416.8 230.2 L417.1 229.5 L417.4 228.7 L417.7 228.0 L418.1 227.3 L418.5 226.7 L419.0 226.1 L419.5 225.5 L420.1 225.0 L420.7 224.5 L421.4 224.0 L422.1 223.6 L422.8 223.2 L423.5 222.9 L424.3 222.7 L425.0 222.5 L425.7 222.4 L426.5 222.4 L427.3 222.4 L428.0 222.5 L428.8 222.7 L429.6 222.9 L430.3 223.2 L431.0 223.5 L431.7 223.9 L432.4 224.3 L433.1 224.8 L433.7 225.4 L434.4 226.0 L434.9 226.6 L435.5 227.3 L436.0 228.0 L436.4 228.8 L436.8 229.6 L437.2 230.5 L437.5 231.4 L437.7 232.3 L438.0 233.3 L438.3 234.2 L438.5 235.0 L438.7 235.8 L438.9 236.6 L439.1 237.4 L439.2 238.2 L439.4 238.9 L439.5 239.7 L439.7 240.4 L440.0 241.0 L440.3 241.6 L440.6 242.2 L440.9 242.8 L441.3 243.3 L441.7 243.8 L442.1 244.3 L442.5 244.7 L443.0 245.0 L443.5 245.3 L444.0 245.5 L444.6 245.6 L445.2 245.8 L445.8 245.8 L446.5 245.9 L447.2 245.9 L448.0 246.0 L448.9 246.1 L449.8 246.1 L450.8 246.1 L451.9 246.2 L453.0 246.2 L454.0 246.1 L455.1 246.1 L456.0 246.0 L456.9 245.9 L457.8 245.8 L458.7 245.7 L459.6 245.5 L460.4 245.3 L461.2 245.1 L461.9 244.8 L462.5 244.5 L463.0 244.1 L463.5 243.7 L463.9 243.3 L464.3 242.8 L464.6 242.2 L464.9 241.6 L465.1 240.8 L465.3 240.0 L465.5 239.0 L465.5 237.9 L465.6 236.7 L465.6 235.3 L465.6 234.0 L465.5 232.6 L465.5 231.3 L465.5 230.0 L465.5 228.7 L465.5 227.4 L465.4 226.1 L465.4 224.8 L465.4 223.5 L465.4 222.3 L465.4 221.1 L465.5 220.0 L465.6 219.0 L465.7 218.1 L465.9 217.2 L466.1 216.4 L466.3 215.6 L466.5 214.9 L466.7 214.2 L467.0 213.5 L467.3 212.9 L467.6 212.3 L467.9 211.8 L468.3 211.2 L468.7 210.8 L469.1 210.3 L469.5 209.9 L470.0 209.5 L470.5 209.1 L471.1 208.7 L471.7 208.3 L472.3 207.9 L473.0 207.6 L473.6 207.3 L474.3 207.1 L475.0 207.0 L475.7 207.0 L476.5 207.0 L477.2 207.1 L478.0 207.3 L478.8 207.5 L479.5 207.8 L480.3 208.1 L481.0 208.5 L481.7 208.9 L482.4 209.3 L483.0 209.8 L483.7 210.3 L484.3 210.9 L484.9 211.6 L485.5 212.2 L486.0 213.0 L486.5 213.8 L487.0 214.7 L487.5 215.6 L487.9 216.6 L488.3 217.6 L488.7 218.7 L489.1 219.8 L489.5 221.0 L489.9 222.2 L490.2 223.5 L490.4 224.8 L490.7 226.1 L491.0 227.5 L491.3 229.0 L491.6 230.5 L492.0 232.0 L492.4 233.7 L493.0 235.5 L493.5 237.4 L494.1 239.4 L494.6 241.3 L495.1 243.1 L495.6 244.7 L496.0 246.0 L496.3 247.1 L496.6 247.9 L496.7 248.5 L496.9 249.1 L497.0 249.5 L497.2 250.0 L497.3 250.4 L497.5 251.0Z" fill="#c2463c"/>
<g clip-path="url(#Mclip)">
<path d="M415 251 L415 238 L416.5 230 L420 225.5 L424 224 L423.5 229 L423.5 240 L424 251Z" fill="url(#pTex)"/>
<path d="M424 251 L423.3 240 L423.5 229.5 L425.5 227.5 L427 232 L427.5 251Z" fill="#f8d2c8"/>
<path d="M498 251 L496 246 L492 232 L489.5 221 L486 213 L481.5 209.5 L483 217 L485.5 230 L489 246 L490.2 251Z" fill="url(#pTex)"/>
<path d="M490.2 251 L489 246 L485.5 230 L483 217 L480.5 211.5 L478 211 L480 220 L482.5 232 L485.5 246 L487 251Z" fill="#f8d2c8"/>
<path d="M427.5 251 L427 233 L428.5 230.5 L431 234 L432.5 243 L436 250.5 L437 251 L469 251 L472.5 245 L473 225 L474.5 218 L478 215.5 L479.5 220 L482.5 232 L485.5 246 L487 251Z" fill="url(#lumTop)"/>
</g>
<path d="M428.7 228.2 L429.0 228.3 L429.4 228.6 L429.8 228.9 L430.3 229.3 L430.7 229.6 L431.0 230.0 L431.4 230.4 L431.6 230.8 L431.8 231.1 L432.0 231.6 L432.3 232.2 L432.5 233.0 L432.7 233.8 L433.0 234.7 L433.3 235.6 L433.5 236.4 L433.7 237.1 L433.8 237.7 L434.0 238.4 L434.1 239.2 L434.3 240.1 L434.5 241.0 L434.8 242.0 L435.2 243.0 L435.6 243.9 L436.0 244.7 L436.5 245.5 L437.1 246.3 L437.7 247.1 L438.4 247.9 L439.3 248.7 L440.2 249.4 L441.3 250.0 L442.4 250.4 L443.4 250.7 L444.4 250.9 L445.3 251.0 L446.1 251.1 L446.8 251.1 L447.6 251.2 L448.6 251.2 L449.6 251.3 L450.7 251.3 L451.9 251.4 L453.0 251.4 L454.2 251.3 L455.4 251.3 L456.5 251.2 L457.5 251.1 L458.5 251.0 L459.5 250.8 L460.6 250.6 L461.7 250.4 L462.9 250.0 L464.1 249.6 L465.2 248.9 L466.2 248.2 L467.1 247.5 L467.9 246.6 L468.7 245.6 L469.3 244.5 L469.8 243.3 L470.1 242.2 L470.4 241.0 L470.6 239.6 L470.7 238.2 L470.8 236.7 L470.8 235.3 L470.8 233.9 L470.7 232.5 L470.7 231.2 L470.7 230.0 L470.7 228.7 L470.7 227.3 L470.6 226.0 L470.6 224.7 L470.6 223.5 L470.6 222.3 L470.6 221.3 L470.7 220.4 L470.8 219.6 L470.9 218.9 L471.0 218.2 L471.1 217.6 L471.3 217.0 L471.4 216.5 L471.6 216.0 L471.8 215.6 L472.0 215.2 L472.1 214.9 L472.3 214.6 L472.4 214.4 L472.6 214.2 L472.8 214.0 L473.0 213.8" fill="none" stroke="#8e2a22" stroke-width="10" opacity="0.45" filter="url(#b1)" stroke-linecap="round"/>
<path d="M423.2 227.9 L423.6 227.5 L424.1 227.3 L424.6 227.0 L425.0 226.8 L425.4 226.7 L425.7 226.6 L426.1 226.6 L426.4 226.6 L426.9 226.6 L427.3 226.7 L427.8 226.8 L428.3 226.9 L428.7 227.1 L429.1 227.3 L429.5 227.5 L430.0 227.8 L430.5 228.1 L430.9 228.5 L431.4 228.9 L431.8 229.4 L432.2 229.8 L432.5 230.3 L432.7 230.7 L433.0 231.2 L433.2 231.9 L433.5 232.7 L433.7 233.5 L434.0 234.4 L434.2 235.3 L434.5 236.2 L434.7 236.8 L434.8 237.5 L434.9 238.2 L435.1 239.0 L435.3 239.8 L435.5 240.7 L435.8 241.7 L436.1 242.7 L436.5 243.5 L436.9 244.2 L437.4 245.0 L437.9 245.8 L438.4 246.5 L439.1 247.2 L439.9 247.9 L440.8 248.6 L441.7 249.1 L442.7 249.5 L443.7 249.7 L444.5 249.9 L445.4 250.0 L446.2 250.1 L446.9 250.1 L447.7 250.2 L448.6 250.3 L449.7 250.3 L450.7 250.3 L451.9 250.4 L453.0 250.4 L454.2 250.3 L455.3 250.3 L456.4 250.2 L457.4 250.1 L458.3 250.0 L459.3 249.8 L460.4 249.7 L461.4 249.4 L462.5 249.1 L463.7 248.6 L464.7 248.1 L465.6 247.4 L466.4 246.8 L467.2 246.0 L467.8 245.0 L468.4 244.0 L468.8 243.0 L469.2 241.9 L469.4 240.8 L469.6 239.5 L469.7 238.1 L469.8 236.7 L469.8 235.3 L469.8 233.9 L469.7 232.5 L469.7 231.2 L469.7 230.0 L469.7 228.7 L469.7 227.3 L469.6 226.0 L469.6 224.7 L469.6 223.5 L469.6 222.3 L469.6 221.3 L469.7 220.4 L469.8 219.5 L469.9 218.7 L470.0 218.0 L470.2 217.3 L470.3 216.7 L470.5 216.2 L470.7 215.7 L470.9 215.2 L471.1 214.7 L471.2 214.4 L471.4 214.1 L471.6 213.8 L471.8 213.5 L472.1 213.3 L472.3 213.0 L472.7 212.7 L473.1 212.4 L473.5 212.1 L473.9 211.8 L474.3 211.6 L474.7 211.4 L475.0 211.3 L475.2 211.2 L475.4 211.2 L475.6 211.2 L476.0 211.2 L476.4 211.3 L476.9 211.4 L477.5 211.5" fill="none" stroke="#c2463c" stroke-width="8.4" stroke-linecap="round" stroke-linejoin="round"/>
<path d="M424.8 226.3 L425.2 226.1 L425.6 226.0 L426.0 226.0 L426.4 226.0 L426.9 226.0 L427.4 226.1 L427.9 226.2 L428.4 226.3 L428.9 226.5 L429.4 226.7 L429.8 227.0 L430.3 227.3 L430.8 227.7 L431.3 228.1 L431.8 228.5 L432.2 229.0 L432.6 229.5 L433.0 229.9 L433.2 230.4 L433.5 231.0 L433.8 231.7 L434.0 232.5 L434.3 233.3 L434.5 234.2 L434.8 235.1 L435.0 236.0 L435.2 236.7 L435.4 237.4 L435.5 238.1 L435.7 238.9 L435.9 239.7 L436.1 240.6 L436.3 241.5 L436.7 242.4 L437.1 243.2 L437.4 243.9 L437.9 244.7 L438.4 245.4 L438.9 246.1 L439.5 246.8 L440.3 247.5 L441.1 248.1 L442.0 248.5 L442.9 248.9 L443.8 249.1 L444.6 249.3 L445.4 249.4 L446.2 249.5 L447.0 249.5 L447.8 249.6 L448.7 249.7 L449.7 249.7 L450.8 249.7 L451.9 249.8 L453.0 249.8 L454.2 249.7 L455.3 249.7 L456.3 249.6 L457.3 249.5 L458.3 249.4 L459.3 249.2 L460.3 249.1 L461.3 248.8 L462.3 248.5 L463.4 248.1 L464.4 247.6 L465.2 247.0 L466.0 246.3 L466.7 245.6 L467.3 244.7 L467.8 243.8 L468.3 242.8 L468.6 241.8 L468.8 240.7 L469.0 239.4 L469.1 238.1 L469.2 236.7 L469.2 235.3 L469.2 233.9 L469.1 232.6 L469.1 231.3 L469.1 230.0 L469.1 228.7 L469.1 227.3 L469.0 226.0 L469.0 224.7 L469.0 223.5 L469.0 222.3 L469.0 221.2 L469.1 220.3 L469.2 219.4 L469.3 218.6 L469.4 217.9 L469.6 217.2 L469.7 216.6 L469.9 216.0 L470.1 215.4 L470.3 214.9 L470.5 214.5 L470.7 214.1 L470.9 213.7 L471.2 213.4 L471.4 213.1 L471.6 212.9 L471.9 212.6 L472.3 212.3 L472.7 212.0 L473.1 211.6 L473.6 211.3 L474.0 211.1 L474.4 210.9 L474.8 210.7 L475.1 210.6 L475.3 210.6 L475.7 210.6" fill="none" stroke="#de7468" stroke-width="2.6" opacity="0.85" filter="url(#b05)" stroke-linecap="round"/>
<path d="M415.5 251.0 L415.5 249.3 L415.5 247.6 L415.5 245.9 L415.4 244.1 L415.4 242.4 L415.4 240.8 L415.5 239.3 L415.5 238.0 L415.6 236.8 L415.6 235.8 L415.7 234.9 L415.8 234.0 L415.9 233.3 L416.1 232.5 L416.3 231.8 L416.5 231.0 L416.8 230.2 L417.1 229.5 L417.4 228.7 L417.7 228.0 L418.1 227.3 L418.5 226.7 L419.0 226.1 L419.5 225.5 L420.1 225.0 L420.7 224.5 L421.4 224.0 L422.1 223.6 L422.8 223.2 L423.5 222.9 L424.3 222.7 L425.0 222.5 L425.7 222.4 L426.5 222.4 L427.3 222.4 L428.0 222.5 L428.8 222.7 L429.6 222.9 L430.3 223.2 L431.0 223.5 L431.7 223.9 L432.4 224.3 L433.1 224.8 L433.7 225.4 L434.4 226.0 L434.9 226.6 L435.5 227.3 L436.0 228.0 L436.4 228.8 L436.8 229.6 L437.2 230.5 L437.5 231.4 L437.7 232.3 L438.0 233.3 L438.3 234.2 L438.5 235.0 L438.7 235.8 L438.9 236.6 L439.1 237.4 L439.2 238.2 L439.4 238.9 L439.5 239.7 L439.7 240.4 L440.0 241.0 L440.3 241.6 L440.6 242.2 L440.9 242.8 L441.3 243.3 L441.7 243.8 L442.1 244.3 L442.5 244.7 L443.0 245.0 L443.5 245.3 L444.0 245.5 L444.6 245.6 L445.2 245.8 L445.8 245.8 L446.5 245.9 L447.2 245.9 L448.0 246.0 L448.9 246.1 L449.8 246.1 L450.8 246.1 L451.9 246.2 L453.0 246.2 L454.0 246.1 L455.1 246.1 L456.0 246.0 L456.9 245.9 L457.8 245.8 L458.7 245.7 L459.6 245.5 L460.4 245.3 L461.2 245.1 L461.9 244.8 L462.5 244.5 L463.0 244.1 L463.5 243.7 L463.9 243.3 L464.3 242.8 L464.6 242.2 L464.9 241.6 L465.1 240.8 L465.3 240.0 L465.5 239.0 L465.5 237.9 L465.6 236.7 L465.6 235.3 L465.6 234.0 L465.5 232.6 L465.5 231.3 L465.5 230.0 L465.5 228.7 L465.5 227.4 L465.4 226.1 L465.4 224.8 L465.4 223.5 L465.4 222.3 L465.4 221.1 L465.5 220.0 L465.6 219.0 L465.7 218.1 L465.9 217.2 L466.1 216.4 L466.3 215.6 L466.5 214.9 L466.7 214.2 L467.0 213.5 L467.3 212.9 L467.6 212.3 L467.9 211.8 L468.3 211.2 L468.7 210.8 L469.1 210.3 L469.5 209.9 L470.0 209.5 L470.5 209.1 L471.1 208.7 L471.7 208.3 L472.3 207.9 L473.0 207.6 L473.6 207.3 L474.3 207.1 L475.0 207.0 L475.7 207.0 L476.5 207.0 L477.2 207.1 L478.0 207.3 L478.8 207.5 L479.5 207.8 L480.3 208.1 L481.0 208.5 L481.7 208.9 L482.4 209.3 L483.0 209.8 L483.7 210.3 L484.3 210.9 L484.9 211.6 L485.5 212.2 L486.0 213.0 L486.5 213.8 L487.0 214.7 L487.5 215.6 L487.9 216.6 L488.3 217.6 L488.7 218.7 L489.1 219.8 L489.5 221.0 L489.9 222.2 L490.2 223.5 L490.4 224.8 L490.7 226.1 L491.0 227.5 L491.3 229.0 L491.6 230.5 L492.0 232.0 L492.4 233.7 L493.0 235.5 L493.5 237.4 L494.1 239.4 L494.6 241.3 L495.1 243.1 L495.6 244.7 L496.0 246.0 L496.3 247.1 L496.6 247.9 L496.7 248.5 L496.9 249.1 L497.0 249.5 L497.2 250.0 L497.3 250.4 L497.5 251.0" fill="none" stroke="#7e261c" stroke-width="1.3"/>
<g mask="url(#mTend)">
<path d="M409.0 118.0 L417.0 150.0 L422.0 165.0 L425.0 178.0 L428.5 192.0 L432.0 205.0 L438.0 228.0 L440.5 240.5 L443.5 243.5 L448.0 244.5 L458.0 244.5 L462.5 243.0 L464.5 239.5 L464.5 222.0 L460.0 209.0 L454.0 194.0 L451.0 178.0 L449.0 165.0 L446.0 150.0 L440.0 118.0Z" fill="url(#gTend)"/>
<path d="M415.2 118 L422.8 150 L430.2 178 Q436.9 212 445.7 243" fill="none" stroke="#cdbabc" stroke-width="0.9" opacity="0.85"/>
<path d="M420.8 118 L428.0 150 L434.9 178 Q441.4 212 449.9 243" fill="none" stroke="#cdbabc" stroke-width="0.9" opacity="0.85"/>
<path d="M426.1 118 L432.9 150 L439.3 178 Q445.6 212 453.9 243" fill="none" stroke="#cdbabc" stroke-width="0.9" opacity="0.85"/>
<path d="M431.3 118 L437.9 150 L443.7 178 Q449.8 212 457.9 243" fill="none" stroke="#cdbabc" stroke-width="0.9" opacity="0.85"/>
<path d="M435.7 118 L441.9 150 L447.4 178 Q453.3 212 461.2 243" fill="none" stroke="#cdbabc" stroke-width="0.9" opacity="0.85"/>
<path d="M409 118 L417 150 L425 178 L428.5 192 L432 205 L438 228 L440.5 240.5" fill="none" stroke="#cdb4b4" stroke-width="1" opacity="0.8"/>
<path d="M440 118 L446 150 L451 178 L454 194 L460 209 L464.5 222 L464.5 239" fill="none" stroke="#cdb4b4" stroke-width="1" opacity="0.8"/>
</g>
</g>
<rect x="265" y="745" width="125" height="55" fill="url(#fadeBottom)"/>
<g font-family="'Liberation Sans', Arial, Helvetica, sans-serif" font-weight="bold" font-size="24.5" fill="#111" letter-spacing="-1.1">
<text x="67.0" y="232.8" >Squamous</text>
<text x="67.5" y="259.0" >Epithelium</text>
<text x="612.0" y="198.0" >Upper</text>
<text x="605.0" y="225.0" >Esophageal</text>
<text x="606.5" y="251.5" >Sphincter</text>
<text x="624.5" y="451.0" font-size="25.2">Columnar</text>
<text x="625.0" y="477.5" font-size="25.2">Epithelium</text>
<text x="624.5" y="504.0" font-size="25.2">Sphinacch</text>
<text x="59.0" y="523.0" >Esophageal</text>
<text x="59.0" y="549.5" >Sphincter</text>
<text x="608.0" y="718.8" font-size="25.8" letter-spacing="-0.8">Stomach</text>
</g>
<line x1="196.5" y1="238.5" x2="426.0" y2="238.5" stroke="#111" stroke-width="2.0"/>
<path d="M435.5 238.5 L426.0 242.1 L426.0 234.9 Z" fill="#111"/>
<line x1="593.0" y1="221.8" x2="450.5" y2="221.8" stroke="#111" stroke-width="2.0"/>
<line x1="593.0" y1="221.8" x2="501.0" y2="281.3" stroke="#111" stroke-width="2.0"/>
<path d="M493.0 286.5 L499.0 278.3 L502.9 284.4 Z" fill="#111"/>
<line x1="617.0" y1="469.8" x2="554.0" y2="469.8" stroke="#111" stroke-width="2.0"/>
<path d="M544.5 469.8 L554.0 466.2 L554.0 473.4 Z" fill="#111"/>
<line x1="196.5" y1="521.5" x2="466.7" y2="579.5" stroke="#111" stroke-width="2.0"/>
<path d="M476.0 581.5 L466.0 583.0 L467.5 576.0 Z" fill="#111"/>
<line x1="599.0" y1="713.0" x2="476.9" y2="653.1" stroke="#111" stroke-width="2.0"/>
<path d="M471.5 650.5 L477.9 651.2 L475.9 655.1 Z" fill="#111"/>
</svg></body></html>
